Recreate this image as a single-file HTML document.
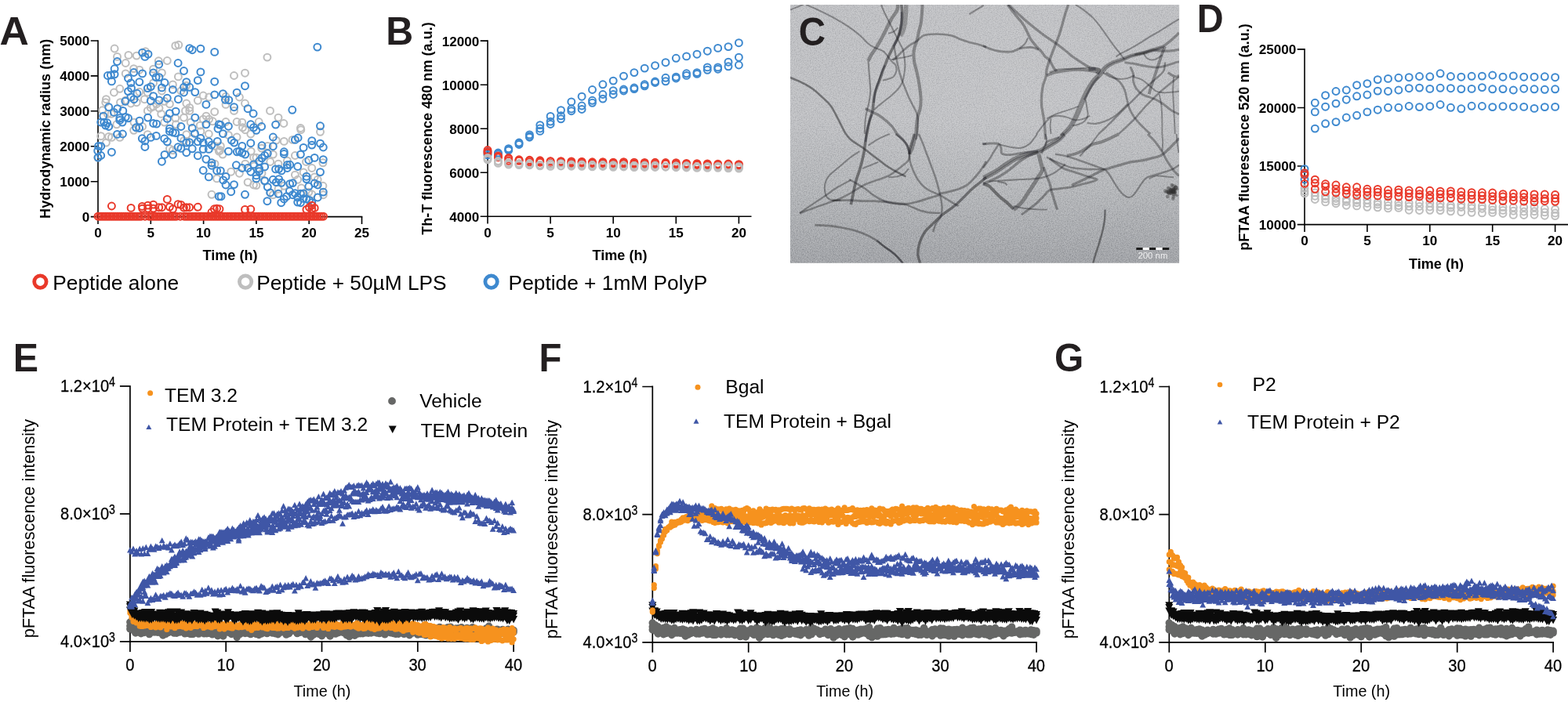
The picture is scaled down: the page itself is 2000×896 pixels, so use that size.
<!DOCTYPE html>
<html lang="en">
<head>
<meta charset="utf-8">
<title>Figure: peptide aggregation kinetics</title>
<style>
html,body{margin:0;padding:0;background:#fff;}
body{width:2000px;height:896px;overflow:hidden;}
svg{display:block;font-family:"Liberation Sans", Arial, Helvetica, sans-serif;}
</style>
</head>
<body>
<svg width="2000" height="896" viewBox="0 0 2000 896">
<rect width="2000" height="896" fill="#fff"/>
<g id="panel-A">
<path d="M125 51.2V285.9" stroke="#000" stroke-width="1.6" fill="none"/><path d="M115.7 276.6H462.3" stroke="#000" stroke-width="1.6" fill="none"/><text x="114.3" y="283" font-size="17.1" font-weight="bold" text-anchor="end">0</text><text x="114.3" y="238.1" font-size="17.1" font-weight="bold" text-anchor="end">1000</text><text x="114.3" y="193.2" font-size="17.1" font-weight="bold" text-anchor="end">2000</text><text x="114.3" y="148.3" font-size="17.1" font-weight="bold" text-anchor="end">3000</text><text x="114.3" y="103.3" font-size="17.1" font-weight="bold" text-anchor="end">4000</text><text x="114.3" y="58.4" font-size="17.1" font-weight="bold" text-anchor="end">5000</text><text x="125" y="303.2" font-size="17.1" font-weight="bold" text-anchor="middle">0</text><text x="192.3" y="303.2" font-size="17.1" font-weight="bold" text-anchor="middle">5</text><text x="259.6" y="303.2" font-size="17.1" font-weight="bold" text-anchor="middle">10</text><text x="326.9" y="303.2" font-size="17.1" font-weight="bold" text-anchor="middle">15</text><text x="394.2" y="303.2" font-size="17.1" font-weight="bold" text-anchor="middle">20</text><text x="461.5" y="303.2" font-size="17.1" font-weight="bold" text-anchor="middle">25</text><path d="M115.7 231.7H125M115.7 186.8H125M115.7 141.8H125M115.7 96.9H125M115.7 52H125M192.3 276.6V285.9M259.6 276.6V285.9M326.9 276.6V285.9M394.2 276.6V285.9M461.5 276.6V285.9" stroke="#000" stroke-width="1.6" fill="none"/><text x="293.5" y="332" font-size="18.1" font-weight="bold" text-anchor="middle">Time (h)</text><text x="64.2" y="164.3" font-size="18.1" font-weight="bold" text-anchor="middle" transform="rotate(-90 64.2 164.3)">Hydrodynamic radius (nm)</text><g fill="none" stroke="#BEBEBE" stroke-width="2.0"><circle cx="146.1" cy="62" r="4.45"/><circle cx="223.8" cy="58.4" r="4.45"/><circle cx="227.8" cy="57.3" r="4.45"/><circle cx="149.5" cy="72.4" r="4.45"/><circle cx="163.9" cy="70.4" r="4.45"/><circle cx="174.2" cy="71.1" r="4.45"/><circle cx="185.6" cy="65.8" r="4.45"/><circle cx="160.2" cy="80.5" r="4.45"/><circle cx="213.3" cy="77.5" r="4.45"/><circle cx="170.6" cy="87.6" r="4.45"/><circle cx="177.8" cy="89.2" r="4.45"/><circle cx="160.2" cy="93.9" r="4.45"/><circle cx="195.6" cy="88.1" r="4.45"/><circle cx="206.4" cy="92.9" r="4.45"/><circle cx="202.3" cy="77.8" r="4.45"/><circle cx="227.4" cy="97.9" r="4.45"/><circle cx="220.4" cy="107.9" r="4.45"/><circle cx="195.6" cy="105.9" r="4.45"/><circle cx="152.8" cy="113.3" r="4.45"/><circle cx="145.4" cy="118" r="4.45"/><circle cx="135.4" cy="126.7" r="4.45"/><circle cx="134.7" cy="130.7" r="4.45"/><circle cx="177.8" cy="117.3" r="4.45"/><circle cx="188.3" cy="118" r="4.45"/><circle cx="206.4" cy="116" r="4.45"/><circle cx="230.9" cy="116" r="4.45"/><circle cx="237.8" cy="109.3" r="4.45"/><circle cx="259.2" cy="122" r="4.45"/><circle cx="266.6" cy="124" r="4.45"/><circle cx="252.3" cy="128.3" r="4.45"/><circle cx="184.3" cy="126.7" r="4.45"/><circle cx="174.2" cy="130.7" r="4.45"/><circle cx="166.9" cy="132" r="4.45"/><circle cx="153.5" cy="130.7" r="4.45"/><circle cx="160.2" cy="128" r="4.45"/><circle cx="216.4" cy="132.7" r="4.45"/><circle cx="209.7" cy="129.3" r="4.45"/><circle cx="199.7" cy="132.7" r="4.45"/><circle cx="192.3" cy="137.4" r="4.45"/><circle cx="203" cy="138.1" r="4.45"/><circle cx="188.3" cy="141.4" r="4.45"/><circle cx="205.7" cy="145.4" r="4.45"/><circle cx="195.6" cy="136" r="4.45"/><circle cx="237.8" cy="132" r="4.45"/><circle cx="241.8" cy="137.4" r="4.45"/><circle cx="241.8" cy="141.4" r="4.45"/><circle cx="236.5" cy="141.4" r="4.45"/><circle cx="273.7" cy="142.7" r="4.45"/><circle cx="234.5" cy="150.1" r="4.45"/><circle cx="223.8" cy="150.8" r="4.45"/><circle cx="263" cy="148.1" r="4.45"/><circle cx="259.2" cy="152.1" r="4.45"/><circle cx="266.6" cy="152.1" r="4.45"/><circle cx="271.3" cy="154.8" r="4.45"/><circle cx="142.1" cy="145.4" r="4.45"/><circle cx="130.7" cy="140.7" r="4.45"/><circle cx="137.4" cy="145.4" r="4.45"/><circle cx="148.8" cy="158.8" r="4.45"/><circle cx="170.9" cy="156.1" r="4.45"/><circle cx="181.6" cy="161.5" r="4.45"/><circle cx="209.7" cy="156.1" r="4.45"/><circle cx="224.4" cy="158.8" r="4.45"/><circle cx="243.2" cy="156.1" r="4.45"/><circle cx="255.2" cy="160.1" r="4.45"/><circle cx="340.9" cy="73.1" r="4.45"/><circle cx="312.5" cy="93.2" r="4.45"/><circle cx="298.5" cy="96.5" r="4.45"/><circle cx="305.4" cy="124" r="4.45"/><circle cx="288" cy="123.3" r="4.45"/><circle cx="312.5" cy="132" r="4.45"/><circle cx="288" cy="133.4" r="4.45"/><circle cx="298.5" cy="141.4" r="4.45"/><circle cx="344.5" cy="141.4" r="4.45"/><circle cx="355" cy="150.1" r="4.45"/><circle cx="361.9" cy="157.5" r="4.45"/><circle cx="330.2" cy="155.5" r="4.45"/><circle cx="302.1" cy="155.5" r="4.45"/><circle cx="308.8" cy="156.1" r="4.45"/><circle cx="288" cy="155.5" r="4.45"/><circle cx="383.4" cy="163.5" r="4.45"/><circle cx="309.5" cy="162.8" r="4.45"/><circle cx="128.7" cy="173.7" r="4.45"/><circle cx="135.4" cy="182.1" r="4.45"/><circle cx="142.4" cy="175.4" r="4.45"/><circle cx="138.7" cy="174.4" r="4.45"/><circle cx="152.8" cy="175.4" r="4.45"/><circle cx="170.6" cy="166.3" r="4.45"/><circle cx="188.3" cy="171.7" r="4.45"/><circle cx="124.7" cy="201.1" r="4.45"/><circle cx="220.4" cy="191.8" r="4.45"/><circle cx="216.4" cy="189.8" r="4.45"/><circle cx="237.8" cy="171.7" r="4.45"/><circle cx="255.9" cy="167.7" r="4.45"/><circle cx="266.3" cy="171" r="4.45"/><circle cx="274" cy="209.2" r="4.45"/><circle cx="276.6" cy="227.9" r="4.45"/><circle cx="270" cy="248.3" r="4.45"/><circle cx="234.5" cy="179.7" r="4.45"/><circle cx="245.2" cy="177" r="4.45"/><circle cx="274" cy="186.4" r="4.45"/><circle cx="279.3" cy="193.1" r="4.45"/><circle cx="291.4" cy="172.4" r="4.45"/><circle cx="302.1" cy="175" r="4.45"/><circle cx="319.8" cy="171" r="4.45"/><circle cx="312.8" cy="165.7" r="4.45"/><circle cx="383.8" cy="165.7" r="4.45"/><circle cx="408.5" cy="168.3" r="4.45"/><circle cx="284" cy="197.1" r="4.45"/><circle cx="320.2" cy="193.1" r="4.45"/><circle cx="326.9" cy="201.1" r="4.45"/><circle cx="323.5" cy="201.1" r="4.45"/><circle cx="348.3" cy="197.1" r="4.45"/><circle cx="344.7" cy="206.5" r="4.45"/><circle cx="362.3" cy="180.4" r="4.45"/><circle cx="352.3" cy="179.1" r="4.45"/><circle cx="376.4" cy="198.5" r="4.45"/><circle cx="373.1" cy="178.4" r="4.45"/><circle cx="390.5" cy="206.5" r="4.45"/><circle cx="397.8" cy="214.5" r="4.45"/><circle cx="411.9" cy="207.8" r="4.45"/><circle cx="294.7" cy="219.2" r="4.45"/><circle cx="305.4" cy="221.2" r="4.45"/><circle cx="316.1" cy="232.6" r="4.45"/><circle cx="323.5" cy="236" r="4.45"/><circle cx="326.9" cy="236.6" r="4.45"/><circle cx="337.6" cy="231.3" r="4.45"/><circle cx="376.4" cy="223.2" r="4.45"/><circle cx="387.1" cy="219.9" r="4.45"/><circle cx="401.2" cy="225.9" r="4.45"/><circle cx="405.2" cy="229.3" r="4.45"/><circle cx="411.9" cy="237.3" r="4.45"/><circle cx="348.3" cy="248.7" r="4.45"/><circle cx="344.9" cy="246" r="4.45"/><circle cx="393.8" cy="245.3" r="4.45"/><circle cx="397.8" cy="248" r="4.45"/><circle cx="412.3" cy="248.7" r="4.45"/><circle cx="355" cy="209.2" r="4.45"/><circle cx="366.4" cy="205.2" r="4.45"/><circle cx="379.7" cy="229.3" r="4.45"/><circle cx="355" cy="241.3" r="4.45"/><circle cx="362.3" cy="237.3" r="4.45"/><circle cx="334" cy="221.2" r="4.45"/><circle cx="333.6" cy="189.1" r="4.45"/><circle cx="341.3" cy="186.4" r="4.45"/><circle cx="281.3" cy="186.4" r="4.45"/><circle cx="280.7" cy="191.8" r="4.45"/><circle cx="312.8" cy="209.2" r="4.45"/><circle cx="384.4" cy="240" r="4.45"/><circle cx="324.2" cy="211.9" r="4.45"/></g><g fill="none" stroke="#3E89CF" stroke-width="2.0"><circle cx="181.6" cy="67.1" r="4.45"/><circle cx="189" cy="69.1" r="4.45"/><circle cx="184.9" cy="72.4" r="4.45"/><circle cx="149.5" cy="78.5" r="4.45"/><circle cx="146.1" cy="87.8" r="4.45"/><circle cx="137.4" cy="96.5" r="4.45"/><circle cx="141.4" cy="95.9" r="4.45"/><circle cx="146.1" cy="94.8" r="4.45"/><circle cx="142.4" cy="103.9" r="4.45"/><circle cx="170.6" cy="92.5" r="4.45"/><circle cx="181.6" cy="93.9" r="4.45"/><circle cx="195.6" cy="92.9" r="4.45"/><circle cx="199" cy="98.6" r="4.45"/><circle cx="203" cy="98.6" r="4.45"/><circle cx="202.7" cy="82.2" r="4.45"/><circle cx="227.1" cy="80.5" r="4.45"/><circle cx="234.5" cy="90.5" r="4.45"/><circle cx="255.9" cy="62.1" r="4.45"/><circle cx="241.8" cy="61.7" r="4.45"/><circle cx="245.2" cy="63.7" r="4.45"/><circle cx="273.7" cy="66.4" r="4.45"/><circle cx="255.9" cy="91.9" r="4.45"/><circle cx="252.3" cy="102.6" r="4.45"/><circle cx="273.7" cy="104.2" r="4.45"/><circle cx="163.5" cy="99.9" r="4.45"/><circle cx="166.9" cy="105.9" r="4.45"/><circle cx="177.8" cy="104.6" r="4.45"/><circle cx="210" cy="105.5" r="4.45"/><circle cx="206.4" cy="111.9" r="4.45"/><circle cx="192.3" cy="110.6" r="4.45"/><circle cx="188.3" cy="112.6" r="4.45"/><circle cx="167.5" cy="112.6" r="4.45"/><circle cx="163.5" cy="116.6" r="4.45"/><circle cx="174.9" cy="119.3" r="4.45"/><circle cx="220.4" cy="114.4" r="4.45"/><circle cx="237.8" cy="104.6" r="4.45"/><circle cx="234.5" cy="111.3" r="4.45"/><circle cx="241.8" cy="111.3" r="4.45"/><circle cx="234.5" cy="118" r="4.45"/><circle cx="248.8" cy="117.6" r="4.45"/><circle cx="273.7" cy="120.9" r="4.45"/><circle cx="195.6" cy="122.7" r="4.45"/><circle cx="166.9" cy="124" r="4.45"/><circle cx="170.9" cy="126.7" r="4.45"/><circle cx="159.8" cy="129.3" r="4.45"/><circle cx="192.3" cy="128.7" r="4.45"/><circle cx="203" cy="128" r="4.45"/><circle cx="213.3" cy="125.3" r="4.45"/><circle cx="227.4" cy="126.7" r="4.45"/><circle cx="262.9" cy="133.4" r="4.45"/><circle cx="138.7" cy="136.7" r="4.45"/><circle cx="149.7" cy="138.7" r="4.45"/><circle cx="145.4" cy="143.4" r="4.45"/><circle cx="156.8" cy="141.4" r="4.45"/><circle cx="131.8" cy="148.1" r="4.45"/><circle cx="152.8" cy="150.8" r="4.45"/><circle cx="156.1" cy="156.1" r="4.45"/><circle cx="160.2" cy="149.4" r="4.45"/><circle cx="163.5" cy="150.8" r="4.45"/><circle cx="152.8" cy="153.4" r="4.45"/><circle cx="128.7" cy="156.1" r="4.45"/><circle cx="132.7" cy="156.1" r="4.45"/><circle cx="136.7" cy="156.8" r="4.45"/><circle cx="134.7" cy="160.1" r="4.45"/><circle cx="138.7" cy="161.5" r="4.45"/><circle cx="178" cy="154.1" r="4.45"/><circle cx="188.6" cy="150.1" r="4.45"/><circle cx="195.6" cy="157.5" r="4.45"/><circle cx="199.7" cy="158.1" r="4.45"/><circle cx="216.4" cy="144.7" r="4.45"/><circle cx="224.2" cy="142.1" r="4.45"/><circle cx="213.3" cy="151.4" r="4.45"/><circle cx="248.8" cy="150.1" r="4.45"/><circle cx="262.9" cy="158.8" r="4.45"/><circle cx="230.9" cy="161.5" r="4.45"/><circle cx="173.6" cy="162.8" r="4.45"/><circle cx="177.6" cy="163.5" r="4.45"/><circle cx="245.2" cy="163.5" r="4.45"/><circle cx="216.4" cy="164.2" r="4.45"/><circle cx="279.3" cy="158.8" r="4.45"/><circle cx="278" cy="164.2" r="4.45"/><circle cx="404.8" cy="60.1" r="4.45"/><circle cx="312.5" cy="109.7" r="4.45"/><circle cx="302.1" cy="118.2" r="4.45"/><circle cx="284.4" cy="119.6" r="4.45"/><circle cx="287.4" cy="127.3" r="4.45"/><circle cx="291.8" cy="127.7" r="4.45"/><circle cx="298.5" cy="136.7" r="4.45"/><circle cx="316.1" cy="138.7" r="4.45"/><circle cx="323.1" cy="145" r="4.45"/><circle cx="372.8" cy="140.3" r="4.45"/><circle cx="351.6" cy="159.1" r="4.45"/><circle cx="319.8" cy="158.8" r="4.45"/><circle cx="323.5" cy="162.8" r="4.45"/><circle cx="333.6" cy="161.5" r="4.45"/><circle cx="291.4" cy="161.2" r="4.45"/><circle cx="281.3" cy="159.5" r="4.45"/><circle cx="408.5" cy="160.8" r="4.45"/><circle cx="149.5" cy="171.4" r="4.45"/><circle cx="156.4" cy="171" r="4.45"/><circle cx="181.3" cy="176.8" r="4.45"/><circle cx="184.9" cy="180" r="4.45"/><circle cx="192.3" cy="175.4" r="4.45"/><circle cx="199.3" cy="173.4" r="4.45"/><circle cx="184.9" cy="187.5" r="4.45"/><circle cx="209.7" cy="177" r="4.45"/><circle cx="213.3" cy="180.8" r="4.45"/><circle cx="142.4" cy="194.2" r="4.45"/><circle cx="125.6" cy="186.4" r="4.45"/><circle cx="128.7" cy="186.7" r="4.45"/><circle cx="124.7" cy="192.4" r="4.45"/><circle cx="128.7" cy="198.5" r="4.45"/><circle cx="125.1" cy="201.1" r="4.45"/><circle cx="210" cy="197.4" r="4.45"/><circle cx="220.4" cy="197.4" r="4.45"/><circle cx="206.4" cy="206.2" r="4.45"/><circle cx="220.4" cy="169" r="4.45"/><circle cx="223.8" cy="169.7" r="4.45"/><circle cx="216.4" cy="167.7" r="4.45"/><circle cx="230.9" cy="176.4" r="4.45"/><circle cx="227.1" cy="187.8" r="4.45"/><circle cx="230.9" cy="189.4" r="4.45"/><circle cx="237.8" cy="182.1" r="4.45"/><circle cx="241.6" cy="181.7" r="4.45"/><circle cx="237.8" cy="194.7" r="4.45"/><circle cx="245.2" cy="189.8" r="4.45"/><circle cx="248.5" cy="170.4" r="4.45"/><circle cx="252.3" cy="180.8" r="4.45"/><circle cx="255.9" cy="176.4" r="4.45"/><circle cx="259.2" cy="190.4" r="4.45"/><circle cx="259.2" cy="182.1" r="4.45"/><circle cx="266.3" cy="180.8" r="4.45"/><circle cx="266.3" cy="190.4" r="4.45"/><circle cx="270" cy="185.1" r="4.45"/><circle cx="252.3" cy="198.7" r="4.45"/><circle cx="262.9" cy="203.2" r="4.45"/><circle cx="270" cy="207.8" r="4.45"/><circle cx="270" cy="211.2" r="4.45"/><circle cx="259.2" cy="217.5" r="4.45"/><circle cx="266.3" cy="225.9" r="4.45"/><circle cx="276.6" cy="217.9" r="4.45"/><circle cx="277.3" cy="180.4" r="4.45"/><circle cx="279.3" cy="250.7" r="4.45"/><circle cx="284.4" cy="170.6" r="4.45"/><circle cx="295.4" cy="179.1" r="4.45"/><circle cx="298.7" cy="182.1" r="4.45"/><circle cx="291.4" cy="193.1" r="4.45"/><circle cx="319.8" cy="182.7" r="4.45"/><circle cx="308.8" cy="186.4" r="4.45"/><circle cx="305.4" cy="193.1" r="4.45"/><circle cx="308.8" cy="195.1" r="4.45"/><circle cx="312.8" cy="197.1" r="4.45"/><circle cx="302.4" cy="193.8" r="4.45"/><circle cx="334" cy="185.8" r="4.45"/><circle cx="348.3" cy="175" r="4.45"/><circle cx="348.3" cy="186.7" r="4.45"/><circle cx="341.3" cy="195.8" r="4.45"/><circle cx="337.6" cy="198.5" r="4.45"/><circle cx="334" cy="201.8" r="4.45"/><circle cx="330.6" cy="205.8" r="4.45"/><circle cx="323.5" cy="209.9" r="4.45"/><circle cx="301.4" cy="210.8" r="4.45"/><circle cx="308.8" cy="214.5" r="4.45"/><circle cx="316.1" cy="214.5" r="4.45"/><circle cx="319.8" cy="219.2" r="4.45"/><circle cx="330.6" cy="215.2" r="4.45"/><circle cx="330.6" cy="218.6" r="4.45"/><circle cx="337.6" cy="212.9" r="4.45"/><circle cx="326.9" cy="223.9" r="4.45"/><circle cx="326.9" cy="227.9" r="4.45"/><circle cx="281.3" cy="217.9" r="4.45"/><circle cx="288" cy="225.5" r="4.45"/><circle cx="284.7" cy="229.9" r="4.45"/><circle cx="288" cy="236" r="4.45"/><circle cx="298.5" cy="235.6" r="4.45"/><circle cx="294.7" cy="244.7" r="4.45"/><circle cx="312.5" cy="248.3" r="4.45"/><circle cx="282" cy="250.7" r="4.45"/><circle cx="337.6" cy="230.6" r="4.45"/><circle cx="341.3" cy="238.6" r="4.45"/><circle cx="344.7" cy="246" r="4.45"/><circle cx="340.9" cy="256.7" r="4.45"/><circle cx="348.3" cy="229.3" r="4.45"/><circle cx="352.3" cy="232.6" r="4.45"/><circle cx="355.6" cy="228.6" r="4.45"/><circle cx="359" cy="233.3" r="4.45"/><circle cx="351.6" cy="215.9" r="4.45"/><circle cx="355.6" cy="215.6" r="4.45"/><circle cx="359" cy="217.9" r="4.45"/><circle cx="355" cy="247.3" r="4.45"/><circle cx="366.4" cy="210.5" r="4.45"/><circle cx="369.7" cy="210.3" r="4.45"/><circle cx="366.4" cy="214.5" r="4.45"/><circle cx="362.3" cy="193.8" r="4.45"/><circle cx="362.3" cy="196.5" r="4.45"/><circle cx="376.4" cy="178.4" r="4.45"/><circle cx="380.1" cy="176" r="4.45"/><circle cx="387.1" cy="188.4" r="4.45"/><circle cx="383.4" cy="197.1" r="4.45"/><circle cx="379.7" cy="212.5" r="4.45"/><circle cx="393.8" cy="204.5" r="4.45"/><circle cx="401.2" cy="201.4" r="4.45"/><circle cx="412.3" cy="203.6" r="4.45"/><circle cx="397.8" cy="179.7" r="4.45"/><circle cx="397.8" cy="185.1" r="4.45"/><circle cx="408.5" cy="183.1" r="4.45"/><circle cx="412.3" cy="188" r="4.45"/><circle cx="408.5" cy="219.6" r="4.45"/><circle cx="390.9" cy="225.2" r="4.45"/><circle cx="390.9" cy="228.6" r="4.45"/><circle cx="393.8" cy="238" r="4.45"/><circle cx="401.2" cy="234" r="4.45"/><circle cx="405.2" cy="236" r="4.45"/><circle cx="369.7" cy="234.6" r="4.45"/><circle cx="373.3" cy="233.6" r="4.45"/><circle cx="369.4" cy="244" r="4.45"/><circle cx="373.3" cy="248.7" r="4.45"/><circle cx="376.4" cy="246.7" r="4.45"/><circle cx="383.4" cy="247.3" r="4.45"/><circle cx="387.1" cy="246.9" r="4.45"/><circle cx="365.7" cy="250.7" r="4.45"/><circle cx="362.3" cy="254" r="4.45"/><circle cx="358.7" cy="258.7" r="4.45"/><circle cx="379.7" cy="252" r="4.45"/><circle cx="379.7" cy="258.1" r="4.45"/><circle cx="383.4" cy="258.7" r="4.45"/><circle cx="387.1" cy="253.4" r="4.45"/><circle cx="390.9" cy="254" r="4.45"/><circle cx="394.5" cy="255.4" r="4.45"/><circle cx="397.8" cy="258.7" r="4.45"/><circle cx="405.2" cy="252" r="4.45"/><circle cx="412.3" cy="245.1" r="4.45"/><circle cx="326.9" cy="166.3" r="4.45"/></g><g fill="none" stroke="#E9392A" stroke-width="2.0"><circle cx="125" cy="276.2" r="4.45"/><circle cx="127.5" cy="276.2" r="4.45"/><circle cx="130" cy="276.2" r="4.45"/><circle cx="132.5" cy="276.2" r="4.45"/><circle cx="135" cy="276.2" r="4.45"/><circle cx="137.5" cy="276.2" r="4.45"/><circle cx="140" cy="276.2" r="4.45"/><circle cx="142.5" cy="276.2" r="4.45"/><circle cx="145" cy="276.2" r="4.45"/><circle cx="147.5" cy="276.2" r="4.45"/><circle cx="150" cy="276.2" r="4.45"/><circle cx="152.5" cy="276.2" r="4.45"/><circle cx="155" cy="276.2" r="4.45"/><circle cx="157.5" cy="276.2" r="4.45"/><circle cx="160" cy="276.2" r="4.45"/><circle cx="162.5" cy="276.2" r="4.45"/><circle cx="165" cy="276.2" r="4.45"/><circle cx="167.5" cy="276.2" r="4.45"/><circle cx="170" cy="276.2" r="4.45"/><circle cx="172.5" cy="276.2" r="4.45"/><circle cx="175" cy="276.2" r="4.45"/><circle cx="177.5" cy="276.2" r="4.45"/><circle cx="180" cy="276.2" r="4.45"/><circle cx="185" cy="276.2" r="4.45"/><circle cx="190" cy="276.2" r="4.45"/><circle cx="192.5" cy="276.2" r="4.45"/><circle cx="195" cy="276.2" r="4.45"/><circle cx="197.5" cy="276.2" r="4.45"/><circle cx="200" cy="276.2" r="4.45"/><circle cx="202.5" cy="276.2" r="4.45"/><circle cx="205" cy="276.2" r="4.45"/><circle cx="207.5" cy="276.2" r="4.45"/><circle cx="210" cy="276.2" r="4.45"/><circle cx="212.5" cy="276.2" r="4.45"/><circle cx="215" cy="276.2" r="4.45"/><circle cx="217.5" cy="276.2" r="4.45"/><circle cx="220" cy="276.2" r="4.45"/><circle cx="222.5" cy="276.2" r="4.45"/><circle cx="225" cy="276.2" r="4.45"/><circle cx="230" cy="276.2" r="4.45"/><circle cx="235" cy="276.2" r="4.45"/><circle cx="237.5" cy="276.2" r="4.45"/><circle cx="240" cy="276.2" r="4.45"/><circle cx="242.5" cy="276.2" r="4.45"/><circle cx="245" cy="276.2" r="4.45"/><circle cx="247.5" cy="276.2" r="4.45"/><circle cx="250" cy="276.2" r="4.45"/><circle cx="252.5" cy="276.2" r="4.45"/><circle cx="255" cy="276.2" r="4.45"/><circle cx="257.5" cy="276.2" r="4.45"/><circle cx="260" cy="276.2" r="4.45"/><circle cx="262.5" cy="276.2" r="4.45"/><circle cx="265" cy="276.2" r="4.45"/><circle cx="267.5" cy="276.2" r="4.45"/><circle cx="270" cy="276.2" r="4.45"/><circle cx="272.5" cy="276.2" r="4.45"/><circle cx="275" cy="276.2" r="4.45"/><circle cx="277.5" cy="276.2" r="4.45"/><circle cx="280" cy="276.2" r="4.45"/><circle cx="282.5" cy="276.2" r="4.45"/><circle cx="285" cy="276.2" r="4.45"/><circle cx="287.5" cy="276.2" r="4.45"/><circle cx="290" cy="276.2" r="4.45"/><circle cx="292.5" cy="276.2" r="4.45"/><circle cx="295" cy="276.2" r="4.45"/><circle cx="297.5" cy="276.2" r="4.45"/><circle cx="300" cy="276.2" r="4.45"/><circle cx="302.5" cy="276.2" r="4.45"/><circle cx="305" cy="276.2" r="4.45"/><circle cx="307.5" cy="276.2" r="4.45"/><circle cx="310" cy="276.2" r="4.45"/><circle cx="312.5" cy="276.2" r="4.45"/><circle cx="315" cy="276.2" r="4.45"/><circle cx="317.5" cy="276.2" r="4.45"/><circle cx="320" cy="276.2" r="4.45"/><circle cx="322.5" cy="276.2" r="4.45"/><circle cx="325" cy="276.2" r="4.45"/><circle cx="327.5" cy="276.2" r="4.45"/><circle cx="330" cy="276.2" r="4.45"/><circle cx="332.5" cy="276.2" r="4.45"/><circle cx="335" cy="276.2" r="4.45"/><circle cx="337.5" cy="276.2" r="4.45"/><circle cx="340" cy="276.2" r="4.45"/><circle cx="342.5" cy="276.2" r="4.45"/><circle cx="345" cy="276.2" r="4.45"/><circle cx="347.5" cy="276.2" r="4.45"/><circle cx="350" cy="276.2" r="4.45"/><circle cx="352.5" cy="276.2" r="4.45"/><circle cx="355" cy="276.2" r="4.45"/><circle cx="357.5" cy="276.2" r="4.45"/><circle cx="360" cy="276.2" r="4.45"/><circle cx="362.5" cy="276.2" r="4.45"/><circle cx="365" cy="276.2" r="4.45"/><circle cx="367.5" cy="276.2" r="4.45"/><circle cx="370" cy="276.2" r="4.45"/><circle cx="372.5" cy="276.2" r="4.45"/><circle cx="375" cy="276.2" r="4.45"/><circle cx="377.5" cy="276.2" r="4.45"/><circle cx="380" cy="276.2" r="4.45"/><circle cx="382.5" cy="276.2" r="4.45"/><circle cx="385" cy="276.2" r="4.45"/><circle cx="387.5" cy="276.2" r="4.45"/><circle cx="390" cy="276.2" r="4.45"/><circle cx="392.5" cy="276.2" r="4.45"/><circle cx="395" cy="276.2" r="4.45"/><circle cx="397.5" cy="276.2" r="4.45"/><circle cx="400" cy="276.2" r="4.45"/><circle cx="402.5" cy="276.2" r="4.45"/><circle cx="405" cy="276.2" r="4.45"/><circle cx="407.5" cy="276.2" r="4.45"/><circle cx="410" cy="276.2" r="4.45"/><circle cx="412.5" cy="276.2" r="4.45"/><circle cx="142.4" cy="263" r="4.45"/><circle cx="167.1" cy="265.4" r="4.45"/><circle cx="181.3" cy="263.4" r="4.45"/><circle cx="181.6" cy="266.1" r="4.45"/><circle cx="188.6" cy="262.1" r="4.45"/><circle cx="188.6" cy="266.1" r="4.45"/><circle cx="195.6" cy="261.1" r="4.45"/><circle cx="195.6" cy="266.1" r="4.45"/><circle cx="202.7" cy="264.7" r="4.45"/><circle cx="206.4" cy="264.7" r="4.45"/><circle cx="213.3" cy="254.4" r="4.45"/><circle cx="216.4" cy="264.1" r="4.45"/><circle cx="220.4" cy="266.8" r="4.45"/><circle cx="227.1" cy="260.7" r="4.45"/><circle cx="230.9" cy="261.4" r="4.45"/><circle cx="234.5" cy="265.1" r="4.45"/><circle cx="237.8" cy="264.7" r="4.45"/><circle cx="241.6" cy="264.7" r="4.45"/><circle cx="252.3" cy="264.3" r="4.45"/><circle cx="273.3" cy="266.8" r="4.45"/><circle cx="276.6" cy="266.1" r="4.45"/><circle cx="270" cy="270.8" r="4.45"/><circle cx="312.5" cy="267.4" r="4.45"/><circle cx="319.8" cy="267" r="4.45"/><circle cx="280" cy="266.8" r="4.45"/><circle cx="390.9" cy="267.4" r="4.45"/><circle cx="394.5" cy="264.7" r="4.45"/><circle cx="397.8" cy="262.1" r="4.45"/><circle cx="397.8" cy="266.8" r="4.45"/><circle cx="401.2" cy="265.4" r="4.45"/></g><text transform="translate(-0.6 56.9) scale(1.03 1)" font-size="50.2" font-weight="bold" fill="#231F20">A</text>
</g>
<g id="panel-B">
<path d="M622 51.3V285.6" stroke="#000" stroke-width="1.6" fill="none"/><path d="M612.7 276.3H958.5" stroke="#000" stroke-width="1.6" fill="none"/><text x="611.3" y="282.7" font-size="17.1" font-weight="bold" text-anchor="end">4000</text><text x="611.3" y="226.7" font-size="17.1" font-weight="bold" text-anchor="end">6000</text><text x="611.3" y="170.6" font-size="17.1" font-weight="bold" text-anchor="end">8000</text><text x="611.3" y="114.6" font-size="17.1" font-weight="bold" text-anchor="end">10000</text><text x="611.3" y="58.6" font-size="17.1" font-weight="bold" text-anchor="end">12000</text><text x="622" y="302.9" font-size="17.1" font-weight="bold" text-anchor="middle">0</text><text x="702.1" y="302.9" font-size="17.1" font-weight="bold" text-anchor="middle">5</text><text x="782.2" y="302.9" font-size="17.1" font-weight="bold" text-anchor="middle">10</text><text x="862.3" y="302.9" font-size="17.1" font-weight="bold" text-anchor="middle">15</text><text x="942.4" y="302.9" font-size="17.1" font-weight="bold" text-anchor="middle">20</text><path d="M612.7 220.3H622M612.7 164.2H622M612.7 108.2H622M612.7 52.1H622M702.1 276.3V285.6M782.2 276.3V285.6M862.3 276.3V285.6M942.4 276.3V285.6" stroke="#000" stroke-width="1.6" fill="none"/><text x="790.5" y="332" font-size="18.1" font-weight="bold" text-anchor="middle">Time (h)</text><text x="551" y="164" font-size="18.1" font-weight="bold" text-anchor="middle" transform="rotate(-90 551 164)">Th-T fluorescence 480 nm (a.u.)</text><g fill="none" stroke="#3E89CF" stroke-width="2.0"><circle cx="622" cy="193.5" r="4.45"/><circle cx="635.4" cy="195" r="4.45"/><circle cx="648.7" cy="189.7" r="4.45"/><circle cx="662" cy="182" r="4.45"/><circle cx="675.4" cy="171.9" r="4.45"/><circle cx="688.8" cy="159.6" r="4.45"/><circle cx="702.1" cy="148.4" r="4.45"/><circle cx="715.5" cy="140.6" r="4.45"/><circle cx="728.8" cy="129.9" r="4.45"/><circle cx="742.1" cy="123.2" r="4.45"/><circle cx="755.5" cy="114.5" r="4.45"/><circle cx="768.9" cy="107.8" r="4.45"/><circle cx="782.2" cy="103.1" r="4.45"/><circle cx="795.5" cy="97.1" r="4.45"/><circle cx="808.9" cy="92.6" r="4.45"/><circle cx="822.2" cy="87.1" r="4.45"/><circle cx="835.6" cy="83.7" r="4.45"/><circle cx="849" cy="79.7" r="4.45"/><circle cx="862.3" cy="74.3" r="4.45"/><circle cx="875.6" cy="71.9" r="4.45"/><circle cx="889" cy="69.2" r="4.45"/><circle cx="902.3" cy="65.2" r="4.45"/><circle cx="915.7" cy="61.4" r="4.45"/><circle cx="929" cy="59.6" r="4.45"/><circle cx="942.4" cy="54.7" r="4.45"/><circle cx="622" cy="196" r="4.45"/><circle cx="635.4" cy="196" r="4.45"/><circle cx="648.7" cy="191" r="4.45"/><circle cx="662" cy="183" r="4.45"/><circle cx="675.4" cy="174" r="4.45"/><circle cx="688.8" cy="164" r="4.45"/><circle cx="702.1" cy="155.1" r="4.45"/><circle cx="715.5" cy="147.8" r="4.45"/><circle cx="728.8" cy="139" r="4.45"/><circle cx="742.1" cy="135" r="4.45"/><circle cx="755.5" cy="128.3" r="4.45"/><circle cx="768.9" cy="120.5" r="4.45"/><circle cx="782.2" cy="115.6" r="4.45"/><circle cx="795.5" cy="114" r="4.45"/><circle cx="808.9" cy="112" r="4.45"/><circle cx="822.2" cy="107.8" r="4.45"/><circle cx="835.6" cy="104" r="4.45"/><circle cx="849" cy="99.3" r="4.45"/><circle cx="862.3" cy="98.2" r="4.45"/><circle cx="875.6" cy="93.8" r="4.45"/><circle cx="889" cy="92.6" r="4.45"/><circle cx="902.3" cy="85.9" r="4.45"/><circle cx="915.7" cy="85.9" r="4.45"/><circle cx="929" cy="79.2" r="4.45"/><circle cx="942.4" cy="73.2" r="4.45"/><circle cx="622" cy="198" r="4.45"/><circle cx="635.4" cy="197" r="4.45"/><circle cx="648.7" cy="192" r="4.45"/><circle cx="662" cy="184.5" r="4.45"/><circle cx="675.4" cy="175.2" r="4.45"/><circle cx="688.8" cy="167.4" r="4.45"/><circle cx="702.1" cy="158.5" r="4.45"/><circle cx="715.5" cy="151.8" r="4.45"/><circle cx="728.8" cy="141.7" r="4.45"/><circle cx="742.1" cy="139.5" r="4.45"/><circle cx="755.5" cy="131.3" r="4.45"/><circle cx="768.9" cy="126.1" r="4.45"/><circle cx="782.2" cy="120.5" r="4.45"/><circle cx="795.5" cy="116" r="4.45"/><circle cx="808.9" cy="113.6" r="4.45"/><circle cx="822.2" cy="109.8" r="4.45"/><circle cx="835.6" cy="105.5" r="4.45"/><circle cx="849" cy="103.8" r="4.45"/><circle cx="862.3" cy="100" r="4.45"/><circle cx="875.6" cy="96.4" r="4.45"/><circle cx="889" cy="94.4" r="4.45"/><circle cx="902.3" cy="89.3" r="4.45"/><circle cx="915.7" cy="88.2" r="4.45"/><circle cx="929" cy="84.8" r="4.45"/><circle cx="942.4" cy="83" r="4.45"/></g><g fill="none" stroke="#E9392A" stroke-width="2.0"><circle cx="622" cy="191.5" r="4.45"/><circle cx="635.4" cy="198.9" r="4.45"/><circle cx="648.7" cy="201.5" r="4.45"/><circle cx="662" cy="203.8" r="4.45"/><circle cx="675.4" cy="204.3" r="4.45"/><circle cx="688.8" cy="204.8" r="4.45"/><circle cx="702.1" cy="206" r="4.45"/><circle cx="715.5" cy="205.7" r="4.45"/><circle cx="728.8" cy="205.9" r="4.45"/><circle cx="742.1" cy="206.4" r="4.45"/><circle cx="755.5" cy="206.8" r="4.45"/><circle cx="768.9" cy="206.6" r="4.45"/><circle cx="782.2" cy="207.1" r="4.45"/><circle cx="795.5" cy="206.7" r="4.45"/><circle cx="808.9" cy="207.2" r="4.45"/><circle cx="822.2" cy="207.4" r="4.45"/><circle cx="835.6" cy="207.3" r="4.45"/><circle cx="849" cy="207.5" r="4.45"/><circle cx="862.3" cy="207.7" r="4.45"/><circle cx="875.6" cy="208.4" r="4.45"/><circle cx="889" cy="208.7" r="4.45"/><circle cx="902.3" cy="208.9" r="4.45"/><circle cx="915.7" cy="209.2" r="4.45"/><circle cx="929" cy="209" r="4.45"/><circle cx="942.4" cy="209.7" r="4.45"/><circle cx="622" cy="193.6" r="4.45"/><circle cx="635.4" cy="200.3" r="4.45"/><circle cx="648.7" cy="202.9" r="4.45"/><circle cx="662" cy="204.6" r="4.45"/><circle cx="675.4" cy="204.9" r="4.45"/><circle cx="688.8" cy="206" r="4.45"/><circle cx="702.1" cy="205.7" r="4.45"/><circle cx="715.5" cy="206.3" r="4.45"/><circle cx="728.8" cy="207.4" r="4.45"/><circle cx="742.1" cy="206.5" r="4.45"/><circle cx="755.5" cy="207.8" r="4.45"/><circle cx="768.9" cy="207.8" r="4.45"/><circle cx="782.2" cy="207.8" r="4.45"/><circle cx="795.5" cy="208.3" r="4.45"/><circle cx="808.9" cy="208.6" r="4.45"/><circle cx="822.2" cy="209" r="4.45"/><circle cx="835.6" cy="208.8" r="4.45"/><circle cx="849" cy="208.8" r="4.45"/><circle cx="862.3" cy="209.1" r="4.45"/><circle cx="875.6" cy="209.2" r="4.45"/><circle cx="889" cy="209.7" r="4.45"/><circle cx="902.3" cy="209.7" r="4.45"/><circle cx="915.7" cy="210.5" r="4.45"/><circle cx="929" cy="209.7" r="4.45"/><circle cx="942.4" cy="210.2" r="4.45"/><circle cx="622" cy="195.2" r="4.45"/><circle cx="635.4" cy="200.9" r="4.45"/><circle cx="648.7" cy="205.3" r="4.45"/><circle cx="662" cy="205.3" r="4.45"/><circle cx="675.4" cy="206.8" r="4.45"/><circle cx="688.8" cy="207.2" r="4.45"/><circle cx="702.1" cy="208.3" r="4.45"/><circle cx="715.5" cy="207.3" r="4.45"/><circle cx="728.8" cy="208.6" r="4.45"/><circle cx="742.1" cy="208.2" r="4.45"/><circle cx="755.5" cy="208.6" r="4.45"/><circle cx="768.9" cy="208.6" r="4.45"/><circle cx="782.2" cy="209.3" r="4.45"/><circle cx="795.5" cy="208.9" r="4.45"/><circle cx="808.9" cy="209.4" r="4.45"/><circle cx="822.2" cy="209.8" r="4.45"/><circle cx="835.6" cy="210.5" r="4.45"/><circle cx="849" cy="209.2" r="4.45"/><circle cx="862.3" cy="210.8" r="4.45"/><circle cx="875.6" cy="210.8" r="4.45"/><circle cx="889" cy="210.5" r="4.45"/><circle cx="902.3" cy="211" r="4.45"/><circle cx="915.7" cy="210.9" r="4.45"/><circle cx="929" cy="211.9" r="4.45"/><circle cx="942.4" cy="211.6" r="4.45"/></g><g fill="none" stroke="#BEBEBE" stroke-width="2.0"><circle cx="622" cy="201.4" r="4.45"/><circle cx="635.4" cy="205.5" r="4.45"/><circle cx="648.7" cy="207.5" r="4.45"/><circle cx="662" cy="208.5" r="4.45"/><circle cx="675.4" cy="208.8" r="4.45"/><circle cx="688.8" cy="210.2" r="4.45"/><circle cx="702.1" cy="209" r="4.45"/><circle cx="715.5" cy="208.6" r="4.45"/><circle cx="728.8" cy="210" r="4.45"/><circle cx="742.1" cy="210.2" r="4.45"/><circle cx="755.5" cy="210.5" r="4.45"/><circle cx="768.9" cy="210.5" r="4.45"/><circle cx="782.2" cy="210.6" r="4.45"/><circle cx="795.5" cy="211" r="4.45"/><circle cx="808.9" cy="211.4" r="4.45"/><circle cx="822.2" cy="211" r="4.45"/><circle cx="835.6" cy="211.2" r="4.45"/><circle cx="849" cy="212.2" r="4.45"/><circle cx="862.3" cy="211.8" r="4.45"/><circle cx="875.6" cy="211.5" r="4.45"/><circle cx="889" cy="212.8" r="4.45"/><circle cx="902.3" cy="212.4" r="4.45"/><circle cx="915.7" cy="212.1" r="4.45"/><circle cx="929" cy="212" r="4.45"/><circle cx="942.4" cy="212.7" r="4.45"/><circle cx="622" cy="202.7" r="4.45"/><circle cx="635.4" cy="206.5" r="4.45"/><circle cx="648.7" cy="208.4" r="4.45"/><circle cx="662" cy="209.6" r="4.45"/><circle cx="675.4" cy="210.7" r="4.45"/><circle cx="688.8" cy="210.5" r="4.45"/><circle cx="702.1" cy="210.3" r="4.45"/><circle cx="715.5" cy="211.3" r="4.45"/><circle cx="728.8" cy="211.2" r="4.45"/><circle cx="742.1" cy="211.7" r="4.45"/><circle cx="755.5" cy="212" r="4.45"/><circle cx="768.9" cy="211.6" r="4.45"/><circle cx="782.2" cy="211.8" r="4.45"/><circle cx="795.5" cy="212" r="4.45"/><circle cx="808.9" cy="211.8" r="4.45"/><circle cx="822.2" cy="212.5" r="4.45"/><circle cx="835.6" cy="212.9" r="4.45"/><circle cx="849" cy="212.7" r="4.45"/><circle cx="862.3" cy="212.7" r="4.45"/><circle cx="875.6" cy="212.8" r="4.45"/><circle cx="889" cy="212.8" r="4.45"/><circle cx="902.3" cy="213" r="4.45"/><circle cx="915.7" cy="213.3" r="4.45"/><circle cx="929" cy="213.3" r="4.45"/><circle cx="942.4" cy="213.5" r="4.45"/><circle cx="622" cy="203.9" r="4.45"/><circle cx="635.4" cy="208.4" r="4.45"/><circle cx="648.7" cy="210.1" r="4.45"/><circle cx="662" cy="210.6" r="4.45"/><circle cx="675.4" cy="210.7" r="4.45"/><circle cx="688.8" cy="211.8" r="4.45"/><circle cx="702.1" cy="212.4" r="4.45"/><circle cx="715.5" cy="212" r="4.45"/><circle cx="728.8" cy="212.2" r="4.45"/><circle cx="742.1" cy="212.3" r="4.45"/><circle cx="755.5" cy="212.9" r="4.45"/><circle cx="768.9" cy="212.5" r="4.45"/><circle cx="782.2" cy="213.3" r="4.45"/><circle cx="795.5" cy="213" r="4.45"/><circle cx="808.9" cy="213.6" r="4.45"/><circle cx="822.2" cy="213.5" r="4.45"/><circle cx="835.6" cy="213.5" r="4.45"/><circle cx="849" cy="213.2" r="4.45"/><circle cx="862.3" cy="213.7" r="4.45"/><circle cx="875.6" cy="214" r="4.45"/><circle cx="889" cy="214.4" r="4.45"/><circle cx="902.3" cy="214.4" r="4.45"/><circle cx="915.7" cy="214.3" r="4.45"/><circle cx="929" cy="214.8" r="4.45"/><circle cx="942.4" cy="215.1" r="4.45"/></g><text transform="translate(492.3 57.2) scale(0.955 1)" font-size="50.6" font-weight="bold" fill="#231F20">B</text>
</g>
<g id="panel-C">
<defs><clipPath id="temclip"><rect x="1008" y="6" width="496.1" height="329.8"/></clipPath><linearGradient id="tembg" x1="0" y1="0" x2="0" y2="1"><stop offset="0" stop-color="#C0C1C4"/><stop offset="0.45" stop-color="#C0C1C4"/><stop offset="0.72" stop-color="#B4B6B9"/><stop offset="1" stop-color="#A3A5A9"/></linearGradient><radialGradient id="temhi" gradientUnits="userSpaceOnUse" cx="1300" cy="120" r="230"><stop offset="0" stop-color="#fff" stop-opacity="0.05"/><stop offset="1" stop-color="#fff" stop-opacity="0"/></radialGradient><filter id="grain" x="0" y="0" width="100%" height="100%" color-interpolation-filters="sRGB"><feTurbulence type="fractalNoise" baseFrequency="0.75" numOctaves="2" seed="4" result="n"/><feColorMatrix in="n" type="matrix" values="0.9 0 0 0 0.05  0.9 0 0 0 0.05  0.9 0 0 0 0.05  0 0 0 0 1"/><feGaussianBlur stdDeviation="0.35"/></filter><filter id="soft" x="-5%" y="-5%" width="110%" height="110%"><feGaussianBlur stdDeviation="0.45"/></filter></defs><g clip-path="url(#temclip)" style="isolation:isolate"><rect x="1008" y="6" width="496.1" height="329.8" fill="url(#tembg)"/><rect x="1008" y="6" width="496.1" height="329.8" fill="url(#temhi)"/><rect x="1008" y="6" width="496.1" height="329.8" filter="url(#grain)" style="mix-blend-mode:soft-light" opacity="0.8"/><g fill="none" stroke="#202024" stroke-linecap="butt" stroke-linejoin="round" filter="url(#soft)"><path d="M1028.3 6C1031 7.2 1039 10.6 1044.8 13.4C1050.6 16.1 1057.1 19.2 1063.2 22.6C1069.4 25.9 1076.1 29.9 1081.6 33.6C1087.2 37.3 1092.1 41 1096.4 44.7C1100.7 48.3 1104 52.9 1107.4 55.7C1110.8 58.5 1113.5 59.7 1116.6 61.2C1119.7 62.8 1123.4 63.4 1125.8 64.9C1128.3 66.4 1129.5 68.3 1131.3 70.4C1133.2 72.6 1135 75.6 1136.9 77.8C1138.7 79.9 1141.3 81.2 1142.4 83.3C1143.5 85.5 1143.8 88.2 1143.3 90.7C1142.8 93.1 1141.3 96.4 1139.6 98C1137.9 99.7 1135.5 100 1133.2 100.8C1130.9 101.6 1127 102.3 1125.8 102.6" stroke-width="2" stroke-opacity="0.4"/><path d="M1008 12.4C1009.5 11.8 1014.4 9.8 1017.2 8.8C1020 7.7 1023.3 6.5 1024.6 6" stroke-width="1.9" stroke-opacity="0.4"/><path d="M1008 99C1010.5 100 1018.1 103.1 1022.7 105.4C1027.3 107.7 1031.3 109.7 1035.6 112.8C1039.9 115.8 1044.5 120.1 1048.5 123.8C1052.5 127.5 1056.5 130.9 1059.5 134.9C1062.6 138.9 1064.5 143.2 1066.9 147.8C1069.4 152.4 1072.3 158.6 1074.3 162.5C1076.3 166.3 1077 168.3 1078.9 170.9C1080.7 173.6 1082.7 176 1085.3 178.3C1087.9 180.6 1091.8 182.9 1094.5 184.8C1097.3 186.6 1099.1 187.4 1101.9 189.4C1104.6 191.4 1107.7 194.1 1111.1 196.7C1114.5 199.3 1118.5 202.2 1122.1 205C1125.8 207.8 1129.5 210.8 1133.2 213.3C1136.9 215.7 1140.5 217.7 1144.2 219.7C1147.9 221.7 1153.4 224.3 1155.3 225.3" stroke-width="2.5" stroke-opacity="0.5"/><path d="M1145.2 6C1145 7.2 1145.6 10.3 1144.2 13.4C1142.8 16.4 1139 20.7 1136.9 24.4C1134.7 28.1 1133.2 31.8 1131.3 35.5C1129.5 39.1 1128 42.5 1125.8 46.5C1123.7 50.5 1120.9 55.4 1118.5 59.4C1116 63.4 1112.9 67.4 1111.1 70.4C1109.3 73.5 1108 76.6 1107.4 77.8" stroke-width="4.5" stroke-opacity="0.4"/><path d="M1107.4 77.8C1107.6 79.6 1108 84.9 1108.3 88.8C1108.6 92.8 1108.9 97.1 1109.3 101.7C1109.6 106.3 1110.3 111.5 1110.2 116.5C1110 121.4 1109.1 126.9 1108.3 131.2C1107.6 135.5 1106.3 138.5 1105.6 142.2C1104.8 145.9 1104.2 148.5 1103.7 153.3C1103.3 158.1 1103 168 1102.8 170.9" stroke-width="2.1" stroke-opacity="0.4"/><path d="M1149.8 6C1149.9 7.8 1150.7 13.1 1150.7 17C1150.7 21 1150.4 25.6 1149.8 29.9C1149.1 34.2 1147.9 39.4 1147 42.8C1146.1 46.2 1145.6 47.1 1144.2 50.2C1142.8 53.3 1140.5 57.5 1138.7 61.2C1136.9 64.9 1134.7 68.9 1133.2 72.3C1131.6 75.6 1130.7 78.4 1129.5 81.5C1128.3 84.5 1127 87.3 1125.8 90.7C1124.6 94.1 1123.4 98.4 1122.1 101.7C1120.9 105.1 1119.5 107.9 1118.5 110.9C1117.4 114 1116.5 116.5 1115.7 120.1C1114.9 123.8 1114.3 129.3 1113.9 133C1113.4 136.7 1113.7 138.9 1112.9 142.2C1112.2 145.6 1110.5 148.5 1109.3 153.3C1108 158.1 1106.5 166.2 1105.6 170.9C1104.6 175.7 1104.3 178 1103.7 182C1103.1 186 1102.6 190.9 1101.9 194.9C1101.2 198.9 1100.4 202.2 1099.5 205.9C1098.6 209.6 1097.5 213.3 1096.4 217C1095.2 220.7 1093.8 224.3 1092.7 228C1091.6 231.7 1090.7 235.7 1089.9 239.1C1089.2 242.4 1088.8 244.6 1088.1 248.3C1087.3 251.9 1085.8 259 1085.3 261.2" stroke-width="3.6" stroke-opacity="0.5"/><path d="M1150.1 15.2C1150.1 17.7 1150.4 25.3 1149.9 29.9C1149.4 34.5 1148.1 39.4 1147.2 42.8C1146.3 46.2 1145.6 47.4 1144.4 50.2C1143.2 52.9 1140.6 57.9 1139.8 59.4" stroke-width="2.6" stroke-opacity="0.4"/><path d="M1128.6 83.3C1127.8 85.2 1125.4 90.5 1124 94.4C1122.5 98.2 1121.2 102.6 1119.9 106.3C1118.7 110 1117.5 112.3 1116.6 116.5C1115.7 120.6 1114.8 128.7 1114.4 131.2" stroke-width="2.1" stroke-opacity="0.4"/><path d="M1112 145.9C1111.5 147.4 1110 151.4 1108.9 155.1C1107.8 158.8 1106.4 163.7 1105.6 168C1104.8 172.3 1104.3 178.7 1104.1 180.9" stroke-width="2.4" stroke-opacity="0.4"/><path d="M1155.8 6C1155.7 7.8 1155.6 13.1 1155.3 17C1155 21 1154.8 26.1 1154.2 29.9C1153.6 33.8 1152.6 37.4 1151.6 40.1C1150.6 42.7 1148.8 44.7 1148.3 45.6" stroke-width="5.7" stroke-opacity="0.3"/><path d="M1176.4 6C1176.4 7.8 1176.2 13.1 1175.9 17C1175.6 21 1175.3 25.9 1174.6 29.9C1173.9 33.9 1172.6 37.6 1171.8 41C1171.1 44.4 1170.9 46.8 1170 50.2C1169.1 53.6 1167.1 58.2 1166.3 61.2C1165.6 64.3 1165.4 65.5 1165.4 68.6C1165.4 71.7 1165.7 76 1166.3 79.6C1166.9 83.3 1168.2 86.7 1169.1 90.7C1170 94.7 1171.1 99.3 1171.8 103.6C1172.6 107.9 1173.2 112.5 1173.7 116.5C1174.1 120.4 1174.6 123.8 1174.6 127.5C1174.6 131.2 1174.3 135.2 1173.7 138.5C1173.1 141.9 1171.7 144.4 1170.9 147.8C1170.2 151.1 1169.5 154.9 1169.1 158.8C1168.6 162.7 1168.6 167.4 1168.2 170.9C1167.7 174.5 1167.1 177.1 1166.3 180.2C1165.6 183.2 1164.5 186.6 1163.6 189.4C1162.6 192.1 1161 195.5 1160.4 196.7" stroke-width="4" stroke-opacity="0.4"/><path d="M1138.7 76.9C1139.6 76.1 1142.1 74.3 1144.2 72.3C1146.4 70.3 1148.8 67.4 1151.6 64.9C1154.4 62.5 1157.7 59.7 1160.8 57.5C1163.9 55.4 1167.2 54 1170 52C1172.8 50 1174.3 47 1177.4 45.6C1180.4 44.2 1184.4 44 1188.4 43.7C1192.4 43.4 1197 43.4 1201.3 43.7C1205.6 44 1210.2 44.5 1214.2 45.6C1218.2 46.7 1221.5 48.8 1225.2 50.2C1228.9 51.6 1232.6 52.8 1236.3 53.9C1240 54.9 1243.7 55.6 1247.3 56.6C1250.9 57.7 1256.2 59.7 1258 60.3" stroke-width="2.6" stroke-opacity="0.4"/><path d="M1124 6C1124.6 7.5 1126.1 11.8 1127.7 15.2C1129.2 18.6 1131.3 22.6 1133.2 26.3C1135 29.9 1136.9 33.6 1138.7 37.3C1140.5 41 1142.7 45.3 1144.2 48.3C1145.8 51.4 1146.7 53.3 1147.9 55.7C1149.1 58.2 1150.7 60.3 1151.6 63.1C1152.5 65.8 1153 68.9 1153.4 72.3C1153.9 75.6 1154.4 79.6 1154.4 83.3C1154.4 87 1154 90.7 1153.4 94.4C1152.8 98 1151.9 102.3 1150.7 105.4C1149.4 108.5 1148.4 110 1146.1 112.8C1143.8 115.5 1139.9 119.2 1136.9 122C1133.8 124.7 1130.7 126.9 1127.7 129.3C1124.6 131.8 1120.6 134.9 1118.5 136.7C1116.3 138.5 1115.4 139.8 1114.8 140.4" stroke-width="2" stroke-opacity="0.4"/><path d="M1140.5 59.4C1140.9 61.2 1141.6 66.4 1142.4 70.4C1143.2 74.4 1144.2 79.3 1145.2 83.3C1146.1 87.3 1146.8 90.7 1147.9 94.4C1149 98 1150.4 102 1151.6 105.4C1152.8 108.8 1154 111.5 1155.3 114.6C1156.5 117.7 1157.4 120.4 1159 123.8C1160.5 127.2 1162.8 131.5 1164.5 134.9C1166.2 138.2 1168 141 1169.1 144.1C1170.2 147.1 1170.8 148.8 1170.9 153.3C1171.1 157.8 1170.5 166.8 1170 170.9C1169.5 175.1 1168.5 177.1 1168.2 178.3" stroke-width="2.4" stroke-opacity="0.4"/><path d="M1236.3 18C1237.8 17 1242.4 14.3 1245.5 12.4C1248.5 10.6 1253.2 7.8 1254.7 6.9" stroke-width="2" stroke-opacity="0.4"/><path d="M1103.7 138.5C1105.3 139.3 1109.9 141.6 1112.9 143.2C1116 144.7 1119.1 145.8 1122.1 147.8C1125.2 149.7 1128.6 152.7 1131.3 155.1C1134.1 157.6 1136.6 159.8 1138.7 162.5C1140.9 165.1 1142.1 168.3 1144.2 170.9C1146.4 173.6 1149.4 175.9 1151.6 178.3C1153.7 180.8 1155.7 182.9 1157.1 185.7C1158.5 188.4 1159.4 193.3 1159.9 194.9" stroke-width="3.3" stroke-opacity="0.4"/><path d="M1136.9 76C1138.7 75.6 1144.5 74.7 1147.9 74.1C1151.3 73.5 1154.5 72.9 1157.1 72.3C1159.7 71.7 1162.5 70.7 1163.6 70.4" stroke-width="1.8" stroke-opacity="0.4"/><path d="M1133.2 42.8C1134.4 42.4 1138.6 41.3 1140.5 40.1C1142.5 38.8 1144.4 36.2 1145.2 35.5" stroke-width="1.8" stroke-opacity="0.4"/><path d="M1254 58.5C1255.8 59.2 1261.1 61.8 1265 63.1C1269 64.3 1273.6 65.4 1277.9 65.8C1282.2 66.3 1287.1 66.4 1290.8 65.8C1294.5 65.2 1297 63 1300 62.1C1303.1 61.3 1306.3 60.9 1309.2 60.7C1312.1 60.4 1314.9 60.2 1317.5 60.7C1320.1 61.1 1323.6 63 1324.9 63.4" stroke-width="2.8" stroke-opacity="0.4"/><path d="M1300 62.1C1301.3 61.1 1305.5 58 1307.4 55.7C1309.2 53.4 1310.5 49.6 1311.1 48.3" stroke-width="2" stroke-opacity="0.4"/><path d="M1285.3 6C1286.2 7.2 1288.7 10.6 1290.8 13.4C1293 16.1 1295.7 19.5 1298.2 22.6C1300.6 25.6 1303.4 28.4 1305.5 31.8C1307.7 35.1 1309.5 39.8 1311.1 42.8C1312.6 45.9 1312.9 47.4 1314.8 50.2C1316.6 52.9 1320 56.9 1322.1 59.4C1324.3 61.8 1325.8 62.8 1327.6 64.9C1329.5 67.1 1331.3 70.3 1333.2 72.3C1335 74.3 1336.8 74.4 1338.7 76.9C1340.5 79.3 1342.7 84.7 1344.2 87C1345.7 89.3 1347.3 90.1 1347.9 90.7" stroke-width="3.3" stroke-opacity="0.4"/><path d="M1286.2 6C1288.5 8.1 1295.3 14.6 1300 18.9C1304.8 23.2 1309.5 27.5 1314.8 31.8C1320 36.1 1326.1 40.8 1331.3 44.7C1336.5 48.5 1341.8 51.7 1346 54.8C1350.3 57.9 1353.4 60.2 1357.1 63.1C1360.8 66 1364.5 69.5 1368.1 72.3C1371.8 75 1375.8 77.5 1379.2 79.6C1382.6 81.8 1385.3 83.8 1388.4 85.2C1391.5 86.5 1396.1 87.5 1397.6 87.9" stroke-width="3.1" stroke-opacity="0.4"/><path d="M1362.6 6C1362 7.8 1360.2 13.1 1358.9 17C1357.7 21 1356.5 25.6 1355.3 29.9C1354 34.2 1353 38.7 1351.6 42.8C1350.2 47 1348.5 50.8 1347 54.8C1345.4 58.8 1343.9 62.6 1342.4 66.8C1340.8 70.9 1339 76 1337.8 79.6C1336.5 83.3 1335.6 85.8 1335 88.8C1334.4 91.9 1334.8 94.7 1334.1 98C1333.3 101.4 1331.3 105.1 1330.4 109.1C1329.5 113.1 1328.9 117.7 1328.6 122C1328.3 126.3 1328.3 130.9 1328.6 134.9C1328.9 138.9 1329.8 142.2 1330.4 145.9C1331 149.6 1331.8 152.8 1332.2 157C1332.7 161.1 1332.9 167.4 1333.2 170.9C1333.4 174.5 1333.5 177.1 1333.5 178.3" stroke-width="3.3" stroke-opacity="0.4"/><path d="M1371.8 6C1373.7 7.2 1379.2 10.6 1382.9 13.4C1386.5 16.1 1390.5 19.2 1393.9 22.6C1397.3 25.9 1400 29.6 1403.1 33.6C1406.2 37.6 1409.3 42.2 1412.3 46.5C1415.4 50.8 1418.8 55.7 1421.5 59.4C1424.3 63.1 1426.7 65.8 1428.9 68.6C1431 71.4 1433.5 74.7 1434.4 76" stroke-width="2" stroke-opacity="0.4"/><path d="M1353 172.8C1354.7 171.1 1360.1 166.3 1363 162.5C1365.9 158.6 1368.2 153.9 1370.3 149.6C1372.5 145.3 1374 141 1375.9 136.7C1377.7 132.4 1379.6 127.8 1381.4 123.8C1383.2 119.8 1384.8 116.5 1386.9 112.8C1389.1 109.1 1391.8 104.8 1394.3 101.7C1396.7 98.7 1399.1 97.2 1401.6 94.4C1404.2 91.5 1406.7 87.4 1409.7 84.8C1412.8 82.2 1416.2 80.5 1419.7 78.9C1423.2 77.3 1427 76.6 1430.7 75.2C1434.4 73.9 1438.1 72 1441.8 70.8C1445.5 69.6 1449.1 69 1452.8 68C1456.5 67.1 1460.2 66.4 1463.9 65.3C1467.5 64.2 1471.5 62.7 1474.9 61.6C1478.3 60.5 1481 60.5 1484.1 58.8C1487.2 57.2 1490 54.4 1493.3 51.7C1496.6 48.9 1502.2 43.7 1504 42.1" stroke-width="3.3" stroke-opacity="0.4"/><path d="M1356.4 172.8C1358 171.1 1363.4 166.7 1366.3 162.8C1369.2 159 1371.5 154.2 1373.7 150C1375.8 145.7 1377.3 141.7 1379.2 137.4C1381 133.2 1382.9 128.5 1384.7 124.6C1386.5 120.6 1388.1 117.1 1390.2 113.5C1392.4 109.9 1395.2 105.8 1397.6 102.8C1400 99.8 1402.3 98.2 1404.6 95.5C1406.9 92.8 1408.9 89 1411.6 86.6C1414.2 84.2 1417.2 82.6 1420.4 81.1C1423.7 79.6 1427.5 78.8 1431.1 77.4C1434.7 76 1438.2 73.9 1441.8 72.6C1445.4 71.4 1449.1 70.6 1452.8 69.7C1456.5 68.7 1460.2 68 1463.9 66.9C1467.5 65.9 1471.5 64.5 1474.9 63.4C1478.3 62.4 1482.6 61 1484.1 60.5" stroke-width="3.1" stroke-opacity="0.4"/><path d="M1382.9 127.5C1383.8 125.7 1386.4 120.1 1388.4 116.5C1390.4 112.8 1392.7 108.5 1394.8 105.4C1397 102.3 1400.2 99.3 1401.3 98" stroke-width="2.6" stroke-opacity="0.4"/><path d="M1335 96.2C1336.8 95.6 1341.8 93.6 1346 92.5C1350.3 91.5 1355.9 90.4 1360.8 89.8C1365.7 89.1 1370.9 88.8 1375.5 88.8C1380.1 88.8 1384.4 89.3 1388.4 89.8C1392.4 90.2 1397.6 91.3 1399.4 91.6" stroke-width="3.8" stroke-opacity="0.4"/><path d="M1338.7 92.5C1340.5 91.9 1345.4 89.6 1349.7 88.8C1354 88.1 1359.5 88.2 1364.5 87.9C1369.4 87.6 1374.9 87.2 1379.2 87C1383.5 86.8 1388.4 86.7 1390.2 86.6" stroke-width="2" stroke-opacity="0.4"/><path d="M1388.4 88.5C1389.6 88.4 1393.5 87.8 1395.8 87.9C1398.1 88 1401.6 88.1 1402.2 89.2C1402.8 90.3 1399.9 93.5 1399.4 94.4" stroke-width="4.3" stroke-opacity="0.5"/><path d="M1434.4 79.6C1436.6 79.9 1443 80.7 1447.3 81.5C1451.6 82.2 1455.6 83.5 1460.2 84.2C1464.8 85 1470.6 86.1 1474.9 86.1C1479.2 86.1 1482.3 85.2 1486 84.2C1489.6 83.3 1494 81.5 1497 80.6C1500 79.6 1502.8 79 1504 78.7" stroke-width="2.8" stroke-opacity="0.4"/><path d="M1504 24.4C1501.9 25.6 1495.7 29.2 1491.5 31.8C1487.2 34.4 1482.9 37.4 1478.6 40.1C1474.3 42.7 1470 44.8 1465.7 47.4C1461.4 50 1457.1 53.1 1452.8 55.7C1448.5 58.3 1443.6 61.1 1439.9 63.1C1436.3 65.1 1433.5 66.1 1430.7 67.7C1428 69.2 1424.6 71.5 1423.4 72.3" stroke-width="2" stroke-opacity="0.4"/><path d="M1504 63.1C1502.2 63.4 1497.2 64.6 1493.3 64.9C1489.4 65.2 1484.4 65.1 1480.4 64.9C1476.4 64.8 1473.1 63.5 1469.4 64C1465.7 64.4 1462 66.8 1458.3 67.7C1454.7 68.6 1449.1 69.2 1447.3 69.5" stroke-width="3.1" stroke-opacity="0.4"/><path d="M1458.3 67.7C1459.3 68.9 1461.4 73.7 1463.9 75C1466.3 76.4 1470 76.7 1473.1 76C1476.1 75.2 1480.7 71.4 1482.3 70.4" stroke-width="1.9" stroke-opacity="0.4"/><path d="M1410.5 92.5C1412 93.4 1416.6 95.9 1419.7 98C1422.8 100.2 1426.4 102.6 1428.9 105.4C1431.3 108.2 1433 111.2 1434.4 114.6C1435.8 118 1436.3 122 1437.2 125.7C1438.1 129.3 1438.6 133 1439.9 136.7C1441.3 140.4 1443.3 144.4 1445.5 147.8C1447.6 151.1 1450.1 153.9 1452.8 157C1455.6 160 1459.6 163.8 1462 166.2C1464.5 168.5 1466.6 170.2 1467.5 170.9" stroke-width="2.6" stroke-opacity="0.4"/><path d="M1441.8 85.2C1442.4 86.7 1444.8 91.3 1445.5 94.4C1446.1 97.4 1444.8 100.5 1445.5 103.6C1446.1 106.6 1447.3 110 1449.1 112.8C1451 115.5 1453.7 118.3 1456.5 120.1C1459.3 122 1462.6 122.6 1465.7 123.8C1468.8 125 1471.8 126 1474.9 127.5C1478 129 1481 130.9 1484.1 133C1487.2 135.2 1490 138.2 1493.3 140.4C1496.6 142.5 1502.2 145 1504 145.9" stroke-width="2.8" stroke-opacity="0.4"/><path d="M1486 59.4C1485.3 60.9 1483.5 65.2 1482.3 68.6C1481 72 1479.8 76 1478.6 79.6C1477.4 83.3 1476.1 87 1474.9 90.7C1473.7 94.4 1472.5 98 1471.2 101.7C1470 105.4 1468.5 109.7 1467.5 112.8C1466.6 115.8 1466 118.9 1465.7 120.1" stroke-width="3.8" stroke-opacity="0.4"/><path d="M1401.3 170.9C1402.8 169.5 1407.4 165.4 1410.5 162.5C1413.5 159.5 1416.3 156.7 1419.7 153.3C1423.1 149.9 1427.4 145.6 1430.7 142.2C1434.1 138.9 1436.9 136.1 1439.9 133C1443 130 1446.1 126.9 1449.1 123.8C1452.2 120.8 1455.3 117.5 1458.3 114.6C1461.4 111.7 1464.8 108.8 1467.5 106.3C1470.3 103.9 1472.2 102.5 1474.9 99.9C1477.7 97.3 1482.3 94.1 1484.1 90.7C1486 87.3 1485.7 81.5 1486 79.6" stroke-width="2.4" stroke-opacity="0.4"/><path d="M1427 170.9C1428.9 169.2 1434.4 164.2 1438.1 160.6C1441.8 157.1 1445.5 153.6 1449.1 149.6C1452.8 145.6 1456.8 140.4 1460.2 136.7C1463.6 133 1466.3 130.6 1469.4 127.5C1472.5 124.4 1475.2 121.4 1478.6 118.3C1482 115.2 1486.3 111.9 1489.6 109.1C1493 106.3 1496.5 103.6 1498.8 101.7C1501.2 99.9 1503.1 98.7 1504 98" stroke-width="2.4" stroke-opacity="0.4"/><path d="M1322.1 170.9C1323.6 168.9 1328.3 162.4 1331.3 158.8C1334.4 155.2 1337.5 151.4 1340.5 149.6C1343.6 147.8 1346.4 147.8 1349.7 147.8C1353.1 147.8 1357.1 148.7 1360.8 149.6C1364.5 150.5 1368.1 153 1371.8 153.3C1375.5 153.6 1379.8 152.4 1382.9 151.4C1385.9 150.5 1389 148.4 1390.2 147.8" stroke-width="2" stroke-opacity="0.4"/><path d="M1335 151.4C1336.8 150.5 1342.4 147.4 1346 145.9C1349.7 144.4 1353.4 143.5 1357.1 142.2C1360.8 141 1365.1 139.6 1368.1 138.5C1371.2 137.5 1374.3 136.2 1375.5 135.8" stroke-width="1.8" stroke-opacity="0.4"/><path d="M1384.7 127.5C1385 129.3 1386.1 135.2 1386.5 138.5C1387 141.9 1388.1 145 1387.5 147.8C1386.9 150.5 1384.9 153.3 1382.9 155.1C1380.9 157 1378 157.9 1375.5 158.8C1373 159.7 1369.4 160.3 1368.1 160.6" stroke-width="2" stroke-opacity="0.4"/><path d="M1386.5 157C1388.4 157.1 1393.9 158.2 1397.6 157.9C1401.3 157.6 1405 156.5 1408.6 155.1C1412.3 153.7 1416.3 151.7 1419.7 149.6C1423.1 147.4 1425.8 145 1428.9 142.2C1432 139.5 1436.6 134.6 1438.1 133" stroke-width="2.1" stroke-opacity="0.4"/><path d="M1497 98C1496.9 101.1 1496.1 110.3 1496.1 116.5C1496.1 122.6 1496.7 128.7 1497 134.9C1497.3 141 1497.6 147.3 1497.9 153.3C1498.2 159.3 1498.7 168 1498.8 170.9" stroke-width="1.8" stroke-opacity="0.4"/><path d="M1478.6 120.1C1479.1 122.6 1480.7 129.3 1481.4 134.9C1482 140.4 1482.1 147.3 1482.3 153.3C1482.4 159.3 1482.3 168 1482.3 170.9" stroke-width="1.8" stroke-opacity="0.4"/><path d="M1489.6 92.5C1490.6 93.1 1493.3 95.3 1495.2 96.2C1497 97.1 1499.2 98 1500.7 98C1502.2 98 1503.4 96.5 1504 96.2" stroke-width="3.1" stroke-opacity="0.4"/><path d="M1406.8 92.5C1408.3 93.4 1412.6 96.7 1416 98C1419.4 99.4 1423.4 100.5 1427 100.8C1430.7 101.1 1434.7 100.7 1438.1 99.9C1441.5 99.1 1445.8 96.8 1447.3 96.2" stroke-width="1.9" stroke-opacity="0.4"/><path d="M1445.5 98C1447.3 98.7 1453.1 99.9 1456.5 101.7C1459.9 103.6 1462.6 106.6 1465.7 109.1C1468.8 111.5 1471.8 114.9 1474.9 116.5C1478 118 1480.4 118.1 1484.1 118.3C1487.8 118.5 1493.7 117.7 1497 117.4C1500.3 117.1 1502.8 116.6 1504 116.5" stroke-width="1.9" stroke-opacity="0.4"/><path d="M1340.5 170.9C1340.4 169.2 1339.6 163.9 1339.6 160.6C1339.6 157.4 1340.4 153 1340.5 151.4" stroke-width="1.8" stroke-opacity="0.4"/><path d="M1096.4 193.1C1094.5 194.3 1089 197.7 1085.3 200.5C1081.6 203.2 1078 206.6 1074.3 209.7C1070.6 212.7 1066.3 216.1 1063.2 218.9C1060.2 221.6 1057.7 223.5 1055.9 226.2C1054 229 1052.8 232.4 1052.2 235.4C1051.6 238.5 1051.7 241.9 1052.2 244.6C1052.6 247.4 1053.4 250.2 1054.9 252C1056.5 253.8 1058.5 255.1 1061.4 255.7C1064.3 256.3 1070.6 255.7 1072.4 255.7" stroke-width="2" stroke-opacity="0.4"/><path d="M1061.4 255.7C1063.2 255.7 1068.4 255.7 1072.4 255.7C1076.4 255.7 1080.7 255.5 1085.3 255.7C1089.9 255.8 1095.1 256.5 1100 256.6C1105 256.8 1109.9 256.5 1114.8 256.6C1119.7 256.8 1124.6 257.1 1129.5 257.5C1134.4 258 1139.9 258.9 1144.2 259.4C1148.5 259.8 1151 260.6 1155.3 260.3C1159.6 260 1165.1 258.8 1170 257.5C1174.9 256.3 1180.1 254.3 1184.7 252.9C1189.3 251.5 1195.5 249.9 1197.6 249.2" stroke-width="2.8" stroke-opacity="0.4"/><path d="M1118.5 307.2C1120 308.5 1124.6 312.3 1127.7 314.6C1130.7 316.9 1134.1 318.9 1136.9 321C1139.6 323.2 1141.8 325 1144.2 327.5C1146.7 330 1150.4 334.5 1151.6 335.9" stroke-width="2.4" stroke-opacity="0.4"/><path d="M1020 272.3C1022 271.5 1027.8 269.2 1031.9 267.6C1036.1 266.1 1040.5 264.6 1044.8 263C1049.1 261.5 1053.4 260 1057.7 258.4C1062 256.9 1066.6 255.5 1070.6 253.8C1074.6 252.2 1078.3 250.2 1081.6 248.3C1085 246.5 1087.2 244.9 1090.8 242.8C1094.5 240.6 1099.1 237.6 1103.7 235.4C1108.3 233.3 1113.5 231.8 1118.5 229.9C1123.4 228.1 1128.9 226.5 1133.2 224.4C1137.5 222.2 1140.9 219.5 1144.2 217C1147.6 214.6 1151 211.8 1153.4 209.7C1155.9 207.5 1157.9 206.6 1159 204.1C1160 201.7 1159.7 196.5 1159.9 194.9" stroke-width="2.4" stroke-opacity="0.4"/><path d="M1020 271.9C1021.7 270.7 1026.6 267.3 1030.1 264.9C1033.6 262.5 1037.5 260 1041.1 257.5C1044.8 255.1 1048.2 252.9 1052.2 250.2C1056.2 247.4 1060.8 243.7 1065.1 241C1069.4 238.2 1074.6 235.4 1078 233.6C1081.3 231.8 1084.1 230.5 1085.3 229.9" stroke-width="2.1" stroke-opacity="0.4"/><path d="M1083.5 229C1085.3 230.1 1091.1 233.4 1094.5 235.4C1097.9 237.4 1100.7 238.8 1103.7 241C1106.8 243.1 1109.9 246.2 1112.9 248.3C1116 250.5 1118.8 252.2 1122.1 253.8C1125.5 255.5 1129.5 257.4 1133.2 258.4C1136.9 259.5 1140.5 259.8 1144.2 260.3C1147.9 260.7 1151.9 260.4 1155.3 261.2C1158.7 262 1161.4 263.7 1164.5 264.9C1167.5 266.1 1170.3 267.5 1173.7 268.6C1177.1 269.6 1180.4 270.8 1184.7 271.3C1189 271.9 1197 271.8 1199.5 271.9" stroke-width="2.4" stroke-opacity="0.4"/><path d="M1142.4 171C1143.9 172.2 1149.1 175.9 1151.6 178.4C1154 180.8 1155.7 183 1157.1 185.7C1158.5 188.5 1159.3 191.6 1159.9 194.9C1160.5 198.3 1160 202.3 1160.8 206C1161.6 209.7 1162.9 213.3 1164.5 217C1166 220.7 1167.9 224.7 1170 228.1C1172.2 231.4 1174.6 234.7 1177.4 237.3C1180.1 239.9 1183.2 241.9 1186.6 243.7C1189.9 245.6 1194.2 246.6 1197.6 248.3C1201 250 1203.8 252 1206.8 253.8C1209.9 255.7 1213.4 257.8 1216 259.4C1218.6 260.9 1221.4 262.4 1222.5 263" stroke-width="2.4" stroke-opacity="0.4"/><path d="M1166.3 171C1165.9 172.5 1164.5 177.1 1163.6 180.2C1162.6 183.3 1161.4 186.6 1160.8 189.4C1160.2 192.2 1160 195.5 1159.9 196.8" stroke-width="3.3" stroke-opacity="0.5"/><path d="M1171.8 171C1172.8 173.1 1175.5 179.3 1177.4 183.9C1179.2 188.5 1181 193.7 1182.9 198.6C1184.7 203.5 1186.7 208.7 1188.4 213.3C1190.1 217.9 1191.6 221.9 1193 226.2C1194.4 230.5 1195.6 235.1 1196.7 239.1C1197.8 243.1 1198.7 246.5 1199.5 250.2C1200.2 253.8 1201 257.8 1201.3 261.2C1201.6 264.6 1201.6 267.6 1201.3 270.4C1201 273.2 1200.7 275.3 1199.5 277.8C1198.2 280.2 1195.5 282.1 1193.9 285.1C1192.4 288.2 1190.9 294.3 1190.3 296.2" stroke-width="2.4" stroke-opacity="0.4"/><path d="M1258 226.2C1256.5 227.5 1252.2 231.1 1249.2 233.6C1246.2 236 1243 238.2 1240 241C1236.9 243.7 1233.8 247.1 1230.8 250.2C1227.7 253.2 1224.6 256.6 1221.5 259.4C1218.5 262.1 1215.4 264.4 1212.3 266.7C1209.3 269 1205.9 271 1203.1 273.2C1200.4 275.3 1198.2 277.3 1195.8 279.6C1193.3 281.9 1190.9 284.5 1188.4 287C1186 289.4 1183.2 291.6 1181 294.3C1178.9 297.1 1177.1 300.2 1175.5 303.5C1174 306.9 1172.6 310.9 1171.8 314.6C1171.1 318.3 1170.6 322.1 1170.9 325.6C1171.2 329.2 1173.2 334.2 1173.7 335.9" stroke-width="3.3" stroke-opacity="0.5"/><path d="M1197.6 247.4C1199.8 246.9 1206.2 245.7 1210.5 244.6C1214.8 243.6 1219.4 242.5 1223.4 241C1227.4 239.4 1231.1 237.9 1234.4 235.4C1237.8 233 1240.9 229.3 1243.6 226.2C1246.4 223.2 1248.6 220.4 1251 217C1253.4 213.6 1256.8 207.8 1258 206" stroke-width="2.8" stroke-opacity="0.4"/><path d="M1039.3 287.3C1041.8 287.4 1049.1 287.5 1054 287.9C1058.9 288.3 1063.8 289 1068.8 289.7C1073.7 290.5 1078.9 291.4 1083.5 292.5C1088.1 293.6 1092.4 294.8 1096.4 296.2C1100.4 297.6 1103.7 298.9 1107.4 300.8C1111.1 302.6 1115.1 304.9 1118.5 307.2C1121.8 309.5 1124.6 312.3 1127.7 314.6C1130.7 316.9 1134.1 318.9 1136.9 321C1139.6 323.2 1141.8 325 1144.2 327.5C1146.7 330 1150.4 334.5 1151.6 335.9" stroke-width="2.6" stroke-opacity="0.4"/><path d="M1107.4 185.7C1109.3 184.5 1115.1 180.4 1118.5 178.4C1121.8 176.4 1124.9 175 1127.7 173.8C1130.4 172.5 1133.8 171.5 1135 171" stroke-width="1.9" stroke-opacity="0.4"/><path d="M1252.8 183.9L1258 183.5" stroke-width="2.6" stroke-opacity="0.4"/><path d="M1100 215.2C1101.9 214.4 1107.7 212 1111.1 210.6C1114.5 209.2 1118.8 207.5 1120.3 206.9" stroke-width="1.9" stroke-opacity="0.4"/><path d="M1133.2 226.2C1135 226.1 1140.9 226.1 1144.2 225.3C1147.6 224.5 1151 223.3 1153.4 221.6C1155.9 219.9 1158 216.3 1159 215.2" stroke-width="1.9" stroke-opacity="0.4"/><path d="M1357.1 170.3C1355.9 171.5 1352.5 175.5 1349.7 177.6C1347 179.8 1343.6 181.3 1340.5 183.2C1337.5 185 1334.1 187.1 1331.3 188.7C1328.6 190.2 1327.6 191.1 1324 192.4C1320.3 193.6 1314.1 194.5 1309.2 196C1304.3 197.6 1299.1 199.3 1294.5 201.6C1289.9 203.8 1285.6 207.1 1281.6 209.7C1277.6 212.2 1274.3 214.7 1270.6 217C1266.9 219.3 1262.3 221.9 1259.5 223.5C1256.8 225 1254.9 225.8 1254 226.2" stroke-width="3.8" stroke-opacity="0.4"/><path d="M1358.2 172.1C1357 173.3 1353.6 177.3 1350.8 179.5C1348.1 181.7 1344.7 183.5 1341.6 185.4C1338.6 187.3 1335.2 189.3 1332.4 190.9C1329.6 192.4 1328.4 193.3 1324.7 194.6C1320.9 195.9 1314.8 197 1310 198.6C1305.1 200.2 1300.1 201.9 1295.6 204.1C1291.1 206.4 1286.7 209.7 1282.7 212.2C1278.7 214.8 1275.4 217.3 1271.7 219.6C1268 221.9 1263.6 224.3 1260.6 225.9C1257.7 227.5 1255.1 228.6 1254 229.2" stroke-width="3.3" stroke-opacity="0.4"/><path d="M1324 194C1321.5 195.1 1313.5 198.2 1309.2 200.5C1304.9 202.8 1301.9 205.1 1298.2 207.8C1294.5 210.6 1290.8 214.3 1287.1 217C1283.5 219.8 1279.8 222.2 1276.1 224.4C1272.4 226.5 1268.7 228.2 1265 229.9C1261.4 231.6 1255.8 233.7 1254 234.5" stroke-width="3.3" stroke-opacity="0.4"/><path d="M1350.8 175.2C1349.4 175.8 1344.9 177.4 1342.4 178.4C1339.8 179.3 1337.4 179.3 1335.6 181.1C1333.7 183 1332.5 187 1331.3 189.4C1330.1 191.9 1328.9 194.8 1328.4 195.9" stroke-width="2.8" stroke-opacity="0.4"/><path d="M1324.9 196.8C1325.3 198.6 1326.9 204.4 1327.6 207.8C1328.4 211.2 1330.1 214 1329.5 217C1328.9 220.1 1325.8 223.2 1324 226.2C1322.1 229.3 1320.6 232.1 1318.4 235.4C1316.3 238.8 1313.5 242.8 1311.1 246.5C1308.6 250.2 1306.2 254.5 1303.7 257.5C1301.3 260.6 1298.2 263.2 1296.3 264.9C1294.5 266.6 1293.3 267.2 1292.7 267.6" stroke-width="5" stroke-opacity="0.4"/><path d="M1331.3 213.3C1331.9 215.2 1333.8 221 1335 224.4C1336.2 227.8 1337.6 230.2 1338.7 233.6C1339.8 237 1340.5 241.3 1341.4 244.6C1342.4 248 1343.3 250.8 1344.2 253.8C1345.1 256.9 1346.2 260.7 1347 263C1347.7 265.3 1348.5 266.9 1348.8 267.6" stroke-width="3.1" stroke-opacity="0.4"/><path d="M1254 234.5C1255.2 235 1258.9 235.6 1261.4 237.3C1263.8 239 1266.3 242.2 1268.7 244.6C1271.2 247.1 1273.3 249.5 1276.1 252C1278.9 254.5 1282.5 256.9 1285.3 259.4C1288.1 261.8 1291.4 265.5 1292.7 266.7" stroke-width="4" stroke-opacity="0.5"/><path d="M1292.7 263C1294.8 263.5 1300.9 265.1 1305.5 265.8C1310.1 266.5 1315.2 266.8 1320.3 267.1C1325.3 267.4 1333.3 267.6 1335.9 267.6" stroke-width="1.9" stroke-opacity="0.4"/><path d="M1302.8 274.1C1304.5 272.9 1309.7 269.2 1312.9 266.7C1316.1 264.3 1319 262.1 1322.1 259.4C1325.2 256.6 1328.6 252.9 1331.3 250.2C1334.1 247.4 1335.6 244.3 1338.7 242.8C1341.8 241.3 1345.4 241.6 1349.7 241C1354 240.3 1359.5 240 1364.5 239.1C1369.4 238.2 1374.9 236.5 1379.2 235.4C1383.5 234.4 1386.9 233.7 1390.2 232.7C1393.6 231.6 1399.4 230.1 1399.4 229C1399.4 227.9 1393.6 227.3 1390.2 226.2C1386.9 225.2 1382.9 223.8 1379.2 222.5C1375.5 221.3 1371.8 220.1 1368.1 218.9C1364.5 217.6 1360.8 217 1357.1 215.2C1353.4 213.3 1349.1 210 1346 207.8C1343 205.7 1339.9 203.2 1338.7 202.3" stroke-width="2.8" stroke-opacity="0.4"/><path d="M1254 183.9C1255.8 183.7 1261.7 183 1265 183C1268.4 183 1272.3 182.8 1274.3 183.9C1276.2 185 1276.4 187.4 1277 189.4C1277.6 191.4 1276.2 194.5 1277.9 195.9C1279.6 197.2 1283.5 197.7 1287.1 197.7C1290.8 197.7 1295.7 196.5 1300 195.9C1304.3 195.2 1308.9 194.5 1312.9 194C1316.9 193.6 1322.1 193.2 1324 193.1" stroke-width="2.8" stroke-opacity="0.4"/><path d="M1273.3 183.9C1275 184.3 1279.9 185.9 1283.5 186.6C1287 187.4 1291.1 188.2 1294.5 188.5C1297.9 188.8 1300.6 189.3 1303.7 188.5C1306.8 187.7 1310.5 185.7 1312.9 183.9C1315.4 182 1316.7 179.6 1318.4 177.4C1320.1 175.3 1322.3 172.1 1323 171" stroke-width="2" stroke-opacity="0.4"/><path d="M1273.3 184.8C1272.3 186.5 1268.9 191.7 1266.9 194.9C1264.9 198.2 1263.5 200.9 1261.4 204.1C1259.2 207.4 1255.2 212.6 1254 214.3" stroke-width="2.4" stroke-opacity="0.4"/><path d="M1261.4 231.8C1263.2 231.6 1268.1 231.1 1272.4 230.8C1276.7 230.5 1282.2 230.2 1287.1 229.9C1292 229.6 1297 229.2 1301.9 229C1306.8 228.7 1312.3 228.7 1316.6 228.4C1320.9 228.1 1324.3 227.8 1327.6 227.1C1331 226.5 1333.8 225.6 1336.8 224.4C1339.9 223.2 1343.3 221.5 1346 219.8C1348.8 218.1 1351.3 215.9 1353.4 214.3C1355.6 212.6 1358 210.4 1358.9 209.7" stroke-width="2.1" stroke-opacity="0.4"/><path d="M1272.4 231.8C1273.9 232.1 1279.6 232.8 1281.6 233.6C1283.6 234.4 1283.9 235.9 1284.4 236.4" stroke-width="2.1" stroke-opacity="0.4"/><path d="M1346 196.8C1347.9 197.1 1353.1 197.7 1357.1 198.6C1361.1 199.5 1365.7 200.9 1370 202.3C1374.3 203.7 1378.6 205.4 1382.9 206.9C1387.2 208.4 1391.5 210 1395.8 211.5C1400 213 1406.5 215.3 1408.6 216.1" stroke-width="2.4" stroke-opacity="0.4"/><path d="M1367.2 236.4C1369.2 235.4 1375 232.8 1379.2 230.8C1383.3 228.8 1387.8 226.5 1392.1 224.4C1396.4 222.2 1401 219.6 1405 217.9C1408.9 216.3 1412 215.5 1416 214.3C1420 213 1424.6 211.8 1428.9 210.6C1433.2 209.4 1437.5 207.8 1441.8 206.9C1446.1 206 1450.4 205.8 1454.7 205.1C1459 204.3 1463.3 203.4 1467.5 202.3C1471.8 201.2 1476.8 200.5 1480.4 198.6C1484.1 196.8 1486.9 193.7 1489.6 191.3C1492.4 188.8 1494.6 186.3 1497 183.9C1499.4 181.4 1502.8 177.8 1504 176.5" stroke-width="3.3" stroke-opacity="0.4"/><path d="M1335 200.5C1336.8 201.4 1342.4 204.3 1346 206C1349.7 207.7 1353.4 209.2 1357.1 210.6C1360.8 212 1363.8 213.4 1368.1 214.3C1372.4 215.1 1378 215.4 1382.9 215.7C1387.8 216 1393 216 1397.6 216.1C1402.2 216.2 1408.3 216.1 1410.5 216.1" stroke-width="2.4" stroke-opacity="0.4"/><path d="M1427 171C1425.2 171.9 1419.7 174.8 1416 176.5C1412.3 178.2 1408.6 179.9 1405 181.1C1401.3 182.4 1397 182.7 1393.9 183.9C1390.8 185.1 1389 187 1386.5 188.5C1384.1 190 1381.9 191.7 1379.2 193.1C1376.4 194.5 1373 195.9 1370 196.8C1366.9 197.7 1362.3 198.3 1360.8 198.6" stroke-width="3.8" stroke-opacity="0.4"/><path d="M1401.3 171C1400.4 172.2 1397.6 175.9 1395.8 178.4C1393.9 180.8 1392.4 183.3 1390.2 185.7C1388.1 188.2 1385 190.8 1382.9 193.1C1380.7 195.4 1378.3 198.5 1377.3 199.5" stroke-width="2" stroke-opacity="0.4"/><path d="M1410.5 217C1411.4 218.3 1414.2 221.6 1416 224.4C1417.8 227.1 1419.7 230.7 1421.5 233.6C1423.4 236.5 1425.2 239.4 1427 241.9C1428.9 244.3 1430.4 246.6 1432.6 248.3C1434.7 250 1437.8 251.8 1439.9 252C1442.1 252.2 1443.6 250.9 1445.5 249.2C1447.3 247.6 1449.1 244.5 1451 241.9C1452.8 239.3 1454.7 236 1456.5 233.6C1458.3 231.1 1459.9 228.7 1462 227.1C1464.2 225.6 1466.6 225.3 1469.4 224.4C1472.2 223.5 1475.5 222.5 1478.6 221.6C1481.7 220.7 1484.7 219.9 1487.8 218.9C1490.9 217.8 1494.3 216.6 1497 215.2C1499.7 213.8 1502.8 211.3 1504 210.6" stroke-width="2.2" stroke-opacity="0.4"/><path d="M1463.9 171C1465.1 172.2 1468.9 175.8 1471.2 178.4C1473.5 181 1475.7 183.9 1477.7 186.6C1479.7 189.4 1481.5 192 1483.2 194.9C1484.9 197.8 1486.1 201.2 1487.8 204.1C1489.5 207.1 1491.5 209.8 1493.3 212.4C1495.2 215 1497.1 217.8 1498.8 219.8C1500.6 221.8 1503.1 223.6 1504 224.4" stroke-width="2.8" stroke-opacity="0.4"/><path d="M1465.7 228.1C1467.2 227.5 1471.5 224.8 1474.9 224.4C1478.3 223.9 1482.3 225 1486 225.3C1489.6 225.6 1495.2 226.1 1497 226.2" stroke-width="1.9" stroke-opacity="0.4"/><path d="M1482.3 171C1482.4 172.8 1483.2 178.4 1483.2 182C1483.2 185.7 1482.4 191.3 1482.3 193.1" stroke-width="1.8" stroke-opacity="0.4"/><path d="M1500.7 171C1500.8 172.8 1501.1 178.1 1501.6 182C1502.1 186 1503.1 192.8 1503.4 194.9" stroke-width="1.8" stroke-opacity="0.4"/><path d="M1409.6 267.6C1409.5 269.3 1409.5 274.2 1409.2 277.8C1408.9 281.3 1408.4 285.1 1407.7 288.8C1407 292.5 1406 295.9 1405 299.9C1403.9 303.9 1402.5 308.8 1401.3 312.8C1400 316.7 1398.8 319.9 1397.6 323.8C1396.4 327.7 1394.8 333.9 1394.3 335.9" stroke-width="2.4" stroke-opacity="0.5"/><path d="M1333.2 171C1333.5 172.2 1335 175.9 1335 178.4C1335 180.8 1333.5 184.5 1333.2 185.7" stroke-width="1.8" stroke-opacity="0.4"/></g><g fill="#333" filter="url(#soft)"><circle cx="1501.9" cy="241.8" r="1.7" opacity="0.3"/><circle cx="1497.5" cy="237.8" r="2.7" opacity="0.3"/><circle cx="1490.6" cy="240.5" r="2.5" opacity="0.3"/><circle cx="1491.6" cy="246.3" r="2.8" opacity="0.5"/><circle cx="1498.7" cy="242.7" r="2.3" opacity="0.3"/><circle cx="1494.7" cy="244.6" r="2.3" opacity="0.3"/><circle cx="1489.3" cy="251" r="2.4" opacity="0.4"/><circle cx="1494.5" cy="244.8" r="2.1" opacity="0.3"/><circle cx="1486.5" cy="243.8" r="2.7" opacity="0.3"/><circle cx="1499.5" cy="239.3" r="2.8" opacity="0.5"/><circle cx="1495" cy="236.1" r="2.2" opacity="0.5"/><circle cx="1495.8" cy="244.1" r="2.8" opacity="0.4"/><circle cx="1490.3" cy="245.9" r="2.4" opacity="0.5"/><circle cx="1487.8" cy="244.5" r="2.2" opacity="0.5"/><circle cx="1497.5" cy="241.6" r="2.5" opacity="0.5"/><circle cx="1493.9" cy="239.4" r="2" opacity="0.3"/><circle cx="1494.1" cy="242.8" r="3.1" opacity="0.3"/><circle cx="1496.6" cy="242.8" r="3.1" opacity="0.4"/><circle cx="1490.3" cy="244.4" r="2.6" opacity="0.4"/><circle cx="1493.9" cy="246.5" r="2.4" opacity="0.5"/><circle cx="1494.1" cy="243.9" r="2.9" opacity="0.4"/><circle cx="1495.8" cy="243.4" r="2.8" opacity="0.3"/><circle cx="1493.2" cy="242.1" r="2" opacity="0.5"/><circle cx="1497.8" cy="247.9" r="3" opacity="0.3"/><circle cx="1496.2" cy="253.6" r="2.3" opacity="0.4"/><circle cx="1497.4" cy="245.3" r="1.9" opacity="0.4"/><circle cx="1501.2" cy="249.5" r="1.6" opacity="0.4"/><circle cx="1496.5" cy="244.9" r="2.9" opacity="0.3"/><circle cx="1496.8" cy="251.2" r="2.2" opacity="0.3"/><circle cx="1495.7" cy="244.4" r="1.7" opacity="0.3"/><circle cx="1490" cy="239.3" r="1.8" opacity="0.3"/><circle cx="1498.1" cy="245.4" r="2.8" opacity="0.4"/><circle cx="1499.5" cy="239.9" r="3" opacity="0.4"/><circle cx="1492.7" cy="244.9" r="2.7" opacity="0.3"/><circle cx="1497.4" cy="247.3" r="3" opacity="0.3"/><circle cx="1491.8" cy="242.4" r="2.4" opacity="0.3"/><circle cx="1496.5" cy="243.8" r="2.6" opacity="0.4"/><circle cx="1499" cy="245.2" r="1.8" opacity="0.3"/></g><rect x="1449.3" y="316.05" width="8.5" height="2.95" fill="#1c1c1c"/><rect x="1457.7" y="316.05" width="8.5" height="2.95" fill="#fff"/><rect x="1466" y="316.05" width="8.5" height="2.95" fill="#1c1c1c"/><rect x="1474.4" y="316.05" width="8.5" height="2.95" fill="#fff"/><rect x="1482.7" y="316.05" width="8.5" height="2.95" fill="#1c1c1c"/><text x="1470.4" y="330.2" font-size="11.4" text-anchor="middle" fill="#fff" fill-opacity="0.82">200 nm</text></g><text transform="translate(1018.8 57.6) scale(0.935 1)" font-size="50.8" font-weight="bold" fill="#231F20">C</text>
</g>
<g id="panel-D">
<path d="M1664 62.1V295.9" stroke="#000" stroke-width="1.6" fill="none"/><path d="M1654.7 286.6H2001" stroke="#000" stroke-width="1.6" fill="none"/><text x="1653.3" y="293" font-size="17.1" font-weight="bold" text-anchor="end">10000</text><text x="1653.3" y="218.4" font-size="17.1" font-weight="bold" text-anchor="end">15000</text><text x="1653.3" y="143.9" font-size="17.1" font-weight="bold" text-anchor="end">20000</text><text x="1653.3" y="69.3" font-size="17.1" font-weight="bold" text-anchor="end">25000</text><text x="1664" y="313.2" font-size="17.1" font-weight="bold" text-anchor="middle">0</text><text x="1743.9" y="313.2" font-size="17.1" font-weight="bold" text-anchor="middle">5</text><text x="1823.8" y="313.2" font-size="17.1" font-weight="bold" text-anchor="middle">10</text><text x="1903.7" y="313.2" font-size="17.1" font-weight="bold" text-anchor="middle">15</text><text x="1983.6" y="313.2" font-size="17.1" font-weight="bold" text-anchor="middle">20</text><path d="M1654.7 212H1664M1654.7 137.5H1664M1654.7 62.9H1664M1743.9 286.6V295.9M1823.8 286.6V295.9M1903.7 286.6V295.9M1983.6 286.6V295.9" stroke="#000" stroke-width="1.6" fill="none"/><text x="1832" y="342.5" font-size="18.1" font-weight="bold" text-anchor="middle">Time (h)</text><text x="1593.2" y="175" font-size="18.1" font-weight="bold" text-anchor="middle" transform="rotate(-90 1593.2 175)">pFTAA fluorescence 520 nm (a.u.)</text><g fill="none" stroke="#BEBEBE" stroke-width="2.0"><circle cx="1664" cy="240.6" r="4.45"/><circle cx="1677.3" cy="245.9" r="4.45"/><circle cx="1690.6" cy="250.4" r="4.45"/><circle cx="1704" cy="253.4" r="4.45"/><circle cx="1717.3" cy="254.8" r="4.45"/><circle cx="1730.6" cy="255.6" r="4.45"/><circle cx="1743.9" cy="255.3" r="4.45"/><circle cx="1757.2" cy="258.1" r="4.45"/><circle cx="1770.5" cy="257.9" r="4.45"/><circle cx="1783.9" cy="258.6" r="4.45"/><circle cx="1797.2" cy="259.1" r="4.45"/><circle cx="1810.5" cy="258.5" r="4.45"/><circle cx="1823.8" cy="259.3" r="4.45"/><circle cx="1837.1" cy="260" r="4.45"/><circle cx="1850.4" cy="262.1" r="4.45"/><circle cx="1863.8" cy="261.3" r="4.45"/><circle cx="1877.1" cy="262.2" r="4.45"/><circle cx="1890.4" cy="262.8" r="4.45"/><circle cx="1903.7" cy="263.8" r="4.45"/><circle cx="1917" cy="264.3" r="4.45"/><circle cx="1930.3" cy="264.8" r="4.45"/><circle cx="1943.7" cy="264.6" r="4.45"/><circle cx="1957" cy="264.3" r="4.45"/><circle cx="1970.3" cy="266.5" r="4.45"/><circle cx="1983.6" cy="267.1" r="4.45"/><circle cx="1664" cy="244.1" r="4.45"/><circle cx="1677.3" cy="250.2" r="4.45"/><circle cx="1690.6" cy="253.9" r="4.45"/><circle cx="1704" cy="256.7" r="4.45"/><circle cx="1717.3" cy="257.3" r="4.45"/><circle cx="1730.6" cy="258.7" r="4.45"/><circle cx="1743.9" cy="259.5" r="4.45"/><circle cx="1757.2" cy="260.9" r="4.45"/><circle cx="1770.5" cy="262.5" r="4.45"/><circle cx="1783.9" cy="262.5" r="4.45"/><circle cx="1797.2" cy="263.3" r="4.45"/><circle cx="1810.5" cy="263.4" r="4.45"/><circle cx="1823.8" cy="264" r="4.45"/><circle cx="1837.1" cy="264.3" r="4.45"/><circle cx="1850.4" cy="264.9" r="4.45"/><circle cx="1863.8" cy="264.5" r="4.45"/><circle cx="1877.1" cy="265.7" r="4.45"/><circle cx="1890.4" cy="266.2" r="4.45"/><circle cx="1903.7" cy="267.9" r="4.45"/><circle cx="1917" cy="268.4" r="4.45"/><circle cx="1930.3" cy="269.2" r="4.45"/><circle cx="1943.7" cy="270" r="4.45"/><circle cx="1957" cy="269.7" r="4.45"/><circle cx="1970.3" cy="270.9" r="4.45"/><circle cx="1983.6" cy="272" r="4.45"/><circle cx="1664" cy="246.9" r="4.45"/><circle cx="1677.3" cy="254.5" r="4.45"/><circle cx="1690.6" cy="257.9" r="4.45"/><circle cx="1704" cy="259.7" r="4.45"/><circle cx="1717.3" cy="262.2" r="4.45"/><circle cx="1730.6" cy="262.9" r="4.45"/><circle cx="1743.9" cy="264.3" r="4.45"/><circle cx="1757.2" cy="264.8" r="4.45"/><circle cx="1770.5" cy="265.9" r="4.45"/><circle cx="1783.9" cy="265.4" r="4.45"/><circle cx="1797.2" cy="268.2" r="4.45"/><circle cx="1810.5" cy="268.5" r="4.45"/><circle cx="1823.8" cy="268.3" r="4.45"/><circle cx="1837.1" cy="268.6" r="4.45"/><circle cx="1850.4" cy="269.8" r="4.45"/><circle cx="1863.8" cy="270.7" r="4.45"/><circle cx="1877.1" cy="271.3" r="4.45"/><circle cx="1890.4" cy="271.9" r="4.45"/><circle cx="1903.7" cy="271.4" r="4.45"/><circle cx="1917" cy="272.5" r="4.45"/><circle cx="1930.3" cy="274.4" r="4.45"/><circle cx="1943.7" cy="274.5" r="4.45"/><circle cx="1957" cy="274.2" r="4.45"/><circle cx="1970.3" cy="275.2" r="4.45"/><circle cx="1983.6" cy="275.6" r="4.45"/></g><g fill="none" stroke="#3E89CF" stroke-width="2.0"><circle cx="1664" cy="215.6" r="4.45"/><circle cx="1677.3" cy="131.3" r="4.45"/><circle cx="1690.6" cy="121.7" r="4.45"/><circle cx="1704" cy="116.5" r="4.45"/><circle cx="1717.3" cy="115" r="4.45"/><circle cx="1730.6" cy="108.7" r="4.45"/><circle cx="1743.9" cy="106.7" r="4.45"/><circle cx="1757.2" cy="101.6" r="4.45"/><circle cx="1770.5" cy="100.4" r="4.45"/><circle cx="1783.9" cy="99.3" r="4.45"/><circle cx="1797.2" cy="98.7" r="4.45"/><circle cx="1810.5" cy="97.5" r="4.45"/><circle cx="1823.8" cy="97.8" r="4.45"/><circle cx="1837.1" cy="93.8" r="4.45"/><circle cx="1850.4" cy="97.5" r="4.45"/><circle cx="1863.8" cy="98.2" r="4.45"/><circle cx="1877.1" cy="97.3" r="4.45"/><circle cx="1890.4" cy="97.1" r="4.45"/><circle cx="1903.7" cy="96" r="4.45"/><circle cx="1917" cy="98.2" r="4.45"/><circle cx="1930.3" cy="96.9" r="4.45"/><circle cx="1943.7" cy="98.2" r="4.45"/><circle cx="1957" cy="98.2" r="4.45"/><circle cx="1970.3" cy="97.8" r="4.45"/><circle cx="1983.6" cy="98.7" r="4.45"/><circle cx="1664" cy="222" r="4.45"/><circle cx="1677.3" cy="142.9" r="4.45"/><circle cx="1690.6" cy="136.2" r="4.45"/><circle cx="1704" cy="132.1" r="4.45"/><circle cx="1717.3" cy="127.2" r="4.45"/><circle cx="1730.6" cy="122.8" r="4.45"/><circle cx="1743.9" cy="121" r="4.45"/><circle cx="1757.2" cy="116.1" r="4.45"/><circle cx="1770.5" cy="116.5" r="4.45"/><circle cx="1783.9" cy="115" r="4.45"/><circle cx="1797.2" cy="112.7" r="4.45"/><circle cx="1810.5" cy="112.1" r="4.45"/><circle cx="1823.8" cy="113.4" r="4.45"/><circle cx="1837.1" cy="112.3" r="4.45"/><circle cx="1850.4" cy="112.7" r="4.45"/><circle cx="1863.8" cy="113.6" r="4.45"/><circle cx="1877.1" cy="113.4" r="4.45"/><circle cx="1890.4" cy="111.6" r="4.45"/><circle cx="1903.7" cy="113.8" r="4.45"/><circle cx="1917" cy="113.6" r="4.45"/><circle cx="1930.3" cy="115" r="4.45"/><circle cx="1943.7" cy="113.2" r="4.45"/><circle cx="1957" cy="113.8" r="4.45"/><circle cx="1970.3" cy="114.3" r="4.45"/><circle cx="1983.6" cy="113.8" r="4.45"/><circle cx="1664" cy="229" r="4.45"/><circle cx="1677.3" cy="164.1" r="4.45"/><circle cx="1690.6" cy="157.8" r="4.45"/><circle cx="1704" cy="155.6" r="4.45"/><circle cx="1717.3" cy="150" r="4.45"/><circle cx="1730.6" cy="147.3" r="4.45"/><circle cx="1743.9" cy="142.9" r="4.45"/><circle cx="1757.2" cy="140.2" r="4.45"/><circle cx="1770.5" cy="137.3" r="4.45"/><circle cx="1783.9" cy="137.3" r="4.45"/><circle cx="1797.2" cy="135.5" r="4.45"/><circle cx="1810.5" cy="136.6" r="4.45"/><circle cx="1823.8" cy="135.7" r="4.45"/><circle cx="1837.1" cy="133.5" r="4.45"/><circle cx="1850.4" cy="137.3" r="4.45"/><circle cx="1863.8" cy="138.8" r="4.45"/><circle cx="1877.1" cy="135.3" r="4.45"/><circle cx="1890.4" cy="135.5" r="4.45"/><circle cx="1903.7" cy="136.6" r="4.45"/><circle cx="1917" cy="135.7" r="4.45"/><circle cx="1930.3" cy="136.2" r="4.45"/><circle cx="1943.7" cy="136.4" r="4.45"/><circle cx="1957" cy="138.4" r="4.45"/><circle cx="1970.3" cy="136.6" r="4.45"/><circle cx="1983.6" cy="136.4" r="4.45"/></g><g fill="none" stroke="#E9392A" stroke-width="2.0"><circle cx="1664" cy="220.6" r="4.45"/><circle cx="1677.3" cy="229.1" r="4.45"/><circle cx="1690.6" cy="234.8" r="4.45"/><circle cx="1704" cy="236" r="4.45"/><circle cx="1717.3" cy="238.8" r="4.45"/><circle cx="1730.6" cy="238.8" r="4.45"/><circle cx="1743.9" cy="241.3" r="4.45"/><circle cx="1757.2" cy="241.4" r="4.45"/><circle cx="1770.5" cy="242.5" r="4.45"/><circle cx="1783.9" cy="242.1" r="4.45"/><circle cx="1797.2" cy="243" r="4.45"/><circle cx="1810.5" cy="243.1" r="4.45"/><circle cx="1823.8" cy="243.3" r="4.45"/><circle cx="1837.1" cy="244.1" r="4.45"/><circle cx="1850.4" cy="243.9" r="4.45"/><circle cx="1863.8" cy="244.7" r="4.45"/><circle cx="1877.1" cy="245.7" r="4.45"/><circle cx="1890.4" cy="245.8" r="4.45"/><circle cx="1903.7" cy="246" r="4.45"/><circle cx="1917" cy="247.7" r="4.45"/><circle cx="1930.3" cy="247" r="4.45"/><circle cx="1943.7" cy="247.1" r="4.45"/><circle cx="1957" cy="247.9" r="4.45"/><circle cx="1970.3" cy="248" r="4.45"/><circle cx="1983.6" cy="248.5" r="4.45"/><circle cx="1664" cy="223.2" r="4.45"/><circle cx="1677.3" cy="233.8" r="4.45"/><circle cx="1690.6" cy="238" r="4.45"/><circle cx="1704" cy="241.1" r="4.45"/><circle cx="1717.3" cy="243.1" r="4.45"/><circle cx="1730.6" cy="245" r="4.45"/><circle cx="1743.9" cy="244.7" r="4.45"/><circle cx="1757.2" cy="245.1" r="4.45"/><circle cx="1770.5" cy="247.2" r="4.45"/><circle cx="1783.9" cy="245.7" r="4.45"/><circle cx="1797.2" cy="246.8" r="4.45"/><circle cx="1810.5" cy="247.7" r="4.45"/><circle cx="1823.8" cy="249" r="4.45"/><circle cx="1837.1" cy="247.8" r="4.45"/><circle cx="1850.4" cy="247.5" r="4.45"/><circle cx="1863.8" cy="249.5" r="4.45"/><circle cx="1877.1" cy="249.3" r="4.45"/><circle cx="1890.4" cy="249.8" r="4.45"/><circle cx="1903.7" cy="250.7" r="4.45"/><circle cx="1917" cy="251" r="4.45"/><circle cx="1930.3" cy="251.5" r="4.45"/><circle cx="1943.7" cy="251.6" r="4.45"/><circle cx="1957" cy="252.9" r="4.45"/><circle cx="1970.3" cy="253.4" r="4.45"/><circle cx="1983.6" cy="253.1" r="4.45"/><circle cx="1664" cy="234.4" r="4.45"/><circle cx="1677.3" cy="241.3" r="4.45"/><circle cx="1690.6" cy="244.8" r="4.45"/><circle cx="1704" cy="246.1" r="4.45"/><circle cx="1717.3" cy="247.7" r="4.45"/><circle cx="1730.6" cy="249.4" r="4.45"/><circle cx="1743.9" cy="249.5" r="4.45"/><circle cx="1757.2" cy="250" r="4.45"/><circle cx="1770.5" cy="250.8" r="4.45"/><circle cx="1783.9" cy="251.1" r="4.45"/><circle cx="1797.2" cy="251.6" r="4.45"/><circle cx="1810.5" cy="251" r="4.45"/><circle cx="1823.8" cy="253.3" r="4.45"/><circle cx="1837.1" cy="253" r="4.45"/><circle cx="1850.4" cy="252.9" r="4.45"/><circle cx="1863.8" cy="254.2" r="4.45"/><circle cx="1877.1" cy="254.3" r="4.45"/><circle cx="1890.4" cy="254.6" r="4.45"/><circle cx="1903.7" cy="255.5" r="4.45"/><circle cx="1917" cy="256.6" r="4.45"/><circle cx="1930.3" cy="256.2" r="4.45"/><circle cx="1943.7" cy="257.1" r="4.45"/><circle cx="1957" cy="257.8" r="4.45"/><circle cx="1970.3" cy="256.7" r="4.45"/><circle cx="1983.6" cy="257.3" r="4.45"/></g><text transform="translate(1526.7 41.4) scale(0.932 1)" font-size="50.4" font-weight="bold" fill="#231F20">D</text>
</g>
<g id="panel-legend">
<circle cx="51.4" cy="359.6" r="7.7" fill="none" stroke="#E9392A" stroke-width="4.8"/><text x="67.3" y="369.9" font-size="26.3">Peptide alone</text><circle cx="313.1" cy="359.6" r="7.7" fill="none" stroke="#BEBEBE" stroke-width="4.8"/><text x="327.2" y="369.9" font-size="26.3">Peptide + 50µM LPS</text><circle cx="626.6" cy="359.6" r="7.7" fill="none" stroke="#3E89CF" stroke-width="4.8"/><text x="648.6" y="369.9" font-size="26.3">Peptide + 1mM PolyP</text>
</g>
<g id="panel-E">
<path d="M165.9 491.9V831.9M152.9 818.9H655.9" stroke="#000" stroke-width="1.7" fill="none"/><text transform="translate(146.9 826.2) scale(0.905 1)" font-size="22.2" text-anchor="end" stroke="#000" stroke-width="0.3">4.0×10<tspan dy="-7.3" font-size="15.6">3</tspan></text><text transform="translate(146.9 663.2) scale(0.905 1)" font-size="22.2" text-anchor="end" stroke="#000" stroke-width="0.3">8.0×10<tspan dy="-7.3" font-size="15.6">3</tspan></text><text transform="translate(146.9 500.2) scale(0.905 1)" font-size="22.2" text-anchor="end" stroke="#000" stroke-width="0.3">1.2×10<tspan dy="-7.3" font-size="15.6">4</tspan></text><text transform="translate(165.8 856.2) scale(0.905 1)" font-size="22.2" text-anchor="middle" stroke="#000" stroke-width="0.3">0</text><text transform="translate(288 856.2) scale(0.905 1)" font-size="22.2" text-anchor="middle" stroke="#000" stroke-width="0.3">10</text><text transform="translate(410.3 856.2) scale(0.905 1)" font-size="22.2" text-anchor="middle" stroke="#000" stroke-width="0.3">20</text><text transform="translate(532.6 856.2) scale(0.905 1)" font-size="22.2" text-anchor="middle" stroke="#000" stroke-width="0.3">30</text><text transform="translate(654.9 856.2) scale(0.905 1)" font-size="22.2" text-anchor="middle" stroke="#000" stroke-width="0.3">40</text><path d="M152.9 655.8H165.9M152.9 492.8H165.9M288.2 818.9V831.9M410.5 818.9V831.9M532.8 818.9V831.9M655.1 818.9V831.9" stroke="#000" stroke-width="1.7" fill="none"/><text transform="translate(410.9 888.5) scale(0.955 1)" font-size="20.7" text-anchor="middle">Time (h)</text><text transform="translate(44.1 674.7) rotate(-90) scale(0.948 1)" font-size="22.9" text-anchor="middle">pFTAA fluorescence intensity</text><path stroke="#666766" stroke-width="9.6" stroke-linecap="round" fill="none" d="M165.9 794.1h0M169.4 796.8h0M172.9 798.9h0M176.4 802.9h0M179.9 800.6h0M183.4 799.1h0M186.9 801h0M190.4 803.4h0M193.9 800.7h0M197.4 804.6h0M200.9 802.8h0M204.4 802.1h0M207.9 803.4h0M211.4 804.7h0M214.9 803.5h0M218.4 805h0M221.9 802.6h0M225.3 803.7h0M228.8 802.5h0M232.3 801.5h0M235.8 807h0M239.3 802.6h0M242.8 801.2h0M246.3 802.9h0M249.8 805.9h0M253.3 803h0M256.8 804.4h0M260.3 804h0M263.8 804.2h0M267.3 804.6h0M270.8 804.1h0M274.3 804.4h0M277.8 801.5h0M281.2 801.3h0M284.7 804.4h0M288.2 803.7h0M291.7 801.9h0M295.2 806.4h0M298.7 800.1h0M302.2 801.9h0M305.7 802.7h0M309.2 800.7h0M312.7 798.9h0M316.2 801.3h0M319.7 803.3h0M323.2 802.4h0M326.7 803.2h0M330.2 801.8h0M333.7 801.4h0M337.1 804.1h0M340.6 802.1h0M344.1 804.5h0M347.6 804.7h0M351.1 803.9h0M354.6 803.1h0M358.1 805.6h0M361.6 803h0M365.1 803.9h0M368.6 799.7h0M372.1 801.7h0M375.6 803h0M379.1 804.6h0M382.6 804.9h0M386.1 802.4h0M389.6 803.1h0M393.1 802h0M396.5 804h0M400 804h0M403.5 801.9h0M407 803.9h0M410.5 802.2h0M414 801.7h0M417.5 801.1h0M421 801.7h0M424.5 805.1h0M428 803.2h0M431.5 802.3h0M435 802.5h0M438.5 801.7h0M442 799.7h0M445.5 805.4h0M449 805.8h0M452.4 801.5h0M455.9 800.7h0M459.4 804.5h0M462.9 803.1h0M466.4 802.5h0M469.9 803.9h0M473.4 800.6h0M476.9 804.5h0M480.4 802.3h0M483.9 801.5h0M487.4 801.2h0M490.9 800.8h0M494.4 803.5h0M497.9 803.6h0M501.4 804h0M504.9 804.5h0M508.3 808.2h0M511.8 800.6h0M515.3 805h0M518.8 807h0M522.3 802.8h0M525.8 802.1h0M529.3 802.9h0M532.8 801h0M536.3 801.3h0M539.8 802.9h0M543.3 802.4h0M546.8 803.1h0M550.3 802.7h0M553.8 802.5h0M557.3 804h0M560.8 800.5h0M564.2 804.2h0M567.7 802.4h0M571.2 800.9h0M574.7 800.2h0M578.2 805h0M581.7 802.1h0M585.2 801.9h0M588.7 800.9h0M592.2 805.1h0M595.7 801.5h0M599.2 802.4h0M602.7 800.7h0M606.2 804.1h0M609.7 803.6h0M613.2 804.2h0M616.7 804.1h0M620.2 802h0M623.6 799.3h0M627.1 806h0M630.6 804.9h0M634.1 803.2h0M637.6 804.6h0M641.1 803.6h0M644.6 806h0M648.1 803.2h0M651.6 803.9h0M655.1 806.8h0M165.9 799.1h0M169.4 801.4h0M172.9 802.4h0M176.4 803.8h0M179.9 804.4h0M183.4 806.6h0M186.9 802.8h0M190.4 807.8h0M193.9 805.3h0M197.4 806.8h0M200.9 807.2h0M204.4 807.7h0M207.9 805.7h0M211.4 809.3h0M214.9 804.5h0M218.4 804.4h0M221.9 807.2h0M225.3 808.1h0M228.8 806h0M232.3 805.6h0M235.8 804.1h0M239.3 807.3h0M242.8 808h0M246.3 808.9h0M249.8 805.7h0M253.3 806.2h0M256.8 803.5h0M260.3 800.9h0M263.8 805.4h0M267.3 803.1h0M270.8 804.4h0M274.3 805.9h0M277.8 806h0M281.2 805.4h0M284.7 804.1h0M288.2 804.1h0M291.7 805.9h0M295.2 805h0M298.7 805.2h0M302.2 806.9h0M305.7 806.8h0M309.2 805.1h0M312.7 806.6h0M316.2 808.1h0M319.7 807.4h0M323.2 806.9h0M326.7 807h0M330.2 810.4h0M333.7 804.4h0M337.1 807h0M340.6 808.5h0M344.1 805.7h0M347.6 808h0M351.1 806.2h0M354.6 807.4h0M358.1 804.9h0M361.6 805.4h0M365.1 810h0M368.6 805.3h0M372.1 805.2h0M375.6 803.5h0M379.1 804.5h0M382.6 806.7h0M386.1 806.7h0M389.6 804.3h0M393.1 805.5h0M396.5 804.3h0M400 803.3h0M403.5 803.3h0M407 803.8h0M410.5 802.8h0M414 803.1h0M417.5 800.8h0M421 805.4h0M424.5 806.5h0M428 804.1h0M431.5 806.6h0M435 806.6h0M438.5 803h0M442 807.8h0M445.5 805.5h0M449 806.3h0M452.4 807h0M455.9 809.1h0M459.4 808.6h0M462.9 808.6h0M466.4 804.4h0M469.9 807.1h0M473.4 806.4h0M476.9 803.1h0M480.4 807.9h0M483.9 807.6h0M487.4 807.7h0M490.9 809.8h0M494.4 806.2h0M497.9 804.7h0M501.4 803.4h0M504.9 809.3h0M508.3 808.3h0M511.8 804.8h0M515.3 806.5h0M518.8 805.5h0M522.3 804.3h0M525.8 804.4h0M529.3 804.8h0M532.8 804.9h0M536.3 803.2h0M539.8 805.3h0M543.3 805.6h0M546.8 803.6h0M550.3 805.9h0M553.8 804.3h0M557.3 806.8h0M560.8 805.4h0M564.2 807.3h0M567.7 808.9h0M571.2 807.2h0M574.7 802.3h0M578.2 806.5h0M581.7 809h0M585.2 807.1h0M588.7 805.4h0M592.2 806.8h0M595.7 804.8h0M599.2 807.2h0M602.7 808.5h0M606.2 805.6h0M609.7 807.5h0M613.2 804.8h0M616.7 804.4h0M620.2 806.5h0M623.6 806.1h0M627.1 805.3h0M630.6 805.7h0M634.1 808.7h0M637.6 808h0M641.1 808h0M644.6 804.7h0M648.1 807.5h0M651.6 804.1h0M655.1 805.2h0M165.9 802.8h0M169.4 804.2h0M172.9 807.9h0M176.4 806.9h0M179.9 808.7h0M183.4 807.5h0M186.9 804h0M190.4 809.5h0M193.9 807.2h0M197.4 806.9h0M200.9 807.1h0M204.4 806.4h0M207.9 810.9h0M211.4 807h0M214.9 807.4h0M218.4 804.8h0M221.9 808h0M225.3 807.4h0M228.8 807h0M232.3 806.7h0M235.8 808.8h0M239.3 808.2h0M242.8 809.3h0M246.3 809.3h0M249.8 806.6h0M253.3 809h0M256.8 807.1h0M260.3 808.8h0M263.8 808.6h0M267.3 808.3h0M270.8 809.8h0M274.3 808.7h0M277.8 811.6h0M281.2 810.4h0M284.7 811.9h0M288.2 806.1h0M291.7 807.3h0M295.2 809.4h0M298.7 808.8h0M302.2 813.3h0M305.7 809.5h0M309.2 807.9h0M312.7 808.4h0M316.2 807.9h0M319.7 809.5h0M323.2 807.9h0M326.7 809.3h0M330.2 807.9h0M333.7 808.9h0M337.1 807h0M340.6 808h0M344.1 805.2h0M347.6 805.9h0M351.1 808.6h0M354.6 809.7h0M358.1 807.2h0M361.6 806.5h0M365.1 807.2h0M368.6 808.6h0M372.1 804.8h0M375.6 805.3h0M379.1 808.5h0M382.6 807.3h0M386.1 806.8h0M389.6 809.5h0M393.1 808h0M396.5 812.9h0M400 810.2h0M403.5 807.8h0M407 809.4h0M410.5 811.6h0M414 806.5h0M417.5 808.7h0M421 811.9h0M424.5 805.8h0M428 809h0M431.5 807.6h0M435 806.2h0M438.5 807.6h0M442 810.6h0M445.5 812.5h0M449 807.7h0M452.4 811.1h0M455.9 808.6h0M459.4 807.9h0M462.9 808.4h0M466.4 807.8h0M469.9 808.2h0M473.4 807.9h0M476.9 807h0M480.4 804.1h0M483.9 808.5h0M487.4 804.9h0M490.9 807.9h0M494.4 806.9h0M497.9 807.6h0M501.4 808.4h0M504.9 808.6h0M508.3 809.2h0M511.8 804.9h0M515.3 809.3h0M518.8 807.1h0M522.3 810.7h0M525.8 808.1h0M529.3 807.7h0M532.8 810h0M536.3 809.3h0M539.8 809.6h0M543.3 810.8h0M546.8 808h0M550.3 811.1h0M553.8 808.3h0M557.3 808.3h0M560.8 809.8h0M564.2 807.4h0M567.7 808.6h0M571.2 808.8h0M574.7 807.5h0M578.2 808.3h0M581.7 808.1h0M585.2 806.9h0M588.7 808.7h0M592.2 809.3h0M595.7 810.8h0M599.2 809.3h0M602.7 808h0M606.2 807.1h0M609.7 807.8h0M613.2 810.7h0M616.7 807.9h0M620.2 805.8h0M623.6 807.1h0M627.1 806.4h0M630.6 806.3h0M634.1 806.7h0M637.6 808.1h0M641.1 804.1h0M644.6 807.6h0M648.1 808.5h0M651.6 809.2h0M655.1 804.5h0"/><path stroke="#F6921E" stroke-width="7.2" stroke-linecap="round" fill="none" d="M165.9 779.2h0M168 785.1h0M170 789.3h0M172.1 793.1h0M174.1 792.6h0M176.1 793.8h0M178.2 793h0M180.2 795.5h0M182.3 795.9h0M184.3 795.1h0M186.3 795.5h0M188.4 796.3h0M190.4 796.5h0M192.4 793.5h0M194.5 799.7h0M196.5 796.7h0M198.6 797.7h0M200.6 795.1h0M202.6 795h0M204.7 795.1h0M206.7 797.5h0M208.7 795.9h0M210.8 796.7h0M212.8 796.2h0M214.9 795.9h0M216.9 796.3h0M218.9 794.4h0M221 796.4h0M223 797.1h0M225.1 794.7h0M227.1 795.1h0M229.1 795h0M231.2 795.5h0M233.2 795.1h0M235.2 795.7h0M237.3 801.8h0M239.3 799.6h0M241.4 796.8h0M243.4 796.6h0M245.4 795.7h0M247.5 797.2h0M249.5 798.4h0M251.5 799.6h0M253.6 798.4h0M255.6 795h0M257.7 799.1h0M259.7 794.6h0M261.7 800h0M263.8 797.6h0M265.8 797.6h0M267.9 798.5h0M269.9 800.9h0M271.9 793.6h0M274 798.5h0M276 797.3h0M278 798.1h0M280.1 795.9h0M282.1 795.8h0M284.2 797.6h0M286.2 798.3h0M288.2 795.7h0M290.3 800.9h0M292.3 797.6h0M294.3 796.7h0M296.4 797.4h0M298.4 798h0M300.5 799.8h0M302.5 798.2h0M304.5 798h0M306.6 798.8h0M308.6 796.1h0M310.7 797.3h0M312.7 796.8h0M314.7 796.1h0M316.8 796.3h0M318.8 796.2h0M320.8 795.8h0M322.9 797.1h0M324.9 796.1h0M327 800.5h0M329 797h0M331 795.3h0M333.1 797.3h0M335.1 795.8h0M337.1 794.2h0M339.2 798.3h0M341.2 796.1h0M343.3 796h0M345.3 797.6h0M347.3 796.5h0M349.4 796.4h0M351.4 799.2h0M353.5 796h0M355.5 797.8h0M357.5 797.3h0M359.6 797.1h0M361.6 795.8h0M363.6 796.3h0M365.7 795.7h0M367.7 796.1h0M369.8 793.4h0M371.8 798.2h0M373.8 795.2h0M375.9 797.4h0M377.9 797.8h0M379.9 796.5h0M382 799.2h0M384 800h0M386.1 797.8h0M388.1 796.4h0M390.1 798.3h0M392.2 799.7h0M394.2 798.4h0M396.3 797.1h0M398.3 800.4h0M400.3 796.5h0M402.4 796.2h0M404.4 796.5h0M406.4 797.8h0M408.5 797.7h0M410.5 798.5h0M412.6 797.1h0M414.6 797h0M416.6 796.2h0M418.7 798.2h0M420.7 795.4h0M422.7 796.9h0M424.8 798h0M426.8 797h0M428.9 796.5h0M430.9 797.2h0M432.9 798.8h0M435 798.1h0M437 795.2h0M439.1 796.1h0M441.1 800h0M443.1 796.8h0M445.2 796.9h0M447.2 796.4h0M449.2 798.2h0M451.3 797.4h0M453.3 796.8h0M455.4 795.2h0M457.4 797.9h0M459.4 797.4h0M461.5 797.5h0M463.5 799.7h0M465.5 793.8h0M467.6 795.2h0M469.6 794.6h0M471.7 795.8h0M473.7 796.1h0M475.7 796.8h0M477.8 796.7h0M479.8 798.6h0M481.9 795.4h0M483.9 797h0M485.9 796.7h0M488 795.7h0M490 795.6h0M492 796.8h0M494.1 795.7h0M496.1 797.7h0M498.2 797.2h0M500.2 794.9h0M502.2 796.6h0M504.3 799.3h0M506.3 796h0M508.3 796.7h0M510.4 795h0M512.4 798.8h0M514.5 796.9h0M516.5 796.4h0M518.5 794.8h0M520.6 798.8h0M522.6 796.8h0M524.7 798.9h0M526.7 795.5h0M528.7 796.7h0M530.8 797.9h0M532.8 797.6h0M534.8 800.6h0M536.9 799h0M538.9 799.3h0M541 796.9h0M543 796.4h0M545 801.9h0M547.1 798.6h0M549.1 798.6h0M551.1 802.2h0M553.2 799.5h0M555.2 800.3h0M557.3 801.6h0M559.3 801h0M561.3 801.7h0M563.4 801.6h0M565.4 800.7h0M567.5 801.3h0M569.5 802.7h0M571.5 804.7h0M573.6 800.3h0M575.6 802.4h0M577.6 803.4h0M579.7 801.9h0M581.7 803.7h0M583.8 802.6h0M585.8 802.1h0M587.8 801.7h0M589.9 804.2h0M591.9 805.6h0M593.9 801.9h0M596 801.5h0M598 804h0M600.1 802.2h0M602.1 802.6h0M604.1 802.3h0M606.2 800.8h0M608.2 804.4h0M610.3 806h0M612.3 801.8h0M614.3 802h0M616.4 804.9h0M618.4 803.3h0M620.4 804.5h0M622.5 801h0M624.5 804h0M626.6 805.4h0M628.6 802.2h0M630.6 805.4h0M632.7 803.9h0M634.7 805.2h0M636.7 805.9h0M638.8 804.4h0M640.8 805.7h0M642.9 803h0M644.9 805.9h0M646.9 803.6h0M649 805h0M651 807.3h0M653.1 801.5h0M655.1 804.6h0M165.9 782.5h0M168 786.9h0M170 791.3h0M172.1 793h0M174.1 792.6h0M176.1 794.6h0M178.2 799.2h0M180.2 798.4h0M182.3 797.9h0M184.3 797.5h0M186.3 798h0M188.4 798.4h0M190.4 797h0M192.4 798.3h0M194.5 798.4h0M196.5 796.9h0M198.6 796.9h0M200.6 796.6h0M202.6 796.5h0M204.7 799.4h0M206.7 794.5h0M208.7 797.7h0M210.8 797.2h0M212.8 797.1h0M214.9 798.2h0M216.9 799.7h0M218.9 798.1h0M221 797.8h0M223 797.1h0M225.1 797.8h0M227.1 799.3h0M229.1 797.3h0M231.2 796.2h0M233.2 796h0M235.2 796.2h0M237.3 795.7h0M239.3 799.5h0M241.4 798.3h0M243.4 797.4h0M245.4 800h0M247.5 796.8h0M249.5 798.9h0M251.5 799h0M253.6 795.5h0M255.6 795.5h0M257.7 796.5h0M259.7 799.3h0M261.7 799.9h0M263.8 796.1h0M265.8 799.6h0M267.9 797.5h0M269.9 797.5h0M271.9 797.4h0M274 797.8h0M276 795.6h0M278 796.9h0M280.1 796.6h0M282.1 799.3h0M284.2 801.7h0M286.2 802.8h0M288.2 798.3h0M290.3 796.2h0M292.3 798.3h0M294.3 797.5h0M296.4 801.9h0M298.4 799.9h0M300.5 798h0M302.5 800.5h0M304.5 800h0M306.6 796.8h0M308.6 798.4h0M310.7 798.9h0M312.7 799.3h0M314.7 799.5h0M316.8 798.8h0M318.8 799.6h0M320.8 798.5h0M322.9 798h0M324.9 801.6h0M327 799.9h0M329 800h0M331 796.9h0M333.1 799h0M335.1 800.5h0M337.1 797.3h0M339.2 800.8h0M341.2 798.6h0M343.3 799.7h0M345.3 798.8h0M347.3 799.3h0M349.4 800.7h0M351.4 798.2h0M353.5 801.1h0M355.5 797.5h0M357.5 797.3h0M359.6 799.7h0M361.6 796.9h0M363.6 797.9h0M365.7 799.8h0M367.7 800.1h0M369.8 795.6h0M371.8 799h0M373.8 801h0M375.9 799.9h0M377.9 797.7h0M379.9 797.1h0M382 797.6h0M384 796.2h0M386.1 797.6h0M388.1 797.7h0M390.1 797.7h0M392.2 799.7h0M394.2 797.6h0M396.3 795.7h0M398.3 799.5h0M400.3 796.4h0M402.4 797.3h0M404.4 797.8h0M406.4 797.5h0M408.5 796.6h0M410.5 797.8h0M412.6 801.5h0M414.6 797.3h0M416.6 798.1h0M418.7 800.1h0M420.7 799.6h0M422.7 799.6h0M424.8 799.9h0M426.8 795.7h0M428.9 797.4h0M430.9 799h0M432.9 799.6h0M435 800.8h0M437 799.6h0M439.1 798.6h0M441.1 799.1h0M443.1 798.8h0M445.2 799.5h0M447.2 800.2h0M449.2 798.7h0M451.3 798h0M453.3 798h0M455.4 800.9h0M457.4 801.2h0M459.4 800.8h0M461.5 800.5h0M463.5 800.5h0M465.5 799.2h0M467.6 800.2h0M469.6 797.6h0M471.7 798.9h0M473.7 798h0M475.7 800.2h0M477.8 798.2h0M479.8 798.9h0M481.9 799.6h0M483.9 801h0M485.9 797.7h0M488 797.4h0M490 800h0M492 797.1h0M494.1 799.3h0M496.1 797.8h0M498.2 798.4h0M500.2 795.8h0M502.2 799.6h0M504.3 797.7h0M506.3 797.1h0M508.3 801.5h0M510.4 799.6h0M512.4 804h0M514.5 799.5h0M516.5 798.6h0M518.5 799.6h0M520.6 802.1h0M522.6 799.9h0M524.7 800.9h0M526.7 801.3h0M528.7 799.4h0M530.8 801.2h0M532.8 800.5h0M534.8 799.7h0M536.9 803.3h0M538.9 803.4h0M541 803h0M543 802h0M545 800.9h0M547.1 805.2h0M549.1 804.8h0M551.1 803h0M553.2 805.9h0M555.2 804.1h0M557.3 806.7h0M559.3 807.2h0M561.3 807.8h0M563.4 807.8h0M565.4 808.1h0M567.5 806.4h0M569.5 807.9h0M571.5 808h0M573.6 808.7h0M575.6 809.8h0M577.6 810.6h0M579.7 812.3h0M581.7 806.2h0M583.8 810.7h0M585.8 809.9h0M587.8 813.7h0M589.9 811.7h0M591.9 807.9h0M593.9 811h0M596 809.7h0M598 812h0M600.1 809h0M602.1 810.5h0M604.1 810.4h0M606.2 810.5h0M608.2 809.8h0M610.3 808h0M612.3 811.4h0M614.3 812.2h0M616.4 810.6h0M618.4 809.2h0M620.4 811h0M622.5 811.5h0M624.5 810.3h0M626.6 810.5h0M628.6 812.6h0M630.6 808.8h0M632.7 809.6h0M634.7 807.6h0M636.7 809.4h0M638.8 809.3h0M640.8 809h0M642.9 809.4h0M644.9 813.1h0M646.9 810.2h0M649 810.3h0M651 813.8h0M653.1 810.4h0M655.1 807.9h0M165.9 779.8h0M168 788.5h0M170 793.3h0M172.1 792h0M174.1 794.9h0M176.1 793.4h0M178.2 795.1h0M180.2 799.4h0M182.3 799.5h0M184.3 798.9h0M186.3 798.2h0M188.4 798.5h0M190.4 797.3h0M192.4 800.4h0M194.5 798h0M196.5 798.1h0M198.6 801h0M200.6 798.3h0M202.6 797.9h0M204.7 801h0M206.7 797.6h0M208.7 798.5h0M210.8 794.5h0M212.8 803.5h0M214.9 798h0M216.9 797.7h0M218.9 799.9h0M221 795.5h0M223 801.7h0M225.1 800h0M227.1 799.7h0M229.1 798.6h0M231.2 799.4h0M233.2 800.1h0M235.2 800.3h0M237.3 801.2h0M239.3 800.7h0M241.4 800.4h0M243.4 801.3h0M245.4 798.7h0M247.5 795.8h0M249.5 799.5h0M251.5 795.2h0M253.6 797.7h0M255.6 797.9h0M257.7 797.5h0M259.7 801.4h0M261.7 800.5h0M263.8 799.6h0M265.8 799.1h0M267.9 800.3h0M269.9 799.1h0M271.9 798.6h0M274 799.6h0M276 797.4h0M278 799.5h0M280.1 802.8h0M282.1 800.8h0M284.2 797.9h0M286.2 800.4h0M288.2 798.3h0M290.3 798.7h0M292.3 799h0M294.3 801.6h0M296.4 798.4h0M298.4 799.1h0M300.5 799.3h0M302.5 798.4h0M304.5 800.8h0M306.6 799.8h0M308.6 800.6h0M310.7 800h0M312.7 799.8h0M314.7 798.4h0M316.8 801.9h0M318.8 798.5h0M320.8 804.3h0M322.9 801.5h0M324.9 800.7h0M327 800h0M329 801.5h0M331 799.4h0M333.1 796.3h0M335.1 800.9h0M337.1 800.4h0M339.2 802.2h0M341.2 802.6h0M343.3 799.5h0M345.3 796.4h0M347.3 801.3h0M349.4 801.3h0M351.4 798.6h0M353.5 802.1h0M355.5 801.9h0M357.5 799.5h0M359.6 800.7h0M361.6 802.1h0M363.6 801h0M365.7 801.5h0M367.7 801.4h0M369.8 799.4h0M371.8 798.8h0M373.8 800h0M375.9 802.1h0M377.9 797.7h0M379.9 801.2h0M382 794.8h0M384 798.8h0M386.1 802.1h0M388.1 799h0M390.1 799.7h0M392.2 800.3h0M394.2 801.6h0M396.3 797.8h0M398.3 798.4h0M400.3 798.3h0M402.4 799h0M404.4 801.5h0M406.4 797.4h0M408.5 798.4h0M410.5 797.5h0M412.6 797.3h0M414.6 799.5h0M416.6 800.2h0M418.7 802.4h0M420.7 798.7h0M422.7 799.5h0M424.8 798.9h0M426.8 800.3h0M428.9 799.7h0M430.9 797.4h0M432.9 800.3h0M435 800.9h0M437 800.5h0M439.1 800.1h0M441.1 799.8h0M443.1 798.8h0M445.2 798h0M447.2 798.8h0M449.2 798.7h0M451.3 798.9h0M453.3 800.1h0M455.4 798.6h0M457.4 802.2h0M459.4 800.5h0M461.5 799.7h0M463.5 802.3h0M465.5 802.2h0M467.6 798.6h0M469.6 798.6h0M471.7 800.9h0M473.7 802.1h0M475.7 800.4h0M477.8 803.3h0M479.8 799.1h0M481.9 802.2h0M483.9 802h0M485.9 800.6h0M488 798.3h0M490 799.9h0M492 802h0M494.1 799.9h0M496.1 800.1h0M498.2 801.3h0M500.2 801.5h0M502.2 800.9h0M504.3 803.2h0M506.3 802.8h0M508.3 799.9h0M510.4 802.7h0M512.4 802h0M514.5 805.5h0M516.5 804.2h0M518.5 804h0M520.6 803.3h0M522.6 803.4h0M524.7 803.6h0M526.7 807.1h0M528.7 804.9h0M530.8 804.7h0M532.8 807.3h0M534.8 808.1h0M536.9 807.3h0M538.9 806.6h0M541 810.3h0M543 810.5h0M545 806.3h0M547.1 808.1h0M549.1 813h0M551.1 809h0M553.2 808.2h0M555.2 812.1h0M557.3 811.1h0M559.3 813.3h0M561.3 809.7h0M563.4 815h0M565.4 814.2h0M567.5 813h0M569.5 813.1h0M571.5 815.2h0M573.6 813.3h0M575.6 815.5h0M577.6 813.8h0M579.7 815.3h0M581.7 812.4h0M583.8 814h0M585.8 812.4h0M587.8 814.6h0M589.9 814.6h0M591.9 815.3h0M593.9 816h0M596 812.9h0M598 816h0M600.1 816.5h0M602.1 814.5h0M604.1 816.3h0M606.2 813h0M608.2 815h0M610.3 815.1h0M612.3 814.5h0M614.3 818.4h0M616.4 817.5h0M618.4 816.9h0M620.4 816.2h0M622.5 818.9h0M624.5 818h0M626.6 817.3h0M628.6 816.5h0M630.6 816.3h0M632.7 816.2h0M634.7 816.8h0M636.7 814.6h0M638.8 816.8h0M640.8 817.8h0M642.9 816.9h0M644.9 814.9h0M646.9 816.9h0M649 815.2h0M651 814.6h0M653.1 820h0M655.1 815.8h0"/><path fill="#0B0B0B" d="M165.9 779.7l5 -9.6h-10zM168.7 784l5 -9.6h-10zM171.4 785.2l5 -9.6h-10zM174.1 789.7l5 -9.6h-10zM176.8 788.1l5 -9.6h-10zM179.5 789.7l5 -9.6h-10zM182.3 787.6l5 -9.6h-10zM185 786.7l5 -9.6h-10zM187.7 790.1l5 -9.6h-10zM190.4 787.9l5 -9.6h-10zM193.1 786.7l5 -9.6h-10zM195.8 789.5l5 -9.6h-10zM198.6 789.1l5 -9.6h-10zM201.3 791.6l5 -9.6h-10zM204 787.4l5 -9.6h-10zM206.7 789.5l5 -9.6h-10zM209.4 788.1l5 -9.6h-10zM212.1 787.7l5 -9.6h-10zM214.9 786.9l5 -9.6h-10zM217.6 786l5 -9.6h-10zM220.3 786.6l5 -9.6h-10zM223 791.6l5 -9.6h-10zM225.7 786.1l5 -9.6h-10zM228.5 788.2l5 -9.6h-10zM231.2 787.2l5 -9.6h-10zM233.9 789.1l5 -9.6h-10zM236.6 788.9l5 -9.6h-10zM239.3 789.1l5 -9.6h-10zM242 790.3l5 -9.6h-10zM244.8 793.5l5 -9.6h-10zM247.5 787.6l5 -9.6h-10zM250.2 788.9l5 -9.6h-10zM252.9 791l5 -9.6h-10zM255.6 788.2l5 -9.6h-10zM258.3 790.9l5 -9.6h-10zM261.1 789.3l5 -9.6h-10zM263.8 790.3l5 -9.6h-10zM266.5 792.9l5 -9.6h-10zM269.2 791.1l5 -9.6h-10zM271.9 792l5 -9.6h-10zM274.6 786.2l5 -9.6h-10zM277.4 787.3l5 -9.6h-10zM280.1 791.8l5 -9.6h-10zM282.8 789l5 -9.6h-10zM285.5 790l5 -9.6h-10zM288.2 789.8l5 -9.6h-10zM291 786.9l5 -9.6h-10zM293.7 790.1l5 -9.6h-10zM296.4 791l5 -9.6h-10zM299.1 790.4l5 -9.6h-10zM301.8 790.7l5 -9.6h-10zM304.5 790.2l5 -9.6h-10zM307.3 790.9l5 -9.6h-10zM310 789.6l5 -9.6h-10zM312.7 788.5l5 -9.6h-10zM315.4 789.3l5 -9.6h-10zM318.1 789.6l5 -9.6h-10zM320.8 788.9l5 -9.6h-10zM323.6 789.7l5 -9.6h-10zM326.3 790.6l5 -9.6h-10zM329 787.3l5 -9.6h-10zM331.7 790.9l5 -9.6h-10zM334.4 788.1l5 -9.6h-10zM337.1 791.3l5 -9.6h-10zM339.9 790.2l5 -9.6h-10zM342.6 789.2l5 -9.6h-10zM345.3 791l5 -9.6h-10zM348 788.1l5 -9.6h-10zM350.7 789.7l5 -9.6h-10zM353.5 787.8l5 -9.6h-10zM356.2 789.3l5 -9.6h-10zM358.9 790.3l5 -9.6h-10zM361.6 790.6l5 -9.6h-10zM364.3 790.9l5 -9.6h-10zM367 790.6l5 -9.6h-10zM369.8 791.1l5 -9.6h-10zM372.5 790.9l5 -9.6h-10zM375.2 792.3l5 -9.6h-10zM377.9 790.9l5 -9.6h-10zM380.6 787.9l5 -9.6h-10zM383.3 791l5 -9.6h-10zM386.1 789.9l5 -9.6h-10zM388.8 791l5 -9.6h-10zM391.5 789.7l5 -9.6h-10zM394.2 791.7l5 -9.6h-10zM396.9 791.1l5 -9.6h-10zM399.7 790.1l5 -9.6h-10zM402.4 790.2l5 -9.6h-10zM405.1 790.7l5 -9.6h-10zM407.8 791.8l5 -9.6h-10zM410.5 790.9l5 -9.6h-10zM413.2 788.8l5 -9.6h-10zM416 788.9l5 -9.6h-10zM418.7 790.7l5 -9.6h-10zM421.4 792.5l5 -9.6h-10zM424.1 791.5l5 -9.6h-10zM426.8 791.8l5 -9.6h-10zM429.5 788.4l5 -9.6h-10zM432.3 788.1l5 -9.6h-10zM435 790.3l5 -9.6h-10zM437.7 788.3l5 -9.6h-10zM440.4 791.1l5 -9.6h-10zM443.1 788.2l5 -9.6h-10zM445.8 787.7l5 -9.6h-10zM448.6 790.3l5 -9.6h-10zM451.3 786.8l5 -9.6h-10zM454 789l5 -9.6h-10zM456.7 791l5 -9.6h-10zM459.4 787.7l5 -9.6h-10zM462.2 787.1l5 -9.6h-10zM464.9 787.4l5 -9.6h-10zM467.6 790.4l5 -9.6h-10zM470.3 789.4l5 -9.6h-10zM473 788.7l5 -9.6h-10zM475.7 789.1l5 -9.6h-10zM478.5 787.7l5 -9.6h-10zM481.2 784.7l5 -9.6h-10zM483.9 787.9l5 -9.6h-10zM486.6 789.8l5 -9.6h-10zM489.3 786.1l5 -9.6h-10zM492 784.6l5 -9.6h-10zM494.8 787.3l5 -9.6h-10zM497.5 788l5 -9.6h-10zM500.2 791.2l5 -9.6h-10zM502.9 786.3l5 -9.6h-10zM505.6 789.4l5 -9.6h-10zM508.3 787.3l5 -9.6h-10zM511.1 787.5l5 -9.6h-10zM513.8 787.4l5 -9.6h-10zM516.5 786.5l5 -9.6h-10zM519.2 790.6l5 -9.6h-10zM521.9 788.2l5 -9.6h-10zM524.7 787l5 -9.6h-10zM527.4 789l5 -9.6h-10zM530.1 789.5l5 -9.6h-10zM532.8 787.5l5 -9.6h-10zM535.5 787.2l5 -9.6h-10zM538.2 786.4l5 -9.6h-10zM541 789.3l5 -9.6h-10zM543.7 788.1l5 -9.6h-10zM546.4 787.8l5 -9.6h-10zM549.1 787.4l5 -9.6h-10zM551.8 786.7l5 -9.6h-10zM554.5 786.4l5 -9.6h-10zM557.3 787.9l5 -9.6h-10zM560 784.9l5 -9.6h-10zM562.7 788.2l5 -9.6h-10zM565.4 790.7l5 -9.6h-10zM568.1 786.8l5 -9.6h-10zM570.8 788.9l5 -9.6h-10zM573.6 789l5 -9.6h-10zM576.3 788.7l5 -9.6h-10zM579 788.8l5 -9.6h-10zM581.7 787.4l5 -9.6h-10zM584.4 786.2l5 -9.6h-10zM587.2 785.1l5 -9.6h-10zM589.9 788.6l5 -9.6h-10zM592.6 789.6l5 -9.6h-10zM595.3 786.3l5 -9.6h-10zM598 787.6l5 -9.6h-10zM600.7 787.3l5 -9.6h-10zM603.5 784.8l5 -9.6h-10zM606.2 785.5l5 -9.6h-10zM608.9 787.7l5 -9.6h-10zM611.6 785.8l5 -9.6h-10zM614.3 786l5 -9.6h-10zM617 787.7l5 -9.6h-10zM619.8 785l5 -9.6h-10zM622.5 787.7l5 -9.6h-10zM625.2 788l5 -9.6h-10zM627.9 788.8l5 -9.6h-10zM630.6 788.6l5 -9.6h-10zM633.4 784.6l5 -9.6h-10zM636.1 786.1l5 -9.6h-10zM638.8 786.8l5 -9.6h-10zM641.5 788.9l5 -9.6h-10zM644.2 784.8l5 -9.6h-10zM646.9 787l5 -9.6h-10zM649.7 787.3l5 -9.6h-10zM652.4 787.7l5 -9.6h-10zM655.1 788.6l5 -9.6h-10zM165.9 777l5 -9.6h-10zM168.7 784.7l5 -9.6h-10zM171.4 788.1l5 -9.6h-10zM174.1 788.9l5 -9.6h-10zM176.8 790.9l5 -9.6h-10zM179.5 792l5 -9.6h-10zM182.3 792.3l5 -9.6h-10zM185 792.8l5 -9.6h-10zM187.7 789.7l5 -9.6h-10zM190.4 788.6l5 -9.6h-10zM193.1 793.7l5 -9.6h-10zM195.8 792.4l5 -9.6h-10zM198.6 793l5 -9.6h-10zM201.3 791.8l5 -9.6h-10zM204 794.1l5 -9.6h-10zM206.7 793.4l5 -9.6h-10zM209.4 791.3l5 -9.6h-10zM212.1 794l5 -9.6h-10zM214.9 789.3l5 -9.6h-10zM217.6 789.3l5 -9.6h-10zM220.3 792.9l5 -9.6h-10zM223 793.8l5 -9.6h-10zM225.7 791.4l5 -9.6h-10zM228.5 792.8l5 -9.6h-10zM231.2 793l5 -9.6h-10zM233.9 792.6l5 -9.6h-10zM236.6 794.1l5 -9.6h-10zM239.3 793.8l5 -9.6h-10zM242 792.6l5 -9.6h-10zM244.8 791l5 -9.6h-10zM247.5 792.4l5 -9.6h-10zM250.2 792.1l5 -9.6h-10zM252.9 790.3l5 -9.6h-10zM255.6 790.1l5 -9.6h-10zM258.3 791.7l5 -9.6h-10zM261.1 790.8l5 -9.6h-10zM263.8 791.3l5 -9.6h-10zM266.5 793l5 -9.6h-10zM269.2 793.7l5 -9.6h-10zM271.9 792.3l5 -9.6h-10zM274.6 792l5 -9.6h-10zM277.4 791.2l5 -9.6h-10zM280.1 792.7l5 -9.6h-10zM282.8 791.8l5 -9.6h-10zM285.5 790.9l5 -9.6h-10zM288.2 789.6l5 -9.6h-10zM291 792.7l5 -9.6h-10zM293.7 789.5l5 -9.6h-10zM296.4 793.2l5 -9.6h-10zM299.1 792.6l5 -9.6h-10zM301.8 792.6l5 -9.6h-10zM304.5 791.8l5 -9.6h-10zM307.3 793.6l5 -9.6h-10zM310 791.3l5 -9.6h-10zM312.7 792l5 -9.6h-10zM315.4 790.3l5 -9.6h-10zM318.1 791.7l5 -9.6h-10zM320.8 791.1l5 -9.6h-10zM323.6 790.5l5 -9.6h-10zM326.3 794.8l5 -9.6h-10zM329 794.1l5 -9.6h-10zM331.7 792.6l5 -9.6h-10zM334.4 790.4l5 -9.6h-10zM337.1 793.7l5 -9.6h-10zM339.9 793.9l5 -9.6h-10zM342.6 793.6l5 -9.6h-10zM345.3 791.4l5 -9.6h-10zM348 795.1l5 -9.6h-10zM350.7 796.3l5 -9.6h-10zM353.5 793.3l5 -9.6h-10zM356.2 791.8l5 -9.6h-10zM358.9 793.9l5 -9.6h-10zM361.6 791.8l5 -9.6h-10zM364.3 793.6l5 -9.6h-10zM367 794.3l5 -9.6h-10zM369.8 792.7l5 -9.6h-10zM372.5 795.6l5 -9.6h-10zM375.2 794.1l5 -9.6h-10zM377.9 794.6l5 -9.6h-10zM380.6 794.9l5 -9.6h-10zM383.3 794.6l5 -9.6h-10zM386.1 795.7l5 -9.6h-10zM388.8 792.7l5 -9.6h-10zM391.5 794.6l5 -9.6h-10zM394.2 793.1l5 -9.6h-10zM396.9 792.6l5 -9.6h-10zM399.7 792.2l5 -9.6h-10zM402.4 793l5 -9.6h-10zM405.1 791.5l5 -9.6h-10zM407.8 789.9l5 -9.6h-10zM410.5 793.3l5 -9.6h-10zM413.2 792.7l5 -9.6h-10zM416 791.7l5 -9.6h-10zM418.7 793.3l5 -9.6h-10zM421.4 789.2l5 -9.6h-10zM424.1 793.3l5 -9.6h-10zM426.8 789.7l5 -9.6h-10zM429.5 790.9l5 -9.6h-10zM432.3 792.7l5 -9.6h-10zM435 793.2l5 -9.6h-10zM437.7 792.2l5 -9.6h-10zM440.4 791.5l5 -9.6h-10zM443.1 792.6l5 -9.6h-10zM445.8 794.6l5 -9.6h-10zM448.6 790.7l5 -9.6h-10zM451.3 792.2l5 -9.6h-10zM454 790.6l5 -9.6h-10zM456.7 792.9l5 -9.6h-10zM459.4 792.9l5 -9.6h-10zM462.2 793l5 -9.6h-10zM464.9 792.4l5 -9.6h-10zM467.6 790.8l5 -9.6h-10zM470.3 791l5 -9.6h-10zM473 791.2l5 -9.6h-10zM475.7 793l5 -9.6h-10zM478.5 792.1l5 -9.6h-10zM481.2 791.5l5 -9.6h-10zM483.9 792.7l5 -9.6h-10zM486.6 790l5 -9.6h-10zM489.3 789.6l5 -9.6h-10zM492 791.1l5 -9.6h-10zM494.8 794.7l5 -9.6h-10zM497.5 792l5 -9.6h-10zM500.2 791.3l5 -9.6h-10zM502.9 793l5 -9.6h-10zM505.6 788.3l5 -9.6h-10zM508.3 791.2l5 -9.6h-10zM511.1 791.6l5 -9.6h-10zM513.8 793.1l5 -9.6h-10zM516.5 792.2l5 -9.6h-10zM519.2 791l5 -9.6h-10zM521.9 790.4l5 -9.6h-10zM524.7 790.2l5 -9.6h-10zM527.4 789.3l5 -9.6h-10zM530.1 790.1l5 -9.6h-10zM532.8 790.3l5 -9.6h-10zM535.5 790.4l5 -9.6h-10zM538.2 791.4l5 -9.6h-10zM541 793.5l5 -9.6h-10zM543.7 790.9l5 -9.6h-10zM546.4 791.5l5 -9.6h-10zM549.1 791.4l5 -9.6h-10zM551.8 790.2l5 -9.6h-10zM554.5 788.8l5 -9.6h-10zM557.3 789.5l5 -9.6h-10zM560 792.4l5 -9.6h-10zM562.7 790.3l5 -9.6h-10zM565.4 786.7l5 -9.6h-10zM568.1 790.2l5 -9.6h-10zM570.8 790.9l5 -9.6h-10zM573.6 790.3l5 -9.6h-10zM576.3 789.3l5 -9.6h-10zM579 789.8l5 -9.6h-10zM581.7 792.9l5 -9.6h-10zM584.4 793.2l5 -9.6h-10zM587.2 792.3l5 -9.6h-10zM589.9 791.8l5 -9.6h-10zM592.6 791.1l5 -9.6h-10zM595.3 792.9l5 -9.6h-10zM598 791.8l5 -9.6h-10zM600.7 794l5 -9.6h-10zM603.5 790.3l5 -9.6h-10zM606.2 791.6l5 -9.6h-10zM608.9 791.5l5 -9.6h-10zM611.6 790.6l5 -9.6h-10zM614.3 791.3l5 -9.6h-10zM617 790.2l5 -9.6h-10zM619.8 792l5 -9.6h-10zM622.5 790.4l5 -9.6h-10zM625.2 790.1l5 -9.6h-10zM627.9 789.5l5 -9.6h-10zM630.6 788.3l5 -9.6h-10zM633.4 791.2l5 -9.6h-10zM636.1 790.2l5 -9.6h-10zM638.8 790.9l5 -9.6h-10zM641.5 788.9l5 -9.6h-10zM644.2 790.8l5 -9.6h-10zM646.9 789.5l5 -9.6h-10zM649.7 791.9l5 -9.6h-10zM652.4 792l5 -9.6h-10zM655.1 791.4l5 -9.6h-10zM165.9 784.1l5 -9.6h-10zM168.7 789.2l5 -9.6h-10zM171.4 790.7l5 -9.6h-10zM174.1 792.3l5 -9.6h-10zM176.8 794.2l5 -9.6h-10zM179.5 794l5 -9.6h-10zM182.3 794.3l5 -9.6h-10zM185 794.8l5 -9.6h-10zM187.7 794.2l5 -9.6h-10zM190.4 795.9l5 -9.6h-10zM193.1 795.8l5 -9.6h-10zM195.8 794.3l5 -9.6h-10zM198.6 793.8l5 -9.6h-10zM201.3 794.4l5 -9.6h-10zM204 795l5 -9.6h-10zM206.7 794.4l5 -9.6h-10zM209.4 794.8l5 -9.6h-10zM212.1 796l5 -9.6h-10zM214.9 794.9l5 -9.6h-10zM217.6 796.5l5 -9.6h-10zM220.3 792l5 -9.6h-10zM223 796.5l5 -9.6h-10zM225.7 796.6l5 -9.6h-10zM228.5 795.7l5 -9.6h-10zM231.2 793.3l5 -9.6h-10zM233.9 793.7l5 -9.6h-10zM236.6 794.5l5 -9.6h-10zM239.3 796.5l5 -9.6h-10zM242 794.9l5 -9.6h-10zM244.8 796.8l5 -9.6h-10zM247.5 792.9l5 -9.6h-10zM250.2 794.8l5 -9.6h-10zM252.9 796.3l5 -9.6h-10zM255.6 795.4l5 -9.6h-10zM258.3 795.6l5 -9.6h-10zM261.1 797.2l5 -9.6h-10zM263.8 795.2l5 -9.6h-10zM266.5 794.5l5 -9.6h-10zM269.2 795.8l5 -9.6h-10zM271.9 795l5 -9.6h-10zM274.6 792.8l5 -9.6h-10zM277.4 795.8l5 -9.6h-10zM280.1 796.3l5 -9.6h-10zM282.8 794.6l5 -9.6h-10zM285.5 792.1l5 -9.6h-10zM288.2 796.2l5 -9.6h-10zM291 795.2l5 -9.6h-10zM293.7 791.6l5 -9.6h-10zM296.4 794.7l5 -9.6h-10zM299.1 797.3l5 -9.6h-10zM301.8 795.4l5 -9.6h-10zM304.5 793.9l5 -9.6h-10zM307.3 795.2l5 -9.6h-10zM310 798.6l5 -9.6h-10zM312.7 795.5l5 -9.6h-10zM315.4 796.7l5 -9.6h-10zM318.1 797.9l5 -9.6h-10zM320.8 797.4l5 -9.6h-10zM323.6 794.9l5 -9.6h-10zM326.3 795l5 -9.6h-10zM329 794.4l5 -9.6h-10zM331.7 796.6l5 -9.6h-10zM334.4 798.6l5 -9.6h-10zM337.1 796.5l5 -9.6h-10zM339.9 797.6l5 -9.6h-10zM342.6 797.1l5 -9.6h-10zM345.3 796.4l5 -9.6h-10zM348 795.4l5 -9.6h-10zM350.7 796.9l5 -9.6h-10zM353.5 793.5l5 -9.6h-10zM356.2 796.3l5 -9.6h-10zM358.9 795.3l5 -9.6h-10zM361.6 798l5 -9.6h-10zM364.3 796.3l5 -9.6h-10zM367 798.9l5 -9.6h-10zM369.8 796.8l5 -9.6h-10zM372.5 793.9l5 -9.6h-10zM375.2 796.2l5 -9.6h-10zM377.9 797.7l5 -9.6h-10zM380.6 797.4l5 -9.6h-10zM383.3 796.6l5 -9.6h-10zM386.1 795.9l5 -9.6h-10zM388.8 797.8l5 -9.6h-10zM391.5 795.5l5 -9.6h-10zM394.2 791.1l5 -9.6h-10zM396.9 796.3l5 -9.6h-10zM399.7 796.1l5 -9.6h-10zM402.4 795.9l5 -9.6h-10zM405.1 793.6l5 -9.6h-10zM407.8 794.7l5 -9.6h-10zM410.5 796l5 -9.6h-10zM413.2 794.5l5 -9.6h-10zM416 796.8l5 -9.6h-10zM418.7 793.6l5 -9.6h-10zM421.4 794.7l5 -9.6h-10zM424.1 794.8l5 -9.6h-10zM426.8 795.2l5 -9.6h-10zM429.5 793.8l5 -9.6h-10zM432.3 792.4l5 -9.6h-10zM435 790.6l5 -9.6h-10zM437.7 796.3l5 -9.6h-10zM440.4 794.8l5 -9.6h-10zM443.1 795.8l5 -9.6h-10zM445.8 794.2l5 -9.6h-10zM448.6 796.1l5 -9.6h-10zM451.3 792.3l5 -9.6h-10zM454 792.7l5 -9.6h-10zM456.7 789.7l5 -9.6h-10zM459.4 794.5l5 -9.6h-10zM462.2 794l5 -9.6h-10zM464.9 796.1l5 -9.6h-10zM467.6 792.6l5 -9.6h-10zM470.3 794.2l5 -9.6h-10zM473 795.2l5 -9.6h-10zM475.7 794.6l5 -9.6h-10zM478.5 796.7l5 -9.6h-10zM481.2 794.8l5 -9.6h-10zM483.9 799.3l5 -9.6h-10zM486.6 795.5l5 -9.6h-10zM489.3 795.8l5 -9.6h-10zM492 796.6l5 -9.6h-10zM494.8 796.5l5 -9.6h-10zM497.5 795.3l5 -9.6h-10zM500.2 793.7l5 -9.6h-10zM502.9 792.2l5 -9.6h-10zM505.6 796.5l5 -9.6h-10zM508.3 793.6l5 -9.6h-10zM511.1 793.8l5 -9.6h-10zM513.8 796.9l5 -9.6h-10zM516.5 794.2l5 -9.6h-10zM519.2 793.6l5 -9.6h-10zM521.9 795.6l5 -9.6h-10zM524.7 791.8l5 -9.6h-10zM527.4 793.9l5 -9.6h-10zM530.1 793l5 -9.6h-10zM532.8 793.9l5 -9.6h-10zM535.5 793.2l5 -9.6h-10zM538.2 794.2l5 -9.6h-10zM541 791.4l5 -9.6h-10zM543.7 793.4l5 -9.6h-10zM546.4 792.9l5 -9.6h-10zM549.1 793l5 -9.6h-10zM551.8 790.8l5 -9.6h-10zM554.5 792.3l5 -9.6h-10zM557.3 792l5 -9.6h-10zM560 792.6l5 -9.6h-10zM562.7 793.5l5 -9.6h-10zM565.4 791.7l5 -9.6h-10zM568.1 793.3l5 -9.6h-10zM570.8 793.1l5 -9.6h-10zM573.6 794.7l5 -9.6h-10zM576.3 794.3l5 -9.6h-10zM579 794.3l5 -9.6h-10zM581.7 794l5 -9.6h-10zM584.4 796l5 -9.6h-10zM587.2 792.6l5 -9.6h-10zM589.9 793.5l5 -9.6h-10zM592.6 794.5l5 -9.6h-10zM595.3 793.6l5 -9.6h-10zM598 791.7l5 -9.6h-10zM600.7 794.9l5 -9.6h-10zM603.5 795.8l5 -9.6h-10zM606.2 793.8l5 -9.6h-10zM608.9 793.7l5 -9.6h-10zM611.6 794.5l5 -9.6h-10zM614.3 794.5l5 -9.6h-10zM617 795l5 -9.6h-10zM619.8 793.3l5 -9.6h-10zM622.5 794.2l5 -9.6h-10zM625.2 794.8l5 -9.6h-10zM627.9 793.7l5 -9.6h-10zM630.6 793.5l5 -9.6h-10zM633.4 793l5 -9.6h-10zM636.1 794l5 -9.6h-10zM638.8 794.1l5 -9.6h-10zM641.5 794.6l5 -9.6h-10zM644.2 792.7l5 -9.6h-10zM646.9 797.1l5 -9.6h-10zM649.7 797.2l5 -9.6h-10zM652.4 792.9l5 -9.6h-10zM655.1 795.6l5 -9.6h-10z"/><path fill="#3F56A6" d="M165.9 698.2l3.9 7.4h-7.8zM168 700.2l3.9 7.4h-7.8zM170 696.6l3.9 7.4h-7.8zM172.1 703l3.9 7.4h-7.8zM174.1 699.1l3.9 7.4h-7.8zM176.1 702.2l3.9 7.4h-7.8zM178.2 696.6l3.9 7.4h-7.8zM180.2 703l3.9 7.4h-7.8zM182.3 696l3.9 7.4h-7.8zM184.3 702.7l3.9 7.4h-7.8zM186.3 694.5l3.9 7.4h-7.8zM188.4 702.6l3.9 7.4h-7.8zM190.4 697.3l3.9 7.4h-7.8zM192.4 693.5l3.9 7.4h-7.8zM194.5 696.4l3.9 7.4h-7.8zM196.5 697.3l3.9 7.4h-7.8zM198.6 693.2l3.9 7.4h-7.8zM200.6 694l3.9 7.4h-7.8zM202.6 695.6l3.9 7.4h-7.8zM204.7 694.1l3.9 7.4h-7.8zM206.7 685.9l3.9 7.4h-7.8zM208.7 692.6l3.9 7.4h-7.8zM210.8 694.4l3.9 7.4h-7.8zM212.8 693.6l3.9 7.4h-7.8zM214.9 695l3.9 7.4h-7.8zM216.9 689.9l3.9 7.4h-7.8zM218.9 698.1l3.9 7.4h-7.8zM221 692.9l3.9 7.4h-7.8zM223 691.2l3.9 7.4h-7.8zM225.1 692.9l3.9 7.4h-7.8zM227.1 692.2l3.9 7.4h-7.8zM229.1 689.7l3.9 7.4h-7.8zM231.2 687.5l3.9 7.4h-7.8zM233.2 691.7l3.9 7.4h-7.8zM235.2 689.8l3.9 7.4h-7.8zM237.3 683.3l3.9 7.4h-7.8zM239.3 685.1l3.9 7.4h-7.8zM241.4 689.1l3.9 7.4h-7.8zM243.4 687.8l3.9 7.4h-7.8zM245.4 687.9l3.9 7.4h-7.8zM247.5 688.6l3.9 7.4h-7.8zM249.5 686.9l3.9 7.4h-7.8zM251.5 690.5l3.9 7.4h-7.8zM253.6 684.3l3.9 7.4h-7.8zM255.6 684.6l3.9 7.4h-7.8zM257.7 686.3l3.9 7.4h-7.8zM259.7 687.2l3.9 7.4h-7.8zM261.7 687l3.9 7.4h-7.8zM263.8 688.7l3.9 7.4h-7.8zM265.8 683.2l3.9 7.4h-7.8zM267.9 687.3l3.9 7.4h-7.8zM269.9 685.1l3.9 7.4h-7.8zM271.9 680.7l3.9 7.4h-7.8zM274 682.7l3.9 7.4h-7.8zM276 688.3l3.9 7.4h-7.8zM278 684.4l3.9 7.4h-7.8zM280.1 680.6l3.9 7.4h-7.8zM282.1 675.1l3.9 7.4h-7.8zM284.2 679.2l3.9 7.4h-7.8zM286.2 679l3.9 7.4h-7.8zM288.2 680.9l3.9 7.4h-7.8zM290.3 686.7l3.9 7.4h-7.8zM292.3 682.2l3.9 7.4h-7.8zM294.3 680.7l3.9 7.4h-7.8zM296.4 677l3.9 7.4h-7.8zM298.4 675.9l3.9 7.4h-7.8zM300.5 678.2l3.9 7.4h-7.8zM302.5 677.1l3.9 7.4h-7.8zM304.5 686.1l3.9 7.4h-7.8zM306.6 676.5l3.9 7.4h-7.8zM308.6 675.5l3.9 7.4h-7.8zM310.7 679.9l3.9 7.4h-7.8zM312.7 676.6l3.9 7.4h-7.8zM314.7 672.7l3.9 7.4h-7.8zM316.8 679.2l3.9 7.4h-7.8zM318.8 674.5l3.9 7.4h-7.8zM320.8 671.5l3.9 7.4h-7.8zM322.9 675.6l3.9 7.4h-7.8zM324.9 675.9l3.9 7.4h-7.8zM327 673.4l3.9 7.4h-7.8zM329 675.9l3.9 7.4h-7.8zM331 675.9l3.9 7.4h-7.8zM333.1 671l3.9 7.4h-7.8zM335.1 667.5l3.9 7.4h-7.8zM337.1 666.2l3.9 7.4h-7.8zM339.2 671.9l3.9 7.4h-7.8zM341.2 675.2l3.9 7.4h-7.8zM343.3 674.2l3.9 7.4h-7.8zM345.3 674.8l3.9 7.4h-7.8zM347.3 675.7l3.9 7.4h-7.8zM349.4 670.3l3.9 7.4h-7.8zM351.4 672.8l3.9 7.4h-7.8zM353.5 665.5l3.9 7.4h-7.8zM355.5 671.1l3.9 7.4h-7.8zM357.5 670l3.9 7.4h-7.8zM359.6 668.4l3.9 7.4h-7.8zM361.6 667.2l3.9 7.4h-7.8zM363.6 665.2l3.9 7.4h-7.8zM365.7 668.3l3.9 7.4h-7.8zM367.7 671.1l3.9 7.4h-7.8zM369.8 666.3l3.9 7.4h-7.8zM371.8 668.4l3.9 7.4h-7.8zM373.8 664.8l3.9 7.4h-7.8zM375.9 666.8l3.9 7.4h-7.8zM377.9 663l3.9 7.4h-7.8zM379.9 666.4l3.9 7.4h-7.8zM382 664.4l3.9 7.4h-7.8zM384 665.4l3.9 7.4h-7.8zM386.1 662.6l3.9 7.4h-7.8zM388.1 660.6l3.9 7.4h-7.8zM390.1 662.6l3.9 7.4h-7.8zM392.2 665.9l3.9 7.4h-7.8zM394.2 667.1l3.9 7.4h-7.8zM396.3 661.7l3.9 7.4h-7.8zM398.3 664.5l3.9 7.4h-7.8zM400.3 664.1l3.9 7.4h-7.8zM402.4 662.9l3.9 7.4h-7.8zM404.4 657.3l3.9 7.4h-7.8zM406.4 662l3.9 7.4h-7.8zM408.5 658.2l3.9 7.4h-7.8zM410.5 663.6l3.9 7.4h-7.8zM412.6 662.2l3.9 7.4h-7.8zM414.6 661.3l3.9 7.4h-7.8zM416.6 652.4l3.9 7.4h-7.8zM418.7 660.5l3.9 7.4h-7.8zM420.7 660.4l3.9 7.4h-7.8zM422.7 654.6l3.9 7.4h-7.8zM424.8 660.3l3.9 7.4h-7.8zM426.8 657.6l3.9 7.4h-7.8zM428.9 656.5l3.9 7.4h-7.8zM430.9 654.8l3.9 7.4h-7.8zM432.9 653.7l3.9 7.4h-7.8zM435 655l3.9 7.4h-7.8zM437 664.3l3.9 7.4h-7.8zM439.1 656.1l3.9 7.4h-7.8zM441.1 655.8l3.9 7.4h-7.8zM443.1 653.1l3.9 7.4h-7.8zM445.2 652.8l3.9 7.4h-7.8zM447.2 652.5l3.9 7.4h-7.8zM449.2 651.2l3.9 7.4h-7.8zM451.3 655.5l3.9 7.4h-7.8zM453.3 651.9l3.9 7.4h-7.8zM455.4 654.5l3.9 7.4h-7.8zM457.4 648.6l3.9 7.4h-7.8zM459.4 653.8l3.9 7.4h-7.8zM461.5 650.8l3.9 7.4h-7.8zM463.5 652.2l3.9 7.4h-7.8zM465.5 649.7l3.9 7.4h-7.8zM467.6 647.3l3.9 7.4h-7.8zM469.6 652.6l3.9 7.4h-7.8zM471.7 647.9l3.9 7.4h-7.8zM473.7 648.5l3.9 7.4h-7.8zM475.7 646.2l3.9 7.4h-7.8zM477.8 648.9l3.9 7.4h-7.8zM479.8 647l3.9 7.4h-7.8zM481.9 648.5l3.9 7.4h-7.8zM483.9 648.3l3.9 7.4h-7.8zM485.9 645.2l3.9 7.4h-7.8zM488 642.9l3.9 7.4h-7.8zM490 647.5l3.9 7.4h-7.8zM492 648.4l3.9 7.4h-7.8zM494.1 647.5l3.9 7.4h-7.8zM496.1 642.2l3.9 7.4h-7.8zM498.2 646.6l3.9 7.4h-7.8zM500.2 645.6l3.9 7.4h-7.8zM502.2 645.1l3.9 7.4h-7.8zM504.3 645.2l3.9 7.4h-7.8zM506.3 642.9l3.9 7.4h-7.8zM508.3 644.1l3.9 7.4h-7.8zM510.4 646l3.9 7.4h-7.8zM512.4 642.1l3.9 7.4h-7.8zM514.5 639.5l3.9 7.4h-7.8zM516.5 643l3.9 7.4h-7.8zM518.5 643.7l3.9 7.4h-7.8zM520.6 638.1l3.9 7.4h-7.8zM522.6 641.1l3.9 7.4h-7.8zM524.7 644.4l3.9 7.4h-7.8zM526.7 642.3l3.9 7.4h-7.8zM528.7 642.9l3.9 7.4h-7.8zM530.8 639.1l3.9 7.4h-7.8zM532.8 644.9l3.9 7.4h-7.8zM534.8 647.1l3.9 7.4h-7.8zM536.9 641.7l3.9 7.4h-7.8zM538.9 640.2l3.9 7.4h-7.8zM541 638.9l3.9 7.4h-7.8zM543 644.4l3.9 7.4h-7.8zM545 642.2l3.9 7.4h-7.8zM547.1 639.9l3.9 7.4h-7.8zM549.1 645.4l3.9 7.4h-7.8zM551.1 644.4l3.9 7.4h-7.8zM553.2 644.1l3.9 7.4h-7.8zM555.2 637.8l3.9 7.4h-7.8zM557.3 642.5l3.9 7.4h-7.8zM559.3 644.6l3.9 7.4h-7.8zM561.3 639.8l3.9 7.4h-7.8zM563.4 645.7l3.9 7.4h-7.8zM565.4 647.2l3.9 7.4h-7.8zM567.5 646.3l3.9 7.4h-7.8zM569.5 641.6l3.9 7.4h-7.8zM571.5 642.2l3.9 7.4h-7.8zM573.6 647.2l3.9 7.4h-7.8zM575.6 648l3.9 7.4h-7.8zM577.6 649.4l3.9 7.4h-7.8zM579.7 650.1l3.9 7.4h-7.8zM581.7 647.4l3.9 7.4h-7.8zM583.8 647.3l3.9 7.4h-7.8zM585.8 644.2l3.9 7.4h-7.8zM587.8 652.1l3.9 7.4h-7.8zM589.9 656.8l3.9 7.4h-7.8zM591.9 650l3.9 7.4h-7.8zM593.9 650.4l3.9 7.4h-7.8zM596 654l3.9 7.4h-7.8zM598 653.9l3.9 7.4h-7.8zM600.1 649.9l3.9 7.4h-7.8zM602.1 652.4l3.9 7.4h-7.8zM604.1 652.2l3.9 7.4h-7.8zM606.2 661.5l3.9 7.4h-7.8zM608.2 654.9l3.9 7.4h-7.8zM610.3 660l3.9 7.4h-7.8zM612.3 663.6l3.9 7.4h-7.8zM614.3 664.2l3.9 7.4h-7.8zM616.4 663.6l3.9 7.4h-7.8zM618.4 664.7l3.9 7.4h-7.8zM620.4 657.5l3.9 7.4h-7.8zM622.5 660.7l3.9 7.4h-7.8zM624.5 660.4l3.9 7.4h-7.8zM626.6 662.5l3.9 7.4h-7.8zM628.6 671.3l3.9 7.4h-7.8zM630.6 660.6l3.9 7.4h-7.8zM632.7 667.6l3.9 7.4h-7.8zM634.7 663.7l3.9 7.4h-7.8zM636.7 671.5l3.9 7.4h-7.8zM638.8 672.3l3.9 7.4h-7.8zM640.8 668.1l3.9 7.4h-7.8zM642.9 675.6l3.9 7.4h-7.8zM644.9 670.7l3.9 7.4h-7.8zM646.9 674.6l3.9 7.4h-7.8zM649 672.5l3.9 7.4h-7.8zM651 670.8l3.9 7.4h-7.8zM653.1 671.9l3.9 7.4h-7.8zM655.1 673l3.9 7.4h-7.8zM165.9 769.6l3.9 7.4h-7.8zM168 770.3l3.9 7.4h-7.8zM170 762.9l3.9 7.4h-7.8zM172.1 754.6l3.9 7.4h-7.8zM174.1 751.7l3.9 7.4h-7.8zM176.1 753.3l3.9 7.4h-7.8zM178.2 746.5l3.9 7.4h-7.8zM180.2 742.3l3.9 7.4h-7.8zM182.3 738.6l3.9 7.4h-7.8zM184.3 737.5l3.9 7.4h-7.8zM186.3 739.4l3.9 7.4h-7.8zM188.4 735.6l3.9 7.4h-7.8zM190.4 732.2l3.9 7.4h-7.8zM192.4 732.7l3.9 7.4h-7.8zM194.5 728.1l3.9 7.4h-7.8zM196.5 731.2l3.9 7.4h-7.8zM198.6 728.5l3.9 7.4h-7.8zM200.6 728l3.9 7.4h-7.8zM202.6 723.1l3.9 7.4h-7.8zM204.7 725.5l3.9 7.4h-7.8zM206.7 719.1l3.9 7.4h-7.8zM208.7 723l3.9 7.4h-7.8zM210.8 722l3.9 7.4h-7.8zM212.8 717.3l3.9 7.4h-7.8zM214.9 719l3.9 7.4h-7.8zM216.9 718.7l3.9 7.4h-7.8zM218.9 709.6l3.9 7.4h-7.8zM221 709.2l3.9 7.4h-7.8zM223 706.4l3.9 7.4h-7.8zM225.1 709.9l3.9 7.4h-7.8zM227.1 704.5l3.9 7.4h-7.8zM229.1 700.3l3.9 7.4h-7.8zM231.2 703.1l3.9 7.4h-7.8zM233.2 698.7l3.9 7.4h-7.8zM235.2 706.1l3.9 7.4h-7.8zM237.3 699.6l3.9 7.4h-7.8zM239.3 700.1l3.9 7.4h-7.8zM241.4 694.8l3.9 7.4h-7.8zM243.4 692.5l3.9 7.4h-7.8zM245.4 695.8l3.9 7.4h-7.8zM247.5 696.2l3.9 7.4h-7.8zM249.5 690.8l3.9 7.4h-7.8zM251.5 688.9l3.9 7.4h-7.8zM253.6 690.2l3.9 7.4h-7.8zM255.6 691.5l3.9 7.4h-7.8zM257.7 687l3.9 7.4h-7.8zM259.7 691.4l3.9 7.4h-7.8zM261.7 687.8l3.9 7.4h-7.8zM263.8 689.1l3.9 7.4h-7.8zM265.8 682.3l3.9 7.4h-7.8zM267.9 680.4l3.9 7.4h-7.8zM269.9 680.6l3.9 7.4h-7.8zM271.9 680.9l3.9 7.4h-7.8zM274 684.5l3.9 7.4h-7.8zM276 681.3l3.9 7.4h-7.8zM278 679.6l3.9 7.4h-7.8zM280.1 674.9l3.9 7.4h-7.8zM282.1 678l3.9 7.4h-7.8zM284.2 675.3l3.9 7.4h-7.8zM286.2 675.7l3.9 7.4h-7.8zM288.2 673.4l3.9 7.4h-7.8zM290.3 670.9l3.9 7.4h-7.8zM292.3 673.6l3.9 7.4h-7.8zM294.3 675l3.9 7.4h-7.8zM296.4 670.4l3.9 7.4h-7.8zM298.4 672.4l3.9 7.4h-7.8zM300.5 675.7l3.9 7.4h-7.8zM302.5 671.9l3.9 7.4h-7.8zM304.5 672.5l3.9 7.4h-7.8zM306.6 666.9l3.9 7.4h-7.8zM308.6 668.8l3.9 7.4h-7.8zM310.7 664l3.9 7.4h-7.8zM312.7 666l3.9 7.4h-7.8zM314.7 662.9l3.9 7.4h-7.8zM316.8 664l3.9 7.4h-7.8zM318.8 660l3.9 7.4h-7.8zM320.8 664l3.9 7.4h-7.8zM322.9 661.7l3.9 7.4h-7.8zM324.9 662.1l3.9 7.4h-7.8zM327 659.6l3.9 7.4h-7.8zM329 653.7l3.9 7.4h-7.8zM331 657.8l3.9 7.4h-7.8zM333.1 660.5l3.9 7.4h-7.8zM335.1 657.7l3.9 7.4h-7.8zM337.1 656.2l3.9 7.4h-7.8zM339.2 658.4l3.9 7.4h-7.8zM341.2 660.7l3.9 7.4h-7.8zM343.3 657l3.9 7.4h-7.8zM345.3 655.3l3.9 7.4h-7.8zM347.3 651.3l3.9 7.4h-7.8zM349.4 650.9l3.9 7.4h-7.8zM351.4 655.2l3.9 7.4h-7.8zM353.5 652.3l3.9 7.4h-7.8zM355.5 651.1l3.9 7.4h-7.8zM357.5 651.9l3.9 7.4h-7.8zM359.6 647.8l3.9 7.4h-7.8zM361.6 642l3.9 7.4h-7.8zM363.6 647.5l3.9 7.4h-7.8zM365.7 649.6l3.9 7.4h-7.8zM367.7 645.4l3.9 7.4h-7.8zM369.8 645.7l3.9 7.4h-7.8zM371.8 646.7l3.9 7.4h-7.8zM373.8 649.1l3.9 7.4h-7.8zM375.9 640.7l3.9 7.4h-7.8zM377.9 644.5l3.9 7.4h-7.8zM379.9 646.9l3.9 7.4h-7.8zM382 639.3l3.9 7.4h-7.8zM384 642.7l3.9 7.4h-7.8zM386.1 642l3.9 7.4h-7.8zM388.1 643.4l3.9 7.4h-7.8zM390.1 639.4l3.9 7.4h-7.8zM392.2 636.7l3.9 7.4h-7.8zM394.2 634.7l3.9 7.4h-7.8zM396.3 633.9l3.9 7.4h-7.8zM398.3 635.1l3.9 7.4h-7.8zM400.3 633.3l3.9 7.4h-7.8zM402.4 636.8l3.9 7.4h-7.8zM404.4 635.5l3.9 7.4h-7.8zM406.4 629.9l3.9 7.4h-7.8zM408.5 636.7l3.9 7.4h-7.8zM410.5 633.5l3.9 7.4h-7.8zM412.6 626.6l3.9 7.4h-7.8zM414.6 631.7l3.9 7.4h-7.8zM416.6 631.2l3.9 7.4h-7.8zM418.7 630l3.9 7.4h-7.8zM420.7 625.4l3.9 7.4h-7.8zM422.7 627.5l3.9 7.4h-7.8zM424.8 626.1l3.9 7.4h-7.8zM426.8 623.1l3.9 7.4h-7.8zM428.9 628.2l3.9 7.4h-7.8zM430.9 624.3l3.9 7.4h-7.8zM432.9 624.9l3.9 7.4h-7.8zM435 623.1l3.9 7.4h-7.8zM437 626.1l3.9 7.4h-7.8zM439.1 622.2l3.9 7.4h-7.8zM441.1 618.4l3.9 7.4h-7.8zM443.1 617.4l3.9 7.4h-7.8zM445.2 614.9l3.9 7.4h-7.8zM447.2 617.4l3.9 7.4h-7.8zM449.2 617.5l3.9 7.4h-7.8zM451.3 616.1l3.9 7.4h-7.8zM453.3 623.4l3.9 7.4h-7.8zM455.4 616.1l3.9 7.4h-7.8zM457.4 615l3.9 7.4h-7.8zM459.4 615.9l3.9 7.4h-7.8zM461.5 615.5l3.9 7.4h-7.8zM463.5 619l3.9 7.4h-7.8zM465.5 615.4l3.9 7.4h-7.8zM467.6 612.1l3.9 7.4h-7.8zM469.6 614.5l3.9 7.4h-7.8zM471.7 618.2l3.9 7.4h-7.8zM473.7 615.4l3.9 7.4h-7.8zM475.7 613.6l3.9 7.4h-7.8zM477.8 615.8l3.9 7.4h-7.8zM479.8 613.8l3.9 7.4h-7.8zM481.9 612.1l3.9 7.4h-7.8zM483.9 612l3.9 7.4h-7.8zM485.9 617.8l3.9 7.4h-7.8zM488 613.8l3.9 7.4h-7.8zM490 616.4l3.9 7.4h-7.8zM492 613l3.9 7.4h-7.8zM494.1 614.6l3.9 7.4h-7.8zM496.1 621.8l3.9 7.4h-7.8zM498.2 611.1l3.9 7.4h-7.8zM500.2 619.6l3.9 7.4h-7.8zM502.2 618l3.9 7.4h-7.8zM504.3 618.2l3.9 7.4h-7.8zM506.3 616.3l3.9 7.4h-7.8zM508.3 622.5l3.9 7.4h-7.8zM510.4 618.9l3.9 7.4h-7.8zM512.4 622l3.9 7.4h-7.8zM514.5 624l3.9 7.4h-7.8zM516.5 619.7l3.9 7.4h-7.8zM518.5 619.6l3.9 7.4h-7.8zM520.6 619.5l3.9 7.4h-7.8zM522.6 618.5l3.9 7.4h-7.8zM524.7 619.8l3.9 7.4h-7.8zM526.7 623.1l3.9 7.4h-7.8zM528.7 626.1l3.9 7.4h-7.8zM530.8 620.9l3.9 7.4h-7.8zM532.8 618.1l3.9 7.4h-7.8zM534.8 624.2l3.9 7.4h-7.8zM536.9 627.5l3.9 7.4h-7.8zM538.9 629.8l3.9 7.4h-7.8zM541 627.6l3.9 7.4h-7.8zM543 629l3.9 7.4h-7.8zM545 626.1l3.9 7.4h-7.8zM547.1 628.9l3.9 7.4h-7.8zM549.1 626.8l3.9 7.4h-7.8zM551.1 621.5l3.9 7.4h-7.8zM553.2 626.8l3.9 7.4h-7.8zM555.2 624.5l3.9 7.4h-7.8zM557.3 624.6l3.9 7.4h-7.8zM559.3 626.7l3.9 7.4h-7.8zM561.3 623.9l3.9 7.4h-7.8zM563.4 625.2l3.9 7.4h-7.8zM565.4 630.4l3.9 7.4h-7.8zM567.5 627.8l3.9 7.4h-7.8zM569.5 626.3l3.9 7.4h-7.8zM571.5 623.8l3.9 7.4h-7.8zM573.6 628.6l3.9 7.4h-7.8zM575.6 626.4l3.9 7.4h-7.8zM577.6 628.1l3.9 7.4h-7.8zM579.7 628.5l3.9 7.4h-7.8zM581.7 625.4l3.9 7.4h-7.8zM583.8 628.5l3.9 7.4h-7.8zM585.8 626.7l3.9 7.4h-7.8zM587.8 629.6l3.9 7.4h-7.8zM589.9 629.3l3.9 7.4h-7.8zM591.9 628.2l3.9 7.4h-7.8zM593.9 632.2l3.9 7.4h-7.8zM596 627.7l3.9 7.4h-7.8zM598 625.4l3.9 7.4h-7.8zM600.1 629.2l3.9 7.4h-7.8zM602.1 631.1l3.9 7.4h-7.8zM604.1 633l3.9 7.4h-7.8zM606.2 631.8l3.9 7.4h-7.8zM608.2 633.4l3.9 7.4h-7.8zM610.3 631.7l3.9 7.4h-7.8zM612.3 637.2l3.9 7.4h-7.8zM614.3 632.1l3.9 7.4h-7.8zM616.4 634.4l3.9 7.4h-7.8zM618.4 634.2l3.9 7.4h-7.8zM620.4 634.9l3.9 7.4h-7.8zM622.5 636.6l3.9 7.4h-7.8zM624.5 634.9l3.9 7.4h-7.8zM626.6 636.9l3.9 7.4h-7.8zM628.6 639.2l3.9 7.4h-7.8zM630.6 636.4l3.9 7.4h-7.8zM632.7 634.2l3.9 7.4h-7.8zM634.7 639.9l3.9 7.4h-7.8zM636.7 639.4l3.9 7.4h-7.8zM638.8 638.8l3.9 7.4h-7.8zM640.8 642.9l3.9 7.4h-7.8zM642.9 643.4l3.9 7.4h-7.8zM644.9 649.5l3.9 7.4h-7.8zM646.9 646.2l3.9 7.4h-7.8zM649 644.8l3.9 7.4h-7.8zM651 645.3l3.9 7.4h-7.8zM653.1 637.6l3.9 7.4h-7.8zM655.1 647.8l3.9 7.4h-7.8zM165.9 768.6l3.9 7.4h-7.8zM168 765.7l3.9 7.4h-7.8zM170 761.1l3.9 7.4h-7.8zM172.1 759.2l3.9 7.4h-7.8zM174.1 754.4l3.9 7.4h-7.8zM176.1 750.1l3.9 7.4h-7.8zM178.2 750.5l3.9 7.4h-7.8zM180.2 746.4l3.9 7.4h-7.8zM182.3 745.6l3.9 7.4h-7.8zM184.3 751.4l3.9 7.4h-7.8zM186.3 742l3.9 7.4h-7.8zM188.4 738.2l3.9 7.4h-7.8zM190.4 731.7l3.9 7.4h-7.8zM192.4 735.1l3.9 7.4h-7.8zM194.5 735.3l3.9 7.4h-7.8zM196.5 729.6l3.9 7.4h-7.8zM198.6 729l3.9 7.4h-7.8zM200.6 721.7l3.9 7.4h-7.8zM202.6 727.7l3.9 7.4h-7.8zM204.7 723.3l3.9 7.4h-7.8zM206.7 725.7l3.9 7.4h-7.8zM208.7 726.1l3.9 7.4h-7.8zM210.8 720.5l3.9 7.4h-7.8zM212.8 721.9l3.9 7.4h-7.8zM214.9 718.3l3.9 7.4h-7.8zM216.9 715.6l3.9 7.4h-7.8zM218.9 714.1l3.9 7.4h-7.8zM221 711.6l3.9 7.4h-7.8zM223 716l3.9 7.4h-7.8zM225.1 713.3l3.9 7.4h-7.8zM227.1 706.6l3.9 7.4h-7.8zM229.1 709.9l3.9 7.4h-7.8zM231.2 704.3l3.9 7.4h-7.8zM233.2 701l3.9 7.4h-7.8zM235.2 707.5l3.9 7.4h-7.8zM237.3 699.6l3.9 7.4h-7.8zM239.3 705l3.9 7.4h-7.8zM241.4 701l3.9 7.4h-7.8zM243.4 701.6l3.9 7.4h-7.8zM245.4 699.4l3.9 7.4h-7.8zM247.5 700.2l3.9 7.4h-7.8zM249.5 697.3l3.9 7.4h-7.8zM251.5 697.1l3.9 7.4h-7.8zM253.6 695.2l3.9 7.4h-7.8zM255.6 696.4l3.9 7.4h-7.8zM257.7 691.2l3.9 7.4h-7.8zM259.7 694l3.9 7.4h-7.8zM261.7 694.4l3.9 7.4h-7.8zM263.8 689.4l3.9 7.4h-7.8zM265.8 690.2l3.9 7.4h-7.8zM267.9 686.9l3.9 7.4h-7.8zM269.9 686.6l3.9 7.4h-7.8zM271.9 687.2l3.9 7.4h-7.8zM274 684.6l3.9 7.4h-7.8zM276 682.1l3.9 7.4h-7.8zM278 683.5l3.9 7.4h-7.8zM280.1 683.1l3.9 7.4h-7.8zM282.1 682.5l3.9 7.4h-7.8zM284.2 682.7l3.9 7.4h-7.8zM286.2 675.3l3.9 7.4h-7.8zM288.2 683.2l3.9 7.4h-7.8zM290.3 678.5l3.9 7.4h-7.8zM292.3 676.3l3.9 7.4h-7.8zM294.3 676.7l3.9 7.4h-7.8zM296.4 678.2l3.9 7.4h-7.8zM298.4 678.6l3.9 7.4h-7.8zM300.5 674.5l3.9 7.4h-7.8zM302.5 675.2l3.9 7.4h-7.8zM304.5 669.6l3.9 7.4h-7.8zM306.6 673.6l3.9 7.4h-7.8zM308.6 672.1l3.9 7.4h-7.8zM310.7 670.5l3.9 7.4h-7.8zM312.7 673.3l3.9 7.4h-7.8zM314.7 675.1l3.9 7.4h-7.8zM316.8 672.5l3.9 7.4h-7.8zM318.8 667.1l3.9 7.4h-7.8zM320.8 672.9l3.9 7.4h-7.8zM322.9 667.4l3.9 7.4h-7.8zM324.9 667.6l3.9 7.4h-7.8zM327 665.4l3.9 7.4h-7.8zM329 667.5l3.9 7.4h-7.8zM331 667.1l3.9 7.4h-7.8zM333.1 665.3l3.9 7.4h-7.8zM335.1 663.6l3.9 7.4h-7.8zM337.1 663.1l3.9 7.4h-7.8zM339.2 661.7l3.9 7.4h-7.8zM341.2 664.8l3.9 7.4h-7.8zM343.3 660.2l3.9 7.4h-7.8zM345.3 660.8l3.9 7.4h-7.8zM347.3 660.2l3.9 7.4h-7.8zM349.4 658.2l3.9 7.4h-7.8zM351.4 659l3.9 7.4h-7.8zM353.5 655l3.9 7.4h-7.8zM355.5 659.3l3.9 7.4h-7.8zM357.5 658.9l3.9 7.4h-7.8zM359.6 655.9l3.9 7.4h-7.8zM361.6 660.1l3.9 7.4h-7.8zM363.6 653l3.9 7.4h-7.8zM365.7 655.9l3.9 7.4h-7.8zM367.7 655.1l3.9 7.4h-7.8zM369.8 651.7l3.9 7.4h-7.8zM371.8 651.9l3.9 7.4h-7.8zM373.8 654.5l3.9 7.4h-7.8zM375.9 651.8l3.9 7.4h-7.8zM377.9 651.8l3.9 7.4h-7.8zM379.9 654.1l3.9 7.4h-7.8zM382 650.1l3.9 7.4h-7.8zM384 644.3l3.9 7.4h-7.8zM386.1 646l3.9 7.4h-7.8zM388.1 649.3l3.9 7.4h-7.8zM390.1 645.9l3.9 7.4h-7.8zM392.2 642.6l3.9 7.4h-7.8zM394.2 639.4l3.9 7.4h-7.8zM396.3 644.9l3.9 7.4h-7.8zM398.3 647.4l3.9 7.4h-7.8zM400.3 639.5l3.9 7.4h-7.8zM402.4 636.5l3.9 7.4h-7.8zM404.4 643.1l3.9 7.4h-7.8zM406.4 639.7l3.9 7.4h-7.8zM408.5 639.7l3.9 7.4h-7.8zM410.5 638.8l3.9 7.4h-7.8zM412.6 636.5l3.9 7.4h-7.8zM414.6 639.3l3.9 7.4h-7.8zM416.6 639.8l3.9 7.4h-7.8zM418.7 637.5l3.9 7.4h-7.8zM420.7 634.3l3.9 7.4h-7.8zM422.7 637.9l3.9 7.4h-7.8zM424.8 634.2l3.9 7.4h-7.8zM426.8 635.5l3.9 7.4h-7.8zM428.9 631l3.9 7.4h-7.8zM430.9 634.8l3.9 7.4h-7.8zM432.9 634.5l3.9 7.4h-7.8zM435 635.4l3.9 7.4h-7.8zM437 631.4l3.9 7.4h-7.8zM439.1 631.8l3.9 7.4h-7.8zM441.1 628.4l3.9 7.4h-7.8zM443.1 631.6l3.9 7.4h-7.8zM445.2 630.6l3.9 7.4h-7.8zM447.2 630.8l3.9 7.4h-7.8zM449.2 626.2l3.9 7.4h-7.8zM451.3 623.4l3.9 7.4h-7.8zM453.3 626l3.9 7.4h-7.8zM455.4 625.2l3.9 7.4h-7.8zM457.4 623.4l3.9 7.4h-7.8zM459.4 626.7l3.9 7.4h-7.8zM461.5 627.3l3.9 7.4h-7.8zM463.5 625.4l3.9 7.4h-7.8zM465.5 626.9l3.9 7.4h-7.8zM467.6 624.5l3.9 7.4h-7.8zM469.6 620.4l3.9 7.4h-7.8zM471.7 621l3.9 7.4h-7.8zM473.7 621.2l3.9 7.4h-7.8zM475.7 623.5l3.9 7.4h-7.8zM477.8 623.8l3.9 7.4h-7.8zM479.8 621.3l3.9 7.4h-7.8zM481.9 623.3l3.9 7.4h-7.8zM483.9 618.1l3.9 7.4h-7.8zM485.9 620.3l3.9 7.4h-7.8zM488 624.8l3.9 7.4h-7.8zM490 622.3l3.9 7.4h-7.8zM492 624.2l3.9 7.4h-7.8zM494.1 616.8l3.9 7.4h-7.8zM496.1 617.7l3.9 7.4h-7.8zM498.2 620.2l3.9 7.4h-7.8zM500.2 625.6l3.9 7.4h-7.8zM502.2 627.6l3.9 7.4h-7.8zM504.3 621.9l3.9 7.4h-7.8zM506.3 621.2l3.9 7.4h-7.8zM508.3 621.4l3.9 7.4h-7.8zM510.4 622l3.9 7.4h-7.8zM512.4 626.1l3.9 7.4h-7.8zM514.5 624.1l3.9 7.4h-7.8zM516.5 630.2l3.9 7.4h-7.8zM518.5 627.5l3.9 7.4h-7.8zM520.6 624.2l3.9 7.4h-7.8zM522.6 627l3.9 7.4h-7.8zM524.7 626.4l3.9 7.4h-7.8zM526.7 629.3l3.9 7.4h-7.8zM528.7 630.1l3.9 7.4h-7.8zM530.8 627.1l3.9 7.4h-7.8zM532.8 630.8l3.9 7.4h-7.8zM534.8 630.3l3.9 7.4h-7.8zM536.9 628.8l3.9 7.4h-7.8zM538.9 630l3.9 7.4h-7.8zM541 631.2l3.9 7.4h-7.8zM543 628.7l3.9 7.4h-7.8zM545 627.8l3.9 7.4h-7.8zM547.1 633.1l3.9 7.4h-7.8zM549.1 629.9l3.9 7.4h-7.8zM551.1 628.5l3.9 7.4h-7.8zM553.2 631.4l3.9 7.4h-7.8zM555.2 626.4l3.9 7.4h-7.8zM557.3 630.6l3.9 7.4h-7.8zM559.3 627l3.9 7.4h-7.8zM561.3 629.6l3.9 7.4h-7.8zM563.4 626.1l3.9 7.4h-7.8zM565.4 629l3.9 7.4h-7.8zM567.5 633.4l3.9 7.4h-7.8zM569.5 630.6l3.9 7.4h-7.8zM571.5 628l3.9 7.4h-7.8zM573.6 636l3.9 7.4h-7.8zM575.6 629.8l3.9 7.4h-7.8zM577.6 635.5l3.9 7.4h-7.8zM579.7 630.3l3.9 7.4h-7.8zM581.7 628l3.9 7.4h-7.8zM583.8 636.9l3.9 7.4h-7.8zM585.8 631l3.9 7.4h-7.8zM587.8 634.3l3.9 7.4h-7.8zM589.9 635.5l3.9 7.4h-7.8zM591.9 629l3.9 7.4h-7.8zM593.9 632.8l3.9 7.4h-7.8zM596 631.4l3.9 7.4h-7.8zM598 634.9l3.9 7.4h-7.8zM600.1 633.7l3.9 7.4h-7.8zM602.1 630.8l3.9 7.4h-7.8zM604.1 634.8l3.9 7.4h-7.8zM606.2 637.2l3.9 7.4h-7.8zM608.2 634.9l3.9 7.4h-7.8zM610.3 637.7l3.9 7.4h-7.8zM612.3 635.3l3.9 7.4h-7.8zM614.3 637.1l3.9 7.4h-7.8zM616.4 638.6l3.9 7.4h-7.8zM618.4 638.5l3.9 7.4h-7.8zM620.4 641.8l3.9 7.4h-7.8zM622.5 641.3l3.9 7.4h-7.8zM624.5 641.5l3.9 7.4h-7.8zM626.6 641.7l3.9 7.4h-7.8zM628.6 640.8l3.9 7.4h-7.8zM630.6 638l3.9 7.4h-7.8zM632.7 644.6l3.9 7.4h-7.8zM634.7 647.1l3.9 7.4h-7.8zM636.7 643.8l3.9 7.4h-7.8zM638.8 643.1l3.9 7.4h-7.8zM640.8 644.3l3.9 7.4h-7.8zM642.9 648l3.9 7.4h-7.8zM644.9 646.1l3.9 7.4h-7.8zM646.9 643.5l3.9 7.4h-7.8zM649 646.4l3.9 7.4h-7.8zM651 645.6l3.9 7.4h-7.8zM653.1 647.8l3.9 7.4h-7.8zM655.1 646.5l3.9 7.4h-7.8zM165.9 766.5l3.9 7.4h-7.8zM168 758.8l3.9 7.4h-7.8zM170 762.8l3.9 7.4h-7.8zM172.1 755.8l3.9 7.4h-7.8zM174.1 752.7l3.9 7.4h-7.8zM176.1 755.3l3.9 7.4h-7.8zM178.2 747.1l3.9 7.4h-7.8zM180.2 745.6l3.9 7.4h-7.8zM182.3 747.4l3.9 7.4h-7.8zM184.3 743.3l3.9 7.4h-7.8zM186.3 739.4l3.9 7.4h-7.8zM188.4 743l3.9 7.4h-7.8zM190.4 738.7l3.9 7.4h-7.8zM192.4 739l3.9 7.4h-7.8zM194.5 739.4l3.9 7.4h-7.8zM196.5 734.4l3.9 7.4h-7.8zM198.6 739l3.9 7.4h-7.8zM200.6 728l3.9 7.4h-7.8zM202.6 731.7l3.9 7.4h-7.8zM204.7 730.8l3.9 7.4h-7.8zM206.7 723.3l3.9 7.4h-7.8zM208.7 727.2l3.9 7.4h-7.8zM210.8 718.7l3.9 7.4h-7.8zM212.8 725.9l3.9 7.4h-7.8zM214.9 721.3l3.9 7.4h-7.8zM216.9 718.9l3.9 7.4h-7.8zM218.9 717.4l3.9 7.4h-7.8zM221 715.4l3.9 7.4h-7.8zM223 717.6l3.9 7.4h-7.8zM225.1 714.5l3.9 7.4h-7.8zM227.1 711.4l3.9 7.4h-7.8zM229.1 702.3l3.9 7.4h-7.8zM231.2 711.2l3.9 7.4h-7.8zM233.2 710l3.9 7.4h-7.8zM235.2 710.9l3.9 7.4h-7.8zM237.3 707l3.9 7.4h-7.8zM239.3 702.7l3.9 7.4h-7.8zM241.4 704.3l3.9 7.4h-7.8zM243.4 701l3.9 7.4h-7.8zM245.4 706.2l3.9 7.4h-7.8zM247.5 701.9l3.9 7.4h-7.8zM249.5 698.2l3.9 7.4h-7.8zM251.5 696.3l3.9 7.4h-7.8zM253.6 700.5l3.9 7.4h-7.8zM255.6 697.8l3.9 7.4h-7.8zM257.7 688.4l3.9 7.4h-7.8zM259.7 691.7l3.9 7.4h-7.8zM261.7 696.7l3.9 7.4h-7.8zM263.8 688.6l3.9 7.4h-7.8zM265.8 691.3l3.9 7.4h-7.8zM267.9 693l3.9 7.4h-7.8zM269.9 692.5l3.9 7.4h-7.8zM271.9 695.2l3.9 7.4h-7.8zM274 693.3l3.9 7.4h-7.8zM276 688.4l3.9 7.4h-7.8zM278 690.6l3.9 7.4h-7.8zM280.1 688.3l3.9 7.4h-7.8zM282.1 687.3l3.9 7.4h-7.8zM284.2 688.3l3.9 7.4h-7.8zM286.2 684.5l3.9 7.4h-7.8zM288.2 685.9l3.9 7.4h-7.8zM290.3 686l3.9 7.4h-7.8zM292.3 682.3l3.9 7.4h-7.8zM294.3 683.9l3.9 7.4h-7.8zM296.4 678.8l3.9 7.4h-7.8zM298.4 681l3.9 7.4h-7.8zM300.5 680l3.9 7.4h-7.8zM302.5 680.2l3.9 7.4h-7.8zM304.5 683.9l3.9 7.4h-7.8zM306.6 680.2l3.9 7.4h-7.8zM308.6 676.9l3.9 7.4h-7.8zM310.7 677.7l3.9 7.4h-7.8zM312.7 677.3l3.9 7.4h-7.8zM314.7 678.3l3.9 7.4h-7.8zM316.8 676.8l3.9 7.4h-7.8zM318.8 674.5l3.9 7.4h-7.8zM320.8 676.2l3.9 7.4h-7.8zM322.9 671.4l3.9 7.4h-7.8zM324.9 669l3.9 7.4h-7.8zM327 675.1l3.9 7.4h-7.8zM329 671.3l3.9 7.4h-7.8zM331 672l3.9 7.4h-7.8zM333.1 667.1l3.9 7.4h-7.8zM335.1 669l3.9 7.4h-7.8zM337.1 668.1l3.9 7.4h-7.8zM339.2 667.5l3.9 7.4h-7.8zM341.2 673.5l3.9 7.4h-7.8zM343.3 666.1l3.9 7.4h-7.8zM345.3 670.6l3.9 7.4h-7.8zM347.3 667.2l3.9 7.4h-7.8zM349.4 668.9l3.9 7.4h-7.8zM351.4 662.4l3.9 7.4h-7.8zM353.5 665.8l3.9 7.4h-7.8zM355.5 665.4l3.9 7.4h-7.8zM357.5 664.8l3.9 7.4h-7.8zM359.6 664.6l3.9 7.4h-7.8zM361.6 664.9l3.9 7.4h-7.8zM363.6 663.1l3.9 7.4h-7.8zM365.7 661.3l3.9 7.4h-7.8zM367.7 658.3l3.9 7.4h-7.8zM369.8 659.6l3.9 7.4h-7.8zM371.8 659.5l3.9 7.4h-7.8zM373.8 660.7l3.9 7.4h-7.8zM375.9 665.2l3.9 7.4h-7.8zM377.9 661.4l3.9 7.4h-7.8zM379.9 657.7l3.9 7.4h-7.8zM382 658.6l3.9 7.4h-7.8zM384 651.7l3.9 7.4h-7.8zM386.1 655.2l3.9 7.4h-7.8zM388.1 652l3.9 7.4h-7.8zM390.1 655.6l3.9 7.4h-7.8zM392.2 648.5l3.9 7.4h-7.8zM394.2 653.5l3.9 7.4h-7.8zM396.3 644.2l3.9 7.4h-7.8zM398.3 656.8l3.9 7.4h-7.8zM400.3 654.9l3.9 7.4h-7.8zM402.4 647.1l3.9 7.4h-7.8zM404.4 652.5l3.9 7.4h-7.8zM406.4 649.4l3.9 7.4h-7.8zM408.5 654.7l3.9 7.4h-7.8zM410.5 651.6l3.9 7.4h-7.8zM412.6 647.9l3.9 7.4h-7.8zM414.6 647.1l3.9 7.4h-7.8zM416.6 648.6l3.9 7.4h-7.8zM418.7 642.6l3.9 7.4h-7.8zM420.7 647.5l3.9 7.4h-7.8zM422.7 644.9l3.9 7.4h-7.8zM424.8 641l3.9 7.4h-7.8zM426.8 641.3l3.9 7.4h-7.8zM428.9 640.6l3.9 7.4h-7.8zM430.9 641l3.9 7.4h-7.8zM432.9 647.3l3.9 7.4h-7.8zM435 640.5l3.9 7.4h-7.8zM437 641.5l3.9 7.4h-7.8zM439.1 637.5l3.9 7.4h-7.8zM441.1 642.9l3.9 7.4h-7.8zM443.1 639.5l3.9 7.4h-7.8zM445.2 642.1l3.9 7.4h-7.8zM447.2 633.2l3.9 7.4h-7.8zM449.2 635.4l3.9 7.4h-7.8zM451.3 636.6l3.9 7.4h-7.8zM453.3 636.6l3.9 7.4h-7.8zM455.4 636.6l3.9 7.4h-7.8zM457.4 636.7l3.9 7.4h-7.8zM459.4 634.1l3.9 7.4h-7.8zM461.5 634.2l3.9 7.4h-7.8zM463.5 630.9l3.9 7.4h-7.8zM465.5 633.1l3.9 7.4h-7.8zM467.6 631.2l3.9 7.4h-7.8zM469.6 635.2l3.9 7.4h-7.8zM471.7 633.5l3.9 7.4h-7.8zM473.7 630.7l3.9 7.4h-7.8zM475.7 632.5l3.9 7.4h-7.8zM477.8 628.7l3.9 7.4h-7.8zM479.8 630l3.9 7.4h-7.8zM481.9 628.3l3.9 7.4h-7.8zM483.9 632.2l3.9 7.4h-7.8zM485.9 629.1l3.9 7.4h-7.8zM488 631.2l3.9 7.4h-7.8zM490 628.9l3.9 7.4h-7.8zM492 625.8l3.9 7.4h-7.8zM494.1 631.6l3.9 7.4h-7.8zM496.1 630.2l3.9 7.4h-7.8zM498.2 631.2l3.9 7.4h-7.8zM500.2 626.4l3.9 7.4h-7.8zM502.2 623.4l3.9 7.4h-7.8zM504.3 628.5l3.9 7.4h-7.8zM506.3 630.8l3.9 7.4h-7.8zM508.3 624.2l3.9 7.4h-7.8zM510.4 635.7l3.9 7.4h-7.8zM512.4 631.7l3.9 7.4h-7.8zM514.5 632.6l3.9 7.4h-7.8zM516.5 626.9l3.9 7.4h-7.8zM518.5 632.6l3.9 7.4h-7.8zM520.6 631l3.9 7.4h-7.8zM522.6 633.9l3.9 7.4h-7.8zM524.7 634.6l3.9 7.4h-7.8zM526.7 627.3l3.9 7.4h-7.8zM528.7 628.7l3.9 7.4h-7.8zM530.8 628.8l3.9 7.4h-7.8zM532.8 630.1l3.9 7.4h-7.8zM534.8 630.9l3.9 7.4h-7.8zM536.9 633.8l3.9 7.4h-7.8zM538.9 628.2l3.9 7.4h-7.8zM541 628l3.9 7.4h-7.8zM543 633l3.9 7.4h-7.8zM545 629.6l3.9 7.4h-7.8zM547.1 633.3l3.9 7.4h-7.8zM549.1 632.5l3.9 7.4h-7.8zM551.1 635.7l3.9 7.4h-7.8zM553.2 629.3l3.9 7.4h-7.8zM555.2 630.8l3.9 7.4h-7.8zM557.3 636l3.9 7.4h-7.8zM559.3 633.2l3.9 7.4h-7.8zM561.3 629l3.9 7.4h-7.8zM563.4 633.7l3.9 7.4h-7.8zM565.4 627.4l3.9 7.4h-7.8zM567.5 629.1l3.9 7.4h-7.8zM569.5 634.4l3.9 7.4h-7.8zM571.5 635.2l3.9 7.4h-7.8zM573.6 637.3l3.9 7.4h-7.8zM575.6 632.8l3.9 7.4h-7.8zM577.6 631.4l3.9 7.4h-7.8zM579.7 637.2l3.9 7.4h-7.8zM581.7 636l3.9 7.4h-7.8zM583.8 633.2l3.9 7.4h-7.8zM585.8 634.4l3.9 7.4h-7.8zM587.8 632.5l3.9 7.4h-7.8zM589.9 636.8l3.9 7.4h-7.8zM591.9 633.5l3.9 7.4h-7.8zM593.9 634.3l3.9 7.4h-7.8zM596 639.2l3.9 7.4h-7.8zM598 630.7l3.9 7.4h-7.8zM600.1 629.8l3.9 7.4h-7.8zM602.1 637.7l3.9 7.4h-7.8zM604.1 631.6l3.9 7.4h-7.8zM606.2 627.8l3.9 7.4h-7.8zM608.2 636.3l3.9 7.4h-7.8zM610.3 642.4l3.9 7.4h-7.8zM612.3 640.1l3.9 7.4h-7.8zM614.3 637.9l3.9 7.4h-7.8zM616.4 636.9l3.9 7.4h-7.8zM618.4 640.3l3.9 7.4h-7.8zM620.4 636.9l3.9 7.4h-7.8zM622.5 634.7l3.9 7.4h-7.8zM624.5 639l3.9 7.4h-7.8zM626.6 641.4l3.9 7.4h-7.8zM628.6 643.1l3.9 7.4h-7.8zM630.6 640.9l3.9 7.4h-7.8zM632.7 641.2l3.9 7.4h-7.8zM634.7 638l3.9 7.4h-7.8zM636.7 641.3l3.9 7.4h-7.8zM638.8 641.3l3.9 7.4h-7.8zM640.8 643.8l3.9 7.4h-7.8zM642.9 645.6l3.9 7.4h-7.8zM644.9 639.4l3.9 7.4h-7.8zM646.9 645.4l3.9 7.4h-7.8zM649 642.2l3.9 7.4h-7.8zM651 650.2l3.9 7.4h-7.8zM653.1 644.1l3.9 7.4h-7.8zM655.1 648.7l3.9 7.4h-7.8zM165.9 770.1l3.9 7.4h-7.8zM168 769.4l3.9 7.4h-7.8zM170 766.5l3.9 7.4h-7.8zM172.1 767.5l3.9 7.4h-7.8zM174.1 759.9l3.9 7.4h-7.8zM176.1 763l3.9 7.4h-7.8zM178.2 761.9l3.9 7.4h-7.8zM180.2 757.3l3.9 7.4h-7.8zM182.3 763.3l3.9 7.4h-7.8zM184.3 756.5l3.9 7.4h-7.8zM186.3 756.5l3.9 7.4h-7.8zM188.4 765.6l3.9 7.4h-7.8zM190.4 762.1l3.9 7.4h-7.8zM192.4 759.6l3.9 7.4h-7.8zM194.5 761.5l3.9 7.4h-7.8zM196.5 760.7l3.9 7.4h-7.8zM198.6 755.2l3.9 7.4h-7.8zM200.6 758.6l3.9 7.4h-7.8zM202.6 760.5l3.9 7.4h-7.8zM204.7 756.8l3.9 7.4h-7.8zM206.7 757.2l3.9 7.4h-7.8zM208.7 755.8l3.9 7.4h-7.8zM210.8 758.4l3.9 7.4h-7.8zM212.8 755.2l3.9 7.4h-7.8zM214.9 754.9l3.9 7.4h-7.8zM216.9 753.2l3.9 7.4h-7.8zM218.9 753.7l3.9 7.4h-7.8zM221 756.2l3.9 7.4h-7.8zM223 756.5l3.9 7.4h-7.8zM225.1 754.3l3.9 7.4h-7.8zM227.1 752.6l3.9 7.4h-7.8zM229.1 755.6l3.9 7.4h-7.8zM231.2 755.5l3.9 7.4h-7.8zM233.2 757.4l3.9 7.4h-7.8zM235.2 753.1l3.9 7.4h-7.8zM237.3 753.2l3.9 7.4h-7.8zM239.3 755.2l3.9 7.4h-7.8zM241.4 757.4l3.9 7.4h-7.8zM243.4 753.7l3.9 7.4h-7.8zM245.4 753.4l3.9 7.4h-7.8zM247.5 751.3l3.9 7.4h-7.8zM249.5 752.4l3.9 7.4h-7.8zM251.5 755.3l3.9 7.4h-7.8zM253.6 754.9l3.9 7.4h-7.8zM255.6 755.3l3.9 7.4h-7.8zM257.7 748.8l3.9 7.4h-7.8zM259.7 754.3l3.9 7.4h-7.8zM261.7 750l3.9 7.4h-7.8zM263.8 753.4l3.9 7.4h-7.8zM265.8 746.3l3.9 7.4h-7.8zM267.9 751.4l3.9 7.4h-7.8zM269.9 749.3l3.9 7.4h-7.8zM271.9 754.1l3.9 7.4h-7.8zM274 751.3l3.9 7.4h-7.8zM276 753.8l3.9 7.4h-7.8zM278 749.6l3.9 7.4h-7.8zM280.1 755l3.9 7.4h-7.8zM282.1 749.3l3.9 7.4h-7.8zM284.2 754.6l3.9 7.4h-7.8zM286.2 748.9l3.9 7.4h-7.8zM288.2 747.7l3.9 7.4h-7.8zM290.3 752l3.9 7.4h-7.8zM292.3 748.9l3.9 7.4h-7.8zM294.3 749.6l3.9 7.4h-7.8zM296.4 746.6l3.9 7.4h-7.8zM298.4 748.8l3.9 7.4h-7.8zM300.5 749.8l3.9 7.4h-7.8zM302.5 747.8l3.9 7.4h-7.8zM304.5 750.2l3.9 7.4h-7.8zM306.6 743.9l3.9 7.4h-7.8zM308.6 751.2l3.9 7.4h-7.8zM310.7 748.1l3.9 7.4h-7.8zM312.7 752.3l3.9 7.4h-7.8zM314.7 748l3.9 7.4h-7.8zM316.8 747.2l3.9 7.4h-7.8zM318.8 747.6l3.9 7.4h-7.8zM320.8 749.2l3.9 7.4h-7.8zM322.9 749.8l3.9 7.4h-7.8zM324.9 747.3l3.9 7.4h-7.8zM327 746.4l3.9 7.4h-7.8zM329 749.2l3.9 7.4h-7.8zM331 750l3.9 7.4h-7.8zM333.1 744l3.9 7.4h-7.8zM335.1 745.5l3.9 7.4h-7.8zM337.1 746.3l3.9 7.4h-7.8zM339.2 751.7l3.9 7.4h-7.8zM341.2 750.5l3.9 7.4h-7.8zM343.3 749.3l3.9 7.4h-7.8zM345.3 748.4l3.9 7.4h-7.8zM347.3 744.4l3.9 7.4h-7.8zM349.4 749.4l3.9 7.4h-7.8zM351.4 745.5l3.9 7.4h-7.8zM353.5 744.5l3.9 7.4h-7.8zM355.5 750.6l3.9 7.4h-7.8zM357.5 742.5l3.9 7.4h-7.8zM359.6 748.8l3.9 7.4h-7.8zM361.6 745.8l3.9 7.4h-7.8zM363.6 743l3.9 7.4h-7.8zM365.7 745.3l3.9 7.4h-7.8zM367.7 742.8l3.9 7.4h-7.8zM369.8 745l3.9 7.4h-7.8zM371.8 742.9l3.9 7.4h-7.8zM373.8 741.5l3.9 7.4h-7.8zM375.9 750.2l3.9 7.4h-7.8zM377.9 742.6l3.9 7.4h-7.8zM379.9 745.8l3.9 7.4h-7.8zM382 743.1l3.9 7.4h-7.8zM384 744.4l3.9 7.4h-7.8zM386.1 739.5l3.9 7.4h-7.8zM388.1 739.7l3.9 7.4h-7.8zM390.1 734.1l3.9 7.4h-7.8zM392.2 743.7l3.9 7.4h-7.8zM394.2 742l3.9 7.4h-7.8zM396.3 737.9l3.9 7.4h-7.8zM398.3 742.2l3.9 7.4h-7.8zM400.3 741.3l3.9 7.4h-7.8zM402.4 746.4l3.9 7.4h-7.8zM404.4 739.9l3.9 7.4h-7.8zM406.4 741.1l3.9 7.4h-7.8zM408.5 740.2l3.9 7.4h-7.8zM410.5 740.3l3.9 7.4h-7.8zM412.6 738.3l3.9 7.4h-7.8zM414.6 737.2l3.9 7.4h-7.8zM416.6 739.5l3.9 7.4h-7.8zM418.7 740.5l3.9 7.4h-7.8zM420.7 734.6l3.9 7.4h-7.8zM422.7 734.4l3.9 7.4h-7.8zM424.8 736.6l3.9 7.4h-7.8zM426.8 740.6l3.9 7.4h-7.8zM428.9 735.6l3.9 7.4h-7.8zM430.9 731.8l3.9 7.4h-7.8zM432.9 737.3l3.9 7.4h-7.8zM435 736.9l3.9 7.4h-7.8zM437 739.4l3.9 7.4h-7.8zM439.1 735l3.9 7.4h-7.8zM441.1 738.9l3.9 7.4h-7.8zM443.1 732.4l3.9 7.4h-7.8zM445.2 735.9l3.9 7.4h-7.8zM447.2 734l3.9 7.4h-7.8zM449.2 730.7l3.9 7.4h-7.8zM451.3 732.6l3.9 7.4h-7.8zM453.3 736.1l3.9 7.4h-7.8zM455.4 735.4l3.9 7.4h-7.8zM457.4 731.7l3.9 7.4h-7.8zM459.4 734.9l3.9 7.4h-7.8zM461.5 734.1l3.9 7.4h-7.8zM463.5 733.8l3.9 7.4h-7.8zM465.5 732.1l3.9 7.4h-7.8zM467.6 731.8l3.9 7.4h-7.8zM469.6 728.9l3.9 7.4h-7.8zM471.7 730.4l3.9 7.4h-7.8zM473.7 730.6l3.9 7.4h-7.8zM475.7 728.3l3.9 7.4h-7.8zM477.8 729.1l3.9 7.4h-7.8zM479.8 729.9l3.9 7.4h-7.8zM481.9 729.8l3.9 7.4h-7.8zM483.9 731.6l3.9 7.4h-7.8zM485.9 726.8l3.9 7.4h-7.8zM488 728.3l3.9 7.4h-7.8zM490 730l3.9 7.4h-7.8zM492 728.5l3.9 7.4h-7.8zM494.1 730.2l3.9 7.4h-7.8zM496.1 728.5l3.9 7.4h-7.8zM498.2 732.4l3.9 7.4h-7.8zM500.2 729.2l3.9 7.4h-7.8zM502.2 727.1l3.9 7.4h-7.8zM504.3 731.6l3.9 7.4h-7.8zM506.3 733.8l3.9 7.4h-7.8zM508.3 725.5l3.9 7.4h-7.8zM510.4 729.8l3.9 7.4h-7.8zM512.4 730.3l3.9 7.4h-7.8zM514.5 732.6l3.9 7.4h-7.8zM516.5 733.8l3.9 7.4h-7.8zM518.5 730l3.9 7.4h-7.8zM520.6 726.8l3.9 7.4h-7.8zM522.6 732l3.9 7.4h-7.8zM524.7 732.9l3.9 7.4h-7.8zM526.7 731.8l3.9 7.4h-7.8zM528.7 731l3.9 7.4h-7.8zM530.8 729.1l3.9 7.4h-7.8zM532.8 736.8l3.9 7.4h-7.8zM534.8 728.5l3.9 7.4h-7.8zM536.9 727.9l3.9 7.4h-7.8zM538.9 733.9l3.9 7.4h-7.8zM541 732.4l3.9 7.4h-7.8zM543 733.5l3.9 7.4h-7.8zM545 732.9l3.9 7.4h-7.8zM547.1 736.2l3.9 7.4h-7.8zM549.1 735.7l3.9 7.4h-7.8zM551.1 731.2l3.9 7.4h-7.8zM553.2 735l3.9 7.4h-7.8zM555.2 730l3.9 7.4h-7.8zM557.3 728.9l3.9 7.4h-7.8zM559.3 735.7l3.9 7.4h-7.8zM561.3 732.1l3.9 7.4h-7.8zM563.4 728.2l3.9 7.4h-7.8zM565.4 733.3l3.9 7.4h-7.8zM567.5 732l3.9 7.4h-7.8zM569.5 734.9l3.9 7.4h-7.8zM571.5 733.8l3.9 7.4h-7.8zM573.6 732.3l3.9 7.4h-7.8zM575.6 732.6l3.9 7.4h-7.8zM577.6 736.2l3.9 7.4h-7.8zM579.7 732.5l3.9 7.4h-7.8zM581.7 735.1l3.9 7.4h-7.8zM583.8 732.7l3.9 7.4h-7.8zM585.8 736.2l3.9 7.4h-7.8zM587.8 739.5l3.9 7.4h-7.8zM589.9 736.8l3.9 7.4h-7.8zM591.9 738.2l3.9 7.4h-7.8zM593.9 736.7l3.9 7.4h-7.8zM596 733.8l3.9 7.4h-7.8zM598 735.8l3.9 7.4h-7.8zM600.1 737.2l3.9 7.4h-7.8zM602.1 738.6l3.9 7.4h-7.8zM604.1 736.8l3.9 7.4h-7.8zM606.2 740.2l3.9 7.4h-7.8zM608.2 737.7l3.9 7.4h-7.8zM610.3 740.1l3.9 7.4h-7.8zM612.3 740.5l3.9 7.4h-7.8zM614.3 738.3l3.9 7.4h-7.8zM616.4 743.8l3.9 7.4h-7.8zM618.4 741.9l3.9 7.4h-7.8zM620.4 742.3l3.9 7.4h-7.8zM622.5 742.2l3.9 7.4h-7.8zM624.5 737.7l3.9 7.4h-7.8zM626.6 739.7l3.9 7.4h-7.8zM628.6 741.2l3.9 7.4h-7.8zM630.6 746l3.9 7.4h-7.8zM632.7 742.7l3.9 7.4h-7.8zM634.7 745.9l3.9 7.4h-7.8zM636.7 742.5l3.9 7.4h-7.8zM638.8 743.3l3.9 7.4h-7.8zM640.8 744.6l3.9 7.4h-7.8zM642.9 748.5l3.9 7.4h-7.8zM644.9 742.6l3.9 7.4h-7.8zM646.9 746.4l3.9 7.4h-7.8zM649 748l3.9 7.4h-7.8zM651 747.7l3.9 7.4h-7.8zM653.1 747.6l3.9 7.4h-7.8zM655.1 749.7l3.9 7.4h-7.8z"/><path stroke="#F6921E" stroke-width="7" stroke-linecap="round" fill="none" d="M191.6 501.7h0"/><text x="209.9" y="513.3" font-size="24.65">TEM 3.2</text><path fill="#3F56A6" d="M189.8 541.7l3.5 6.4h-7z"/><text x="212" y="550.2" font-size="24.6">TEM Protein + TEM 3.2</text><path stroke="#666766" stroke-width="9.8" stroke-linecap="round" fill="none" d="M500 511.9h0"/><text x="535.3" y="520.2" font-size="24.6">Vehicle</text><path fill="#0B0B0B" d="M500.7 553l5 -9.6h-10z"/><text x="536.4" y="557.5" font-size="24.6">TEM Protein</text><text transform="translate(16.8 474.2) scale(0.96 1)" font-size="50.4" font-weight="bold" fill="#231F20">E</text>
</g>
<g id="panel-F">
<path d="M832.3 492.6V832.8M819.3 819.8H1322.9" stroke="#000" stroke-width="1.7" fill="none"/><text transform="translate(813.3 827.2) scale(0.905 1)" font-size="22.2" text-anchor="end" stroke="#000" stroke-width="0.3">4.0×10<tspan dy="-7.3" font-size="15.6">3</tspan></text><text transform="translate(813.3 664) scale(0.905 1)" font-size="22.2" text-anchor="end" stroke="#000" stroke-width="0.3">8.0×10<tspan dy="-7.3" font-size="15.6">3</tspan></text><text transform="translate(813.3 500.9) scale(0.905 1)" font-size="22.2" text-anchor="end" stroke="#000" stroke-width="0.3">1.2×10<tspan dy="-7.3" font-size="15.6">4</tspan></text><text transform="translate(832.1 857.2) scale(0.905 1)" font-size="22.2" text-anchor="middle" stroke="#000" stroke-width="0.3">0</text><text transform="translate(954.5 857.2) scale(0.905 1)" font-size="22.2" text-anchor="middle" stroke="#000" stroke-width="0.3">10</text><text transform="translate(1077 857.2) scale(0.905 1)" font-size="22.2" text-anchor="middle" stroke="#000" stroke-width="0.3">20</text><text transform="translate(1199.4 857.2) scale(0.905 1)" font-size="22.2" text-anchor="middle" stroke="#000" stroke-width="0.3">30</text><text transform="translate(1321.8 857.2) scale(0.905 1)" font-size="22.2" text-anchor="middle" stroke="#000" stroke-width="0.3">40</text><path d="M819.3 656.6H832.3M819.3 493.5H832.3M954.7 819.8V832.8M1077.2 819.8V832.8M1199.6 819.8V832.8M1322 819.8V832.8" stroke="#000" stroke-width="1.7" fill="none"/><text transform="translate(1077.6 889.4) scale(0.955 1)" font-size="20.7" text-anchor="middle">Time (h)</text><text transform="translate(710.5 675.5) rotate(-90) scale(0.948 1)" font-size="22.9" text-anchor="middle">pFTAA fluorescence intensity</text><path stroke="#666766" stroke-width="9.6" stroke-linecap="round" fill="none" d="M832.3 795.1h0M835.8 797.7h0M839.3 799.9h0M842.8 803.8h0M846.3 801.5h0M849.8 800.1h0M853.3 802h0M856.8 804.3h0M860.3 801.6h0M863.8 805.5h0M867.3 803.7h0M870.8 803h0M874.3 804.3h0M877.8 805.6h0M881.3 804.4h0M884.8 805.9h0M888.3 803.5h0M891.8 804.7h0M895.3 803.4h0M898.8 802.5h0M902.3 807.9h0M905.8 803.5h0M909.3 802.1h0M912.8 803.9h0M916.3 806.8h0M919.8 803.9h0M923.2 805.4h0M926.7 805h0M930.2 805.2h0M933.7 805.6h0M937.2 805h0M940.7 805.4h0M944.2 802.4h0M947.7 802.2h0M951.2 805.3h0M954.7 804.7h0M958.2 802.9h0M961.7 807.3h0M965.2 801.1h0M968.7 802.9h0M972.2 803.6h0M975.7 801.6h0M979.2 799.9h0M982.7 802.2h0M986.2 804.2h0M989.7 803.3h0M993.2 804.1h0M996.7 802.7h0M1000.2 802.3h0M1003.7 805.1h0M1007.2 803h0M1010.7 805.4h0M1014.2 805.6h0M1017.7 804.9h0M1021.2 804.1h0M1024.7 806.6h0M1028.2 803.9h0M1031.7 804.8h0M1035.2 800.6h0M1038.7 802.6h0M1042.2 804h0M1045.7 805.6h0M1049.2 805.8h0M1052.7 803.3h0M1056.2 804h0M1059.7 802.9h0M1063.2 804.9h0M1066.7 805h0M1070.2 802.8h0M1073.7 804.9h0M1077.2 803.1h0M1080.7 802.6h0M1084.2 802.1h0M1087.7 802.6h0M1091.2 806h0M1094.6 804.2h0M1098.1 803.2h0M1101.6 803.4h0M1105.1 802.6h0M1108.6 800.7h0M1112.1 806.3h0M1115.6 806.7h0M1119.1 802.4h0M1122.6 801.7h0M1126.1 805.4h0M1129.6 804h0M1133.1 803.5h0M1136.6 804.9h0M1140.1 801.5h0M1143.6 805.5h0M1147.1 803.3h0M1150.6 802.4h0M1154.1 802.1h0M1157.6 801.8h0M1161.1 804.4h0M1164.6 804.6h0M1168.1 805h0M1171.6 805.4h0M1175.1 809.1h0M1178.6 801.5h0M1182.1 805.9h0M1185.6 808h0M1189.1 803.7h0M1192.6 803.1h0M1196.1 803.8h0M1199.6 802h0M1203.1 802.3h0M1206.6 803.8h0M1210.1 803.4h0M1213.6 804h0M1217.1 803.7h0M1220.6 803.5h0M1224.1 805h0M1227.6 801.4h0M1231.1 805.2h0M1234.6 803.3h0M1238.1 801.8h0M1241.6 801.2h0M1245.1 805.9h0M1248.6 803h0M1252.1 802.9h0M1255.6 801.9h0M1259.1 806h0M1262.6 802.5h0M1266.1 803.4h0M1269.5 801.6h0M1273 805.1h0M1276.5 804.5h0M1280 805.2h0M1283.5 805h0M1287 802.9h0M1290.5 800.2h0M1294 807h0M1297.5 805.8h0M1301 804.2h0M1304.5 805.5h0M1308 804.5h0M1311.5 807h0M1315 804.1h0M1318.5 804.8h0M1322 807.8h0M832.3 800.1h0M835.8 802.3h0M839.3 803.4h0M842.8 804.7h0M846.3 805.3h0M849.8 807.5h0M853.3 803.7h0M856.8 808.8h0M860.3 806.2h0M863.8 807.7h0M867.3 808.1h0M870.8 808.6h0M874.3 806.7h0M877.8 810.2h0M881.3 805.5h0M884.8 805.3h0M888.3 808.1h0M891.8 809h0M895.3 806.9h0M898.8 806.5h0M902.3 805h0M905.8 808.2h0M909.3 809h0M912.8 809.9h0M916.3 806.7h0M919.8 807.1h0M923.2 804.5h0M926.7 801.8h0M930.2 806.3h0M933.7 804h0M937.2 805.4h0M940.7 806.9h0M944.2 806.9h0M947.7 806.3h0M951.2 805h0M954.7 805h0M958.2 806.9h0M961.7 806h0M965.2 806.2h0M968.7 807.8h0M972.2 807.7h0M975.7 806h0M979.2 807.6h0M982.7 809h0M986.2 808.3h0M989.7 807.8h0M993.2 807.9h0M996.7 811.3h0M1000.2 805.4h0M1003.7 807.9h0M1007.2 809.5h0M1010.7 806.6h0M1014.2 808.9h0M1017.7 807.1h0M1021.2 808.4h0M1024.7 805.9h0M1028.2 806.4h0M1031.7 811h0M1035.2 806.2h0M1038.7 806.1h0M1042.2 804.4h0M1045.7 805.5h0M1049.2 807.6h0M1052.7 807.7h0M1056.2 805.2h0M1059.7 806.4h0M1063.2 805.3h0M1066.7 804.2h0M1070.2 804.3h0M1073.7 804.7h0M1077.2 803.8h0M1080.7 804h0M1084.2 801.8h0M1087.7 806.3h0M1091.2 807.4h0M1094.6 805.1h0M1098.1 807.5h0M1101.6 807.6h0M1105.1 803.9h0M1108.6 808.8h0M1112.1 806.4h0M1115.6 807.2h0M1119.1 807.9h0M1122.6 810h0M1126.1 809.6h0M1129.6 809.5h0M1133.1 805.4h0M1136.6 808.1h0M1140.1 807.3h0M1143.6 804h0M1147.1 808.8h0M1150.6 808.6h0M1154.1 808.6h0M1157.6 810.8h0M1161.1 807.2h0M1164.6 805.7h0M1168.1 804.3h0M1171.6 810.3h0M1175.1 809.2h0M1178.6 805.7h0M1182.1 807.4h0M1185.6 806.5h0M1189.1 805.2h0M1192.6 805.4h0M1196.1 805.8h0M1199.6 805.9h0M1203.1 804.1h0M1206.6 806.3h0M1210.1 806.5h0M1213.6 804.6h0M1217.1 806.9h0M1220.6 805.3h0M1224.1 807.8h0M1227.6 806.3h0M1231.1 808.2h0M1234.6 809.8h0M1238.1 808.1h0M1241.6 803.2h0M1245.1 807.4h0M1248.6 810h0M1252.1 808h0M1255.6 806.3h0M1259.1 807.7h0M1262.6 805.7h0M1266.1 808.1h0M1269.5 809.4h0M1273 806.6h0M1276.5 808.4h0M1280 805.8h0M1283.5 805.3h0M1287 807.5h0M1290.5 807.1h0M1294 806.3h0M1297.5 806.7h0M1301 809.6h0M1304.5 808.9h0M1308 808.9h0M1311.5 805.6h0M1315 808.4h0M1318.5 805h0M1322 806.2h0M832.3 803.8h0M835.8 805.2h0M839.3 808.9h0M842.8 807.8h0M846.3 809.7h0M849.8 808.4h0M853.3 804.9h0M856.8 810.4h0M860.3 808.1h0M863.8 807.9h0M867.3 808h0M870.8 807.4h0M874.3 811.9h0M877.8 807.9h0M881.3 808.4h0M884.8 805.7h0M888.3 808.9h0M891.8 808.3h0M895.3 808h0M898.8 807.7h0M902.3 809.8h0M905.8 809.2h0M909.3 810.3h0M912.8 810.3h0M916.3 807.6h0M919.8 809.9h0M923.2 808h0M926.7 809.7h0M930.2 809.6h0M933.7 809.2h0M937.2 810.7h0M940.7 809.6h0M944.2 812.5h0M947.7 811.4h0M951.2 812.9h0M954.7 807h0M958.2 808.3h0M961.7 810.3h0M965.2 809.8h0M968.7 814.2h0M972.2 810.5h0M975.7 808.8h0M979.2 809.4h0M982.7 808.8h0M986.2 810.5h0M989.7 808.8h0M993.2 810.2h0M996.7 808.8h0M1000.2 809.9h0M1003.7 807.9h0M1007.2 808.9h0M1010.7 806.2h0M1014.2 806.9h0M1017.7 809.6h0M1021.2 810.6h0M1024.7 808.1h0M1028.2 807.5h0M1031.7 808.2h0M1035.2 809.5h0M1038.7 805.7h0M1042.2 806.2h0M1045.7 809.4h0M1049.2 808.3h0M1052.7 807.8h0M1056.2 810.4h0M1059.7 808.9h0M1063.2 813.8h0M1066.7 811.1h0M1070.2 808.7h0M1073.7 810.3h0M1077.2 812.6h0M1080.7 807.4h0M1084.2 809.6h0M1087.7 812.9h0M1091.2 806.8h0M1094.6 810h0M1098.1 808.6h0M1101.6 807.1h0M1105.1 808.6h0M1108.6 811.5h0M1112.1 813.5h0M1115.6 808.6h0M1119.1 812h0M1122.6 809.5h0M1126.1 808.8h0M1129.6 809.4h0M1133.1 808.7h0M1136.6 809.2h0M1140.1 808.8h0M1143.6 807.9h0M1147.1 805h0M1150.6 809.5h0M1154.1 805.8h0M1157.6 808.9h0M1161.1 807.8h0M1164.6 808.5h0M1168.1 809.3h0M1171.6 809.6h0M1175.1 810.2h0M1178.6 805.8h0M1182.1 810.3h0M1185.6 808.1h0M1189.1 811.6h0M1192.6 809h0M1196.1 808.7h0M1199.6 811h0M1203.1 810.2h0M1206.6 810.5h0M1210.1 811.8h0M1213.6 809h0M1217.1 812h0M1220.6 809.2h0M1224.1 809.3h0M1227.6 810.7h0M1231.1 808.3h0M1234.6 809.6h0M1238.1 809.8h0M1241.6 808.4h0M1245.1 809.2h0M1248.6 809h0M1252.1 807.8h0M1255.6 809.6h0M1259.1 810.2h0M1262.6 811.7h0M1266.1 810.2h0M1269.5 809h0M1273 808h0M1276.5 808.7h0M1280 811.6h0M1283.5 808.8h0M1287 806.7h0M1290.5 808h0M1294 807.3h0M1297.5 807.2h0M1301 807.7h0M1304.5 809h0M1308 805h0M1311.5 808.6h0M1315 809.4h0M1318.5 810.2h0M1322 805.4h0"/><path fill="#0B0B0B" d="M832.3 780.6l5 -9.6h-10zM835 784.9l5 -9.6h-10zM837.7 786.1l5 -9.6h-10zM840.5 790.7l5 -9.6h-10zM843.2 789l5 -9.6h-10zM845.9 790.6l5 -9.6h-10zM848.6 788.5l5 -9.6h-10zM851.3 787.6l5 -9.6h-10zM854.1 791.1l5 -9.6h-10zM856.8 788.9l5 -9.6h-10zM859.5 787.6l5 -9.6h-10zM862.2 790.4l5 -9.6h-10zM864.9 790.1l5 -9.6h-10zM867.7 792.5l5 -9.6h-10zM870.4 788.3l5 -9.6h-10zM873.1 790.4l5 -9.6h-10zM875.8 789l5 -9.6h-10zM878.6 788.6l5 -9.6h-10zM881.3 787.8l5 -9.6h-10zM884 786.9l5 -9.6h-10zM886.7 787.5l5 -9.6h-10zM889.4 792.6l5 -9.6h-10zM892.2 787l5 -9.6h-10zM894.9 789.1l5 -9.6h-10zM897.6 788.2l5 -9.6h-10zM900.3 790l5 -9.6h-10zM903 789.8l5 -9.6h-10zM905.8 790.1l5 -9.6h-10zM908.5 791.3l5 -9.6h-10zM911.2 794.4l5 -9.6h-10zM913.9 788.5l5 -9.6h-10zM916.6 789.8l5 -9.6h-10zM919.4 791.9l5 -9.6h-10zM922.1 789.1l5 -9.6h-10zM924.8 791.8l5 -9.6h-10zM927.5 790.3l5 -9.6h-10zM930.2 791.2l5 -9.6h-10zM933 793.9l5 -9.6h-10zM935.7 792l5 -9.6h-10zM938.4 792.9l5 -9.6h-10zM941.1 787.1l5 -9.6h-10zM943.8 788.2l5 -9.6h-10zM946.6 792.7l5 -9.6h-10zM949.3 789.9l5 -9.6h-10zM952 791l5 -9.6h-10zM954.7 790.7l5 -9.6h-10zM957.5 787.9l5 -9.6h-10zM960.2 791l5 -9.6h-10zM962.9 791.9l5 -9.6h-10zM965.6 791.3l5 -9.6h-10zM968.3 791.6l5 -9.6h-10zM971.1 791.2l5 -9.6h-10zM973.8 791.8l5 -9.6h-10zM976.5 790.5l5 -9.6h-10zM979.2 789.4l5 -9.6h-10zM981.9 790.3l5 -9.6h-10zM984.7 790.5l5 -9.6h-10zM987.4 789.9l5 -9.6h-10zM990.1 790.6l5 -9.6h-10zM992.8 791.5l5 -9.6h-10zM995.5 788.3l5 -9.6h-10zM998.3 791.8l5 -9.6h-10zM1001 789l5 -9.6h-10zM1003.7 792.3l5 -9.6h-10zM1006.4 791.2l5 -9.6h-10zM1009.1 790.1l5 -9.6h-10zM1011.9 791.9l5 -9.6h-10zM1014.6 789.1l5 -9.6h-10zM1017.3 790.6l5 -9.6h-10zM1020 788.7l5 -9.6h-10zM1022.7 790.3l5 -9.6h-10zM1025.5 791.3l5 -9.6h-10zM1028.2 791.6l5 -9.6h-10zM1030.9 791.8l5 -9.6h-10zM1033.6 791.5l5 -9.6h-10zM1036.3 792l5 -9.6h-10zM1039.1 791.9l5 -9.6h-10zM1041.8 793.3l5 -9.6h-10zM1044.5 791.8l5 -9.6h-10zM1047.2 788.8l5 -9.6h-10zM1050 791.9l5 -9.6h-10zM1052.7 790.9l5 -9.6h-10zM1055.4 791.9l5 -9.6h-10zM1058.1 790.6l5 -9.6h-10zM1060.8 792.6l5 -9.6h-10zM1063.6 792l5 -9.6h-10zM1066.3 791l5 -9.6h-10zM1069 791.1l5 -9.6h-10zM1071.7 791.6l5 -9.6h-10zM1074.4 792.7l5 -9.6h-10zM1077.2 791.9l5 -9.6h-10zM1079.9 789.7l5 -9.6h-10zM1082.6 789.8l5 -9.6h-10zM1085.3 791.7l5 -9.6h-10zM1088 793.4l5 -9.6h-10zM1090.8 792.4l5 -9.6h-10zM1093.5 792.7l5 -9.6h-10zM1096.2 789.4l5 -9.6h-10zM1098.9 789l5 -9.6h-10zM1101.6 791.2l5 -9.6h-10zM1104.4 789.3l5 -9.6h-10zM1107.1 792l5 -9.6h-10zM1109.8 789.1l5 -9.6h-10zM1112.5 788.6l5 -9.6h-10zM1115.2 791.3l5 -9.6h-10zM1118 787.8l5 -9.6h-10zM1120.7 789.9l5 -9.6h-10zM1123.4 791.9l5 -9.6h-10zM1126.1 788.6l5 -9.6h-10zM1128.9 788.1l5 -9.6h-10zM1131.6 788.3l5 -9.6h-10zM1134.3 791.3l5 -9.6h-10zM1137 790.3l5 -9.6h-10zM1139.7 789.6l5 -9.6h-10zM1142.5 790l5 -9.6h-10zM1145.2 788.6l5 -9.6h-10zM1147.9 785.6l5 -9.6h-10zM1150.6 788.8l5 -9.6h-10zM1153.3 790.8l5 -9.6h-10zM1156.1 787l5 -9.6h-10zM1158.8 785.6l5 -9.6h-10zM1161.5 788.3l5 -9.6h-10zM1164.2 788.9l5 -9.6h-10zM1166.9 792.1l5 -9.6h-10zM1169.7 787.2l5 -9.6h-10zM1172.4 790.3l5 -9.6h-10zM1175.1 788.2l5 -9.6h-10zM1177.8 788.4l5 -9.6h-10zM1180.5 788.4l5 -9.6h-10zM1183.3 787.4l5 -9.6h-10zM1186 791.5l5 -9.6h-10zM1188.7 789.1l5 -9.6h-10zM1191.4 788l5 -9.6h-10zM1194.1 789.9l5 -9.6h-10zM1196.9 790.4l5 -9.6h-10zM1199.6 788.4l5 -9.6h-10zM1202.3 788.2l5 -9.6h-10zM1205 787.3l5 -9.6h-10zM1207.8 790.2l5 -9.6h-10zM1210.5 789l5 -9.6h-10zM1213.2 788.7l5 -9.6h-10zM1215.9 788.3l5 -9.6h-10zM1218.6 787.7l5 -9.6h-10zM1221.4 787.3l5 -9.6h-10zM1224.1 788.8l5 -9.6h-10zM1226.8 785.9l5 -9.6h-10zM1229.5 789.1l5 -9.6h-10zM1232.2 791.7l5 -9.6h-10zM1235 787.8l5 -9.6h-10zM1237.7 789.8l5 -9.6h-10zM1240.4 789.9l5 -9.6h-10zM1243.1 789.6l5 -9.6h-10zM1245.8 789.7l5 -9.6h-10zM1248.6 788.4l5 -9.6h-10zM1251.3 787.1l5 -9.6h-10zM1254 786.1l5 -9.6h-10zM1256.7 789.5l5 -9.6h-10zM1259.4 790.5l5 -9.6h-10zM1262.2 787.3l5 -9.6h-10zM1264.9 788.6l5 -9.6h-10zM1267.6 788.2l5 -9.6h-10zM1270.3 785.8l5 -9.6h-10zM1273 786.4l5 -9.6h-10zM1275.8 788.6l5 -9.6h-10zM1278.5 786.8l5 -9.6h-10zM1281.2 786.9l5 -9.6h-10zM1283.9 788.6l5 -9.6h-10zM1286.7 785.9l5 -9.6h-10zM1289.4 788.6l5 -9.6h-10zM1292.1 788.9l5 -9.6h-10zM1294.8 789.7l5 -9.6h-10zM1297.5 789.5l5 -9.6h-10zM1300.3 785.5l5 -9.6h-10zM1303 787l5 -9.6h-10zM1305.7 787.7l5 -9.6h-10zM1308.4 789.8l5 -9.6h-10zM1311.1 785.7l5 -9.6h-10zM1313.9 787.9l5 -9.6h-10zM1316.6 788.2l5 -9.6h-10zM1319.3 788.7l5 -9.6h-10zM1322 789.6l5 -9.6h-10zM832.3 777.9l5 -9.6h-10zM835 785.6l5 -9.6h-10zM837.7 789.1l5 -9.6h-10zM840.5 789.9l5 -9.6h-10zM843.2 791.9l5 -9.6h-10zM845.9 793l5 -9.6h-10zM848.6 793.3l5 -9.6h-10zM851.3 793.7l5 -9.6h-10zM854.1 790.7l5 -9.6h-10zM856.8 789.5l5 -9.6h-10zM859.5 794.6l5 -9.6h-10zM862.2 793.4l5 -9.6h-10zM864.9 794l5 -9.6h-10zM867.7 792.7l5 -9.6h-10zM870.4 795l5 -9.6h-10zM873.1 794.3l5 -9.6h-10zM875.8 792.3l5 -9.6h-10zM878.6 794.9l5 -9.6h-10zM881.3 790.2l5 -9.6h-10zM884 790.2l5 -9.6h-10zM886.7 793.8l5 -9.6h-10zM889.4 794.7l5 -9.6h-10zM892.2 792.3l5 -9.6h-10zM894.9 793.7l5 -9.6h-10zM897.6 793.9l5 -9.6h-10zM900.3 793.5l5 -9.6h-10zM903 795.1l5 -9.6h-10zM905.8 794.7l5 -9.6h-10zM908.5 793.5l5 -9.6h-10zM911.2 792l5 -9.6h-10zM913.9 793.3l5 -9.6h-10zM916.6 793l5 -9.6h-10zM919.4 791.2l5 -9.6h-10zM922.1 791.1l5 -9.6h-10zM924.8 792.6l5 -9.6h-10zM927.5 791.7l5 -9.6h-10zM930.2 792.2l5 -9.6h-10zM933 793.9l5 -9.6h-10zM935.7 794.6l5 -9.6h-10zM938.4 793.2l5 -9.6h-10zM941.1 792.9l5 -9.6h-10zM943.8 792.2l5 -9.6h-10zM946.6 793.6l5 -9.6h-10zM949.3 792.7l5 -9.6h-10zM952 791.8l5 -9.6h-10zM954.7 790.6l5 -9.6h-10zM957.5 793.6l5 -9.6h-10zM960.2 790.4l5 -9.6h-10zM962.9 794.1l5 -9.6h-10zM965.6 793.5l5 -9.6h-10zM968.3 793.5l5 -9.6h-10zM971.1 792.8l5 -9.6h-10zM973.8 794.5l5 -9.6h-10zM976.5 792.2l5 -9.6h-10zM979.2 792.9l5 -9.6h-10zM981.9 791.2l5 -9.6h-10zM984.7 792.6l5 -9.6h-10zM987.4 792l5 -9.6h-10zM990.1 791.4l5 -9.6h-10zM992.8 795.8l5 -9.6h-10zM995.5 795l5 -9.6h-10zM998.3 793.6l5 -9.6h-10zM1001 791.3l5 -9.6h-10zM1003.7 794.6l5 -9.6h-10zM1006.4 794.8l5 -9.6h-10zM1009.1 794.5l5 -9.6h-10zM1011.9 792.3l5 -9.6h-10zM1014.6 796.1l5 -9.6h-10zM1017.3 797.2l5 -9.6h-10zM1020 794.2l5 -9.6h-10zM1022.7 792.7l5 -9.6h-10zM1025.5 794.9l5 -9.6h-10zM1028.2 792.7l5 -9.6h-10zM1030.9 794.5l5 -9.6h-10zM1033.6 795.2l5 -9.6h-10zM1036.3 793.6l5 -9.6h-10zM1039.1 796.5l5 -9.6h-10zM1041.8 795.1l5 -9.6h-10zM1044.5 795.5l5 -9.6h-10zM1047.2 795.9l5 -9.6h-10zM1050 795.5l5 -9.6h-10zM1052.7 796.7l5 -9.6h-10zM1055.4 793.7l5 -9.6h-10zM1058.1 795.5l5 -9.6h-10zM1060.8 794l5 -9.6h-10zM1063.6 793.5l5 -9.6h-10zM1066.3 793.1l5 -9.6h-10zM1069 793.9l5 -9.6h-10zM1071.7 792.4l5 -9.6h-10zM1074.4 790.9l5 -9.6h-10zM1077.2 794.2l5 -9.6h-10zM1079.9 793.6l5 -9.6h-10zM1082.6 792.6l5 -9.6h-10zM1085.3 794.3l5 -9.6h-10zM1088 790.1l5 -9.6h-10zM1090.8 794.2l5 -9.6h-10zM1093.5 790.6l5 -9.6h-10zM1096.2 791.9l5 -9.6h-10zM1098.9 793.7l5 -9.6h-10zM1101.6 794.1l5 -9.6h-10zM1104.4 793.1l5 -9.6h-10zM1107.1 792.4l5 -9.6h-10zM1109.8 793.5l5 -9.6h-10zM1112.5 795.6l5 -9.6h-10zM1115.2 791.6l5 -9.6h-10zM1118 793.1l5 -9.6h-10zM1120.7 791.5l5 -9.6h-10zM1123.4 793.8l5 -9.6h-10zM1126.1 793.8l5 -9.6h-10zM1128.9 794l5 -9.6h-10zM1131.6 793.3l5 -9.6h-10zM1134.3 791.7l5 -9.6h-10zM1137 791.9l5 -9.6h-10zM1139.7 792.1l5 -9.6h-10zM1142.5 793.9l5 -9.6h-10zM1145.2 793l5 -9.6h-10zM1147.9 792.5l5 -9.6h-10zM1150.6 793.6l5 -9.6h-10zM1153.3 790.9l5 -9.6h-10zM1156.1 790.6l5 -9.6h-10zM1158.8 792l5 -9.6h-10zM1161.5 795.6l5 -9.6h-10zM1164.2 793l5 -9.6h-10zM1166.9 792.2l5 -9.6h-10zM1169.7 794l5 -9.6h-10zM1172.4 789.2l5 -9.6h-10zM1175.1 792.1l5 -9.6h-10zM1177.8 792.5l5 -9.6h-10zM1180.5 794l5 -9.6h-10zM1183.3 793.1l5 -9.6h-10zM1186 791.9l5 -9.6h-10zM1188.7 791.4l5 -9.6h-10zM1191.4 791.1l5 -9.6h-10zM1194.1 790.3l5 -9.6h-10zM1196.9 791l5 -9.6h-10zM1199.6 791.2l5 -9.6h-10zM1202.3 791.3l5 -9.6h-10zM1205 792.4l5 -9.6h-10zM1207.8 794.4l5 -9.6h-10zM1210.5 791.8l5 -9.6h-10zM1213.2 792.4l5 -9.6h-10zM1215.9 792.4l5 -9.6h-10zM1218.6 791.1l5 -9.6h-10zM1221.4 789.8l5 -9.6h-10zM1224.1 790.4l5 -9.6h-10zM1226.8 793.3l5 -9.6h-10zM1229.5 791.2l5 -9.6h-10zM1232.2 787.7l5 -9.6h-10zM1235 791.1l5 -9.6h-10zM1237.7 791.8l5 -9.6h-10zM1240.4 791.2l5 -9.6h-10zM1243.1 790.2l5 -9.6h-10zM1245.8 790.7l5 -9.6h-10zM1248.6 793.8l5 -9.6h-10zM1251.3 794.1l5 -9.6h-10zM1254 793.2l5 -9.6h-10zM1256.7 792.7l5 -9.6h-10zM1259.4 792.1l5 -9.6h-10zM1262.2 793.9l5 -9.6h-10zM1264.9 792.7l5 -9.6h-10zM1267.6 794.9l5 -9.6h-10zM1270.3 791.2l5 -9.6h-10zM1273 792.6l5 -9.6h-10zM1275.8 792.5l5 -9.6h-10zM1278.5 791.5l5 -9.6h-10zM1281.2 792.2l5 -9.6h-10zM1283.9 791.2l5 -9.6h-10zM1286.7 792.9l5 -9.6h-10zM1289.4 791.3l5 -9.6h-10zM1292.1 791l5 -9.6h-10zM1294.8 790.5l5 -9.6h-10zM1297.5 789.2l5 -9.6h-10zM1300.3 792.2l5 -9.6h-10zM1303 791.1l5 -9.6h-10zM1305.7 791.9l5 -9.6h-10zM1308.4 789.9l5 -9.6h-10zM1311.1 791.7l5 -9.6h-10zM1313.9 790.4l5 -9.6h-10zM1316.6 792.8l5 -9.6h-10zM1319.3 792.9l5 -9.6h-10zM1322 792.4l5 -9.6h-10zM832.3 785l5 -9.6h-10zM835 790.1l5 -9.6h-10zM837.7 791.6l5 -9.6h-10zM840.5 793.2l5 -9.6h-10zM843.2 795.1l5 -9.6h-10zM845.9 794.9l5 -9.6h-10zM848.6 795.2l5 -9.6h-10zM851.3 795.7l5 -9.6h-10zM854.1 795.1l5 -9.6h-10zM856.8 796.8l5 -9.6h-10zM859.5 796.7l5 -9.6h-10zM862.2 795.3l5 -9.6h-10zM864.9 794.8l5 -9.6h-10zM867.7 795.4l5 -9.6h-10zM870.4 795.9l5 -9.6h-10zM873.1 795.3l5 -9.6h-10zM875.8 795.7l5 -9.6h-10zM878.6 796.9l5 -9.6h-10zM881.3 795.9l5 -9.6h-10zM884 797.4l5 -9.6h-10zM886.7 792.9l5 -9.6h-10zM889.4 797.4l5 -9.6h-10zM892.2 797.5l5 -9.6h-10zM894.9 796.6l5 -9.6h-10zM897.6 794.2l5 -9.6h-10zM900.3 794.7l5 -9.6h-10zM903 795.4l5 -9.6h-10zM905.8 797.4l5 -9.6h-10zM908.5 795.8l5 -9.6h-10zM911.2 797.7l5 -9.6h-10zM913.9 793.8l5 -9.6h-10zM916.6 795.7l5 -9.6h-10zM919.4 797.2l5 -9.6h-10zM922.1 796.3l5 -9.6h-10zM924.8 796.5l5 -9.6h-10zM927.5 798.2l5 -9.6h-10zM930.2 796.1l5 -9.6h-10zM933 795.4l5 -9.6h-10zM935.7 796.7l5 -9.6h-10zM938.4 795.9l5 -9.6h-10zM941.1 793.7l5 -9.6h-10zM943.8 796.7l5 -9.6h-10zM946.6 797.2l5 -9.6h-10zM949.3 795.5l5 -9.6h-10zM952 793l5 -9.6h-10zM954.7 797.1l5 -9.6h-10zM957.5 796.1l5 -9.6h-10zM960.2 792.5l5 -9.6h-10zM962.9 795.6l5 -9.6h-10zM965.6 798.2l5 -9.6h-10zM968.3 796.3l5 -9.6h-10zM971.1 794.8l5 -9.6h-10zM973.8 796.2l5 -9.6h-10zM976.5 799.6l5 -9.6h-10zM979.2 796.4l5 -9.6h-10zM981.9 797.6l5 -9.6h-10zM984.7 798.8l5 -9.6h-10zM987.4 798.3l5 -9.6h-10zM990.1 795.8l5 -9.6h-10zM992.8 795.9l5 -9.6h-10zM995.5 795.3l5 -9.6h-10zM998.3 797.5l5 -9.6h-10zM1001 799.5l5 -9.6h-10zM1003.7 797.4l5 -9.6h-10zM1006.4 798.5l5 -9.6h-10zM1009.1 798l5 -9.6h-10zM1011.9 797.3l5 -9.6h-10zM1014.6 796.3l5 -9.6h-10zM1017.3 797.9l5 -9.6h-10zM1020 794.4l5 -9.6h-10zM1022.7 797.2l5 -9.6h-10zM1025.5 796.2l5 -9.6h-10zM1028.2 799l5 -9.6h-10zM1030.9 797.2l5 -9.6h-10zM1033.6 799.9l5 -9.6h-10zM1036.3 797.8l5 -9.6h-10zM1039.1 794.8l5 -9.6h-10zM1041.8 797.1l5 -9.6h-10zM1044.5 798.6l5 -9.6h-10zM1047.2 798.3l5 -9.6h-10zM1050 797.6l5 -9.6h-10zM1052.7 796.8l5 -9.6h-10zM1055.4 798.7l5 -9.6h-10zM1058.1 796.4l5 -9.6h-10zM1060.8 792l5 -9.6h-10zM1063.6 797.2l5 -9.6h-10zM1066.3 797l5 -9.6h-10zM1069 796.8l5 -9.6h-10zM1071.7 794.6l5 -9.6h-10zM1074.4 795.6l5 -9.6h-10zM1077.2 796.9l5 -9.6h-10zM1079.9 795.5l5 -9.6h-10zM1082.6 797.7l5 -9.6h-10zM1085.3 794.5l5 -9.6h-10zM1088 795.7l5 -9.6h-10zM1090.8 795.7l5 -9.6h-10zM1093.5 796.1l5 -9.6h-10zM1096.2 794.7l5 -9.6h-10zM1098.9 793.4l5 -9.6h-10zM1101.6 791.5l5 -9.6h-10zM1104.4 797.2l5 -9.6h-10zM1107.1 795.7l5 -9.6h-10zM1109.8 796.7l5 -9.6h-10zM1112.5 795.1l5 -9.6h-10zM1115.2 797l5 -9.6h-10zM1118 793.2l5 -9.6h-10zM1120.7 793.6l5 -9.6h-10zM1123.4 790.6l5 -9.6h-10zM1126.1 795.4l5 -9.6h-10zM1128.9 795l5 -9.6h-10zM1131.6 797l5 -9.6h-10zM1134.3 793.6l5 -9.6h-10zM1137 795.2l5 -9.6h-10zM1139.7 796.1l5 -9.6h-10zM1142.5 795.5l5 -9.6h-10zM1145.2 797.6l5 -9.6h-10zM1147.9 795.8l5 -9.6h-10zM1150.6 800.2l5 -9.6h-10zM1153.3 796.4l5 -9.6h-10zM1156.1 796.8l5 -9.6h-10zM1158.8 797.5l5 -9.6h-10zM1161.5 797.4l5 -9.6h-10zM1164.2 796.2l5 -9.6h-10zM1166.9 794.6l5 -9.6h-10zM1169.7 793.1l5 -9.6h-10zM1172.4 797.5l5 -9.6h-10zM1175.1 794.6l5 -9.6h-10zM1177.8 794.7l5 -9.6h-10zM1180.5 797.8l5 -9.6h-10zM1183.3 795.1l5 -9.6h-10zM1186 794.5l5 -9.6h-10zM1188.7 796.5l5 -9.6h-10zM1191.4 792.8l5 -9.6h-10zM1194.1 794.8l5 -9.6h-10zM1196.9 793.9l5 -9.6h-10zM1199.6 794.8l5 -9.6h-10zM1202.3 794.2l5 -9.6h-10zM1205 795.2l5 -9.6h-10zM1207.8 792.3l5 -9.6h-10zM1210.5 794.3l5 -9.6h-10zM1213.2 793.8l5 -9.6h-10zM1215.9 793.9l5 -9.6h-10zM1218.6 791.7l5 -9.6h-10zM1221.4 793.3l5 -9.6h-10zM1224.1 792.9l5 -9.6h-10zM1226.8 793.5l5 -9.6h-10zM1229.5 794.5l5 -9.6h-10zM1232.2 792.7l5 -9.6h-10zM1235 794.2l5 -9.6h-10zM1237.7 794l5 -9.6h-10zM1240.4 795.7l5 -9.6h-10zM1243.1 795.2l5 -9.6h-10zM1245.8 795.2l5 -9.6h-10zM1248.6 794.9l5 -9.6h-10zM1251.3 796.9l5 -9.6h-10zM1254 793.5l5 -9.6h-10zM1256.7 794.5l5 -9.6h-10zM1259.4 795.5l5 -9.6h-10zM1262.2 794.6l5 -9.6h-10zM1264.9 792.6l5 -9.6h-10zM1267.6 795.9l5 -9.6h-10zM1270.3 796.7l5 -9.6h-10zM1273 794.7l5 -9.6h-10zM1275.8 794.7l5 -9.6h-10zM1278.5 795.5l5 -9.6h-10zM1281.2 795.5l5 -9.6h-10zM1283.9 795.9l5 -9.6h-10zM1286.7 794.2l5 -9.6h-10zM1289.4 795.1l5 -9.6h-10zM1292.1 795.7l5 -9.6h-10zM1294.8 794.6l5 -9.6h-10zM1297.5 794.4l5 -9.6h-10zM1300.3 794l5 -9.6h-10zM1303 794.9l5 -9.6h-10zM1305.7 795l5 -9.6h-10zM1308.4 795.6l5 -9.6h-10zM1311.1 793.6l5 -9.6h-10zM1313.9 798l5 -9.6h-10zM1316.6 798.2l5 -9.6h-10zM1319.3 793.8l5 -9.6h-10zM1322 796.6l5 -9.6h-10z"/><path stroke="#F6921E" stroke-width="7.2" stroke-linecap="round" fill="none" d="M832.3 778.8h0M834.3 746.8h0M836.4 724.7h0M838.4 705.5h0M840.5 697.2h0M842.5 690.3h0M844.5 685.7h0M846.6 683.2h0M848.6 678.7h0M850.7 677h0M852.7 673.5h0M854.7 672.3h0M856.8 666.2h0M858.8 669.8h0M860.9 667.3h0M862.9 666.3h0M864.9 665.3h0M867 665.5h0M869 665.9h0M871.1 661.2h0M873.1 664.1h0M875.2 659.6h0M877.2 662h0M879.2 657.5h0M881.3 661.5h0M883.3 659.4h0M885.4 661.5h0M887.4 658.4h0M889.4 659.3h0M891.5 656h0M893.5 655.6h0M895.6 656.5h0M897.6 653.3h0M899.6 654.1h0M901.7 654.7h0M903.7 653.5h0M905.8 652.1h0M907.8 645.9h0M909.8 649.9h0M911.9 648.7h0M913.9 650.8h0M916 649.9h0M918 650.1h0M920 649.3h0M922.1 651.6h0M924.1 652.1h0M926.2 649.9h0M928.2 651.1h0M930.2 649.1h0M932.3 652h0M934.3 650.8h0M936.4 652.1h0M938.4 650.4h0M940.4 651.8h0M942.5 651.9h0M944.5 652.9h0M946.6 651.4h0M948.6 652.4h0M950.6 649.5h0M952.7 648.5h0M954.7 649.9h0M956.8 653.7h0M958.8 652.5h0M960.9 651.8h0M962.9 654h0M964.9 654.4h0M967 653.3h0M969 649.9h0M971.1 652.9h0M973.1 653.4h0M975.1 654.2h0M977.2 649.2h0M979.2 652.1h0M981.3 650.6h0M983.3 652.6h0M985.3 650.2h0M987.4 651.2h0M989.4 650.4h0M991.5 653.5h0M993.5 650.8h0M995.5 650.9h0M997.6 649.9h0M999.6 649.3h0M1001.7 649.3h0M1003.7 649.4h0M1005.7 649.8h0M1007.8 650.4h0M1009.8 649h0M1011.9 650.2h0M1013.9 651.4h0M1015.9 650.1h0M1018 649.6h0M1020 650.4h0M1022.1 650.9h0M1024.1 648.9h0M1026.1 648.6h0M1028.2 649.8h0M1030.2 650.1h0M1032.3 648.8h0M1034.3 650.9h0M1036.3 650.4h0M1038.4 650.4h0M1040.4 651.2h0M1042.5 650.4h0M1044.5 650h0M1046.6 651.8h0M1048.6 650h0M1050.6 650.3h0M1052.7 649.1h0M1054.7 651.1h0M1056.8 650.9h0M1058.8 650.8h0M1060.8 650h0M1062.9 652.8h0M1064.9 653.2h0M1067 650.8h0M1069 648.8h0M1071 651.8h0M1073.1 651.3h0M1075.1 651.9h0M1077.2 647.8h0M1079.2 651.5h0M1081.2 651.5h0M1083.3 650.3h0M1085.3 650.3h0M1087.4 648.6h0M1089.4 651.5h0M1091.4 653.9h0M1093.5 650.8h0M1095.5 652.6h0M1097.6 651.3h0M1099.6 652.6h0M1101.6 651.2h0M1103.7 651.8h0M1105.7 650.7h0M1107.8 651.7h0M1109.8 651.3h0M1111.8 648.8h0M1113.9 653.9h0M1115.9 651h0M1118 651.5h0M1120 652.5h0M1122.1 649.1h0M1124.1 650h0M1126.1 649.9h0M1128.2 652h0M1130.2 652.4h0M1132.3 652.6h0M1134.3 652.4h0M1136.3 651.9h0M1138.4 650.1h0M1140.4 651.1h0M1142.5 649.3h0M1144.5 649.8h0M1146.5 650.6h0M1148.6 650.6h0M1150.6 646.1h0M1152.7 650.5h0M1154.7 649.8h0M1156.7 649.2h0M1158.8 648.3h0M1160.8 649h0M1162.9 649.7h0M1164.9 647.8h0M1166.9 650.8h0M1169 647.9h0M1171 649.3h0M1173.1 649.4h0M1175.1 649.3h0M1177.1 652.7h0M1179.2 650.5h0M1181.2 651h0M1183.3 648.4h0M1185.3 650.7h0M1187.3 650h0M1189.4 648.6h0M1191.4 649.3h0M1193.5 647.4h0M1195.5 651.9h0M1197.5 649.3h0M1199.6 651.9h0M1201.6 649.5h0M1203.7 648.4h0M1205.7 649.5h0M1207.8 652.6h0M1209.8 647.7h0M1211.8 651.6h0M1213.9 651.6h0M1215.9 648h0M1218 650.5h0M1220 649.8h0M1222 651h0M1224.1 652.7h0M1226.1 651h0M1228.2 651.9h0M1230.2 651.7h0M1232.2 654.2h0M1234.3 652h0M1236.3 653.6h0M1238.4 653.2h0M1240.4 656h0M1242.4 646.5h0M1244.5 652.1h0M1246.5 649.8h0M1248.6 649.1h0M1250.6 649.1h0M1252.6 651h0M1254.7 649.9h0M1256.7 651.3h0M1258.8 650.4h0M1260.8 649.1h0M1262.8 656.4h0M1264.9 649.8h0M1266.9 651.4h0M1269 651.5h0M1271 649.3h0M1273 651.6h0M1275.1 651.2h0M1277.1 651.2h0M1279.2 652.8h0M1281.2 652.5h0M1283.3 650.9h0M1285.3 653.5h0M1287.3 648.9h0M1289.4 647h0M1291.4 654.5h0M1293.5 652h0M1295.5 650.1h0M1297.5 652h0M1299.6 654.1h0M1301.6 654.1h0M1303.7 651.3h0M1305.7 653.2h0M1307.7 654.4h0M1309.8 651.9h0M1311.8 653.3h0M1313.9 652.9h0M1315.9 653.2h0M1317.9 654h0M1320 652.7h0M1322 655.6h0M832.3 781.1h0M834.3 750.6h0M836.4 722.6h0M838.4 703h0M840.5 696.5h0M842.5 689.8h0M844.5 687.8h0M846.6 679.3h0M848.6 675.7h0M850.7 675.6h0M852.7 672.8h0M854.7 671.3h0M856.8 668.2h0M858.8 668.7h0M860.9 666.4h0M862.9 668.1h0M864.9 665.9h0M867 665.5h0M869 663h0M871.1 660.9h0M873.1 663h0M875.2 662.5h0M877.2 664h0M879.2 663.3h0M881.3 661.1h0M883.3 660.7h0M885.4 658.7h0M887.4 660h0M889.4 660.3h0M891.5 659h0M893.5 657.6h0M895.6 661.5h0M897.6 657.4h0M899.6 661.6h0M901.7 660.6h0M903.7 661.1h0M905.8 656.8h0M907.8 659.4h0M909.8 656h0M911.9 657.8h0M913.9 655.9h0M916 657.3h0M918 657.8h0M920 660.4h0M922.1 660.7h0M924.1 658.2h0M926.2 658.4h0M928.2 657.4h0M930.2 657.1h0M932.3 656.1h0M934.3 658.8h0M936.4 660.3h0M938.4 658h0M940.4 660h0M942.5 657.4h0M944.5 657.7h0M946.6 658.6h0M948.6 661h0M950.6 658.6h0M952.7 660.9h0M954.7 658.9h0M956.8 657.6h0M958.8 656h0M960.9 658.7h0M962.9 657.8h0M964.9 661h0M967 660.1h0M969 656.5h0M971.1 660.7h0M973.1 660.1h0M975.1 654.1h0M977.2 657.3h0M979.2 659.4h0M981.3 656.2h0M983.3 657.6h0M985.3 659.7h0M987.4 659.1h0M989.4 659.4h0M991.5 659.6h0M993.5 656.9h0M995.5 662.4h0M997.6 659.2h0M999.6 661.9h0M1001.7 657.7h0M1003.7 659h0M1005.7 658.6h0M1007.8 657.7h0M1009.8 658.4h0M1011.9 658.3h0M1013.9 659.2h0M1015.9 658.3h0M1018 657.9h0M1020 658.6h0M1022.1 660.2h0M1024.1 657.9h0M1026.1 658.8h0M1028.2 658h0M1030.2 654.4h0M1032.3 656.3h0M1034.3 656.3h0M1036.3 655.5h0M1038.4 656.9h0M1040.4 655h0M1042.5 658.5h0M1044.5 657.2h0M1046.6 660.3h0M1048.6 658.9h0M1050.6 656.2h0M1052.7 658h0M1054.7 658.6h0M1056.8 657.4h0M1058.8 658h0M1060.8 656.9h0M1062.9 657.5h0M1064.9 659.3h0M1067 658.3h0M1069 661h0M1071 655.4h0M1073.1 657.7h0M1075.1 658.5h0M1077.2 661.7h0M1079.2 661h0M1081.2 660.4h0M1083.3 660.8h0M1085.3 661.9h0M1087.4 660.3h0M1089.4 658.7h0M1091.4 659.4h0M1093.5 657.8h0M1095.5 658.6h0M1097.6 659.5h0M1099.6 658h0M1101.6 658.9h0M1103.7 657.9h0M1105.7 656.3h0M1107.8 656h0M1109.8 659.6h0M1111.8 658.4h0M1113.9 659.6h0M1115.9 657.9h0M1118 658h0M1120 658.3h0M1122.1 657.2h0M1124.1 660h0M1126.1 659.3h0M1128.2 658.2h0M1130.2 655.6h0M1132.3 656.4h0M1134.3 657.5h0M1136.3 659.1h0M1138.4 657h0M1140.4 656.9h0M1142.5 657.8h0M1144.5 657h0M1146.5 656.5h0M1148.6 654.8h0M1150.6 658.8h0M1152.7 656.6h0M1154.7 655.8h0M1156.7 656.5h0M1158.8 654.4h0M1160.8 653.8h0M1162.9 653.6h0M1164.9 657.3h0M1166.9 654.5h0M1169 656.9h0M1171 654.8h0M1173.1 653.8h0M1175.1 655.8h0M1177.1 655.7h0M1179.2 655.8h0M1181.2 660h0M1183.3 657.4h0M1185.3 656.1h0M1187.3 658.7h0M1189.4 656.8h0M1191.4 659.5h0M1193.5 654.9h0M1195.5 659.5h0M1197.5 655.9h0M1199.6 656.6h0M1201.6 658.3h0M1203.7 656.2h0M1205.7 655.3h0M1207.8 657.5h0M1209.8 657.8h0M1211.8 655.6h0M1213.9 660.1h0M1215.9 657.1h0M1218 657.5h0M1220 658.2h0M1222 658.7h0M1224.1 660.4h0M1226.1 655h0M1228.2 658.7h0M1230.2 660.2h0M1232.2 659.1h0M1234.3 658.6h0M1236.3 656.8h0M1238.4 659.2h0M1240.4 657.8h0M1242.4 658.9h0M1244.5 656.8h0M1246.5 658h0M1248.6 658.3h0M1250.6 656h0M1252.6 660.2h0M1254.7 658.2h0M1256.7 656.2h0M1258.8 657.9h0M1260.8 658.5h0M1262.8 657.7h0M1264.9 656.5h0M1266.9 657.9h0M1269 656h0M1271 655.5h0M1273 660.4h0M1275.1 661.3h0M1277.1 661.7h0M1279.2 662.4h0M1281.2 661h0M1283.3 657.2h0M1285.3 657.9h0M1287.3 660.8h0M1289.4 658.3h0M1291.4 658.6h0M1293.5 659.3h0M1295.5 660.2h0M1297.5 657.3h0M1299.6 659.8h0M1301.6 660.7h0M1303.7 656.6h0M1305.7 662.1h0M1307.7 661.7h0M1309.8 659.1h0M1311.8 663.8h0M1313.9 661.5h0M1315.9 661.8h0M1317.9 663.8h0M1320 656.9h0M1322 661.4h0M832.3 780.4h0M834.3 746.5h0M836.4 726.2h0M838.4 706.6h0M840.5 696.4h0M842.5 692h0M844.5 687.8h0M846.6 680.1h0M848.6 675.3h0M850.7 675.8h0M852.7 673.5h0M854.7 673.2h0M856.8 671.6h0M858.8 670.7h0M860.9 669.9h0M862.9 667.8h0M864.9 666.9h0M867 667h0M869 664.7h0M871.1 664.1h0M873.1 661.7h0M875.2 661.2h0M877.2 664.6h0M879.2 660.5h0M881.3 662.6h0M883.3 661.1h0M885.4 659.1h0M887.4 658.6h0M889.4 661.2h0M891.5 662.1h0M893.5 662h0M895.6 664.5h0M897.6 663.7h0M899.6 661.1h0M901.7 663.7h0M903.7 664.5h0M905.8 664.9h0M907.8 663.2h0M909.8 666.4h0M911.9 667.3h0M913.9 665.3h0M916 666.7h0M918 662.5h0M920 666.1h0M922.1 666.8h0M924.1 666.5h0M926.2 665.6h0M928.2 668h0M930.2 666h0M932.3 664.3h0M934.3 665.3h0M936.4 663.8h0M938.4 666h0M940.4 667.2h0M942.5 662.9h0M944.5 665.3h0M946.6 666h0M948.6 666.1h0M950.6 666.6h0M952.7 664.1h0M954.7 665.2h0M956.8 667h0M958.8 664h0M960.9 667.4h0M962.9 666.4h0M964.9 667.5h0M967 667.9h0M969 665.4h0M971.1 669.9h0M973.1 668.2h0M975.1 667.9h0M977.2 667.7h0M979.2 664.8h0M981.3 664.9h0M983.3 667.5h0M985.3 665.9h0M987.4 663.4h0M989.4 665h0M991.5 663.8h0M993.5 666.9h0M995.5 663.7h0M997.6 666.8h0M999.6 667.7h0M1001.7 665.7h0M1003.7 665.9h0M1005.7 664.4h0M1007.8 668h0M1009.8 663.9h0M1011.9 667.8h0M1013.9 662.9h0M1015.9 662.1h0M1018 663.1h0M1020 666.6h0M1022.1 667.1h0M1024.1 667.2h0M1026.1 666.2h0M1028.2 664.6h0M1030.2 663.8h0M1032.3 665.7h0M1034.3 663.3h0M1036.3 665.3h0M1038.4 666h0M1040.4 663.4h0M1042.5 664.1h0M1044.5 666.3h0M1046.6 665.3h0M1048.6 666.8h0M1050.6 664.6h0M1052.7 664.2h0M1054.7 663.4h0M1056.8 667.2h0M1058.8 666.1h0M1060.8 665.4h0M1062.9 666.1h0M1064.9 663.4h0M1067 663.6h0M1069 669.5h0M1071 665.8h0M1073.1 666.6h0M1075.1 665.8h0M1077.2 664.3h0M1079.2 668.5h0M1081.2 665.7h0M1083.3 663.1h0M1085.3 662.6h0M1087.4 667.6h0M1089.4 668.9h0M1091.4 669.3h0M1093.5 667h0M1095.5 666.4h0M1097.6 666.2h0M1099.6 663.2h0M1101.6 665.6h0M1103.7 665h0M1105.7 667.5h0M1107.8 664.6h0M1109.8 666.3h0M1111.8 666.8h0M1113.9 666.6h0M1115.9 665.9h0M1118 666.2h0M1120 667.4h0M1122.1 668.3h0M1124.1 663.7h0M1126.1 666.9h0M1128.2 663.5h0M1130.2 668.2h0M1132.3 665.5h0M1134.3 666.7h0M1136.3 668.9h0M1138.4 665.6h0M1140.4 664.8h0M1142.5 664.6h0M1144.5 663.4h0M1146.5 667.3h0M1148.6 666.6h0M1150.6 663.1h0M1152.7 664.8h0M1154.7 663.6h0M1156.7 663.9h0M1158.8 661.9h0M1160.8 665.1h0M1162.9 664.5h0M1164.9 663.2h0M1166.9 664.4h0M1169 663.3h0M1171 664.2h0M1173.1 665.2h0M1175.1 664.1h0M1177.1 664.4h0M1179.2 662.7h0M1181.2 662.3h0M1183.3 664.5h0M1185.3 665.7h0M1187.3 665.6h0M1189.4 665.7h0M1191.4 665.8h0M1193.5 663.6h0M1195.5 662.7h0M1197.5 665.1h0M1199.6 663.2h0M1201.6 665.8h0M1203.7 665.3h0M1205.7 666.1h0M1207.8 664.2h0M1209.8 663.2h0M1211.8 666h0M1213.9 665.7h0M1215.9 666.3h0M1218 664.2h0M1220 666.8h0M1222 663.7h0M1224.1 664.7h0M1226.1 664.8h0M1228.2 664.5h0M1230.2 665.3h0M1232.2 662.1h0M1234.3 665.8h0M1236.3 667.2h0M1238.4 667.1h0M1240.4 669.6h0M1242.4 664.2h0M1244.5 667.8h0M1246.5 663.4h0M1248.6 668.7h0M1250.6 668.2h0M1252.6 668.8h0M1254.7 668.8h0M1256.7 664.9h0M1258.8 667.6h0M1260.8 665.3h0M1262.8 666.2h0M1264.9 663.3h0M1266.9 665h0M1269 664.6h0M1271 666.9h0M1273 665.6h0M1275.1 667.2h0M1277.1 665.7h0M1279.2 669.5h0M1281.2 668h0M1283.3 666.1h0M1285.3 666.1h0M1287.3 668h0M1289.4 667.4h0M1291.4 665.6h0M1293.5 667.2h0M1295.5 668.1h0M1297.5 667.6h0M1299.6 667.3h0M1301.6 667.2h0M1303.7 669.5h0M1305.7 668.3h0M1307.7 666.6h0M1309.8 666.7h0M1311.8 669.6h0M1313.9 668.2h0M1315.9 667.8h0M1317.9 666h0M1320 667h0M1322 666.9h0"/><path fill="#3F56A6" d="M832.3 765.3l3.9 7.4h-7.8zM834.3 720.6l3.9 7.4h-7.8zM836.4 699.9l3.9 7.4h-7.8zM838.4 677.5l3.9 7.4h-7.8zM840.5 670.9l3.9 7.4h-7.8zM842.5 660.7l3.9 7.4h-7.8zM844.5 652.5l3.9 7.4h-7.8zM846.6 650l3.9 7.4h-7.8zM848.6 650.3l3.9 7.4h-7.8zM850.7 648.6l3.9 7.4h-7.8zM852.7 649.4l3.9 7.4h-7.8zM854.7 649.9l3.9 7.4h-7.8zM856.8 639.8l3.9 7.4h-7.8zM858.8 639.5l3.9 7.4h-7.8zM860.9 643.5l3.9 7.4h-7.8zM862.9 638.9l3.9 7.4h-7.8zM864.9 639.8l3.9 7.4h-7.8zM867 635.5l3.9 7.4h-7.8zM869 641.1l3.9 7.4h-7.8zM871.1 637.1l3.9 7.4h-7.8zM873.1 645.4l3.9 7.4h-7.8zM875.2 642l3.9 7.4h-7.8zM877.2 646.7l3.9 7.4h-7.8zM879.2 652.6l3.9 7.4h-7.8zM881.3 652.2l3.9 7.4h-7.8zM883.3 658.4l3.9 7.4h-7.8zM885.4 667.3l3.9 7.4h-7.8zM887.4 660.2l3.9 7.4h-7.8zM889.4 667.2l3.9 7.4h-7.8zM891.5 664.7l3.9 7.4h-7.8zM893.5 674.2l3.9 7.4h-7.8zM895.6 675.9l3.9 7.4h-7.8zM897.6 675.8l3.9 7.4h-7.8zM899.6 676.9l3.9 7.4h-7.8zM901.7 684.6l3.9 7.4h-7.8zM903.7 684.4l3.9 7.4h-7.8zM905.8 680.8l3.9 7.4h-7.8zM907.8 687.7l3.9 7.4h-7.8zM909.8 684.3l3.9 7.4h-7.8zM911.9 685.6l3.9 7.4h-7.8zM913.9 689l3.9 7.4h-7.8zM916 687.7l3.9 7.4h-7.8zM918 689.7l3.9 7.4h-7.8zM920 691.3l3.9 7.4h-7.8zM922.1 686.9l3.9 7.4h-7.8zM924.1 690.3l3.9 7.4h-7.8zM926.2 689.7l3.9 7.4h-7.8zM928.2 684.7l3.9 7.4h-7.8zM930.2 691.7l3.9 7.4h-7.8zM932.3 692.6l3.9 7.4h-7.8zM934.3 686.6l3.9 7.4h-7.8zM936.4 689.9l3.9 7.4h-7.8zM938.4 693.8l3.9 7.4h-7.8zM940.4 693.9l3.9 7.4h-7.8zM942.5 690.8l3.9 7.4h-7.8zM944.5 691.7l3.9 7.4h-7.8zM946.6 692.3l3.9 7.4h-7.8zM948.6 690.6l3.9 7.4h-7.8zM950.6 694.9l3.9 7.4h-7.8zM952.7 701l3.9 7.4h-7.8zM954.7 692.1l3.9 7.4h-7.8zM956.8 696.2l3.9 7.4h-7.8zM958.8 694.2l3.9 7.4h-7.8zM960.9 701.3l3.9 7.4h-7.8zM962.9 693.3l3.9 7.4h-7.8zM964.9 700.8l3.9 7.4h-7.8zM967 700.1l3.9 7.4h-7.8zM969 697.2l3.9 7.4h-7.8zM971.1 699.3l3.9 7.4h-7.8zM973.1 700.8l3.9 7.4h-7.8zM975.1 705.8l3.9 7.4h-7.8zM977.2 702.4l3.9 7.4h-7.8zM979.2 705.2l3.9 7.4h-7.8zM981.3 705.1l3.9 7.4h-7.8zM983.3 702.8l3.9 7.4h-7.8zM985.3 703l3.9 7.4h-7.8zM987.4 703.1l3.9 7.4h-7.8zM989.4 708.1l3.9 7.4h-7.8zM991.5 707.6l3.9 7.4h-7.8zM993.5 707.1l3.9 7.4h-7.8zM995.5 703.1l3.9 7.4h-7.8zM997.6 704.5l3.9 7.4h-7.8zM999.6 707.6l3.9 7.4h-7.8zM1001.7 705.4l3.9 7.4h-7.8zM1003.7 702.4l3.9 7.4h-7.8zM1005.7 702.4l3.9 7.4h-7.8zM1007.8 708.2l3.9 7.4h-7.8zM1009.8 709.5l3.9 7.4h-7.8zM1011.9 709.4l3.9 7.4h-7.8zM1013.9 712.7l3.9 7.4h-7.8zM1015.9 704.9l3.9 7.4h-7.8zM1018 704.9l3.9 7.4h-7.8zM1020 710.6l3.9 7.4h-7.8zM1022.1 713.2l3.9 7.4h-7.8zM1024.1 709.1l3.9 7.4h-7.8zM1026.1 712.5l3.9 7.4h-7.8zM1028.2 713.1l3.9 7.4h-7.8zM1030.2 711.3l3.9 7.4h-7.8zM1032.3 710.7l3.9 7.4h-7.8zM1034.3 712.6l3.9 7.4h-7.8zM1036.3 713.8l3.9 7.4h-7.8zM1038.4 716.6l3.9 7.4h-7.8zM1040.4 714.4l3.9 7.4h-7.8zM1042.5 713.2l3.9 7.4h-7.8zM1044.5 713.5l3.9 7.4h-7.8zM1046.6 715.7l3.9 7.4h-7.8zM1048.6 718.8l3.9 7.4h-7.8zM1050.6 715.6l3.9 7.4h-7.8zM1052.7 717.3l3.9 7.4h-7.8zM1054.7 719.8l3.9 7.4h-7.8zM1056.8 719.3l3.9 7.4h-7.8zM1058.8 724.2l3.9 7.4h-7.8zM1060.8 720.2l3.9 7.4h-7.8zM1062.9 720.8l3.9 7.4h-7.8zM1064.9 725l3.9 7.4h-7.8zM1067 714.5l3.9 7.4h-7.8zM1069 715l3.9 7.4h-7.8zM1071 717.8l3.9 7.4h-7.8zM1073.1 720.4l3.9 7.4h-7.8zM1075.1 723.4l3.9 7.4h-7.8zM1077.2 722.2l3.9 7.4h-7.8zM1079.2 718.9l3.9 7.4h-7.8zM1081.2 716.5l3.9 7.4h-7.8zM1083.3 721.4l3.9 7.4h-7.8zM1085.3 719.8l3.9 7.4h-7.8zM1087.4 717.9l3.9 7.4h-7.8zM1089.4 717.3l3.9 7.4h-7.8zM1091.4 722.6l3.9 7.4h-7.8zM1093.5 720l3.9 7.4h-7.8zM1095.5 721.4l3.9 7.4h-7.8zM1097.6 720.6l3.9 7.4h-7.8zM1099.6 718.9l3.9 7.4h-7.8zM1101.6 719.8l3.9 7.4h-7.8zM1103.7 719.5l3.9 7.4h-7.8zM1105.7 721l3.9 7.4h-7.8zM1107.8 719.4l3.9 7.4h-7.8zM1109.8 723l3.9 7.4h-7.8zM1111.8 718.7l3.9 7.4h-7.8zM1113.9 722.1l3.9 7.4h-7.8zM1115.9 721.9l3.9 7.4h-7.8zM1118 723.3l3.9 7.4h-7.8zM1120 713.6l3.9 7.4h-7.8zM1122.1 723.5l3.9 7.4h-7.8zM1124.1 722.8l3.9 7.4h-7.8zM1126.1 720.7l3.9 7.4h-7.8zM1128.2 721l3.9 7.4h-7.8zM1130.2 720.9l3.9 7.4h-7.8zM1132.3 718.1l3.9 7.4h-7.8zM1134.3 730.1l3.9 7.4h-7.8zM1136.3 721.6l3.9 7.4h-7.8zM1138.4 723.4l3.9 7.4h-7.8zM1140.4 719l3.9 7.4h-7.8zM1142.5 721l3.9 7.4h-7.8zM1144.5 715.8l3.9 7.4h-7.8zM1146.5 721.9l3.9 7.4h-7.8zM1148.6 719.8l3.9 7.4h-7.8zM1150.6 722.2l3.9 7.4h-7.8zM1152.7 723.4l3.9 7.4h-7.8zM1154.7 725.9l3.9 7.4h-7.8zM1156.7 722.4l3.9 7.4h-7.8zM1158.8 719.3l3.9 7.4h-7.8zM1160.8 721l3.9 7.4h-7.8zM1162.9 723.9l3.9 7.4h-7.8zM1164.9 727.3l3.9 7.4h-7.8zM1166.9 715.8l3.9 7.4h-7.8zM1169 719l3.9 7.4h-7.8zM1171 720.6l3.9 7.4h-7.8zM1173.1 722l3.9 7.4h-7.8zM1175.1 724.2l3.9 7.4h-7.8zM1177.1 726.3l3.9 7.4h-7.8zM1179.2 724.2l3.9 7.4h-7.8zM1181.2 726.5l3.9 7.4h-7.8zM1183.3 720.9l3.9 7.4h-7.8zM1185.3 720.5l3.9 7.4h-7.8zM1187.3 718.2l3.9 7.4h-7.8zM1189.4 720.6l3.9 7.4h-7.8zM1191.4 724.5l3.9 7.4h-7.8zM1193.5 722.7l3.9 7.4h-7.8zM1195.5 728.1l3.9 7.4h-7.8zM1197.5 721.9l3.9 7.4h-7.8zM1199.6 720l3.9 7.4h-7.8zM1201.6 724.3l3.9 7.4h-7.8zM1203.7 717.4l3.9 7.4h-7.8zM1205.7 725.2l3.9 7.4h-7.8zM1207.8 724l3.9 7.4h-7.8zM1209.8 719.4l3.9 7.4h-7.8zM1211.8 724.5l3.9 7.4h-7.8zM1213.9 723.9l3.9 7.4h-7.8zM1215.9 726.8l3.9 7.4h-7.8zM1218 722.8l3.9 7.4h-7.8zM1220 722.2l3.9 7.4h-7.8zM1222 723.8l3.9 7.4h-7.8zM1224.1 723.5l3.9 7.4h-7.8zM1226.1 721.2l3.9 7.4h-7.8zM1228.2 726.6l3.9 7.4h-7.8zM1230.2 726.9l3.9 7.4h-7.8zM1232.2 722.4l3.9 7.4h-7.8zM1234.3 723l3.9 7.4h-7.8zM1236.3 721.7l3.9 7.4h-7.8zM1238.4 723.5l3.9 7.4h-7.8zM1240.4 723l3.9 7.4h-7.8zM1242.4 724.9l3.9 7.4h-7.8zM1244.5 726.9l3.9 7.4h-7.8zM1246.5 729.3l3.9 7.4h-7.8zM1248.6 722.8l3.9 7.4h-7.8zM1250.6 723.3l3.9 7.4h-7.8zM1252.6 722.4l3.9 7.4h-7.8zM1254.7 725.5l3.9 7.4h-7.8zM1256.7 727.8l3.9 7.4h-7.8zM1258.8 723.3l3.9 7.4h-7.8zM1260.8 725.8l3.9 7.4h-7.8zM1262.8 723.2l3.9 7.4h-7.8zM1264.9 722.1l3.9 7.4h-7.8zM1266.9 724.6l3.9 7.4h-7.8zM1269 728.4l3.9 7.4h-7.8zM1271 725.3l3.9 7.4h-7.8zM1273 721.7l3.9 7.4h-7.8zM1275.1 723.9l3.9 7.4h-7.8zM1277.1 725.9l3.9 7.4h-7.8zM1279.2 732.2l3.9 7.4h-7.8zM1281.2 723.8l3.9 7.4h-7.8zM1283.3 734.8l3.9 7.4h-7.8zM1285.3 730l3.9 7.4h-7.8zM1287.3 730.9l3.9 7.4h-7.8zM1289.4 730.2l3.9 7.4h-7.8zM1291.4 720.9l3.9 7.4h-7.8zM1293.5 728.6l3.9 7.4h-7.8zM1295.5 728.8l3.9 7.4h-7.8zM1297.5 729.7l3.9 7.4h-7.8zM1299.6 731.9l3.9 7.4h-7.8zM1301.6 728.4l3.9 7.4h-7.8zM1303.7 726.6l3.9 7.4h-7.8zM1305.7 730.2l3.9 7.4h-7.8zM1307.7 729.5l3.9 7.4h-7.8zM1309.8 730.4l3.9 7.4h-7.8zM1311.8 728.1l3.9 7.4h-7.8zM1313.9 729.4l3.9 7.4h-7.8zM1315.9 721.2l3.9 7.4h-7.8zM1317.9 730.3l3.9 7.4h-7.8zM1320 732.7l3.9 7.4h-7.8zM1322 730.2l3.9 7.4h-7.8zM832.3 765.7l3.9 7.4h-7.8zM834.3 723.3l3.9 7.4h-7.8zM836.4 698.8l3.9 7.4h-7.8zM838.4 678.7l3.9 7.4h-7.8zM840.5 672.9l3.9 7.4h-7.8zM842.5 658.7l3.9 7.4h-7.8zM844.5 654.4l3.9 7.4h-7.8zM846.6 650.4l3.9 7.4h-7.8zM848.6 651.4l3.9 7.4h-7.8zM850.7 651l3.9 7.4h-7.8zM852.7 645.3l3.9 7.4h-7.8zM854.7 642.5l3.9 7.4h-7.8zM856.8 639.3l3.9 7.4h-7.8zM858.8 642.8l3.9 7.4h-7.8zM860.9 640.6l3.9 7.4h-7.8zM862.9 643l3.9 7.4h-7.8zM864.9 641.9l3.9 7.4h-7.8zM867 643.6l3.9 7.4h-7.8zM869 644.1l3.9 7.4h-7.8zM871.1 643.9l3.9 7.4h-7.8zM873.1 644.5l3.9 7.4h-7.8zM875.2 641.9l3.9 7.4h-7.8zM877.2 643.1l3.9 7.4h-7.8zM879.2 642.7l3.9 7.4h-7.8zM881.3 644.5l3.9 7.4h-7.8zM883.3 643.7l3.9 7.4h-7.8zM885.4 645.3l3.9 7.4h-7.8zM887.4 641.2l3.9 7.4h-7.8zM889.4 649.2l3.9 7.4h-7.8zM891.5 641.4l3.9 7.4h-7.8zM893.5 645.5l3.9 7.4h-7.8zM895.6 644.8l3.9 7.4h-7.8zM897.6 644.8l3.9 7.4h-7.8zM899.6 646.3l3.9 7.4h-7.8zM901.7 647.9l3.9 7.4h-7.8zM903.7 647.5l3.9 7.4h-7.8zM905.8 647.5l3.9 7.4h-7.8zM907.8 646.4l3.9 7.4h-7.8zM909.8 651.1l3.9 7.4h-7.8zM911.9 646.5l3.9 7.4h-7.8zM913.9 653.8l3.9 7.4h-7.8zM916 653.8l3.9 7.4h-7.8zM918 658.5l3.9 7.4h-7.8zM920 657l3.9 7.4h-7.8zM922.1 655.3l3.9 7.4h-7.8zM924.1 657.6l3.9 7.4h-7.8zM926.2 656.8l3.9 7.4h-7.8zM928.2 658.7l3.9 7.4h-7.8zM930.2 667.9l3.9 7.4h-7.8zM932.3 658.4l3.9 7.4h-7.8zM934.3 660l3.9 7.4h-7.8zM936.4 658.7l3.9 7.4h-7.8zM938.4 668.5l3.9 7.4h-7.8zM940.4 660.8l3.9 7.4h-7.8zM942.5 668.5l3.9 7.4h-7.8zM944.5 666.5l3.9 7.4h-7.8zM946.6 667.8l3.9 7.4h-7.8zM948.6 670l3.9 7.4h-7.8zM950.6 671.6l3.9 7.4h-7.8zM952.7 676.3l3.9 7.4h-7.8zM954.7 668.7l3.9 7.4h-7.8zM956.8 676.9l3.9 7.4h-7.8zM958.8 679.7l3.9 7.4h-7.8zM960.9 681.8l3.9 7.4h-7.8zM962.9 678.6l3.9 7.4h-7.8zM964.9 681.3l3.9 7.4h-7.8zM967 688.4l3.9 7.4h-7.8zM969 683.2l3.9 7.4h-7.8zM971.1 681.2l3.9 7.4h-7.8zM973.1 690l3.9 7.4h-7.8zM975.1 683l3.9 7.4h-7.8zM977.2 689.6l3.9 7.4h-7.8zM979.2 693.2l3.9 7.4h-7.8zM981.3 689.3l3.9 7.4h-7.8zM983.3 691.2l3.9 7.4h-7.8zM985.3 693.2l3.9 7.4h-7.8zM987.4 689.9l3.9 7.4h-7.8zM989.4 695.1l3.9 7.4h-7.8zM991.5 694.8l3.9 7.4h-7.8zM993.5 699.8l3.9 7.4h-7.8zM995.5 699.2l3.9 7.4h-7.8zM997.6 698l3.9 7.4h-7.8zM999.6 696l3.9 7.4h-7.8zM1001.7 701l3.9 7.4h-7.8zM1003.7 701.8l3.9 7.4h-7.8zM1005.7 702.3l3.9 7.4h-7.8zM1007.8 705l3.9 7.4h-7.8zM1009.8 711.6l3.9 7.4h-7.8zM1011.9 708.1l3.9 7.4h-7.8zM1013.9 711.2l3.9 7.4h-7.8zM1015.9 709.3l3.9 7.4h-7.8zM1018 711l3.9 7.4h-7.8zM1020 708.4l3.9 7.4h-7.8zM1022.1 712.2l3.9 7.4h-7.8zM1024.1 722.1l3.9 7.4h-7.8zM1026.1 717.5l3.9 7.4h-7.8zM1028.2 723.8l3.9 7.4h-7.8zM1030.2 719.1l3.9 7.4h-7.8zM1032.3 716.9l3.9 7.4h-7.8zM1034.3 726.7l3.9 7.4h-7.8zM1036.3 724.1l3.9 7.4h-7.8zM1038.4 725l3.9 7.4h-7.8zM1040.4 722.9l3.9 7.4h-7.8zM1042.5 724.6l3.9 7.4h-7.8zM1044.5 722.3l3.9 7.4h-7.8zM1046.6 723.3l3.9 7.4h-7.8zM1048.6 726.9l3.9 7.4h-7.8zM1050.6 730.4l3.9 7.4h-7.8zM1052.7 729.1l3.9 7.4h-7.8zM1054.7 727.9l3.9 7.4h-7.8zM1056.8 725.4l3.9 7.4h-7.8zM1058.8 732.7l3.9 7.4h-7.8zM1060.8 728l3.9 7.4h-7.8zM1062.9 728.5l3.9 7.4h-7.8zM1064.9 725.8l3.9 7.4h-7.8zM1067 724.1l3.9 7.4h-7.8zM1069 727l3.9 7.4h-7.8zM1071 725.2l3.9 7.4h-7.8zM1073.1 726.8l3.9 7.4h-7.8zM1075.1 726.6l3.9 7.4h-7.8zM1077.2 723.5l3.9 7.4h-7.8zM1079.2 725.3l3.9 7.4h-7.8zM1081.2 723.3l3.9 7.4h-7.8zM1083.3 725.5l3.9 7.4h-7.8zM1085.3 727.5l3.9 7.4h-7.8zM1087.4 724.8l3.9 7.4h-7.8zM1089.4 727.3l3.9 7.4h-7.8zM1091.4 727.6l3.9 7.4h-7.8zM1093.5 728.3l3.9 7.4h-7.8zM1095.5 721.5l3.9 7.4h-7.8zM1097.6 725.8l3.9 7.4h-7.8zM1099.6 725.7l3.9 7.4h-7.8zM1101.6 732.7l3.9 7.4h-7.8zM1103.7 725l3.9 7.4h-7.8zM1105.7 724.9l3.9 7.4h-7.8zM1107.8 728.6l3.9 7.4h-7.8zM1109.8 728.3l3.9 7.4h-7.8zM1111.8 726.1l3.9 7.4h-7.8zM1113.9 727l3.9 7.4h-7.8zM1115.9 728.6l3.9 7.4h-7.8zM1118 726.9l3.9 7.4h-7.8zM1120 727.8l3.9 7.4h-7.8zM1122.1 723.3l3.9 7.4h-7.8zM1124.1 727.5l3.9 7.4h-7.8zM1126.1 727.8l3.9 7.4h-7.8zM1128.2 723.6l3.9 7.4h-7.8zM1130.2 728.8l3.9 7.4h-7.8zM1132.3 723.8l3.9 7.4h-7.8zM1134.3 724.7l3.9 7.4h-7.8zM1136.3 726.4l3.9 7.4h-7.8zM1138.4 726.2l3.9 7.4h-7.8zM1140.4 720l3.9 7.4h-7.8zM1142.5 727.2l3.9 7.4h-7.8zM1144.5 727.9l3.9 7.4h-7.8zM1146.5 722.9l3.9 7.4h-7.8zM1148.6 727.1l3.9 7.4h-7.8zM1150.6 728.4l3.9 7.4h-7.8zM1152.7 719.7l3.9 7.4h-7.8zM1154.7 724.1l3.9 7.4h-7.8zM1156.7 724.6l3.9 7.4h-7.8zM1158.8 722.7l3.9 7.4h-7.8zM1160.8 726.6l3.9 7.4h-7.8zM1162.9 726.6l3.9 7.4h-7.8zM1164.9 721.8l3.9 7.4h-7.8zM1166.9 722.9l3.9 7.4h-7.8zM1169 717.3l3.9 7.4h-7.8zM1171 719.5l3.9 7.4h-7.8zM1173.1 722.4l3.9 7.4h-7.8zM1175.1 722.9l3.9 7.4h-7.8zM1177.1 718.1l3.9 7.4h-7.8zM1179.2 728.4l3.9 7.4h-7.8zM1181.2 715.2l3.9 7.4h-7.8zM1183.3 718.8l3.9 7.4h-7.8zM1185.3 721.6l3.9 7.4h-7.8zM1187.3 723.4l3.9 7.4h-7.8zM1189.4 723.4l3.9 7.4h-7.8zM1191.4 719.7l3.9 7.4h-7.8zM1193.5 722.7l3.9 7.4h-7.8zM1195.5 716.1l3.9 7.4h-7.8zM1197.5 720.2l3.9 7.4h-7.8zM1199.6 719l3.9 7.4h-7.8zM1201.6 717.6l3.9 7.4h-7.8zM1203.7 718.2l3.9 7.4h-7.8zM1205.7 717.4l3.9 7.4h-7.8zM1207.8 724.1l3.9 7.4h-7.8zM1209.8 718.5l3.9 7.4h-7.8zM1211.8 721.9l3.9 7.4h-7.8zM1213.9 719.2l3.9 7.4h-7.8zM1215.9 721.1l3.9 7.4h-7.8zM1218 720.8l3.9 7.4h-7.8zM1220 721.3l3.9 7.4h-7.8zM1222 720.8l3.9 7.4h-7.8zM1224.1 719.7l3.9 7.4h-7.8zM1226.1 720.1l3.9 7.4h-7.8zM1228.2 723.9l3.9 7.4h-7.8zM1230.2 725.5l3.9 7.4h-7.8zM1232.2 724.4l3.9 7.4h-7.8zM1234.3 725l3.9 7.4h-7.8zM1236.3 723.6l3.9 7.4h-7.8zM1238.4 723l3.9 7.4h-7.8zM1240.4 719.4l3.9 7.4h-7.8zM1242.4 724.5l3.9 7.4h-7.8zM1244.5 721.1l3.9 7.4h-7.8zM1246.5 720.4l3.9 7.4h-7.8zM1248.6 723.1l3.9 7.4h-7.8zM1250.6 722.2l3.9 7.4h-7.8zM1252.6 723.8l3.9 7.4h-7.8zM1254.7 725.4l3.9 7.4h-7.8zM1256.7 720l3.9 7.4h-7.8zM1258.8 720.5l3.9 7.4h-7.8zM1260.8 725l3.9 7.4h-7.8zM1262.8 721.6l3.9 7.4h-7.8zM1264.9 720.7l3.9 7.4h-7.8zM1266.9 720.3l3.9 7.4h-7.8zM1269 725l3.9 7.4h-7.8zM1271 726l3.9 7.4h-7.8zM1273 720.6l3.9 7.4h-7.8zM1275.1 725.4l3.9 7.4h-7.8zM1277.1 722.9l3.9 7.4h-7.8zM1279.2 724.3l3.9 7.4h-7.8zM1281.2 725.4l3.9 7.4h-7.8zM1283.3 727.2l3.9 7.4h-7.8zM1285.3 729.1l3.9 7.4h-7.8zM1287.3 727.8l3.9 7.4h-7.8zM1289.4 729l3.9 7.4h-7.8zM1291.4 723.1l3.9 7.4h-7.8zM1293.5 726.6l3.9 7.4h-7.8zM1295.5 729.7l3.9 7.4h-7.8zM1297.5 728.2l3.9 7.4h-7.8zM1299.6 727l3.9 7.4h-7.8zM1301.6 726.7l3.9 7.4h-7.8zM1303.7 730.6l3.9 7.4h-7.8zM1305.7 724.2l3.9 7.4h-7.8zM1307.7 725.7l3.9 7.4h-7.8zM1309.8 729.2l3.9 7.4h-7.8zM1311.8 730.4l3.9 7.4h-7.8zM1313.9 727.8l3.9 7.4h-7.8zM1315.9 722.5l3.9 7.4h-7.8zM1317.9 726.1l3.9 7.4h-7.8zM1320 730.4l3.9 7.4h-7.8zM1322 729l3.9 7.4h-7.8zM832.3 762.5l3.9 7.4h-7.8zM834.3 724.6l3.9 7.4h-7.8zM836.4 701.1l3.9 7.4h-7.8zM838.4 677l3.9 7.4h-7.8zM840.5 669l3.9 7.4h-7.8zM842.5 666.7l3.9 7.4h-7.8zM844.5 654.7l3.9 7.4h-7.8zM846.6 650.6l3.9 7.4h-7.8zM848.6 653.8l3.9 7.4h-7.8zM850.7 646.6l3.9 7.4h-7.8zM852.7 646l3.9 7.4h-7.8zM854.7 649.4l3.9 7.4h-7.8zM856.8 647.3l3.9 7.4h-7.8zM858.8 643.4l3.9 7.4h-7.8zM860.9 647.4l3.9 7.4h-7.8zM862.9 647l3.9 7.4h-7.8zM864.9 639.1l3.9 7.4h-7.8zM867 644.7l3.9 7.4h-7.8zM869 647.7l3.9 7.4h-7.8zM871.1 645.9l3.9 7.4h-7.8zM873.1 642.6l3.9 7.4h-7.8zM875.2 647.7l3.9 7.4h-7.8zM877.2 644.2l3.9 7.4h-7.8zM879.2 648l3.9 7.4h-7.8zM881.3 646.8l3.9 7.4h-7.8zM883.3 649l3.9 7.4h-7.8zM885.4 644.1l3.9 7.4h-7.8zM887.4 651.3l3.9 7.4h-7.8zM889.4 645.7l3.9 7.4h-7.8zM891.5 645.8l3.9 7.4h-7.8zM893.5 645.1l3.9 7.4h-7.8zM895.6 646.3l3.9 7.4h-7.8zM897.6 647.1l3.9 7.4h-7.8zM899.6 646.3l3.9 7.4h-7.8zM901.7 649.7l3.9 7.4h-7.8zM903.7 650.6l3.9 7.4h-7.8zM905.8 649.6l3.9 7.4h-7.8zM907.8 650.9l3.9 7.4h-7.8zM909.8 652.7l3.9 7.4h-7.8zM911.9 655.3l3.9 7.4h-7.8zM913.9 656.7l3.9 7.4h-7.8zM916 651.1l3.9 7.4h-7.8zM918 656l3.9 7.4h-7.8zM920 656.5l3.9 7.4h-7.8zM922.1 651.5l3.9 7.4h-7.8zM924.1 656.8l3.9 7.4h-7.8zM926.2 660.6l3.9 7.4h-7.8zM928.2 655.2l3.9 7.4h-7.8zM930.2 653.7l3.9 7.4h-7.8zM932.3 652.1l3.9 7.4h-7.8zM934.3 659.3l3.9 7.4h-7.8zM936.4 660l3.9 7.4h-7.8zM938.4 661.8l3.9 7.4h-7.8zM940.4 666.1l3.9 7.4h-7.8zM942.5 662.1l3.9 7.4h-7.8zM944.5 666.5l3.9 7.4h-7.8zM946.6 672.9l3.9 7.4h-7.8zM948.6 673.3l3.9 7.4h-7.8zM950.6 668.5l3.9 7.4h-7.8zM952.7 666.6l3.9 7.4h-7.8zM954.7 673.8l3.9 7.4h-7.8zM956.8 675.4l3.9 7.4h-7.8zM958.8 676.6l3.9 7.4h-7.8zM960.9 675l3.9 7.4h-7.8zM962.9 681l3.9 7.4h-7.8zM964.9 678l3.9 7.4h-7.8zM967 678.4l3.9 7.4h-7.8zM969 680.1l3.9 7.4h-7.8zM971.1 683.9l3.9 7.4h-7.8zM973.1 685.6l3.9 7.4h-7.8zM975.1 684.4l3.9 7.4h-7.8zM977.2 690.6l3.9 7.4h-7.8zM979.2 694.7l3.9 7.4h-7.8zM981.3 688.2l3.9 7.4h-7.8zM983.3 695.1l3.9 7.4h-7.8zM985.3 692l3.9 7.4h-7.8zM987.4 687.4l3.9 7.4h-7.8zM989.4 695.8l3.9 7.4h-7.8zM991.5 693l3.9 7.4h-7.8zM993.5 695.7l3.9 7.4h-7.8zM995.5 695.4l3.9 7.4h-7.8zM997.6 690l3.9 7.4h-7.8zM999.6 695.4l3.9 7.4h-7.8zM1001.7 700.7l3.9 7.4h-7.8zM1003.7 701l3.9 7.4h-7.8zM1005.7 695.7l3.9 7.4h-7.8zM1007.8 701.9l3.9 7.4h-7.8zM1009.8 702.2l3.9 7.4h-7.8zM1011.9 704.9l3.9 7.4h-7.8zM1013.9 706.8l3.9 7.4h-7.8zM1015.9 706.4l3.9 7.4h-7.8zM1018 705.7l3.9 7.4h-7.8zM1020 704.6l3.9 7.4h-7.8zM1022.1 703.2l3.9 7.4h-7.8zM1024.1 700.3l3.9 7.4h-7.8zM1026.1 704l3.9 7.4h-7.8zM1028.2 707.5l3.9 7.4h-7.8zM1030.2 707.9l3.9 7.4h-7.8zM1032.3 704.3l3.9 7.4h-7.8zM1034.3 700.5l3.9 7.4h-7.8zM1036.3 704.6l3.9 7.4h-7.8zM1038.4 702.7l3.9 7.4h-7.8zM1040.4 708.5l3.9 7.4h-7.8zM1042.5 704.1l3.9 7.4h-7.8zM1044.5 705.6l3.9 7.4h-7.8zM1046.6 707.9l3.9 7.4h-7.8zM1048.6 708.3l3.9 7.4h-7.8zM1050.6 710l3.9 7.4h-7.8zM1052.7 712.2l3.9 7.4h-7.8zM1054.7 711.1l3.9 7.4h-7.8zM1056.8 714.4l3.9 7.4h-7.8zM1058.8 709l3.9 7.4h-7.8zM1060.8 712.8l3.9 7.4h-7.8zM1062.9 719.7l3.9 7.4h-7.8zM1064.9 713.1l3.9 7.4h-7.8zM1067 710.2l3.9 7.4h-7.8zM1069 712.1l3.9 7.4h-7.8zM1071 711.2l3.9 7.4h-7.8zM1073.1 710.7l3.9 7.4h-7.8zM1075.1 715.5l3.9 7.4h-7.8zM1077.2 716.6l3.9 7.4h-7.8zM1079.2 710.1l3.9 7.4h-7.8zM1081.2 709l3.9 7.4h-7.8zM1083.3 714l3.9 7.4h-7.8zM1085.3 714.2l3.9 7.4h-7.8zM1087.4 710.9l3.9 7.4h-7.8zM1089.4 713.1l3.9 7.4h-7.8zM1091.4 709.8l3.9 7.4h-7.8zM1093.5 714.2l3.9 7.4h-7.8zM1095.5 710.4l3.9 7.4h-7.8zM1097.6 711.1l3.9 7.4h-7.8zM1099.6 712.1l3.9 7.4h-7.8zM1101.6 707.4l3.9 7.4h-7.8zM1103.7 710.7l3.9 7.4h-7.8zM1105.7 710.7l3.9 7.4h-7.8zM1107.8 712.7l3.9 7.4h-7.8zM1109.8 708.2l3.9 7.4h-7.8zM1111.8 704.3l3.9 7.4h-7.8zM1113.9 708l3.9 7.4h-7.8zM1115.9 711l3.9 7.4h-7.8zM1118 709.9l3.9 7.4h-7.8zM1120 710.8l3.9 7.4h-7.8zM1122.1 713.6l3.9 7.4h-7.8zM1124.1 712.2l3.9 7.4h-7.8zM1126.1 711.8l3.9 7.4h-7.8zM1128.2 710.2l3.9 7.4h-7.8zM1130.2 706.8l3.9 7.4h-7.8zM1132.3 708.9l3.9 7.4h-7.8zM1134.3 708.6l3.9 7.4h-7.8zM1136.3 706.7l3.9 7.4h-7.8zM1138.4 709.5l3.9 7.4h-7.8zM1140.4 708.1l3.9 7.4h-7.8zM1142.5 707.1l3.9 7.4h-7.8zM1144.5 706.5l3.9 7.4h-7.8zM1146.5 704.8l3.9 7.4h-7.8zM1148.6 714.4l3.9 7.4h-7.8zM1150.6 708l3.9 7.4h-7.8zM1152.7 708.3l3.9 7.4h-7.8zM1154.7 703.7l3.9 7.4h-7.8zM1156.7 710.1l3.9 7.4h-7.8zM1158.8 711l3.9 7.4h-7.8zM1160.8 711.8l3.9 7.4h-7.8zM1162.9 708.7l3.9 7.4h-7.8zM1164.9 707.9l3.9 7.4h-7.8zM1166.9 717.2l3.9 7.4h-7.8zM1169 710.5l3.9 7.4h-7.8zM1171 712.7l3.9 7.4h-7.8zM1173.1 712.2l3.9 7.4h-7.8zM1175.1 712.1l3.9 7.4h-7.8zM1177.1 716.4l3.9 7.4h-7.8zM1179.2 714l3.9 7.4h-7.8zM1181.2 714.8l3.9 7.4h-7.8zM1183.3 716.8l3.9 7.4h-7.8zM1185.3 715.4l3.9 7.4h-7.8zM1187.3 713.4l3.9 7.4h-7.8zM1189.4 710.5l3.9 7.4h-7.8zM1191.4 715.9l3.9 7.4h-7.8zM1193.5 713.6l3.9 7.4h-7.8zM1195.5 709.8l3.9 7.4h-7.8zM1197.5 715.8l3.9 7.4h-7.8zM1199.6 719.1l3.9 7.4h-7.8zM1201.6 716.9l3.9 7.4h-7.8zM1203.7 715.2l3.9 7.4h-7.8zM1205.7 718.8l3.9 7.4h-7.8zM1207.8 715.9l3.9 7.4h-7.8zM1209.8 711.7l3.9 7.4h-7.8zM1211.8 715.2l3.9 7.4h-7.8zM1213.9 716.6l3.9 7.4h-7.8zM1215.9 714.1l3.9 7.4h-7.8zM1218 712.6l3.9 7.4h-7.8zM1220 711.7l3.9 7.4h-7.8zM1222 719.4l3.9 7.4h-7.8zM1224.1 717.4l3.9 7.4h-7.8zM1226.1 713.1l3.9 7.4h-7.8zM1228.2 719.3l3.9 7.4h-7.8zM1230.2 715.8l3.9 7.4h-7.8zM1232.2 713.5l3.9 7.4h-7.8zM1234.3 713.8l3.9 7.4h-7.8zM1236.3 717.9l3.9 7.4h-7.8zM1238.4 719.1l3.9 7.4h-7.8zM1240.4 718.4l3.9 7.4h-7.8zM1242.4 715.5l3.9 7.4h-7.8zM1244.5 709.9l3.9 7.4h-7.8zM1246.5 713.5l3.9 7.4h-7.8zM1248.6 718l3.9 7.4h-7.8zM1250.6 714l3.9 7.4h-7.8zM1252.6 713.5l3.9 7.4h-7.8zM1254.7 713.7l3.9 7.4h-7.8zM1256.7 711.4l3.9 7.4h-7.8zM1258.8 721.1l3.9 7.4h-7.8zM1260.8 711.5l3.9 7.4h-7.8zM1262.8 714.3l3.9 7.4h-7.8zM1264.9 718.8l3.9 7.4h-7.8zM1266.9 719.4l3.9 7.4h-7.8zM1269 720.7l3.9 7.4h-7.8zM1271 715.5l3.9 7.4h-7.8zM1273 718l3.9 7.4h-7.8zM1275.1 723.4l3.9 7.4h-7.8zM1277.1 716.3l3.9 7.4h-7.8zM1279.2 719.7l3.9 7.4h-7.8zM1281.2 716.8l3.9 7.4h-7.8zM1283.3 714.4l3.9 7.4h-7.8zM1285.3 716.7l3.9 7.4h-7.8zM1287.3 716.7l3.9 7.4h-7.8zM1289.4 721.9l3.9 7.4h-7.8zM1291.4 722.1l3.9 7.4h-7.8zM1293.5 726l3.9 7.4h-7.8zM1295.5 717.6l3.9 7.4h-7.8zM1297.5 719.1l3.9 7.4h-7.8zM1299.6 722l3.9 7.4h-7.8zM1301.6 719.1l3.9 7.4h-7.8zM1303.7 718.2l3.9 7.4h-7.8zM1305.7 720.6l3.9 7.4h-7.8zM1307.7 723.9l3.9 7.4h-7.8zM1309.8 719.6l3.9 7.4h-7.8zM1311.8 726.4l3.9 7.4h-7.8zM1313.9 720.1l3.9 7.4h-7.8zM1315.9 724.7l3.9 7.4h-7.8zM1317.9 724.4l3.9 7.4h-7.8zM1320 720.6l3.9 7.4h-7.8zM1322 722.4l3.9 7.4h-7.8z"/><path stroke="#F6921E" stroke-width="7" stroke-linecap="round" fill="none" d="M890 494.3h0"/><text x="925.2" y="502" font-size="24.7">Bgal</text><path fill="#3F56A6" d="M888 534.3l3.5 6.4h-7z"/><text x="923" y="545.6" font-size="24.6">TEM Protein + Bgal</text><text transform="translate(687.6 474.2) scale(0.95 1)" font-size="49.9" font-weight="bold" fill="#231F20">F</text>
</g>
<g id="panel-G">
<path d="M1491.3 492.6V832.8M1478.3 819.8H1982" stroke="#000" stroke-width="1.7" fill="none"/><text transform="translate(1472.3 827.2) scale(0.905 1)" font-size="22.2" text-anchor="end" stroke="#000" stroke-width="0.3">4.0×10<tspan dy="-7.3" font-size="15.6">3</tspan></text><text transform="translate(1472.3 664) scale(0.905 1)" font-size="22.2" text-anchor="end" stroke="#000" stroke-width="0.3">8.0×10<tspan dy="-7.3" font-size="15.6">3</tspan></text><text transform="translate(1472.3 500.9) scale(0.905 1)" font-size="22.2" text-anchor="end" stroke="#000" stroke-width="0.3">1.2×10<tspan dy="-7.3" font-size="15.6">4</tspan></text><text transform="translate(1491.1 857.2) scale(0.905 1)" font-size="22.2" text-anchor="middle" stroke="#000" stroke-width="0.3">0</text><text transform="translate(1613.6 857.2) scale(0.905 1)" font-size="22.2" text-anchor="middle" stroke="#000" stroke-width="0.3">10</text><text transform="translate(1736 857.2) scale(0.905 1)" font-size="22.2" text-anchor="middle" stroke="#000" stroke-width="0.3">20</text><text transform="translate(1858.5 857.2) scale(0.905 1)" font-size="22.2" text-anchor="middle" stroke="#000" stroke-width="0.3">30</text><text transform="translate(1980.9 857.2) scale(0.905 1)" font-size="22.2" text-anchor="middle" stroke="#000" stroke-width="0.3">40</text><path d="M1478.3 656.6H1491.3M1478.3 493.5H1491.3M1613.8 819.8V832.8M1736.2 819.8V832.8M1858.7 819.8V832.8M1981.1 819.8V832.8" stroke="#000" stroke-width="1.7" fill="none"/><text transform="translate(1736.6 889.4) scale(0.955 1)" font-size="20.7" text-anchor="middle">Time (h)</text><text transform="translate(1369.5 675.5) rotate(-90) scale(0.948 1)" font-size="22.9" text-anchor="middle">pFTAA fluorescence intensity</text><path stroke="#666766" stroke-width="9.6" stroke-linecap="round" fill="none" d="M1491.3 795.1h0M1494.8 797.7h0M1498.3 799.9h0M1501.8 803.8h0M1505.3 801.5h0M1508.8 800.1h0M1512.3 802h0M1515.8 804.3h0M1519.3 801.6h0M1522.8 805.5h0M1526.3 803.7h0M1529.8 803h0M1533.3 804.3h0M1536.8 805.6h0M1540.3 804.4h0M1543.8 805.9h0M1547.3 803.5h0M1550.8 804.7h0M1554.3 803.4h0M1557.8 802.5h0M1561.3 807.9h0M1564.8 803.5h0M1568.3 802.1h0M1571.8 803.9h0M1575.3 806.8h0M1578.8 803.9h0M1582.3 805.4h0M1585.8 805h0M1589.3 805.2h0M1592.8 805.6h0M1596.3 805h0M1599.8 805.4h0M1603.3 802.4h0M1606.8 802.2h0M1610.3 805.3h0M1613.8 804.7h0M1617.3 802.9h0M1620.8 807.3h0M1624.3 801.1h0M1627.7 802.9h0M1631.2 803.6h0M1634.7 801.6h0M1638.2 799.9h0M1641.7 802.2h0M1645.2 804.2h0M1648.7 803.3h0M1652.2 804.1h0M1655.7 802.7h0M1659.2 802.3h0M1662.7 805.1h0M1666.2 803h0M1669.7 805.4h0M1673.2 805.6h0M1676.7 804.9h0M1680.2 804.1h0M1683.7 806.6h0M1687.2 803.9h0M1690.7 804.8h0M1694.2 800.6h0M1697.7 802.6h0M1701.2 804h0M1704.7 805.6h0M1708.2 805.8h0M1711.7 803.3h0M1715.2 804h0M1718.7 802.9h0M1722.2 804.9h0M1725.7 805h0M1729.2 802.8h0M1732.7 804.9h0M1736.2 803.1h0M1739.7 802.6h0M1743.2 802.1h0M1746.7 802.6h0M1750.2 806h0M1753.7 804.2h0M1757.2 803.2h0M1760.7 803.4h0M1764.2 802.6h0M1767.7 800.7h0M1771.2 806.3h0M1774.7 806.7h0M1778.2 802.4h0M1781.7 801.7h0M1785.2 805.4h0M1788.7 804h0M1792.2 803.5h0M1795.7 804.9h0M1799.2 801.5h0M1802.7 805.5h0M1806.2 803.3h0M1809.7 802.4h0M1813.2 802.1h0M1816.7 801.8h0M1820.2 804.4h0M1823.7 804.6h0M1827.2 805h0M1830.7 805.4h0M1834.2 809.1h0M1837.7 801.5h0M1841.2 805.9h0M1844.7 808h0M1848.2 803.7h0M1851.7 803.1h0M1855.2 803.8h0M1858.7 802h0M1862.2 802.3h0M1865.7 803.8h0M1869.2 803.4h0M1872.7 804h0M1876.2 803.7h0M1879.7 803.5h0M1883.2 805h0M1886.7 801.4h0M1890.2 805.2h0M1893.7 803.3h0M1897.2 801.8h0M1900.6 801.2h0M1904.1 805.9h0M1907.6 803h0M1911.1 802.9h0M1914.6 801.9h0M1918.1 806h0M1921.6 802.5h0M1925.1 803.4h0M1928.6 801.6h0M1932.1 805.1h0M1935.6 804.5h0M1939.1 805.2h0M1942.6 805h0M1946.1 802.9h0M1949.6 800.2h0M1953.1 807h0M1956.6 805.8h0M1960.1 804.2h0M1963.6 805.5h0M1967.1 804.5h0M1970.6 807h0M1974.1 804.1h0M1977.6 804.8h0M1981.1 807.8h0M1491.3 800.1h0M1494.8 802.3h0M1498.3 803.4h0M1501.8 804.7h0M1505.3 805.3h0M1508.8 807.5h0M1512.3 803.7h0M1515.8 808.8h0M1519.3 806.2h0M1522.8 807.7h0M1526.3 808.1h0M1529.8 808.6h0M1533.3 806.7h0M1536.8 810.2h0M1540.3 805.5h0M1543.8 805.3h0M1547.3 808.1h0M1550.8 809h0M1554.3 806.9h0M1557.8 806.5h0M1561.3 805h0M1564.8 808.2h0M1568.3 809h0M1571.8 809.9h0M1575.3 806.7h0M1578.8 807.1h0M1582.3 804.5h0M1585.8 801.8h0M1589.3 806.3h0M1592.8 804h0M1596.3 805.4h0M1599.8 806.9h0M1603.3 806.9h0M1606.8 806.3h0M1610.3 805h0M1613.8 805h0M1617.3 806.9h0M1620.8 806h0M1624.3 806.2h0M1627.7 807.8h0M1631.2 807.7h0M1634.7 806h0M1638.2 807.6h0M1641.7 809h0M1645.2 808.3h0M1648.7 807.8h0M1652.2 807.9h0M1655.7 811.3h0M1659.2 805.4h0M1662.7 807.9h0M1666.2 809.5h0M1669.7 806.6h0M1673.2 808.9h0M1676.7 807.1h0M1680.2 808.4h0M1683.7 805.9h0M1687.2 806.4h0M1690.7 811h0M1694.2 806.2h0M1697.7 806.1h0M1701.2 804.4h0M1704.7 805.5h0M1708.2 807.6h0M1711.7 807.7h0M1715.2 805.2h0M1718.7 806.4h0M1722.2 805.3h0M1725.7 804.2h0M1729.2 804.3h0M1732.7 804.7h0M1736.2 803.8h0M1739.7 804h0M1743.2 801.8h0M1746.7 806.3h0M1750.2 807.4h0M1753.7 805.1h0M1757.2 807.5h0M1760.7 807.6h0M1764.2 803.9h0M1767.7 808.8h0M1771.2 806.4h0M1774.7 807.2h0M1778.2 807.9h0M1781.7 810h0M1785.2 809.6h0M1788.7 809.5h0M1792.2 805.4h0M1795.7 808.1h0M1799.2 807.3h0M1802.7 804h0M1806.2 808.8h0M1809.7 808.6h0M1813.2 808.6h0M1816.7 810.8h0M1820.2 807.2h0M1823.7 805.7h0M1827.2 804.3h0M1830.7 810.3h0M1834.2 809.2h0M1837.7 805.7h0M1841.2 807.4h0M1844.7 806.5h0M1848.2 805.2h0M1851.7 805.4h0M1855.2 805.8h0M1858.7 805.9h0M1862.2 804.1h0M1865.7 806.3h0M1869.2 806.5h0M1872.7 804.6h0M1876.2 806.9h0M1879.7 805.3h0M1883.2 807.8h0M1886.7 806.3h0M1890.2 808.2h0M1893.7 809.8h0M1897.2 808.1h0M1900.6 803.2h0M1904.1 807.4h0M1907.6 810h0M1911.1 808h0M1914.6 806.3h0M1918.1 807.7h0M1921.6 805.7h0M1925.1 808.1h0M1928.6 809.4h0M1932.1 806.6h0M1935.6 808.4h0M1939.1 805.8h0M1942.6 805.3h0M1946.1 807.5h0M1949.6 807.1h0M1953.1 806.3h0M1956.6 806.7h0M1960.1 809.6h0M1963.6 808.9h0M1967.1 808.9h0M1970.6 805.6h0M1974.1 808.4h0M1977.6 805h0M1981.1 806.2h0M1491.3 803.8h0M1494.8 805.2h0M1498.3 808.9h0M1501.8 807.8h0M1505.3 809.7h0M1508.8 808.4h0M1512.3 804.9h0M1515.8 810.4h0M1519.3 808.1h0M1522.8 807.9h0M1526.3 808h0M1529.8 807.4h0M1533.3 811.9h0M1536.8 807.9h0M1540.3 808.4h0M1543.8 805.7h0M1547.3 808.9h0M1550.8 808.3h0M1554.3 808h0M1557.8 807.7h0M1561.3 809.8h0M1564.8 809.2h0M1568.3 810.3h0M1571.8 810.3h0M1575.3 807.6h0M1578.8 809.9h0M1582.3 808h0M1585.8 809.7h0M1589.3 809.6h0M1592.8 809.2h0M1596.3 810.7h0M1599.8 809.6h0M1603.3 812.5h0M1606.8 811.4h0M1610.3 812.9h0M1613.8 807h0M1617.3 808.3h0M1620.8 810.3h0M1624.3 809.8h0M1627.7 814.2h0M1631.2 810.5h0M1634.7 808.8h0M1638.2 809.4h0M1641.7 808.8h0M1645.2 810.5h0M1648.7 808.8h0M1652.2 810.2h0M1655.7 808.8h0M1659.2 809.9h0M1662.7 807.9h0M1666.2 808.9h0M1669.7 806.2h0M1673.2 806.9h0M1676.7 809.6h0M1680.2 810.6h0M1683.7 808.1h0M1687.2 807.5h0M1690.7 808.2h0M1694.2 809.5h0M1697.7 805.7h0M1701.2 806.2h0M1704.7 809.4h0M1708.2 808.3h0M1711.7 807.8h0M1715.2 810.4h0M1718.7 808.9h0M1722.2 813.8h0M1725.7 811.1h0M1729.2 808.7h0M1732.7 810.3h0M1736.2 812.6h0M1739.7 807.4h0M1743.2 809.6h0M1746.7 812.9h0M1750.2 806.8h0M1753.7 810h0M1757.2 808.6h0M1760.7 807.1h0M1764.2 808.6h0M1767.7 811.5h0M1771.2 813.5h0M1774.7 808.6h0M1778.2 812h0M1781.7 809.5h0M1785.2 808.8h0M1788.7 809.4h0M1792.2 808.7h0M1795.7 809.2h0M1799.2 808.8h0M1802.7 807.9h0M1806.2 805h0M1809.7 809.5h0M1813.2 805.8h0M1816.7 808.9h0M1820.2 807.8h0M1823.7 808.5h0M1827.2 809.3h0M1830.7 809.6h0M1834.2 810.2h0M1837.7 805.8h0M1841.2 810.3h0M1844.7 808.1h0M1848.2 811.6h0M1851.7 809h0M1855.2 808.7h0M1858.7 811h0M1862.2 810.2h0M1865.7 810.5h0M1869.2 811.8h0M1872.7 809h0M1876.2 812h0M1879.7 809.2h0M1883.2 809.3h0M1886.7 810.7h0M1890.2 808.3h0M1893.7 809.6h0M1897.2 809.8h0M1900.6 808.4h0M1904.1 809.2h0M1907.6 809h0M1911.1 807.8h0M1914.6 809.6h0M1918.1 810.2h0M1921.6 811.7h0M1925.1 810.2h0M1928.6 809h0M1932.1 808h0M1935.6 808.7h0M1939.1 811.6h0M1942.6 808.8h0M1946.1 806.7h0M1949.6 808h0M1953.1 807.3h0M1956.6 807.2h0M1960.1 807.7h0M1963.6 809h0M1967.1 805h0M1970.6 808.6h0M1974.1 809.4h0M1977.6 810.2h0M1981.1 805.4h0"/><path fill="#0B0B0B" d="M1491.3 780.6l5 -9.6h-10zM1494 784.9l5 -9.6h-10zM1496.7 786.1l5 -9.6h-10zM1499.5 790.7l5 -9.6h-10zM1502.2 789l5 -9.6h-10zM1504.9 790.6l5 -9.6h-10zM1507.6 788.5l5 -9.6h-10zM1510.3 787.6l5 -9.6h-10zM1513.1 791.1l5 -9.6h-10zM1515.8 788.9l5 -9.6h-10zM1518.5 787.6l5 -9.6h-10zM1521.2 790.4l5 -9.6h-10zM1524 790.1l5 -9.6h-10zM1526.7 792.5l5 -9.6h-10zM1529.4 788.3l5 -9.6h-10zM1532.1 790.4l5 -9.6h-10zM1534.8 789l5 -9.6h-10zM1537.6 788.6l5 -9.6h-10zM1540.3 787.8l5 -9.6h-10zM1543 786.9l5 -9.6h-10zM1545.7 787.5l5 -9.6h-10zM1548.4 792.6l5 -9.6h-10zM1551.2 787l5 -9.6h-10zM1553.9 789.1l5 -9.6h-10zM1556.6 788.2l5 -9.6h-10zM1559.3 790l5 -9.6h-10zM1562.1 789.8l5 -9.6h-10zM1564.8 790.1l5 -9.6h-10zM1567.5 791.3l5 -9.6h-10zM1570.2 794.4l5 -9.6h-10zM1572.9 788.5l5 -9.6h-10zM1575.7 789.8l5 -9.6h-10zM1578.4 791.9l5 -9.6h-10zM1581.1 789.1l5 -9.6h-10zM1583.8 791.8l5 -9.6h-10zM1586.5 790.3l5 -9.6h-10zM1589.3 791.2l5 -9.6h-10zM1592 793.9l5 -9.6h-10zM1594.7 792l5 -9.6h-10zM1597.4 792.9l5 -9.6h-10zM1600.1 787.1l5 -9.6h-10zM1602.9 788.2l5 -9.6h-10zM1605.6 792.7l5 -9.6h-10zM1608.3 789.9l5 -9.6h-10zM1611 791l5 -9.6h-10zM1613.8 790.7l5 -9.6h-10zM1616.5 787.9l5 -9.6h-10zM1619.2 791l5 -9.6h-10zM1621.9 791.9l5 -9.6h-10zM1624.6 791.3l5 -9.6h-10zM1627.4 791.6l5 -9.6h-10zM1630.1 791.2l5 -9.6h-10zM1632.8 791.8l5 -9.6h-10zM1635.5 790.5l5 -9.6h-10zM1638.2 789.4l5 -9.6h-10zM1641 790.3l5 -9.6h-10zM1643.7 790.5l5 -9.6h-10zM1646.4 789.9l5 -9.6h-10zM1649.1 790.6l5 -9.6h-10zM1651.9 791.5l5 -9.6h-10zM1654.6 788.3l5 -9.6h-10zM1657.3 791.8l5 -9.6h-10zM1660 789l5 -9.6h-10zM1662.7 792.3l5 -9.6h-10zM1665.5 791.2l5 -9.6h-10zM1668.2 790.1l5 -9.6h-10zM1670.9 791.9l5 -9.6h-10zM1673.6 789.1l5 -9.6h-10zM1676.3 790.6l5 -9.6h-10zM1679.1 788.7l5 -9.6h-10zM1681.8 790.3l5 -9.6h-10zM1684.5 791.3l5 -9.6h-10zM1687.2 791.6l5 -9.6h-10zM1689.9 791.8l5 -9.6h-10zM1692.7 791.5l5 -9.6h-10zM1695.4 792l5 -9.6h-10zM1698.1 791.9l5 -9.6h-10zM1700.8 793.3l5 -9.6h-10zM1703.6 791.8l5 -9.6h-10zM1706.3 788.8l5 -9.6h-10zM1709 791.9l5 -9.6h-10zM1711.7 790.9l5 -9.6h-10zM1714.4 791.9l5 -9.6h-10zM1717.2 790.6l5 -9.6h-10zM1719.9 792.6l5 -9.6h-10zM1722.6 792l5 -9.6h-10zM1725.3 791l5 -9.6h-10zM1728 791.1l5 -9.6h-10zM1730.8 791.6l5 -9.6h-10zM1733.5 792.7l5 -9.6h-10zM1736.2 791.9l5 -9.6h-10zM1738.9 789.7l5 -9.6h-10zM1741.7 789.8l5 -9.6h-10zM1744.4 791.7l5 -9.6h-10zM1747.1 793.4l5 -9.6h-10zM1749.8 792.4l5 -9.6h-10zM1752.5 792.7l5 -9.6h-10zM1755.3 789.4l5 -9.6h-10zM1758 789l5 -9.6h-10zM1760.7 791.2l5 -9.6h-10zM1763.4 789.3l5 -9.6h-10zM1766.1 792l5 -9.6h-10zM1768.9 789.1l5 -9.6h-10zM1771.6 788.6l5 -9.6h-10zM1774.3 791.3l5 -9.6h-10zM1777 787.8l5 -9.6h-10zM1779.7 789.9l5 -9.6h-10zM1782.5 791.9l5 -9.6h-10zM1785.2 788.6l5 -9.6h-10zM1787.9 788.1l5 -9.6h-10zM1790.6 788.3l5 -9.6h-10zM1793.4 791.3l5 -9.6h-10zM1796.1 790.3l5 -9.6h-10zM1798.8 789.6l5 -9.6h-10zM1801.5 790l5 -9.6h-10zM1804.2 788.6l5 -9.6h-10zM1807 785.6l5 -9.6h-10zM1809.7 788.8l5 -9.6h-10zM1812.4 790.8l5 -9.6h-10zM1815.1 787l5 -9.6h-10zM1817.8 785.6l5 -9.6h-10zM1820.6 788.3l5 -9.6h-10zM1823.3 788.9l5 -9.6h-10zM1826 792.1l5 -9.6h-10zM1828.7 787.2l5 -9.6h-10zM1831.5 790.3l5 -9.6h-10zM1834.2 788.2l5 -9.6h-10zM1836.9 788.4l5 -9.6h-10zM1839.6 788.4l5 -9.6h-10zM1842.3 787.4l5 -9.6h-10zM1845.1 791.5l5 -9.6h-10zM1847.8 789.1l5 -9.6h-10zM1850.5 788l5 -9.6h-10zM1853.2 789.9l5 -9.6h-10zM1855.9 790.4l5 -9.6h-10zM1858.7 788.4l5 -9.6h-10zM1861.4 788.2l5 -9.6h-10zM1864.1 787.3l5 -9.6h-10zM1866.8 790.2l5 -9.6h-10zM1869.5 789l5 -9.6h-10zM1872.3 788.7l5 -9.6h-10zM1875 788.3l5 -9.6h-10zM1877.7 787.7l5 -9.6h-10zM1880.4 787.3l5 -9.6h-10zM1883.2 788.8l5 -9.6h-10zM1885.9 785.9l5 -9.6h-10zM1888.6 789.1l5 -9.6h-10zM1891.3 791.7l5 -9.6h-10zM1894 787.8l5 -9.6h-10zM1896.8 789.8l5 -9.6h-10zM1899.5 789.9l5 -9.6h-10zM1902.2 789.6l5 -9.6h-10zM1904.9 789.7l5 -9.6h-10zM1907.6 788.4l5 -9.6h-10zM1910.4 787.1l5 -9.6h-10zM1913.1 786.1l5 -9.6h-10zM1915.8 789.5l5 -9.6h-10zM1918.5 790.5l5 -9.6h-10zM1921.3 787.3l5 -9.6h-10zM1924 788.6l5 -9.6h-10zM1926.7 788.2l5 -9.6h-10zM1929.4 785.8l5 -9.6h-10zM1932.1 786.4l5 -9.6h-10zM1934.9 788.6l5 -9.6h-10zM1937.6 786.8l5 -9.6h-10zM1940.3 786.9l5 -9.6h-10zM1943 788.6l5 -9.6h-10zM1945.7 785.9l5 -9.6h-10zM1948.5 788.6l5 -9.6h-10zM1951.2 788.9l5 -9.6h-10zM1953.9 789.7l5 -9.6h-10zM1956.6 789.5l5 -9.6h-10zM1959.4 785.5l5 -9.6h-10zM1962.1 787l5 -9.6h-10zM1964.8 787.7l5 -9.6h-10zM1967.5 789.8l5 -9.6h-10zM1970.2 785.7l5 -9.6h-10zM1973 787.9l5 -9.6h-10zM1975.7 788.2l5 -9.6h-10zM1978.4 788.7l5 -9.6h-10zM1981.1 789.6l5 -9.6h-10zM1491.3 777.9l5 -9.6h-10zM1494 785.6l5 -9.6h-10zM1496.7 789.1l5 -9.6h-10zM1499.5 789.9l5 -9.6h-10zM1502.2 791.9l5 -9.6h-10zM1504.9 793l5 -9.6h-10zM1507.6 793.3l5 -9.6h-10zM1510.3 793.7l5 -9.6h-10zM1513.1 790.7l5 -9.6h-10zM1515.8 789.5l5 -9.6h-10zM1518.5 794.6l5 -9.6h-10zM1521.2 793.4l5 -9.6h-10zM1524 794l5 -9.6h-10zM1526.7 792.7l5 -9.6h-10zM1529.4 795l5 -9.6h-10zM1532.1 794.3l5 -9.6h-10zM1534.8 792.3l5 -9.6h-10zM1537.6 794.9l5 -9.6h-10zM1540.3 790.2l5 -9.6h-10zM1543 790.2l5 -9.6h-10zM1545.7 793.8l5 -9.6h-10zM1548.4 794.7l5 -9.6h-10zM1551.2 792.3l5 -9.6h-10zM1553.9 793.7l5 -9.6h-10zM1556.6 793.9l5 -9.6h-10zM1559.3 793.5l5 -9.6h-10zM1562.1 795.1l5 -9.6h-10zM1564.8 794.7l5 -9.6h-10zM1567.5 793.5l5 -9.6h-10zM1570.2 792l5 -9.6h-10zM1572.9 793.3l5 -9.6h-10zM1575.7 793l5 -9.6h-10zM1578.4 791.2l5 -9.6h-10zM1581.1 791.1l5 -9.6h-10zM1583.8 792.6l5 -9.6h-10zM1586.5 791.7l5 -9.6h-10zM1589.3 792.2l5 -9.6h-10zM1592 793.9l5 -9.6h-10zM1594.7 794.6l5 -9.6h-10zM1597.4 793.2l5 -9.6h-10zM1600.1 792.9l5 -9.6h-10zM1602.9 792.2l5 -9.6h-10zM1605.6 793.6l5 -9.6h-10zM1608.3 792.7l5 -9.6h-10zM1611 791.8l5 -9.6h-10zM1613.8 790.6l5 -9.6h-10zM1616.5 793.6l5 -9.6h-10zM1619.2 790.4l5 -9.6h-10zM1621.9 794.1l5 -9.6h-10zM1624.6 793.5l5 -9.6h-10zM1627.4 793.5l5 -9.6h-10zM1630.1 792.8l5 -9.6h-10zM1632.8 794.5l5 -9.6h-10zM1635.5 792.2l5 -9.6h-10zM1638.2 792.9l5 -9.6h-10zM1641 791.2l5 -9.6h-10zM1643.7 792.6l5 -9.6h-10zM1646.4 792l5 -9.6h-10zM1649.1 791.4l5 -9.6h-10zM1651.9 795.8l5 -9.6h-10zM1654.6 795l5 -9.6h-10zM1657.3 793.6l5 -9.6h-10zM1660 791.3l5 -9.6h-10zM1662.7 794.6l5 -9.6h-10zM1665.5 794.8l5 -9.6h-10zM1668.2 794.5l5 -9.6h-10zM1670.9 792.3l5 -9.6h-10zM1673.6 796.1l5 -9.6h-10zM1676.3 797.2l5 -9.6h-10zM1679.1 794.2l5 -9.6h-10zM1681.8 792.7l5 -9.6h-10zM1684.5 794.9l5 -9.6h-10zM1687.2 792.7l5 -9.6h-10zM1689.9 794.5l5 -9.6h-10zM1692.7 795.2l5 -9.6h-10zM1695.4 793.6l5 -9.6h-10zM1698.1 796.5l5 -9.6h-10zM1700.8 795.1l5 -9.6h-10zM1703.6 795.5l5 -9.6h-10zM1706.3 795.9l5 -9.6h-10zM1709 795.5l5 -9.6h-10zM1711.7 796.7l5 -9.6h-10zM1714.4 793.7l5 -9.6h-10zM1717.2 795.5l5 -9.6h-10zM1719.9 794l5 -9.6h-10zM1722.6 793.5l5 -9.6h-10zM1725.3 793.1l5 -9.6h-10zM1728 793.9l5 -9.6h-10zM1730.8 792.4l5 -9.6h-10zM1733.5 790.9l5 -9.6h-10zM1736.2 794.2l5 -9.6h-10zM1738.9 793.6l5 -9.6h-10zM1741.7 792.6l5 -9.6h-10zM1744.4 794.3l5 -9.6h-10zM1747.1 790.1l5 -9.6h-10zM1749.8 794.2l5 -9.6h-10zM1752.5 790.6l5 -9.6h-10zM1755.3 791.9l5 -9.6h-10zM1758 793.7l5 -9.6h-10zM1760.7 794.1l5 -9.6h-10zM1763.4 793.1l5 -9.6h-10zM1766.1 792.4l5 -9.6h-10zM1768.9 793.5l5 -9.6h-10zM1771.6 795.6l5 -9.6h-10zM1774.3 791.6l5 -9.6h-10zM1777 793.1l5 -9.6h-10zM1779.7 791.5l5 -9.6h-10zM1782.5 793.8l5 -9.6h-10zM1785.2 793.8l5 -9.6h-10zM1787.9 794l5 -9.6h-10zM1790.6 793.3l5 -9.6h-10zM1793.4 791.7l5 -9.6h-10zM1796.1 791.9l5 -9.6h-10zM1798.8 792.1l5 -9.6h-10zM1801.5 793.9l5 -9.6h-10zM1804.2 793l5 -9.6h-10zM1807 792.5l5 -9.6h-10zM1809.7 793.6l5 -9.6h-10zM1812.4 790.9l5 -9.6h-10zM1815.1 790.6l5 -9.6h-10zM1817.8 792l5 -9.6h-10zM1820.6 795.6l5 -9.6h-10zM1823.3 793l5 -9.6h-10zM1826 792.2l5 -9.6h-10zM1828.7 794l5 -9.6h-10zM1831.5 789.2l5 -9.6h-10zM1834.2 792.1l5 -9.6h-10zM1836.9 792.5l5 -9.6h-10zM1839.6 794l5 -9.6h-10zM1842.3 793.1l5 -9.6h-10zM1845.1 791.9l5 -9.6h-10zM1847.8 791.4l5 -9.6h-10zM1850.5 791.1l5 -9.6h-10zM1853.2 790.3l5 -9.6h-10zM1855.9 791l5 -9.6h-10zM1858.7 791.2l5 -9.6h-10zM1861.4 791.3l5 -9.6h-10zM1864.1 792.4l5 -9.6h-10zM1866.8 794.4l5 -9.6h-10zM1869.5 791.8l5 -9.6h-10zM1872.3 792.4l5 -9.6h-10zM1875 792.4l5 -9.6h-10zM1877.7 791.1l5 -9.6h-10zM1880.4 789.8l5 -9.6h-10zM1883.2 790.4l5 -9.6h-10zM1885.9 793.3l5 -9.6h-10zM1888.6 791.2l5 -9.6h-10zM1891.3 787.7l5 -9.6h-10zM1894 791.1l5 -9.6h-10zM1896.8 791.8l5 -9.6h-10zM1899.5 791.2l5 -9.6h-10zM1902.2 790.2l5 -9.6h-10zM1904.9 790.7l5 -9.6h-10zM1907.6 793.8l5 -9.6h-10zM1910.4 794.1l5 -9.6h-10zM1913.1 793.2l5 -9.6h-10zM1915.8 792.7l5 -9.6h-10zM1918.5 792.1l5 -9.6h-10zM1921.3 793.9l5 -9.6h-10zM1924 792.7l5 -9.6h-10zM1926.7 794.9l5 -9.6h-10zM1929.4 791.2l5 -9.6h-10zM1932.1 792.6l5 -9.6h-10zM1934.9 792.5l5 -9.6h-10zM1937.6 791.5l5 -9.6h-10zM1940.3 792.2l5 -9.6h-10zM1943 791.2l5 -9.6h-10zM1945.7 792.9l5 -9.6h-10zM1948.5 791.3l5 -9.6h-10zM1951.2 791l5 -9.6h-10zM1953.9 790.5l5 -9.6h-10zM1956.6 789.2l5 -9.6h-10zM1959.4 792.2l5 -9.6h-10zM1962.1 791.1l5 -9.6h-10zM1964.8 791.9l5 -9.6h-10zM1967.5 789.9l5 -9.6h-10zM1970.2 791.7l5 -9.6h-10zM1973 790.4l5 -9.6h-10zM1975.7 792.8l5 -9.6h-10zM1978.4 792.9l5 -9.6h-10zM1981.1 792.4l5 -9.6h-10zM1491.3 785l5 -9.6h-10zM1494 790.1l5 -9.6h-10zM1496.7 791.6l5 -9.6h-10zM1499.5 793.2l5 -9.6h-10zM1502.2 795.1l5 -9.6h-10zM1504.9 794.9l5 -9.6h-10zM1507.6 795.2l5 -9.6h-10zM1510.3 795.7l5 -9.6h-10zM1513.1 795.1l5 -9.6h-10zM1515.8 796.8l5 -9.6h-10zM1518.5 796.7l5 -9.6h-10zM1521.2 795.3l5 -9.6h-10zM1524 794.8l5 -9.6h-10zM1526.7 795.4l5 -9.6h-10zM1529.4 795.9l5 -9.6h-10zM1532.1 795.3l5 -9.6h-10zM1534.8 795.7l5 -9.6h-10zM1537.6 796.9l5 -9.6h-10zM1540.3 795.9l5 -9.6h-10zM1543 797.4l5 -9.6h-10zM1545.7 792.9l5 -9.6h-10zM1548.4 797.4l5 -9.6h-10zM1551.2 797.5l5 -9.6h-10zM1553.9 796.6l5 -9.6h-10zM1556.6 794.2l5 -9.6h-10zM1559.3 794.7l5 -9.6h-10zM1562.1 795.4l5 -9.6h-10zM1564.8 797.4l5 -9.6h-10zM1567.5 795.8l5 -9.6h-10zM1570.2 797.7l5 -9.6h-10zM1572.9 793.8l5 -9.6h-10zM1575.7 795.7l5 -9.6h-10zM1578.4 797.2l5 -9.6h-10zM1581.1 796.3l5 -9.6h-10zM1583.8 796.5l5 -9.6h-10zM1586.5 798.2l5 -9.6h-10zM1589.3 796.1l5 -9.6h-10zM1592 795.4l5 -9.6h-10zM1594.7 796.7l5 -9.6h-10zM1597.4 795.9l5 -9.6h-10zM1600.1 793.7l5 -9.6h-10zM1602.9 796.7l5 -9.6h-10zM1605.6 797.2l5 -9.6h-10zM1608.3 795.5l5 -9.6h-10zM1611 793l5 -9.6h-10zM1613.8 797.1l5 -9.6h-10zM1616.5 796.1l5 -9.6h-10zM1619.2 792.5l5 -9.6h-10zM1621.9 795.6l5 -9.6h-10zM1624.6 798.2l5 -9.6h-10zM1627.4 796.3l5 -9.6h-10zM1630.1 794.8l5 -9.6h-10zM1632.8 796.2l5 -9.6h-10zM1635.5 799.6l5 -9.6h-10zM1638.2 796.4l5 -9.6h-10zM1641 797.6l5 -9.6h-10zM1643.7 798.8l5 -9.6h-10zM1646.4 798.3l5 -9.6h-10zM1649.1 795.8l5 -9.6h-10zM1651.9 795.9l5 -9.6h-10zM1654.6 795.3l5 -9.6h-10zM1657.3 797.5l5 -9.6h-10zM1660 799.5l5 -9.6h-10zM1662.7 797.4l5 -9.6h-10zM1665.5 798.5l5 -9.6h-10zM1668.2 798l5 -9.6h-10zM1670.9 797.3l5 -9.6h-10zM1673.6 796.3l5 -9.6h-10zM1676.3 797.9l5 -9.6h-10zM1679.1 794.4l5 -9.6h-10zM1681.8 797.2l5 -9.6h-10zM1684.5 796.2l5 -9.6h-10zM1687.2 799l5 -9.6h-10zM1689.9 797.2l5 -9.6h-10zM1692.7 799.9l5 -9.6h-10zM1695.4 797.8l5 -9.6h-10zM1698.1 794.8l5 -9.6h-10zM1700.8 797.1l5 -9.6h-10zM1703.6 798.6l5 -9.6h-10zM1706.3 798.3l5 -9.6h-10zM1709 797.6l5 -9.6h-10zM1711.7 796.8l5 -9.6h-10zM1714.4 798.7l5 -9.6h-10zM1717.2 796.4l5 -9.6h-10zM1719.9 792l5 -9.6h-10zM1722.6 797.2l5 -9.6h-10zM1725.3 797l5 -9.6h-10zM1728 796.8l5 -9.6h-10zM1730.8 794.6l5 -9.6h-10zM1733.5 795.6l5 -9.6h-10zM1736.2 796.9l5 -9.6h-10zM1738.9 795.5l5 -9.6h-10zM1741.7 797.7l5 -9.6h-10zM1744.4 794.5l5 -9.6h-10zM1747.1 795.7l5 -9.6h-10zM1749.8 795.7l5 -9.6h-10zM1752.5 796.1l5 -9.6h-10zM1755.3 794.7l5 -9.6h-10zM1758 793.4l5 -9.6h-10zM1760.7 791.5l5 -9.6h-10zM1763.4 797.2l5 -9.6h-10zM1766.1 795.7l5 -9.6h-10zM1768.9 796.7l5 -9.6h-10zM1771.6 795.1l5 -9.6h-10zM1774.3 797l5 -9.6h-10zM1777 793.2l5 -9.6h-10zM1779.7 793.6l5 -9.6h-10zM1782.5 790.6l5 -9.6h-10zM1785.2 795.4l5 -9.6h-10zM1787.9 795l5 -9.6h-10zM1790.6 797l5 -9.6h-10zM1793.4 793.6l5 -9.6h-10zM1796.1 795.2l5 -9.6h-10zM1798.8 796.1l5 -9.6h-10zM1801.5 795.5l5 -9.6h-10zM1804.2 797.6l5 -9.6h-10zM1807 795.8l5 -9.6h-10zM1809.7 800.2l5 -9.6h-10zM1812.4 796.4l5 -9.6h-10zM1815.1 796.8l5 -9.6h-10zM1817.8 797.5l5 -9.6h-10zM1820.6 797.4l5 -9.6h-10zM1823.3 796.2l5 -9.6h-10zM1826 794.6l5 -9.6h-10zM1828.7 793.1l5 -9.6h-10zM1831.5 797.5l5 -9.6h-10zM1834.2 794.6l5 -9.6h-10zM1836.9 794.7l5 -9.6h-10zM1839.6 797.8l5 -9.6h-10zM1842.3 795.1l5 -9.6h-10zM1845.1 794.5l5 -9.6h-10zM1847.8 796.5l5 -9.6h-10zM1850.5 792.8l5 -9.6h-10zM1853.2 794.8l5 -9.6h-10zM1855.9 793.9l5 -9.6h-10zM1858.7 794.8l5 -9.6h-10zM1861.4 794.2l5 -9.6h-10zM1864.1 795.2l5 -9.6h-10zM1866.8 792.3l5 -9.6h-10zM1869.5 794.3l5 -9.6h-10zM1872.3 793.8l5 -9.6h-10zM1875 793.9l5 -9.6h-10zM1877.7 791.7l5 -9.6h-10zM1880.4 793.3l5 -9.6h-10zM1883.2 792.9l5 -9.6h-10zM1885.9 793.5l5 -9.6h-10zM1888.6 794.5l5 -9.6h-10zM1891.3 792.7l5 -9.6h-10zM1894 794.2l5 -9.6h-10zM1896.8 794l5 -9.6h-10zM1899.5 795.7l5 -9.6h-10zM1902.2 795.2l5 -9.6h-10zM1904.9 795.2l5 -9.6h-10zM1907.6 794.9l5 -9.6h-10zM1910.4 796.9l5 -9.6h-10zM1913.1 793.5l5 -9.6h-10zM1915.8 794.5l5 -9.6h-10zM1918.5 795.5l5 -9.6h-10zM1921.3 794.6l5 -9.6h-10zM1924 792.6l5 -9.6h-10zM1926.7 795.9l5 -9.6h-10zM1929.4 796.7l5 -9.6h-10zM1932.1 794.7l5 -9.6h-10zM1934.9 794.7l5 -9.6h-10zM1937.6 795.5l5 -9.6h-10zM1940.3 795.5l5 -9.6h-10zM1943 795.9l5 -9.6h-10zM1945.7 794.2l5 -9.6h-10zM1948.5 795.1l5 -9.6h-10zM1951.2 795.7l5 -9.6h-10zM1953.9 794.6l5 -9.6h-10zM1956.6 794.4l5 -9.6h-10zM1959.4 794l5 -9.6h-10zM1962.1 794.9l5 -9.6h-10zM1964.8 795l5 -9.6h-10zM1967.5 795.6l5 -9.6h-10zM1970.2 793.6l5 -9.6h-10zM1973 798l5 -9.6h-10zM1975.7 798.2l5 -9.6h-10zM1978.4 793.8l5 -9.6h-10zM1981.1 796.6l5 -9.6h-10z"/><path stroke="#F6921E" stroke-width="7.2" stroke-linecap="round" fill="none" d="M1491.3 707.9h0M1493.3 704.4h0M1495.4 708.5h0M1497.4 712.9h0M1499.5 711.4h0M1501.5 711.4h0M1503.5 717.2h0M1505.6 721.6h0M1507.6 724h0M1509.7 730.6h0M1511.7 731.6h0M1513.8 736.5h0M1515.8 737.1h0M1517.8 743.4h0M1519.9 743.5h0M1521.9 743.1h0M1524 745.6h0M1526 746.7h0M1528 749.2h0M1530.1 746.7h0M1532.1 751h0M1534.2 751.8h0M1536.2 747.2h0M1538.2 749.6h0M1540.3 751.7h0M1542.3 753.4h0M1544.4 753.6h0M1546.4 751.2h0M1548.4 752.7h0M1550.5 753.8h0M1552.5 755.1h0M1554.6 753.1h0M1556.6 754.5h0M1558.7 753.8h0M1560.7 754.9h0M1562.7 751.6h0M1564.8 754.3h0M1566.8 754h0M1568.9 753.9h0M1570.9 754.7h0M1572.9 754.5h0M1575 753.3h0M1577 756h0M1579.1 754.4h0M1581.1 755.3h0M1583.1 752.2h0M1585.2 755.2h0M1587.2 757h0M1589.3 757h0M1591.3 755h0M1593.3 754.9h0M1595.4 756.5h0M1597.4 756h0M1599.5 755h0M1601.5 754.5h0M1603.6 755h0M1605.6 755.4h0M1607.6 756h0M1609.7 754.6h0M1611.7 753.8h0M1613.8 755.9h0M1615.8 757.6h0M1617.8 758h0M1619.9 755.5h0M1621.9 756.5h0M1624 756.7h0M1626 756.6h0M1628 755.2h0M1630.1 755.5h0M1632.1 756.8h0M1634.2 755.1h0M1636.2 754.9h0M1638.2 756.4h0M1640.3 757.2h0M1642.3 759.7h0M1644.4 756.4h0M1646.4 758.5h0M1648.5 757h0M1650.5 756.2h0M1652.5 755.5h0M1654.6 756.4h0M1656.6 753.3h0M1658.7 755.7h0M1660.7 756.1h0M1662.7 757.3h0M1664.8 757.9h0M1666.8 757.3h0M1668.9 757.5h0M1670.9 757.6h0M1672.9 759.6h0M1675 754.6h0M1677 756.5h0M1679.1 759.3h0M1681.1 755.9h0M1683.1 760.2h0M1685.2 758.1h0M1687.2 759.2h0M1689.3 758.5h0M1691.3 758.3h0M1693.4 755.5h0M1695.4 756.8h0M1697.4 757.6h0M1699.5 759h0M1701.5 758.4h0M1703.6 757.5h0M1705.6 759.1h0M1707.6 757.3h0M1709.7 758.3h0M1711.7 756.8h0M1713.8 759.6h0M1715.8 756.1h0M1717.8 757.6h0M1719.9 755.8h0M1721.9 757.7h0M1724 756.1h0M1726 757.4h0M1728 759.9h0M1730.1 757.1h0M1732.1 757.8h0M1734.2 758.9h0M1736.2 758.2h0M1738.3 758.9h0M1740.3 759.9h0M1742.3 757.9h0M1744.4 756.2h0M1746.4 756.8h0M1748.5 758.4h0M1750.5 756.6h0M1752.5 754.4h0M1754.6 755.7h0M1756.6 755.3h0M1758.7 756.4h0M1760.7 753.7h0M1762.7 760.6h0M1764.8 756.9h0M1766.8 755.6h0M1768.9 755.6h0M1770.9 758.2h0M1772.9 754.9h0M1775 756.4h0M1777 757.2h0M1779.1 758.2h0M1781.1 755.7h0M1783.2 754h0M1785.2 754.8h0M1787.2 756.7h0M1789.3 754.4h0M1791.3 756h0M1793.4 755.8h0M1795.4 756h0M1797.4 755.5h0M1799.5 760h0M1801.5 756.5h0M1803.6 754.3h0M1805.6 755.7h0M1807.6 754.7h0M1809.7 755.4h0M1811.7 757.3h0M1813.8 755.6h0M1815.8 755.4h0M1817.8 752.7h0M1819.9 756.3h0M1821.9 752.4h0M1824 752.9h0M1826 758.3h0M1828.1 757.6h0M1830.1 756h0M1832.1 755.6h0M1834.2 753.6h0M1836.2 755.4h0M1838.3 756.3h0M1840.3 758h0M1842.3 757.5h0M1844.4 754.1h0M1846.4 755.7h0M1848.5 756.4h0M1850.5 755.3h0M1852.5 756h0M1854.6 755.2h0M1856.6 756h0M1858.7 755.3h0M1860.7 757.8h0M1862.7 758h0M1864.8 752.9h0M1866.8 756.3h0M1868.9 756.5h0M1870.9 756.4h0M1873 755.1h0M1875 756.4h0M1877 753.6h0M1879.1 758.3h0M1881.1 756.5h0M1883.2 755.6h0M1885.2 757h0M1887.2 754.8h0M1889.3 757.1h0M1891.3 755.5h0M1893.4 756.9h0M1895.4 755h0M1897.4 755.8h0M1899.5 754.9h0M1901.5 756.9h0M1903.6 754.3h0M1905.6 755.4h0M1907.6 753.8h0M1909.7 755h0M1911.7 756.6h0M1913.8 753.8h0M1915.8 754.6h0M1917.9 754.8h0M1919.9 752.1h0M1921.9 754.3h0M1924 752.2h0M1926 754.5h0M1928.1 753.4h0M1930.1 752.4h0M1932.1 752.4h0M1934.2 752.8h0M1936.2 751.8h0M1938.3 752.6h0M1940.3 753.6h0M1942.3 749.8h0M1944.4 753.7h0M1946.4 751.8h0M1948.5 751.4h0M1950.5 751.3h0M1952.5 751.2h0M1954.6 749.3h0M1956.6 750.4h0M1958.7 752h0M1960.7 751.5h0M1962.8 749h0M1964.8 751.6h0M1966.8 750.1h0M1968.9 751.2h0M1970.9 752.1h0M1973 751h0M1975 751.1h0M1977 752h0M1979.1 751.9h0M1981.1 748.1h0M1491.3 717h0M1493.3 718.4h0M1495.4 721.1h0M1497.4 720.9h0M1499.5 721.7h0M1501.5 722.4h0M1503.5 723.3h0M1505.6 729.5h0M1507.6 729.5h0M1509.7 731.1h0M1511.7 737.2h0M1513.8 739.4h0M1515.8 740.4h0M1517.8 744.3h0M1519.9 745.7h0M1521.9 747.8h0M1524 745.4h0M1526 748.3h0M1528 749.2h0M1530.1 752.6h0M1532.1 751.7h0M1534.2 753.7h0M1536.2 756.2h0M1538.2 754.6h0M1540.3 753h0M1542.3 754.6h0M1544.4 755.7h0M1546.4 753h0M1548.4 757.7h0M1550.5 756.7h0M1552.5 757.7h0M1554.6 758.4h0M1556.6 757.1h0M1558.7 758.7h0M1560.7 757.6h0M1562.7 755.5h0M1564.8 757.1h0M1566.8 757.1h0M1568.9 758.4h0M1570.9 760h0M1572.9 755.4h0M1575 757.6h0M1577 756.7h0M1579.1 758.1h0M1581.1 759.2h0M1583.1 760.4h0M1585.2 755.8h0M1587.2 758.5h0M1589.3 760.3h0M1591.3 757.3h0M1593.3 759.6h0M1595.4 759.4h0M1597.4 760.9h0M1599.5 759.5h0M1601.5 755.7h0M1603.6 757.5h0M1605.6 759.3h0M1607.6 758.8h0M1609.7 758.7h0M1611.7 761.1h0M1613.8 757.8h0M1615.8 759.6h0M1617.8 760.9h0M1619.9 756.8h0M1621.9 759.7h0M1624 759.1h0M1626 758.6h0M1628 762.6h0M1630.1 758.6h0M1632.1 760.6h0M1634.2 758.3h0M1636.2 758.2h0M1638.2 759.9h0M1640.3 761.2h0M1642.3 759.5h0M1644.4 760.6h0M1646.4 759.5h0M1648.5 761.3h0M1650.5 760.1h0M1652.5 760.1h0M1654.6 760.8h0M1656.6 760.5h0M1658.7 760h0M1660.7 759.3h0M1662.7 760.1h0M1664.8 759.4h0M1666.8 761.8h0M1668.9 759.9h0M1670.9 761.2h0M1672.9 759.2h0M1675 760.8h0M1677 757.8h0M1679.1 759.2h0M1681.1 761.8h0M1683.1 760.5h0M1685.2 757.1h0M1687.2 759.5h0M1689.3 759.9h0M1691.3 759.2h0M1693.4 758h0M1695.4 758.3h0M1697.4 762.6h0M1699.5 759.6h0M1701.5 761.4h0M1703.6 761.2h0M1705.6 759.2h0M1707.6 760.6h0M1709.7 760.5h0M1711.7 758.8h0M1713.8 760.6h0M1715.8 760.5h0M1717.8 760.8h0M1719.9 759.9h0M1721.9 759.8h0M1724 760.5h0M1726 759.2h0M1728 761.9h0M1730.1 761h0M1732.1 760.5h0M1734.2 760.1h0M1736.2 761.1h0M1738.3 760.6h0M1740.3 759.8h0M1742.3 761.4h0M1744.4 762.9h0M1746.4 763.2h0M1748.5 761.2h0M1750.5 759.8h0M1752.5 764.9h0M1754.6 760.7h0M1756.6 760.5h0M1758.7 758.9h0M1760.7 760.2h0M1762.7 759.2h0M1764.8 759h0M1766.8 759.7h0M1768.9 760h0M1770.9 759.8h0M1772.9 759.7h0M1775 756.8h0M1777 760.2h0M1779.1 758.2h0M1781.1 759.1h0M1783.2 757h0M1785.2 759.9h0M1787.2 759.6h0M1789.3 758.7h0M1791.3 758.4h0M1793.4 758.1h0M1795.4 761h0M1797.4 757.9h0M1799.5 757.1h0M1801.5 757.7h0M1803.6 758.8h0M1805.6 758.2h0M1807.6 758.5h0M1809.7 759h0M1811.7 760.5h0M1813.8 761.3h0M1815.8 757.8h0M1817.8 758.3h0M1819.9 758.3h0M1821.9 760.2h0M1824 761h0M1826 760.1h0M1828.1 758.5h0M1830.1 759.2h0M1832.1 757.5h0M1834.2 758.8h0M1836.2 759.1h0M1838.3 757.9h0M1840.3 759.1h0M1842.3 760.7h0M1844.4 758.5h0M1846.4 759.5h0M1848.5 758.9h0M1850.5 756.4h0M1852.5 760.2h0M1854.6 757.5h0M1856.6 756.8h0M1858.7 759.7h0M1860.7 759.5h0M1862.7 760h0M1864.8 759.9h0M1866.8 761h0M1868.9 759.8h0M1870.9 760.9h0M1873 760.1h0M1875 757.5h0M1877 759.4h0M1879.1 759.8h0M1881.1 759.4h0M1883.2 758.9h0M1885.2 758.6h0M1887.2 760.9h0M1889.3 759.2h0M1891.3 757.2h0M1893.4 760h0M1895.4 758.7h0M1897.4 758.3h0M1899.5 757.9h0M1901.5 754.4h0M1903.6 754.1h0M1905.6 756.7h0M1907.6 759.1h0M1909.7 758.1h0M1911.7 755.3h0M1913.8 758.2h0M1915.8 759.1h0M1917.9 755.1h0M1919.9 755.7h0M1921.9 754.5h0M1924 755h0M1926 753.6h0M1928.1 755h0M1930.1 756.5h0M1932.1 756.4h0M1934.2 757.2h0M1936.2 757.2h0M1938.3 755.2h0M1940.3 752.6h0M1942.3 755.7h0M1944.4 755.4h0M1946.4 753.7h0M1948.5 756.4h0M1950.5 754h0M1952.5 755.4h0M1954.6 755.3h0M1956.6 756.7h0M1958.7 751.8h0M1960.7 752.3h0M1962.8 753.6h0M1964.8 755.7h0M1966.8 756.3h0M1968.9 753.6h0M1970.9 753.9h0M1973 756.2h0M1975 753.3h0M1977 754h0M1979.1 755.1h0M1981.1 754.7h0M1491.3 726.8h0M1493.3 730.3h0M1495.4 729.3h0M1497.4 732.4h0M1499.5 732.1h0M1501.5 733.1h0M1503.5 734h0M1505.6 733.1h0M1507.6 735.6h0M1509.7 736.5h0M1511.7 737.7h0M1513.8 741.2h0M1515.8 744.5h0M1517.8 747.2h0M1519.9 747.4h0M1521.9 750.5h0M1524 751.3h0M1526 753.5h0M1528 755.2h0M1530.1 753.8h0M1532.1 755.6h0M1534.2 755.9h0M1536.2 756.7h0M1538.2 756.7h0M1540.3 757.5h0M1542.3 755.7h0M1544.4 757.1h0M1546.4 759.2h0M1548.4 757.2h0M1550.5 758.8h0M1552.5 759.8h0M1554.6 759.2h0M1556.6 761.4h0M1558.7 760.8h0M1560.7 759.5h0M1562.7 761.8h0M1564.8 759.8h0M1566.8 760.4h0M1568.9 760.7h0M1570.9 759.5h0M1572.9 759.3h0M1575 762.6h0M1577 763h0M1579.1 759.4h0M1581.1 762h0M1583.1 760.5h0M1585.2 761.3h0M1587.2 762.8h0M1589.3 762.3h0M1591.3 759.7h0M1593.3 760h0M1595.4 760.1h0M1597.4 762.1h0M1599.5 763.6h0M1601.5 759.4h0M1603.6 763.3h0M1605.6 761.5h0M1607.6 763.9h0M1609.7 760.8h0M1611.7 760.8h0M1613.8 763h0M1615.8 760.2h0M1617.8 764.9h0M1619.9 765.2h0M1621.9 764.7h0M1624 763h0M1626 762.3h0M1628 763.2h0M1630.1 762.1h0M1632.1 763.1h0M1634.2 763.5h0M1636.2 766.2h0M1638.2 763.1h0M1640.3 761.4h0M1642.3 760.8h0M1644.4 762.8h0M1646.4 762.4h0M1648.5 763.4h0M1650.5 760.2h0M1652.5 763.8h0M1654.6 764.7h0M1656.6 762.4h0M1658.7 763.3h0M1660.7 761.5h0M1662.7 763.5h0M1664.8 760.4h0M1666.8 763.7h0M1668.9 762.4h0M1670.9 762.5h0M1672.9 762.9h0M1675 761.7h0M1677 762.3h0M1679.1 761.6h0M1681.1 762.2h0M1683.1 762.7h0M1685.2 763.8h0M1687.2 762.1h0M1689.3 765.4h0M1691.3 762.6h0M1693.4 766.8h0M1695.4 763.9h0M1697.4 762.4h0M1699.5 760.9h0M1701.5 764.1h0M1703.6 765.8h0M1705.6 763.5h0M1707.6 761.7h0M1709.7 764.6h0M1711.7 765.5h0M1713.8 763.6h0M1715.8 764.6h0M1717.8 763.9h0M1719.9 762h0M1721.9 762.2h0M1724 762.9h0M1726 764.4h0M1728 762.8h0M1730.1 764.5h0M1732.1 763.8h0M1734.2 764.7h0M1736.2 761.3h0M1738.3 763.7h0M1740.3 764.2h0M1742.3 762.3h0M1744.4 764.7h0M1746.4 763h0M1748.5 764.7h0M1750.5 761.1h0M1752.5 763.3h0M1754.6 760.1h0M1756.6 760.9h0M1758.7 761.3h0M1760.7 762.8h0M1762.7 764.6h0M1764.8 761.3h0M1766.8 762.1h0M1768.9 763.8h0M1770.9 763.1h0M1772.9 761.7h0M1775 761.6h0M1777 761.8h0M1779.1 760.3h0M1781.1 761.7h0M1783.2 762.1h0M1785.2 759.3h0M1787.2 763.2h0M1789.3 761.9h0M1791.3 762.6h0M1793.4 762.2h0M1795.4 760.6h0M1797.4 762.4h0M1799.5 763.4h0M1801.5 763.3h0M1803.6 760.8h0M1805.6 761.7h0M1807.6 761.8h0M1809.7 760.7h0M1811.7 762.2h0M1813.8 764.5h0M1815.8 761h0M1817.8 764.8h0M1819.9 761.3h0M1821.9 761.4h0M1824 763.7h0M1826 760.2h0M1828.1 761.3h0M1830.1 760.9h0M1832.1 761.6h0M1834.2 762.2h0M1836.2 762.4h0M1838.3 761.7h0M1840.3 761.2h0M1842.3 763.4h0M1844.4 760.6h0M1846.4 761.1h0M1848.5 764.9h0M1850.5 763h0M1852.5 762.7h0M1854.6 762.6h0M1856.6 761h0M1858.7 763.7h0M1860.7 761.4h0M1862.7 765.6h0M1864.8 762.4h0M1866.8 763.9h0M1868.9 762.3h0M1870.9 762h0M1873 760.3h0M1875 764.2h0M1877 763.6h0M1879.1 759.9h0M1881.1 762.1h0M1883.2 763.3h0M1885.2 761.8h0M1887.2 762.7h0M1889.3 764.6h0M1891.3 761.7h0M1893.4 761.4h0M1895.4 760h0M1897.4 763.4h0M1899.5 761.7h0M1901.5 762.8h0M1903.6 761.1h0M1905.6 758.7h0M1907.6 758.7h0M1909.7 761.8h0M1911.7 761h0M1913.8 760.8h0M1915.8 760.6h0M1917.9 759.1h0M1919.9 759.7h0M1921.9 760.4h0M1924 756.4h0M1926 758.7h0M1928.1 760.4h0M1930.1 760.6h0M1932.1 759.6h0M1934.2 758.7h0M1936.2 757.8h0M1938.3 758.9h0M1940.3 755.5h0M1942.3 757.5h0M1944.4 759.5h0M1946.4 757.7h0M1948.5 758.5h0M1950.5 759.5h0M1952.5 758.7h0M1954.6 757.3h0M1956.6 757.3h0M1958.7 758.9h0M1960.7 758.5h0M1962.8 756.9h0M1964.8 757.8h0M1966.8 758.5h0M1968.9 756.2h0M1970.9 756.8h0M1973 757.1h0M1975 756h0M1977 755.5h0M1979.1 756.5h0M1981.1 759.6h0"/><path fill="#3F56A6" d="M1491.3 725.2l3.9 7.4h-7.8zM1493.3 740.2l3.9 7.4h-7.8zM1495.4 749.4l3.9 7.4h-7.8zM1497.4 749.3l3.9 7.4h-7.8zM1499.5 750l3.9 7.4h-7.8zM1501.5 753.6l3.9 7.4h-7.8zM1503.5 752.8l3.9 7.4h-7.8zM1505.6 750.4l3.9 7.4h-7.8zM1507.6 751.5l3.9 7.4h-7.8zM1509.7 754l3.9 7.4h-7.8zM1511.7 755l3.9 7.4h-7.8zM1513.8 758l3.9 7.4h-7.8zM1515.8 751l3.9 7.4h-7.8zM1517.8 752.5l3.9 7.4h-7.8zM1519.9 754l3.9 7.4h-7.8zM1521.9 750.5l3.9 7.4h-7.8zM1524 748.2l3.9 7.4h-7.8zM1526 754.6l3.9 7.4h-7.8zM1528 754.5l3.9 7.4h-7.8zM1530.1 750.1l3.9 7.4h-7.8zM1532.1 758.2l3.9 7.4h-7.8zM1534.2 754.3l3.9 7.4h-7.8zM1536.2 752l3.9 7.4h-7.8zM1538.2 753.9l3.9 7.4h-7.8zM1540.3 752.3l3.9 7.4h-7.8zM1542.3 752.6l3.9 7.4h-7.8zM1544.4 758.3l3.9 7.4h-7.8zM1546.4 749.3l3.9 7.4h-7.8zM1548.4 757.6l3.9 7.4h-7.8zM1550.5 749.7l3.9 7.4h-7.8zM1552.5 751.1l3.9 7.4h-7.8zM1554.6 756.2l3.9 7.4h-7.8zM1556.6 750.9l3.9 7.4h-7.8zM1558.7 751.7l3.9 7.4h-7.8zM1560.7 755l3.9 7.4h-7.8zM1562.7 751.8l3.9 7.4h-7.8zM1564.8 754.3l3.9 7.4h-7.8zM1566.8 751.2l3.9 7.4h-7.8zM1568.9 756.2l3.9 7.4h-7.8zM1570.9 752.1l3.9 7.4h-7.8zM1572.9 753.2l3.9 7.4h-7.8zM1575 754.3l3.9 7.4h-7.8zM1577 749.7l3.9 7.4h-7.8zM1579.1 755.7l3.9 7.4h-7.8zM1581.1 751.4l3.9 7.4h-7.8zM1583.1 750.6l3.9 7.4h-7.8zM1585.2 756.6l3.9 7.4h-7.8zM1587.2 752l3.9 7.4h-7.8zM1589.3 750l3.9 7.4h-7.8zM1591.3 751.2l3.9 7.4h-7.8zM1593.3 751.7l3.9 7.4h-7.8zM1595.4 753l3.9 7.4h-7.8zM1597.4 753.7l3.9 7.4h-7.8zM1599.5 750.5l3.9 7.4h-7.8zM1601.5 754.3l3.9 7.4h-7.8zM1603.6 755.7l3.9 7.4h-7.8zM1605.6 758.1l3.9 7.4h-7.8zM1607.6 755l3.9 7.4h-7.8zM1609.7 752.1l3.9 7.4h-7.8zM1611.7 753.8l3.9 7.4h-7.8zM1613.8 753.9l3.9 7.4h-7.8zM1615.8 750.4l3.9 7.4h-7.8zM1617.8 750.2l3.9 7.4h-7.8zM1619.9 749.4l3.9 7.4h-7.8zM1621.9 755l3.9 7.4h-7.8zM1624 753.3l3.9 7.4h-7.8zM1626 755.4l3.9 7.4h-7.8zM1628 753.3l3.9 7.4h-7.8zM1630.1 753.8l3.9 7.4h-7.8zM1632.1 758.3l3.9 7.4h-7.8zM1634.2 753.5l3.9 7.4h-7.8zM1636.2 754l3.9 7.4h-7.8zM1638.2 754.2l3.9 7.4h-7.8zM1640.3 752.1l3.9 7.4h-7.8zM1642.3 751.7l3.9 7.4h-7.8zM1644.4 752.8l3.9 7.4h-7.8zM1646.4 753.3l3.9 7.4h-7.8zM1648.5 756l3.9 7.4h-7.8zM1650.5 754.5l3.9 7.4h-7.8zM1652.5 754.9l3.9 7.4h-7.8zM1654.6 753.1l3.9 7.4h-7.8zM1656.6 756.1l3.9 7.4h-7.8zM1658.7 756.8l3.9 7.4h-7.8zM1660.7 753.6l3.9 7.4h-7.8zM1662.7 750.7l3.9 7.4h-7.8zM1664.8 753.3l3.9 7.4h-7.8zM1666.8 751.5l3.9 7.4h-7.8zM1668.9 753.9l3.9 7.4h-7.8zM1670.9 755.8l3.9 7.4h-7.8zM1672.9 753.1l3.9 7.4h-7.8zM1675 756.8l3.9 7.4h-7.8zM1677 753.8l3.9 7.4h-7.8zM1679.1 749.4l3.9 7.4h-7.8zM1681.1 752.9l3.9 7.4h-7.8zM1683.1 752.5l3.9 7.4h-7.8zM1685.2 753.4l3.9 7.4h-7.8zM1687.2 752.1l3.9 7.4h-7.8zM1689.3 755.5l3.9 7.4h-7.8zM1691.3 755.8l3.9 7.4h-7.8zM1693.4 756.3l3.9 7.4h-7.8zM1695.4 753.8l3.9 7.4h-7.8zM1697.4 752.1l3.9 7.4h-7.8zM1699.5 750.2l3.9 7.4h-7.8zM1701.5 753l3.9 7.4h-7.8zM1703.6 752.8l3.9 7.4h-7.8zM1705.6 751.9l3.9 7.4h-7.8zM1707.6 751l3.9 7.4h-7.8zM1709.7 753.8l3.9 7.4h-7.8zM1711.7 755.2l3.9 7.4h-7.8zM1713.8 757.4l3.9 7.4h-7.8zM1715.8 755.1l3.9 7.4h-7.8zM1717.8 754.1l3.9 7.4h-7.8zM1719.9 753.4l3.9 7.4h-7.8zM1721.9 749.9l3.9 7.4h-7.8zM1724 755.7l3.9 7.4h-7.8zM1726 755.8l3.9 7.4h-7.8zM1728 749.9l3.9 7.4h-7.8zM1730.1 754.2l3.9 7.4h-7.8zM1732.1 754.7l3.9 7.4h-7.8zM1734.2 754.9l3.9 7.4h-7.8zM1736.2 753.4l3.9 7.4h-7.8zM1738.3 752.4l3.9 7.4h-7.8zM1740.3 750.4l3.9 7.4h-7.8zM1742.3 754l3.9 7.4h-7.8zM1744.4 751.7l3.9 7.4h-7.8zM1746.4 748.9l3.9 7.4h-7.8zM1748.5 751.9l3.9 7.4h-7.8zM1750.5 747.9l3.9 7.4h-7.8zM1752.5 751l3.9 7.4h-7.8zM1754.6 747.1l3.9 7.4h-7.8zM1756.6 751.1l3.9 7.4h-7.8zM1758.7 746l3.9 7.4h-7.8zM1760.7 748.2l3.9 7.4h-7.8zM1762.7 753.7l3.9 7.4h-7.8zM1764.8 746.6l3.9 7.4h-7.8zM1766.8 754l3.9 7.4h-7.8zM1768.9 749.3l3.9 7.4h-7.8zM1770.9 749l3.9 7.4h-7.8zM1772.9 750.9l3.9 7.4h-7.8zM1775 750.1l3.9 7.4h-7.8zM1777 752.6l3.9 7.4h-7.8zM1779.1 749.7l3.9 7.4h-7.8zM1781.1 746.6l3.9 7.4h-7.8zM1783.2 751l3.9 7.4h-7.8zM1785.2 749.5l3.9 7.4h-7.8zM1787.2 747.2l3.9 7.4h-7.8zM1789.3 748l3.9 7.4h-7.8zM1791.3 749.8l3.9 7.4h-7.8zM1793.4 746.7l3.9 7.4h-7.8zM1795.4 751.9l3.9 7.4h-7.8zM1797.4 751.1l3.9 7.4h-7.8zM1799.5 745.8l3.9 7.4h-7.8zM1801.5 747.7l3.9 7.4h-7.8zM1803.6 749.5l3.9 7.4h-7.8zM1805.6 748.5l3.9 7.4h-7.8zM1807.6 748.7l3.9 7.4h-7.8zM1809.7 745.9l3.9 7.4h-7.8zM1811.7 743.5l3.9 7.4h-7.8zM1813.8 750.1l3.9 7.4h-7.8zM1815.8 743.9l3.9 7.4h-7.8zM1817.8 743l3.9 7.4h-7.8zM1819.9 751l3.9 7.4h-7.8zM1821.9 746.2l3.9 7.4h-7.8zM1824 748.4l3.9 7.4h-7.8zM1826 745.7l3.9 7.4h-7.8zM1828.1 746.2l3.9 7.4h-7.8zM1830.1 744.5l3.9 7.4h-7.8zM1832.1 745.5l3.9 7.4h-7.8zM1834.2 750.8l3.9 7.4h-7.8zM1836.2 745.7l3.9 7.4h-7.8zM1838.3 747.5l3.9 7.4h-7.8zM1840.3 744.5l3.9 7.4h-7.8zM1842.3 746.2l3.9 7.4h-7.8zM1844.4 745.7l3.9 7.4h-7.8zM1846.4 744.2l3.9 7.4h-7.8zM1848.5 746.7l3.9 7.4h-7.8zM1850.5 743.9l3.9 7.4h-7.8zM1852.5 743.3l3.9 7.4h-7.8zM1854.6 742.5l3.9 7.4h-7.8zM1856.6 743.4l3.9 7.4h-7.8zM1858.7 747.3l3.9 7.4h-7.8zM1860.7 747.3l3.9 7.4h-7.8zM1862.7 742.9l3.9 7.4h-7.8zM1864.8 745.2l3.9 7.4h-7.8zM1866.8 747.6l3.9 7.4h-7.8zM1868.9 741.5l3.9 7.4h-7.8zM1870.9 738.4l3.9 7.4h-7.8zM1873 740.6l3.9 7.4h-7.8zM1875 748l3.9 7.4h-7.8zM1877 737.6l3.9 7.4h-7.8zM1879.1 746.6l3.9 7.4h-7.8zM1881.1 743.1l3.9 7.4h-7.8zM1883.2 744.4l3.9 7.4h-7.8zM1885.2 744l3.9 7.4h-7.8zM1887.2 739.9l3.9 7.4h-7.8zM1889.3 746.7l3.9 7.4h-7.8zM1891.3 747.2l3.9 7.4h-7.8zM1893.4 740.1l3.9 7.4h-7.8zM1895.4 746.3l3.9 7.4h-7.8zM1897.4 747.1l3.9 7.4h-7.8zM1899.5 744.7l3.9 7.4h-7.8zM1901.5 743.5l3.9 7.4h-7.8zM1903.6 743l3.9 7.4h-7.8zM1905.6 745.1l3.9 7.4h-7.8zM1907.6 745.5l3.9 7.4h-7.8zM1909.7 741.4l3.9 7.4h-7.8zM1911.7 748.7l3.9 7.4h-7.8zM1913.8 745.6l3.9 7.4h-7.8zM1915.8 752.3l3.9 7.4h-7.8zM1917.9 747.1l3.9 7.4h-7.8zM1919.9 744.7l3.9 7.4h-7.8zM1921.9 747.5l3.9 7.4h-7.8zM1924 749.2l3.9 7.4h-7.8zM1926 750.2l3.9 7.4h-7.8zM1928.1 745.8l3.9 7.4h-7.8zM1930.1 749.6l3.9 7.4h-7.8zM1932.1 746.4l3.9 7.4h-7.8zM1934.2 747.5l3.9 7.4h-7.8zM1936.2 747.5l3.9 7.4h-7.8zM1938.3 750.8l3.9 7.4h-7.8zM1940.3 751.8l3.9 7.4h-7.8zM1942.3 750.6l3.9 7.4h-7.8zM1944.4 752.5l3.9 7.4h-7.8zM1946.4 749l3.9 7.4h-7.8zM1948.5 750.9l3.9 7.4h-7.8zM1950.5 747.8l3.9 7.4h-7.8zM1952.5 754.2l3.9 7.4h-7.8zM1954.6 752.8l3.9 7.4h-7.8zM1956.6 745.9l3.9 7.4h-7.8zM1958.7 749.6l3.9 7.4h-7.8zM1960.7 751.6l3.9 7.4h-7.8zM1962.8 748.2l3.9 7.4h-7.8zM1964.8 747.5l3.9 7.4h-7.8zM1966.8 745.5l3.9 7.4h-7.8zM1968.9 751.2l3.9 7.4h-7.8zM1970.9 749.8l3.9 7.4h-7.8zM1973 748l3.9 7.4h-7.8zM1975 745.4l3.9 7.4h-7.8zM1977 748l3.9 7.4h-7.8zM1979.1 743.4l3.9 7.4h-7.8zM1981.1 749.8l3.9 7.4h-7.8zM1491.3 736.5l3.9 7.4h-7.8zM1493.3 743l3.9 7.4h-7.8zM1495.4 750.2l3.9 7.4h-7.8zM1497.4 758.1l3.9 7.4h-7.8zM1499.5 756.4l3.9 7.4h-7.8zM1501.5 754.3l3.9 7.4h-7.8zM1503.5 758.6l3.9 7.4h-7.8zM1505.6 758.6l3.9 7.4h-7.8zM1507.6 759.5l3.9 7.4h-7.8zM1509.7 756.6l3.9 7.4h-7.8zM1511.7 757.6l3.9 7.4h-7.8zM1513.8 756.4l3.9 7.4h-7.8zM1515.8 758l3.9 7.4h-7.8zM1517.8 755.6l3.9 7.4h-7.8zM1519.9 756.4l3.9 7.4h-7.8zM1521.9 755.8l3.9 7.4h-7.8zM1524 757.1l3.9 7.4h-7.8zM1526 753.8l3.9 7.4h-7.8zM1528 759.1l3.9 7.4h-7.8zM1530.1 757.4l3.9 7.4h-7.8zM1532.1 753.1l3.9 7.4h-7.8zM1534.2 760.1l3.9 7.4h-7.8zM1536.2 756.8l3.9 7.4h-7.8zM1538.2 756.8l3.9 7.4h-7.8zM1540.3 760.2l3.9 7.4h-7.8zM1542.3 759.5l3.9 7.4h-7.8zM1544.4 758.3l3.9 7.4h-7.8zM1546.4 758.4l3.9 7.4h-7.8zM1548.4 755.8l3.9 7.4h-7.8zM1550.5 758.3l3.9 7.4h-7.8zM1552.5 755l3.9 7.4h-7.8zM1554.6 758.2l3.9 7.4h-7.8zM1556.6 757l3.9 7.4h-7.8zM1558.7 756.6l3.9 7.4h-7.8zM1560.7 758.7l3.9 7.4h-7.8zM1562.7 757.4l3.9 7.4h-7.8zM1564.8 758.6l3.9 7.4h-7.8zM1566.8 755.5l3.9 7.4h-7.8zM1568.9 754.8l3.9 7.4h-7.8zM1570.9 758.6l3.9 7.4h-7.8zM1572.9 755.8l3.9 7.4h-7.8zM1575 759.5l3.9 7.4h-7.8zM1577 761.1l3.9 7.4h-7.8zM1579.1 757.4l3.9 7.4h-7.8zM1581.1 756.2l3.9 7.4h-7.8zM1583.1 757.4l3.9 7.4h-7.8zM1585.2 761.3l3.9 7.4h-7.8zM1587.2 756.8l3.9 7.4h-7.8zM1589.3 755.9l3.9 7.4h-7.8zM1591.3 763.9l3.9 7.4h-7.8zM1593.3 757.5l3.9 7.4h-7.8zM1595.4 763.9l3.9 7.4h-7.8zM1597.4 762.2l3.9 7.4h-7.8zM1599.5 756.7l3.9 7.4h-7.8zM1601.5 756.8l3.9 7.4h-7.8zM1603.6 763.8l3.9 7.4h-7.8zM1605.6 757.8l3.9 7.4h-7.8zM1607.6 758.1l3.9 7.4h-7.8zM1609.7 755.2l3.9 7.4h-7.8zM1611.7 758.8l3.9 7.4h-7.8zM1613.8 757.9l3.9 7.4h-7.8zM1615.8 758.3l3.9 7.4h-7.8zM1617.8 759.1l3.9 7.4h-7.8zM1619.9 759.7l3.9 7.4h-7.8zM1621.9 757.3l3.9 7.4h-7.8zM1624 759.9l3.9 7.4h-7.8zM1626 754.7l3.9 7.4h-7.8zM1628 756l3.9 7.4h-7.8zM1630.1 755.9l3.9 7.4h-7.8zM1632.1 756.8l3.9 7.4h-7.8zM1634.2 758.7l3.9 7.4h-7.8zM1636.2 760.9l3.9 7.4h-7.8zM1638.2 757.4l3.9 7.4h-7.8zM1640.3 760.6l3.9 7.4h-7.8zM1642.3 757l3.9 7.4h-7.8zM1644.4 764.8l3.9 7.4h-7.8zM1646.4 756l3.9 7.4h-7.8zM1648.5 757.8l3.9 7.4h-7.8zM1650.5 761.3l3.9 7.4h-7.8zM1652.5 756.9l3.9 7.4h-7.8zM1654.6 761.2l3.9 7.4h-7.8zM1656.6 755.1l3.9 7.4h-7.8zM1658.7 760.4l3.9 7.4h-7.8zM1660.7 758.1l3.9 7.4h-7.8zM1662.7 756.1l3.9 7.4h-7.8zM1664.8 754.2l3.9 7.4h-7.8zM1666.8 754.6l3.9 7.4h-7.8zM1668.9 761.7l3.9 7.4h-7.8zM1670.9 759.6l3.9 7.4h-7.8zM1672.9 759.1l3.9 7.4h-7.8zM1675 759.2l3.9 7.4h-7.8zM1677 760.8l3.9 7.4h-7.8zM1679.1 758.9l3.9 7.4h-7.8zM1681.1 760.6l3.9 7.4h-7.8zM1683.1 755.6l3.9 7.4h-7.8zM1685.2 758.2l3.9 7.4h-7.8zM1687.2 757l3.9 7.4h-7.8zM1689.3 763.6l3.9 7.4h-7.8zM1691.3 765.3l3.9 7.4h-7.8zM1693.4 758.4l3.9 7.4h-7.8zM1695.4 757.9l3.9 7.4h-7.8zM1697.4 752.9l3.9 7.4h-7.8zM1699.5 758.8l3.9 7.4h-7.8zM1701.5 753.4l3.9 7.4h-7.8zM1703.6 752.5l3.9 7.4h-7.8zM1705.6 759.3l3.9 7.4h-7.8zM1707.6 762.7l3.9 7.4h-7.8zM1709.7 759.4l3.9 7.4h-7.8zM1711.7 758.5l3.9 7.4h-7.8zM1713.8 757.8l3.9 7.4h-7.8zM1715.8 759.8l3.9 7.4h-7.8zM1717.8 756.6l3.9 7.4h-7.8zM1719.9 764.8l3.9 7.4h-7.8zM1721.9 754.6l3.9 7.4h-7.8zM1724 751.8l3.9 7.4h-7.8zM1726 760.8l3.9 7.4h-7.8zM1728 759l3.9 7.4h-7.8zM1730.1 759.4l3.9 7.4h-7.8zM1732.1 760.6l3.9 7.4h-7.8zM1734.2 754.7l3.9 7.4h-7.8zM1736.2 756.8l3.9 7.4h-7.8zM1738.3 759.8l3.9 7.4h-7.8zM1740.3 753.9l3.9 7.4h-7.8zM1742.3 758.9l3.9 7.4h-7.8zM1744.4 760l3.9 7.4h-7.8zM1746.4 757.6l3.9 7.4h-7.8zM1748.5 755.2l3.9 7.4h-7.8zM1750.5 753.1l3.9 7.4h-7.8zM1752.5 758.2l3.9 7.4h-7.8zM1754.6 757.1l3.9 7.4h-7.8zM1756.6 756.5l3.9 7.4h-7.8zM1758.7 758.8l3.9 7.4h-7.8zM1760.7 754.8l3.9 7.4h-7.8zM1762.7 753.4l3.9 7.4h-7.8zM1764.8 754.2l3.9 7.4h-7.8zM1766.8 757.6l3.9 7.4h-7.8zM1768.9 758.7l3.9 7.4h-7.8zM1770.9 750.1l3.9 7.4h-7.8zM1772.9 755.2l3.9 7.4h-7.8zM1775 753l3.9 7.4h-7.8zM1777 757.9l3.9 7.4h-7.8zM1779.1 755.7l3.9 7.4h-7.8zM1781.1 756.1l3.9 7.4h-7.8zM1783.2 754.3l3.9 7.4h-7.8zM1785.2 755.2l3.9 7.4h-7.8zM1787.2 754.8l3.9 7.4h-7.8zM1789.3 754.3l3.9 7.4h-7.8zM1791.3 753.4l3.9 7.4h-7.8zM1793.4 758l3.9 7.4h-7.8zM1795.4 751.5l3.9 7.4h-7.8zM1797.4 757.4l3.9 7.4h-7.8zM1799.5 752.9l3.9 7.4h-7.8zM1801.5 754.2l3.9 7.4h-7.8zM1803.6 746.6l3.9 7.4h-7.8zM1805.6 752.5l3.9 7.4h-7.8zM1807.6 749.9l3.9 7.4h-7.8zM1809.7 751.5l3.9 7.4h-7.8zM1811.7 750.6l3.9 7.4h-7.8zM1813.8 747.6l3.9 7.4h-7.8zM1815.8 749.4l3.9 7.4h-7.8zM1817.8 752.6l3.9 7.4h-7.8zM1819.9 751.8l3.9 7.4h-7.8zM1821.9 753.5l3.9 7.4h-7.8zM1824 750l3.9 7.4h-7.8zM1826 751.7l3.9 7.4h-7.8zM1828.1 753l3.9 7.4h-7.8zM1830.1 750.4l3.9 7.4h-7.8zM1832.1 750.9l3.9 7.4h-7.8zM1834.2 751.6l3.9 7.4h-7.8zM1836.2 748.1l3.9 7.4h-7.8zM1838.3 747.5l3.9 7.4h-7.8zM1840.3 747.8l3.9 7.4h-7.8zM1842.3 754.2l3.9 7.4h-7.8zM1844.4 748.4l3.9 7.4h-7.8zM1846.4 747.6l3.9 7.4h-7.8zM1848.5 748.9l3.9 7.4h-7.8zM1850.5 748.3l3.9 7.4h-7.8zM1852.5 748.3l3.9 7.4h-7.8zM1854.6 751.3l3.9 7.4h-7.8zM1856.6 752.5l3.9 7.4h-7.8zM1858.7 754l3.9 7.4h-7.8zM1860.7 747.8l3.9 7.4h-7.8zM1862.7 752.5l3.9 7.4h-7.8zM1864.8 751.5l3.9 7.4h-7.8zM1866.8 748.4l3.9 7.4h-7.8zM1868.9 745.7l3.9 7.4h-7.8zM1870.9 747.4l3.9 7.4h-7.8zM1873 751.3l3.9 7.4h-7.8zM1875 750l3.9 7.4h-7.8zM1877 748.5l3.9 7.4h-7.8zM1879.1 749.2l3.9 7.4h-7.8zM1881.1 750.8l3.9 7.4h-7.8zM1883.2 748.6l3.9 7.4h-7.8zM1885.2 748.7l3.9 7.4h-7.8zM1887.2 750.2l3.9 7.4h-7.8zM1889.3 749.6l3.9 7.4h-7.8zM1891.3 752.7l3.9 7.4h-7.8zM1893.4 748.8l3.9 7.4h-7.8zM1895.4 749.6l3.9 7.4h-7.8zM1897.4 751l3.9 7.4h-7.8zM1899.5 749.6l3.9 7.4h-7.8zM1901.5 754.2l3.9 7.4h-7.8zM1903.6 749.5l3.9 7.4h-7.8zM1905.6 751.6l3.9 7.4h-7.8zM1907.6 753.2l3.9 7.4h-7.8zM1909.7 753l3.9 7.4h-7.8zM1911.7 754.3l3.9 7.4h-7.8zM1913.8 751.7l3.9 7.4h-7.8zM1915.8 748.5l3.9 7.4h-7.8zM1917.9 752.6l3.9 7.4h-7.8zM1919.9 755.6l3.9 7.4h-7.8zM1921.9 755.2l3.9 7.4h-7.8zM1924 754.9l3.9 7.4h-7.8zM1926 756l3.9 7.4h-7.8zM1928.1 751.7l3.9 7.4h-7.8zM1930.1 748.9l3.9 7.4h-7.8zM1932.1 750.9l3.9 7.4h-7.8zM1934.2 751.9l3.9 7.4h-7.8zM1936.2 752.6l3.9 7.4h-7.8zM1938.3 752.9l3.9 7.4h-7.8zM1940.3 754.6l3.9 7.4h-7.8zM1942.3 756.5l3.9 7.4h-7.8zM1944.4 756.7l3.9 7.4h-7.8zM1946.4 752.8l3.9 7.4h-7.8zM1948.5 749.1l3.9 7.4h-7.8zM1950.5 756.8l3.9 7.4h-7.8zM1952.5 756.2l3.9 7.4h-7.8zM1954.6 752.5l3.9 7.4h-7.8zM1956.6 755.6l3.9 7.4h-7.8zM1958.7 755.2l3.9 7.4h-7.8zM1960.7 755.3l3.9 7.4h-7.8zM1962.8 756.4l3.9 7.4h-7.8zM1964.8 757.8l3.9 7.4h-7.8zM1966.8 754.3l3.9 7.4h-7.8zM1968.9 757.8l3.9 7.4h-7.8zM1970.9 760.2l3.9 7.4h-7.8zM1973 763l3.9 7.4h-7.8zM1975 757.7l3.9 7.4h-7.8zM1977 756.7l3.9 7.4h-7.8zM1979.1 758.9l3.9 7.4h-7.8zM1981.1 759.5l3.9 7.4h-7.8zM1491.3 741.6l3.9 7.4h-7.8zM1493.3 748.7l3.9 7.4h-7.8zM1495.4 756.2l3.9 7.4h-7.8zM1497.4 755.3l3.9 7.4h-7.8zM1499.5 761.2l3.9 7.4h-7.8zM1501.5 757.8l3.9 7.4h-7.8zM1503.5 764.6l3.9 7.4h-7.8zM1505.6 761.7l3.9 7.4h-7.8zM1507.6 765.7l3.9 7.4h-7.8zM1509.7 759.1l3.9 7.4h-7.8zM1511.7 762.2l3.9 7.4h-7.8zM1513.8 760.5l3.9 7.4h-7.8zM1515.8 762.7l3.9 7.4h-7.8zM1517.8 761.4l3.9 7.4h-7.8zM1519.9 762.1l3.9 7.4h-7.8zM1521.9 759.1l3.9 7.4h-7.8zM1524 763.6l3.9 7.4h-7.8zM1526 762.8l3.9 7.4h-7.8zM1528 763.7l3.9 7.4h-7.8zM1530.1 761.7l3.9 7.4h-7.8zM1532.1 763.1l3.9 7.4h-7.8zM1534.2 768.2l3.9 7.4h-7.8zM1536.2 761.7l3.9 7.4h-7.8zM1538.2 761.7l3.9 7.4h-7.8zM1540.3 759.8l3.9 7.4h-7.8zM1542.3 763.4l3.9 7.4h-7.8zM1544.4 761.5l3.9 7.4h-7.8zM1546.4 761.4l3.9 7.4h-7.8zM1548.4 762.3l3.9 7.4h-7.8zM1550.5 763.3l3.9 7.4h-7.8zM1552.5 761.8l3.9 7.4h-7.8zM1554.6 765.2l3.9 7.4h-7.8zM1556.6 759.1l3.9 7.4h-7.8zM1558.7 762.3l3.9 7.4h-7.8zM1560.7 756.9l3.9 7.4h-7.8zM1562.7 764.8l3.9 7.4h-7.8zM1564.8 761.3l3.9 7.4h-7.8zM1566.8 761.1l3.9 7.4h-7.8zM1568.9 759.4l3.9 7.4h-7.8zM1570.9 760.7l3.9 7.4h-7.8zM1572.9 764l3.9 7.4h-7.8zM1575 765.1l3.9 7.4h-7.8zM1577 758.6l3.9 7.4h-7.8zM1579.1 761.3l3.9 7.4h-7.8zM1581.1 764.5l3.9 7.4h-7.8zM1583.1 759.8l3.9 7.4h-7.8zM1585.2 762l3.9 7.4h-7.8zM1587.2 763.6l3.9 7.4h-7.8zM1589.3 765l3.9 7.4h-7.8zM1591.3 770.5l3.9 7.4h-7.8zM1593.3 762.8l3.9 7.4h-7.8zM1595.4 761.6l3.9 7.4h-7.8zM1597.4 765.8l3.9 7.4h-7.8zM1599.5 758.4l3.9 7.4h-7.8zM1601.5 762.7l3.9 7.4h-7.8zM1603.6 762.9l3.9 7.4h-7.8zM1605.6 761.5l3.9 7.4h-7.8zM1607.6 766l3.9 7.4h-7.8zM1609.7 766.9l3.9 7.4h-7.8zM1611.7 763.9l3.9 7.4h-7.8zM1613.8 761.2l3.9 7.4h-7.8zM1615.8 761.4l3.9 7.4h-7.8zM1617.8 761.2l3.9 7.4h-7.8zM1619.9 759.8l3.9 7.4h-7.8zM1621.9 763.5l3.9 7.4h-7.8zM1624 762.1l3.9 7.4h-7.8zM1626 760.1l3.9 7.4h-7.8zM1628 760.2l3.9 7.4h-7.8zM1630.1 762.2l3.9 7.4h-7.8zM1632.1 762.3l3.9 7.4h-7.8zM1634.2 763.3l3.9 7.4h-7.8zM1636.2 760l3.9 7.4h-7.8zM1638.2 765.7l3.9 7.4h-7.8zM1640.3 764.7l3.9 7.4h-7.8zM1642.3 761.7l3.9 7.4h-7.8zM1644.4 763.3l3.9 7.4h-7.8zM1646.4 761.5l3.9 7.4h-7.8zM1648.5 760l3.9 7.4h-7.8zM1650.5 759l3.9 7.4h-7.8zM1652.5 765.1l3.9 7.4h-7.8zM1654.6 757.1l3.9 7.4h-7.8zM1656.6 766.5l3.9 7.4h-7.8zM1658.7 760.2l3.9 7.4h-7.8zM1660.7 764.4l3.9 7.4h-7.8zM1662.7 766.1l3.9 7.4h-7.8zM1664.8 763.5l3.9 7.4h-7.8zM1666.8 759l3.9 7.4h-7.8zM1668.9 760.8l3.9 7.4h-7.8zM1670.9 758.3l3.9 7.4h-7.8zM1672.9 765l3.9 7.4h-7.8zM1675 768.6l3.9 7.4h-7.8zM1677 765l3.9 7.4h-7.8zM1679.1 762.2l3.9 7.4h-7.8zM1681.1 761.1l3.9 7.4h-7.8zM1683.1 765.8l3.9 7.4h-7.8zM1685.2 762.4l3.9 7.4h-7.8zM1687.2 762.9l3.9 7.4h-7.8zM1689.3 764.2l3.9 7.4h-7.8zM1691.3 761.1l3.9 7.4h-7.8zM1693.4 760.2l3.9 7.4h-7.8zM1695.4 760.4l3.9 7.4h-7.8zM1697.4 765.4l3.9 7.4h-7.8zM1699.5 762.8l3.9 7.4h-7.8zM1701.5 759.2l3.9 7.4h-7.8zM1703.6 759.5l3.9 7.4h-7.8zM1705.6 762.5l3.9 7.4h-7.8zM1707.6 761.3l3.9 7.4h-7.8zM1709.7 763.3l3.9 7.4h-7.8zM1711.7 766.5l3.9 7.4h-7.8zM1713.8 761.6l3.9 7.4h-7.8zM1715.8 761.1l3.9 7.4h-7.8zM1717.8 763l3.9 7.4h-7.8zM1719.9 761.9l3.9 7.4h-7.8zM1721.9 757.9l3.9 7.4h-7.8zM1724 760.2l3.9 7.4h-7.8zM1726 760.7l3.9 7.4h-7.8zM1728 763.1l3.9 7.4h-7.8zM1730.1 762l3.9 7.4h-7.8zM1732.1 759.1l3.9 7.4h-7.8zM1734.2 762.4l3.9 7.4h-7.8zM1736.2 763.6l3.9 7.4h-7.8zM1738.3 761.4l3.9 7.4h-7.8zM1740.3 762.9l3.9 7.4h-7.8zM1742.3 762.6l3.9 7.4h-7.8zM1744.4 762.9l3.9 7.4h-7.8zM1746.4 763.8l3.9 7.4h-7.8zM1748.5 760.5l3.9 7.4h-7.8zM1750.5 764.1l3.9 7.4h-7.8zM1752.5 761.3l3.9 7.4h-7.8zM1754.6 759.8l3.9 7.4h-7.8zM1756.6 757.6l3.9 7.4h-7.8zM1758.7 760l3.9 7.4h-7.8zM1760.7 760.6l3.9 7.4h-7.8zM1762.7 760.1l3.9 7.4h-7.8zM1764.8 758.1l3.9 7.4h-7.8zM1766.8 758.6l3.9 7.4h-7.8zM1768.9 756.2l3.9 7.4h-7.8zM1770.9 757.7l3.9 7.4h-7.8zM1772.9 756.8l3.9 7.4h-7.8zM1775 758.9l3.9 7.4h-7.8zM1777 758.1l3.9 7.4h-7.8zM1779.1 753.1l3.9 7.4h-7.8zM1781.1 760.2l3.9 7.4h-7.8zM1783.2 759.7l3.9 7.4h-7.8zM1785.2 761.8l3.9 7.4h-7.8zM1787.2 759l3.9 7.4h-7.8zM1789.3 757.9l3.9 7.4h-7.8zM1791.3 762.5l3.9 7.4h-7.8zM1793.4 757.7l3.9 7.4h-7.8zM1795.4 754.3l3.9 7.4h-7.8zM1797.4 752.8l3.9 7.4h-7.8zM1799.5 754.1l3.9 7.4h-7.8zM1801.5 757.6l3.9 7.4h-7.8zM1803.6 759.6l3.9 7.4h-7.8zM1805.6 756.1l3.9 7.4h-7.8zM1807.6 754l3.9 7.4h-7.8zM1809.7 756.9l3.9 7.4h-7.8zM1811.7 758.5l3.9 7.4h-7.8zM1813.8 757.1l3.9 7.4h-7.8zM1815.8 758.1l3.9 7.4h-7.8zM1817.8 756.9l3.9 7.4h-7.8zM1819.9 752.4l3.9 7.4h-7.8zM1821.9 755.5l3.9 7.4h-7.8zM1824 754.7l3.9 7.4h-7.8zM1826 753.6l3.9 7.4h-7.8zM1828.1 756.8l3.9 7.4h-7.8zM1830.1 756.1l3.9 7.4h-7.8zM1832.1 756.3l3.9 7.4h-7.8zM1834.2 752.6l3.9 7.4h-7.8zM1836.2 754.1l3.9 7.4h-7.8zM1838.3 752.6l3.9 7.4h-7.8zM1840.3 755.9l3.9 7.4h-7.8zM1842.3 751.7l3.9 7.4h-7.8zM1844.4 752.6l3.9 7.4h-7.8zM1846.4 751.1l3.9 7.4h-7.8zM1848.5 754.7l3.9 7.4h-7.8zM1850.5 755.3l3.9 7.4h-7.8zM1852.5 755.2l3.9 7.4h-7.8zM1854.6 756.6l3.9 7.4h-7.8zM1856.6 755.7l3.9 7.4h-7.8zM1858.7 754.7l3.9 7.4h-7.8zM1860.7 756.9l3.9 7.4h-7.8zM1862.7 751.3l3.9 7.4h-7.8zM1864.8 755.5l3.9 7.4h-7.8zM1866.8 755.4l3.9 7.4h-7.8zM1868.9 757.8l3.9 7.4h-7.8zM1870.9 749l3.9 7.4h-7.8zM1873 755.8l3.9 7.4h-7.8zM1875 753.7l3.9 7.4h-7.8zM1877 749.6l3.9 7.4h-7.8zM1879.1 751.6l3.9 7.4h-7.8zM1881.1 756l3.9 7.4h-7.8zM1883.2 755.5l3.9 7.4h-7.8zM1885.2 752.3l3.9 7.4h-7.8zM1887.2 751.6l3.9 7.4h-7.8zM1889.3 751.5l3.9 7.4h-7.8zM1891.3 754.7l3.9 7.4h-7.8zM1893.4 755.4l3.9 7.4h-7.8zM1895.4 754.8l3.9 7.4h-7.8zM1897.4 754.9l3.9 7.4h-7.8zM1899.5 755.5l3.9 7.4h-7.8zM1901.5 750.1l3.9 7.4h-7.8zM1903.6 757.2l3.9 7.4h-7.8zM1905.6 756.4l3.9 7.4h-7.8zM1907.6 754.3l3.9 7.4h-7.8zM1909.7 754.6l3.9 7.4h-7.8zM1911.7 758.4l3.9 7.4h-7.8zM1913.8 755.3l3.9 7.4h-7.8zM1915.8 753.3l3.9 7.4h-7.8zM1917.9 757.6l3.9 7.4h-7.8zM1919.9 758.9l3.9 7.4h-7.8zM1921.9 757l3.9 7.4h-7.8zM1924 755.1l3.9 7.4h-7.8zM1926 757.9l3.9 7.4h-7.8zM1928.1 754.9l3.9 7.4h-7.8zM1930.1 759l3.9 7.4h-7.8zM1932.1 757.9l3.9 7.4h-7.8zM1934.2 756.8l3.9 7.4h-7.8zM1936.2 759.4l3.9 7.4h-7.8zM1938.3 761.5l3.9 7.4h-7.8zM1940.3 760.5l3.9 7.4h-7.8zM1942.3 754.3l3.9 7.4h-7.8zM1944.4 761.7l3.9 7.4h-7.8zM1946.4 760.1l3.9 7.4h-7.8zM1948.5 760.7l3.9 7.4h-7.8zM1950.5 758.4l3.9 7.4h-7.8zM1952.5 764.3l3.9 7.4h-7.8zM1954.6 767.4l3.9 7.4h-7.8zM1956.6 768.8l3.9 7.4h-7.8zM1958.7 767.1l3.9 7.4h-7.8zM1960.7 772.2l3.9 7.4h-7.8zM1962.8 769.2l3.9 7.4h-7.8zM1964.8 770.1l3.9 7.4h-7.8zM1966.8 771l3.9 7.4h-7.8zM1968.9 771.2l3.9 7.4h-7.8zM1970.9 776.7l3.9 7.4h-7.8zM1973 773.1l3.9 7.4h-7.8zM1975 777l3.9 7.4h-7.8zM1977 777.8l3.9 7.4h-7.8zM1979.1 778.7l3.9 7.4h-7.8zM1981.1 782.9l3.9 7.4h-7.8z"/><path stroke="#F6921E" stroke-width="6.6" stroke-linecap="round" fill="none" d="M1556 491h0"/><text x="1597.6" y="499.1" font-size="24.7">P2</text><path fill="#3F56A6" d="M1556 535.4l3.3 6.2h-6.6z"/><text x="1591" y="546.9" font-size="24.6">TEM Protein + P2</text><text transform="translate(1344.9 474.3) scale(0.95 1)" font-size="50.4" font-weight="bold" fill="#231F20">G</text>
</g>
</svg>
</body>
</html>
